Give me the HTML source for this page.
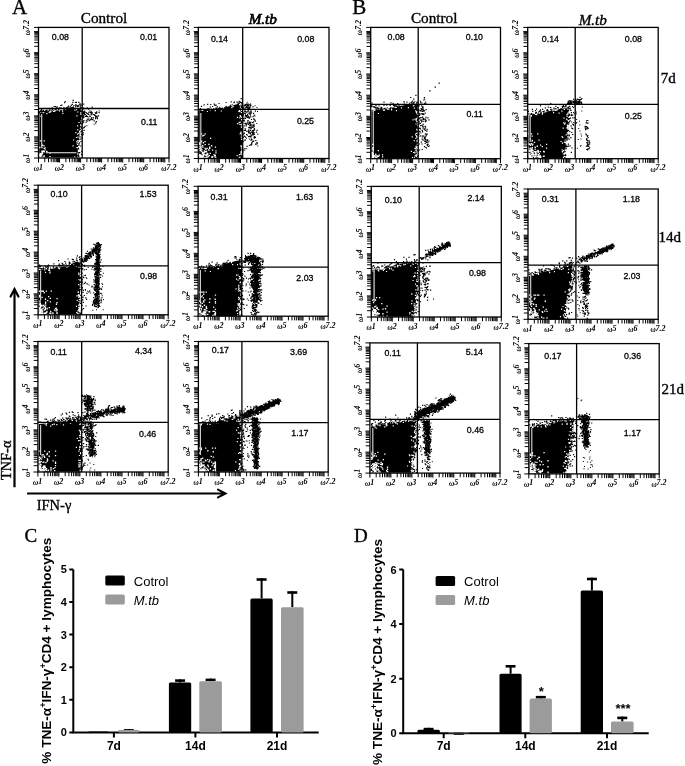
<!DOCTYPE html>
<html><head><meta charset="utf-8"><style>
html,body{margin:0;padding:0;background:#fff;}
svg{display:block;filter:grayscale(1) blur(0.3px);}
.tl{font-family:"Liberation Serif",serif;font-size:7.2px;font-style:italic;font-weight:bold;fill:#000;}
.sup{font-size:8px;font-style:italic;font-weight:bold;}
.qn{font-family:"Liberation Sans",sans-serif;font-size:8.8px;fill:#000;stroke:#000;stroke-width:0.3px;}
.ser{font-family:"Liberation Serif",serif;fill:#000;stroke:#000;stroke-width:0.35px;}
.sb{font-family:"Liberation Sans",sans-serif;font-weight:bold;fill:#000;}
.sn{font-family:"Liberation Sans",sans-serif;fill:#000;}
</style></head><body>
<svg width="685" height="766" viewBox="0 0 685 766">

<polygon points="39.5,113 50,111.5 60,110 70,107.5 78,105 81.5,104 81.8,104 81.8,125 79.5,135 78,145 77.5,157.5 39.2,157.5" fill="#000"/>
<path d="M52.6 110.1h1.2v1.2h-1.2zM66.4 107.5h1.2v1.2h-1.2zM61.5 107.9h1.2v1.2h-1.2zM41.2 110.6h1.2v1.2h-1.2zM40.3 111h1.2v1.2h-1.2zM41.9 111.8h1.2v1.2h-1.2zM56.5 106.3h1.2v1.2h-1.2zM44.1 111.1h1.2v1.2h-1.2zM64.1 102.1h1.2v1.2h-1.2zM63.2 107.4h1.2v1.2h-1.2zM79.9 103.6h1.2v1.2h-1.2zM74.9 104.5h1.2v1.2h-1.2zM45 111.3h1.2v1.2h-1.2zM51.5 107.2h1.2v1.2h-1.2zM46.4 109.6h1.2v1.2h-1.2zM65.8 106.9h1.2v1.2h-1.2zM62.1 108.6h1.2v1.2h-1.2zM41.4 111.6h1.2v1.2h-1.2zM67.4 106.2h1.2v1.2h-1.2zM52 108.7h1.2v1.2h-1.2zM58.1 108.9h1.2v1.2h-1.2zM71.7 103.7h1.2v1.2h-1.2zM49.1 109.2h1.2v1.2h-1.2zM60.2 104.9h1.2v1.2h-1.2zM69.6 106.1h1.2v1.2h-1.2zM80 103.4h1.2v1.2h-1.2zM56.3 107h1.2v1.2h-1.2zM45.2 110.1h1.2v1.2h-1.2zM40.3 110h1.2v1.2h-1.2zM70.7 104.7h1.2v1.2h-1.2zM75.5 104.2h1.2v1.2h-1.2zM67.9 105.4h1.2v1.2h-1.2zM63.2 107.2h1.2v1.2h-1.2zM72.6 99.8h1.2v1.2h-1.2zM58.8 107.3h1.2v1.2h-1.2zM41.1 109.6h1.2v1.2h-1.2zM64.6 100.9h1.2v1.2h-1.2zM73.4 105h1.2v1.2h-1.2zM55 107.8h1.2v1.2h-1.2zM39.7 111h1.2v1.2h-1.2zM46 111.1h1.2v1.2h-1.2zM41 109.1h1.2v1.2h-1.2zM44.3 111h1.2v1.2h-1.2zM54.9 105.9h1.2v1.2h-1.2zM42.2 110.7h1.2v1.2h-1.2zM61.2 104.5h1.2v1.2h-1.2zM72.3 101.8h1.2v1.2h-1.2zM50.6 109.6h1.2v1.2h-1.2zM53.5 105.9h1.2v1.2h-1.2zM79.1 103.6h1.2v1.2h-1.2zM46.3 110.8h1.2v1.2h-1.2zM48.7 109.7h1.2v1.2h-1.2zM63.8 107.7h1.2v1.2h-1.2zM38.9 111.3h1.2v1.2h-1.2zM54.4 108.5h1.2v1.2h-1.2zM78.3 101.7h1.2v1.2h-1.2zM60.4 107.2h1.2v1.2h-1.2zM67.5 107.3h1.2v1.2h-1.2zM75.8 101.7h1.2v1.2h-1.2zM74.8 101.9h1.2v1.2h-1.2zM55.5 109h1.2v1.2h-1.2zM43 109.8h1.2v1.2h-1.2zM41.5 111.9h1.2v1.2h-1.2zM47.7 110.8h1.2v1.2h-1.2zM53.4 110.2h1.2v1.2h-1.2zM38.9 112.1h1.2v1.2h-1.2zM43.1 110.9h1.2v1.2h-1.2zM39.4 108.1h1.2v1.2h-1.2z" fill="#000"/>
<path d="M65 108.2h1.2v1.2h-1.2zM49.7 111.4h1.2v1.2h-1.2zM54.4 110.3h1.2v1.2h-1.2zM75.9 109.1h1.2v1.2h-1.2zM58.9 110.3h1.2v1.2h-1.2zM42.6 112h1.2v1.2h-1.2zM53.6 110.7h1.2v1.2h-1.2zM73.9 105.7h1.2v1.2h-1.2zM40.4 115.8h1.2v1.2h-1.2zM61.4 109.1h1.2v1.2h-1.2zM62 108.8h1.2v1.2h-1.2zM62.3 112.8h1.2v1.2h-1.2zM75.7 106.4h1.2v1.2h-1.2zM50.1 111.3h1.2v1.2h-1.2zM46.3 113.1h1.2v1.2h-1.2zM62 110.6h1.2v1.2h-1.2zM53 110.7h1.2v1.2h-1.2zM74.3 109.6h1.2v1.2h-1.2zM75.4 107.1h1.2v1.2h-1.2zM73.9 107.2h1.2v1.2h-1.2zM48.7 111.9h1.2v1.2h-1.2z" fill="#fff"/>
<path d="M81.2 122.6h1.2v1.2h-1.2zM81.6 104.9h1.2v1.2h-1.2zM82.6 117.4h1.2v1.2h-1.2zM77.7 154.6h1.2v1.2h-1.2zM81 153.7h1.2v1.2h-1.2zM77.5 154.5h1.2v1.2h-1.2zM81.5 115.3h1.2v1.2h-1.2zM81.5 114h1.2v1.2h-1.2zM81.3 137.1h1.2v1.2h-1.2zM78 148.3h1.2v1.2h-1.2zM80.2 138.6h1.2v1.2h-1.2zM82.5 108h1.2v1.2h-1.2zM78.9 152.1h1.2v1.2h-1.2zM78.3 143.6h1.2v1.2h-1.2zM83.1 113h1.2v1.2h-1.2zM83.1 121.3h1.2v1.2h-1.2zM77.6 155.4h1.2v1.2h-1.2zM84.5 125.8h1.2v1.2h-1.2zM78 142.1h1.2v1.2h-1.2zM81.4 110.2h1.2v1.2h-1.2zM79.1 151.9h1.2v1.2h-1.2zM83.3 111.3h1.2v1.2h-1.2zM78.2 155.9h1.2v1.2h-1.2zM82.2 122.3h1.2v1.2h-1.2zM81.2 110.5h1.2v1.2h-1.2zM78.2 155.4h1.2v1.2h-1.2zM82.7 132.3h1.2v1.2h-1.2zM83.1 127.3h1.2v1.2h-1.2zM77.6 147.6h1.2v1.2h-1.2zM81.6 117h1.2v1.2h-1.2zM82.3 116.4h1.2v1.2h-1.2zM81.9 117.4h1.2v1.2h-1.2zM84.1 110.5h1.2v1.2h-1.2zM81.9 122.5h1.2v1.2h-1.2zM81.7 135h1.2v1.2h-1.2zM83.7 126.7h1.2v1.2h-1.2zM80.7 130.5h1.2v1.2h-1.2zM79.6 131.4h1.2v1.2h-1.2zM80.8 127.1h1.2v1.2h-1.2zM83.1 103.6h1.2v1.2h-1.2zM82 112.7h1.2v1.2h-1.2zM78.7 142.3h1.2v1.2h-1.2zM82.1 121h1.2v1.2h-1.2zM81 133.5h1.2v1.2h-1.2zM82.2 109.1h1.2v1.2h-1.2zM81.6 116.8h1.2v1.2h-1.2zM78.2 144.7h1.2v1.2h-1.2zM80.8 133.8h1.2v1.2h-1.2zM77.8 152.2h1.2v1.2h-1.2zM79.5 136.2h1.2v1.2h-1.2zM81.1 131.1h1.2v1.2h-1.2zM81.3 127.9h1.2v1.2h-1.2zM83.5 129.8h1.2v1.2h-1.2zM80.4 141.1h1.2v1.2h-1.2zM77.4 153.8h1.2v1.2h-1.2zM82.5 134.1h1.2v1.2h-1.2zM77.4 148.3h1.2v1.2h-1.2zM81.9 110h1.2v1.2h-1.2zM81.5 107.3h1.2v1.2h-1.2zM82.5 107.3h1.2v1.2h-1.2zM80.1 145.4h1.2v1.2h-1.2zM82.7 111.7h1.2v1.2h-1.2zM78.4 138.7h1.2v1.2h-1.2zM81.1 150.8h1.2v1.2h-1.2z" fill="#000"/>
<path d="M76.3 115.2h1.2v1.2h-1.2zM80.1 124.6h1.2v1.2h-1.2zM74.1 156.2h1.2v1.2h-1.2zM80.3 112.1h1.2v1.2h-1.2zM79 130.9h1.2v1.2h-1.2zM80.6 113.9h1.2v1.2h-1.2zM77.7 142h1.2v1.2h-1.2zM78.3 132.8h1.2v1.2h-1.2zM80.6 104.4h1.2v1.2h-1.2zM77.4 136.6h1.2v1.2h-1.2zM76.2 106.9h1.2v1.2h-1.2zM72.4 145.3h1.2v1.2h-1.2zM80.7 109h1.2v1.2h-1.2zM78.8 105.5h1.2v1.2h-1.2zM81 118h1.2v1.2h-1.2zM77 125.2h1.2v1.2h-1.2zM76.8 147.1h1.2v1.2h-1.2zM77.2 111.4h1.2v1.2h-1.2zM77.1 133.5h1.2v1.2h-1.2zM81.1 108.2h1.2v1.2h-1.2zM77.2 140h1.2v1.2h-1.2zM76.7 107.3h1.2v1.2h-1.2zM75.9 136.9h1.2v1.2h-1.2zM78.1 107.9h1.2v1.2h-1.2zM78 107h1.2v1.2h-1.2zM79.8 127.6h1.2v1.2h-1.2zM75.2 132h1.2v1.2h-1.2zM81 117.8h1.2v1.2h-1.2zM79.1 131.5h1.2v1.2h-1.2zM80.9 109.3h1.2v1.2h-1.2zM80.8 106.1h1.2v1.2h-1.2zM80.6 120.2h1.2v1.2h-1.2zM76.9 143.9h1.2v1.2h-1.2zM79.6 130.1h1.2v1.2h-1.2zM81.2 122.1h1.2v1.2h-1.2zM81.2 116.9h1.2v1.2h-1.2zM76.4 142.4h1.2v1.2h-1.2zM80.2 113.6h1.2v1.2h-1.2zM76.9 153.4h1.2v1.2h-1.2zM76.4 147.1h1.2v1.2h-1.2zM77.1 129.3h1.2v1.2h-1.2zM80.1 124.3h1.2v1.2h-1.2zM73.1 139.4h1.2v1.2h-1.2zM78.3 121.9h1.2v1.2h-1.2zM76.3 140.9h1.2v1.2h-1.2zM80.4 125h1.2v1.2h-1.2zM81 106.3h1.2v1.2h-1.2zM79 107.2h1.2v1.2h-1.2z" fill="#fff"/>
<path d="M39.9 155.9h1.3v1.3h-1.3zM39.2 146.7h1.3v1.3h-1.3zM46 150.7h1.3v1.3h-1.3zM40 155.3h1.3v1.3h-1.3zM40.1 153.5h1.3v1.3h-1.3zM39.4 153.6h1.3v1.3h-1.3zM39.9 140.3h1.3v1.3h-1.3zM49.4 152.5h1.3v1.3h-1.3zM39.8 140.3h1.3v1.3h-1.3zM40.1 154.4h1.3v1.3h-1.3zM38.9 154.2h1.3v1.3h-1.3zM41.1 153h1.3v1.3h-1.3zM39.6 153h1.3v1.3h-1.3zM38.9 155.2h1.3v1.3h-1.3zM39.2 154h1.3v1.3h-1.3zM39 156.7h1.3v1.3h-1.3zM40.1 155.4h1.3v1.3h-1.3zM41.9 152.7h1.3v1.3h-1.3zM43.7 151h1.3v1.3h-1.3zM43.3 145.2h1.3v1.3h-1.3zM40.6 154.7h1.3v1.3h-1.3zM49.4 156h1.3v1.3h-1.3zM43.4 151.2h1.3v1.3h-1.3zM39 146.9h1.3v1.3h-1.3zM46.6 151.4h1.3v1.3h-1.3zM43.5 147.7h1.3v1.3h-1.3zM39.4 152.8h1.3v1.3h-1.3zM41.3 146.9h1.3v1.3h-1.3zM44.6 147.2h1.3v1.3h-1.3zM41.9 144.6h1.3v1.3h-1.3zM42.9 150.3h1.3v1.3h-1.3zM39.8 156.7h1.3v1.3h-1.3zM39.3 154.4h1.3v1.3h-1.3zM39.2 146.9h1.3v1.3h-1.3zM41.7 151.4h1.3v1.3h-1.3zM42.3 150.6h1.3v1.3h-1.3zM41.2 156.8h1.3v1.3h-1.3zM44.4 149.3h1.3v1.3h-1.3zM41.3 152.6h1.3v1.3h-1.3zM42.6 156.5h1.3v1.3h-1.3zM43.5 155.3h1.3v1.3h-1.3zM39.1 155.2h1.3v1.3h-1.3zM43.4 155.6h1.3v1.3h-1.3zM43.6 140.3h1.3v1.3h-1.3zM41.2 154.2h1.3v1.3h-1.3zM41.1 150.5h1.3v1.3h-1.3z" fill="#fff"/>
<path d="M41.7 114V147" stroke="#ccc" stroke-width="1.2"/>
<path d="M45.8 152.7H76.4" stroke="#ccc" stroke-width="1.2"/>
<path d="M95.1 112.7h1.2v1.2h-1.2zM84.7 113.9h1.2v1.2h-1.2zM95 115.3h1.2v1.2h-1.2zM83.4 114.2h1.2v1.2h-1.2zM92.8 113.9h1.2v1.2h-1.2zM89.3 110.4h1.2v1.2h-1.2zM88.6 120.1h1.2v1.2h-1.2zM83.3 119.9h1.2v1.2h-1.2zM86.7 107.3h1.2v1.2h-1.2zM98 115.2h1.2v1.2h-1.2zM85.7 115.1h1.2v1.2h-1.2zM90.9 118.2h1.2v1.2h-1.2zM95.1 122.5h1.2v1.2h-1.2zM88.3 118.6h1.2v1.2h-1.2zM85.4 115.9h1.2v1.2h-1.2zM82.9 115.3h1.2v1.2h-1.2zM90.4 114.3h1.2v1.2h-1.2zM90.5 112.2h1.2v1.2h-1.2zM83 111.6h1.2v1.2h-1.2zM83.3 116.5h1.2v1.2h-1.2zM96.6 116.8h1.2v1.2h-1.2zM87.2 118.5h1.2v1.2h-1.2zM89.9 112.1h1.2v1.2h-1.2zM83.3 116.8h1.2v1.2h-1.2zM86.6 115.7h1.2v1.2h-1.2zM88.3 111.7h1.2v1.2h-1.2zM85.7 120.2h1.2v1.2h-1.2zM96.1 111.3h1.2v1.2h-1.2zM98.5 112.1h1.2v1.2h-1.2zM84.2 111.7h1.2v1.2h-1.2zM94.2 114.6h1.2v1.2h-1.2zM83.9 113.5h1.2v1.2h-1.2zM91.2 113.5h1.2v1.2h-1.2zM92.3 119h1.2v1.2h-1.2zM93.8 114.9h1.2v1.2h-1.2zM89 115.4h1.2v1.2h-1.2zM85 115.9h1.2v1.2h-1.2zM82.1 121h1.2v1.2h-1.2zM89.5 116.1h1.2v1.2h-1.2zM85.7 112h1.2v1.2h-1.2zM87.9 113.6h1.2v1.2h-1.2zM95 117.1h1.2v1.2h-1.2zM90.7 111.5h1.2v1.2h-1.2zM87.5 116.4h1.2v1.2h-1.2zM95.7 121h1.2v1.2h-1.2zM91.2 117.1h1.2v1.2h-1.2zM88.1 113.9h1.2v1.2h-1.2zM86.8 120.4h1.2v1.2h-1.2zM95 118.1h1.2v1.2h-1.2zM91.5 119.1h1.2v1.2h-1.2zM90.1 118.8h1.2v1.2h-1.2zM93.6 120.3h1.2v1.2h-1.2zM96.9 118h1.2v1.2h-1.2zM87.9 108.6h1.2v1.2h-1.2zM95.9 116.4h1.2v1.2h-1.2zM96.1 112.5h1.2v1.2h-1.2zM83.9 112.5h1.2v1.2h-1.2zM96.4 115.5h1.2v1.2h-1.2zM86.5 113.1h1.2v1.2h-1.2zM92.8 117.2h1.2v1.2h-1.2zM91.8 112.3h1.2v1.2h-1.2zM87 113h1.2v1.2h-1.2zM91.6 106.6h1.2v1.2h-1.2z" fill="#000"/>
<path d="M93.6 123.7h1v1h-1zM90.6 110.7h1v1h-1zM86.4 125.2h1v1h-1zM94.7 112.1h1v1h-1zM82.4 116h1v1h-1zM94.1 114.4h1v1h-1zM86.6 119.3h1v1h-1zM98.7 110.5h1v1h-1zM82.6 112.8h1v1h-1zM89.6 119.7h1v1h-1zM85.6 121.9h1v1h-1zM95.3 116.1h1v1h-1z" fill="#000"/>
<rect x="38.5" y="27.4" width="130.5" height="130.6" fill="none" stroke="#000" stroke-width="1.3"/>
<path d="M82.2 27.4V158M38.5 108.5H169" stroke="#000" stroke-width="1.3" fill="none"/>
<path d="M38.5 158v4.5M38.5 158h-4.5M44.8 158v4.2M38.5 151.7h-4.2M48.5 158v4.2M38.5 147.9h-4.2M51.2 158v4.2M38.5 145.3h-4.2M53.2 158v4.2M38.5 143.3h-4.2M54.9 158v4.2M38.5 141.6h-4.2M56.3 158v4.2M38.5 140.2h-4.2M57.5 158v4.2M38.5 139h-4.2M58.6 158v4.2M38.5 137.9h-4.2M59.5 158v4.5M38.5 136.9h-4.5M65.9 158v4.2M38.5 130.6h-4.2M69.6 158v4.2M38.5 126.9h-4.2M72.2 158v4.2M38.5 124.3h-4.2M74.3 158v4.2M38.5 122.2h-4.2M75.9 158v4.2M38.5 120.5h-4.2M77.3 158v4.2M38.5 119.1h-4.2M78.6 158v4.2M38.5 117.9h-4.2M79.6 158v4.2M38.5 116.8h-4.2M80.6 158v4.5M38.5 115.9h-4.5M86.9 158v4.2M38.5 109.5h-4.2M90.6 158v4.2M38.5 105.8h-4.2M93.3 158v4.2M38.5 103.2h-4.2M95.3 158v4.2M38.5 101.1h-4.2M97 158v4.2M38.5 99.5h-4.2M98.4 158v4.2M38.5 98.1h-4.2M99.6 158v4.2M38.5 96.8h-4.2M100.7 158v4.2M38.5 95.8h-4.2M101.6 158v4.5M38.5 94.8h-4.5M108 158v4.2M38.5 88.5h-4.2M111.7 158v4.2M38.5 84.8h-4.2M114.3 158v4.2M38.5 82.1h-4.2M116.4 158v4.2M38.5 80.1h-4.2M118 158v4.2M38.5 78.4h-4.2M119.4 158v4.2M38.5 77h-4.2M120.7 158v4.2M38.5 75.8h-4.2M121.7 158v4.2M38.5 74.7h-4.2M122.7 158v4.5M38.5 73.7h-4.5M129 158v4.2M38.5 67.4h-4.2M132.7 158v4.2M38.5 63.7h-4.2M135.4 158v4.2M38.5 61.1h-4.2M137.4 158v4.2M38.5 59h-4.2M139.1 158v4.2M38.5 57.4h-4.2M140.5 158v4.2M38.5 55.9h-4.2M141.7 158v4.2M38.5 54.7h-4.2M142.8 158v4.2M38.5 53.6h-4.2M143.7 158v4.5M38.5 52.7h-4.5M150.1 158v4.2M38.5 46.3h-4.2M153.8 158v4.2M38.5 42.6h-4.2M156.4 158v4.2M38.5 40h-4.2M158.5 158v4.2M38.5 38h-4.2M160.1 158v4.2M38.5 36.3h-4.2M161.5 158v4.2M38.5 34.9h-4.2M162.8 158v4.2M38.5 33.7h-4.2M163.8 158v4.2M38.5 32.6h-4.2M164.8 158v4.5M38.5 31.6h-4.5M169 158v4.5M38.5 27.4h-4.5" stroke="#000" stroke-width="1" fill="none"/>
<text x="38.3" y="171" class="tl" text-anchor="middle">ω<tspan class="sup" dy="-1.5">1</tspan></text><text transform="translate(30.2 158.3) rotate(-90)" class="tl" text-anchor="middle">ω<tspan class="sup" dy="-1.5">1</tspan></text><text x="59.3" y="171" class="tl" text-anchor="middle">ω<tspan class="sup" dy="-1.5">2</tspan></text><text transform="translate(30.2 137.2) rotate(-90)" class="tl" text-anchor="middle">ω<tspan class="sup" dy="-1.5">2</tspan></text><text x="80.4" y="171" class="tl" text-anchor="middle">ω<tspan class="sup" dy="-1.5">3</tspan></text><text transform="translate(30.2 116.2) rotate(-90)" class="tl" text-anchor="middle">ω<tspan class="sup" dy="-1.5">3</tspan></text><text x="101.4" y="171" class="tl" text-anchor="middle">ω<tspan class="sup" dy="-1.5">4</tspan></text><text transform="translate(30.2 95.1) rotate(-90)" class="tl" text-anchor="middle">ω<tspan class="sup" dy="-1.5">4</tspan></text><text x="122.5" y="171" class="tl" text-anchor="middle">ω<tspan class="sup" dy="-1.5">5</tspan></text><text transform="translate(30.2 74) rotate(-90)" class="tl" text-anchor="middle">ω<tspan class="sup" dy="-1.5">5</tspan></text><text x="143.5" y="171" class="tl" text-anchor="middle">ω<tspan class="sup" dy="-1.5">6</tspan></text><text transform="translate(30.2 53) rotate(-90)" class="tl" text-anchor="middle">ω<tspan class="sup" dy="-1.5">6</tspan></text><text x="168.8" y="171" class="tl" text-anchor="middle">ω<tspan class="sup" dy="-1.5">7.2</tspan></text><text transform="translate(30.2 27.7) rotate(-90)" class="tl" text-anchor="middle">ω<tspan class="sup" dy="-1.5">7.2</tspan></text>
<text x="51.8" y="40.3" class="qn">0.08</text>
<text x="140.1" y="40.3" class="qn">0.01</text>
<text x="141" y="124.8" class="qn">0.11</text>
<polygon points="199.2,110.5 208,109.5 218,108.5 228,106.5 236,104.5 242.5,102.5 242.5,102.5 242.5,140 241.5,150 241,158.3 199.2,158.3" fill="#000"/>
<path d="M207.1 103.7h1.2v1.2h-1.2zM212 105.9h1.2v1.2h-1.2zM208.7 108.4h1.2v1.2h-1.2zM231.6 104.3h1.2v1.2h-1.2zM239.6 101.5h1.2v1.2h-1.2zM206.8 108.6h1.2v1.2h-1.2zM216.7 106.3h1.2v1.2h-1.2zM239.7 102.3h1.2v1.2h-1.2zM215.8 107.7h1.2v1.2h-1.2zM240.7 102h1.2v1.2h-1.2zM200.9 109.5h1.2v1.2h-1.2zM215.5 104.6h1.2v1.2h-1.2zM236.4 101.5h1.2v1.2h-1.2zM240.6 98.1h1.2v1.2h-1.2zM213 108h1.2v1.2h-1.2zM238.6 100.8h1.2v1.2h-1.2zM199.8 108.1h1.2v1.2h-1.2zM215.2 107.4h1.2v1.2h-1.2zM213.1 108h1.2v1.2h-1.2zM198.7 109.4h1.2v1.2h-1.2zM213.6 103.6h1.2v1.2h-1.2zM203.5 104.3h1.2v1.2h-1.2zM207.6 108.2h1.2v1.2h-1.2zM233.7 101.6h1.2v1.2h-1.2zM217.6 107.8h1.2v1.2h-1.2zM219.2 106.8h1.2v1.2h-1.2zM238.4 102.6h1.2v1.2h-1.2zM214.3 104.8h1.2v1.2h-1.2zM199.8 109h1.2v1.2h-1.2zM233.4 102.1h1.2v1.2h-1.2zM200.4 109.6h1.2v1.2h-1.2zM200.9 105.8h1.2v1.2h-1.2zM209.7 106.6h1.2v1.2h-1.2zM237.4 102.6h1.2v1.2h-1.2zM210.1 103.9h1.2v1.2h-1.2zM225.5 105.8h1.2v1.2h-1.2zM229.7 104.7h1.2v1.2h-1.2zM210.7 108.6h1.2v1.2h-1.2zM230.6 101.3h1.2v1.2h-1.2zM225.5 101.9h1.2v1.2h-1.2zM199.6 109.4h1.2v1.2h-1.2zM218.5 102.9h1.2v1.2h-1.2z" fill="#000"/>
<path d="M240.1 103.1h1.2v1.2h-1.2zM209.7 109.3h1.2v1.2h-1.2zM220.8 110.4h1.2v1.2h-1.2zM206.8 110.9h1.2v1.2h-1.2zM231.3 107.1h1.2v1.2h-1.2zM232.5 105.8h1.2v1.2h-1.2zM213 108.8h1.2v1.2h-1.2zM214.7 110h1.2v1.2h-1.2zM202.1 109.8h1.2v1.2h-1.2zM231.5 105.2h1.2v1.2h-1.2zM201.4 109.6h1.2v1.2h-1.2zM222.9 107.3h1.2v1.2h-1.2zM241.8 104.6h1.2v1.2h-1.2z" fill="#fff"/>
<path d="M241 157.1h1.2v1.2h-1.2zM242.1 106.6h1.2v1.2h-1.2zM244.1 129.7h1.2v1.2h-1.2zM242.4 126.9h1.2v1.2h-1.2zM243.6 125.2h1.2v1.2h-1.2zM244.4 139.8h1.2v1.2h-1.2zM242.9 149.4h1.2v1.2h-1.2zM245.2 108.7h1.2v1.2h-1.2zM243.4 118.3h1.2v1.2h-1.2zM244.3 122.7h1.2v1.2h-1.2zM242.4 113h1.2v1.2h-1.2zM242.2 115.6h1.2v1.2h-1.2zM242.3 151.3h1.2v1.2h-1.2zM242.8 120.1h1.2v1.2h-1.2zM241.7 157.4h1.2v1.2h-1.2zM244.9 114.8h1.2v1.2h-1.2zM248.9 138.4h1.2v1.2h-1.2zM243.1 107.6h1.2v1.2h-1.2zM244.4 147.9h1.2v1.2h-1.2zM240.8 152.9h1.2v1.2h-1.2zM242.1 118.3h1.2v1.2h-1.2zM248.4 112.5h1.2v1.2h-1.2zM246.7 134.5h1.2v1.2h-1.2zM245.5 122.7h1.2v1.2h-1.2zM242.4 127h1.2v1.2h-1.2zM246.5 145.8h1.2v1.2h-1.2zM243.5 107.8h1.2v1.2h-1.2zM242.3 136.5h1.2v1.2h-1.2zM242.2 122.5h1.2v1.2h-1.2zM242.4 113.3h1.2v1.2h-1.2zM243.8 135.4h1.2v1.2h-1.2zM241.9 113.3h1.2v1.2h-1.2zM243.9 120.2h1.2v1.2h-1.2zM242.6 112.2h1.2v1.2h-1.2zM244.8 113.3h1.2v1.2h-1.2zM242 132.5h1.2v1.2h-1.2zM242.8 107.6h1.2v1.2h-1.2zM243.7 132.6h1.2v1.2h-1.2zM242.2 107h1.2v1.2h-1.2zM242.7 140.8h1.2v1.2h-1.2zM242.6 117.7h1.2v1.2h-1.2zM241.2 155.1h1.2v1.2h-1.2zM242.7 133.5h1.2v1.2h-1.2zM245.5 125.2h1.2v1.2h-1.2zM241.2 157.6h1.2v1.2h-1.2zM244.2 112.9h1.2v1.2h-1.2zM241.9 113.3h1.2v1.2h-1.2zM241.7 152.3h1.2v1.2h-1.2zM242 147.8h1.2v1.2h-1.2zM241.9 151.2h1.2v1.2h-1.2zM241.9 111h1.2v1.2h-1.2zM243.7 132.7h1.2v1.2h-1.2zM240.9 152.7h1.2v1.2h-1.2zM242.7 136.7h1.2v1.2h-1.2zM242.2 130.1h1.2v1.2h-1.2zM243.2 117.7h1.2v1.2h-1.2zM240.9 153.6h1.2v1.2h-1.2zM244.8 129.3h1.2v1.2h-1.2zM240.9 155.9h1.2v1.2h-1.2zM247.1 109h1.2v1.2h-1.2zM241.7 156.4h1.2v1.2h-1.2zM246.6 104.9h1.2v1.2h-1.2zM246.1 123.6h1.2v1.2h-1.2zM245 136.6h1.2v1.2h-1.2zM244.7 110.9h1.2v1.2h-1.2zM242.8 114.3h1.2v1.2h-1.2zM244.1 149.4h1.2v1.2h-1.2z" fill="#000"/>
<path d="M241.5 112.1h1.2v1.2h-1.2zM240.7 124.2h1.2v1.2h-1.2zM241.7 123.3h1.2v1.2h-1.2zM239.8 115.7h1.2v1.2h-1.2zM240.7 152h1.2v1.2h-1.2zM239.6 133.3h1.2v1.2h-1.2zM239 104h1.2v1.2h-1.2zM240.4 108.5h1.2v1.2h-1.2zM240.3 132.6h1.2v1.2h-1.2zM241 119h1.2v1.2h-1.2zM241 134.4h1.2v1.2h-1.2zM241 138.7h1.2v1.2h-1.2zM241.9 126.4h1.2v1.2h-1.2zM240.8 136.5h1.2v1.2h-1.2zM239.6 115h1.2v1.2h-1.2zM240.3 145.3h1.2v1.2h-1.2zM240.9 111.9h1.2v1.2h-1.2zM241.7 107.9h1.2v1.2h-1.2zM241.7 126h1.2v1.2h-1.2zM240.8 126.6h1.2v1.2h-1.2zM240.3 104.2h1.2v1.2h-1.2zM239.8 106.5h1.2v1.2h-1.2zM240.2 145.2h1.2v1.2h-1.2zM240.8 104.9h1.2v1.2h-1.2zM237.1 123h1.2v1.2h-1.2zM238.8 109.5h1.2v1.2h-1.2zM238.3 157.4h1.2v1.2h-1.2zM240.8 147.4h1.2v1.2h-1.2zM239.4 156.6h1.2v1.2h-1.2zM236.6 155h1.2v1.2h-1.2zM239.4 111.1h1.2v1.2h-1.2zM240.5 153.8h1.2v1.2h-1.2zM239.6 121.5h1.2v1.2h-1.2zM238.3 110.8h1.2v1.2h-1.2zM239.2 117.3h1.2v1.2h-1.2zM240.8 109.9h1.2v1.2h-1.2zM240.3 153.2h1.2v1.2h-1.2zM240.8 116.6h1.2v1.2h-1.2zM241.8 119.7h1.2v1.2h-1.2zM241.6 112.1h1.2v1.2h-1.2zM238.8 154h1.2v1.2h-1.2zM240.5 151.9h1.2v1.2h-1.2zM241.1 145.7h1.2v1.2h-1.2zM240.3 131.5h1.2v1.2h-1.2zM238.6 122h1.2v1.2h-1.2zM240.5 132.9h1.2v1.2h-1.2zM240.6 151.1h1.2v1.2h-1.2zM238.8 157.2h1.2v1.2h-1.2zM239.3 123.9h1.2v1.2h-1.2zM236.9 116.7h1.2v1.2h-1.2z" fill="#fff"/>
<path d="M203.6 153.8h1.3v1.3h-1.3zM206.8 152.7h1.3v1.3h-1.3zM199.9 146.5h1.3v1.3h-1.3zM199.1 143.6h1.3v1.3h-1.3zM200.5 149.2h1.3v1.3h-1.3zM215.3 150.3h1.3v1.3h-1.3zM204.8 154.4h1.3v1.3h-1.3zM198.9 157.1h1.3v1.3h-1.3zM199.7 149.7h1.3v1.3h-1.3zM202 151.6h1.3v1.3h-1.3zM211.3 156.2h1.3v1.3h-1.3zM200.3 148.9h1.3v1.3h-1.3zM199 157.3h1.3v1.3h-1.3zM201.3 156.5h1.3v1.3h-1.3zM201.3 155.3h1.3v1.3h-1.3zM203.7 150.2h1.3v1.3h-1.3zM200.1 149.5h1.3v1.3h-1.3zM202.4 156.2h1.3v1.3h-1.3zM214 155.1h1.3v1.3h-1.3zM199.7 156.5h1.3v1.3h-1.3zM204.4 140.9h1.3v1.3h-1.3zM207.2 153.2h1.3v1.3h-1.3zM200.5 157.3h1.3v1.3h-1.3zM204.5 150.7h1.3v1.3h-1.3zM201.2 149.1h1.3v1.3h-1.3zM202.1 135.2h1.3v1.3h-1.3zM206.1 155.1h1.3v1.3h-1.3zM211.7 157h1.3v1.3h-1.3zM203 153.2h1.3v1.3h-1.3zM200.3 156.9h1.3v1.3h-1.3zM207.1 157.3h1.3v1.3h-1.3zM203.3 134.7h1.3v1.3h-1.3zM199.7 155.6h1.3v1.3h-1.3zM204 151.7h1.3v1.3h-1.3zM204.5 143.9h1.3v1.3h-1.3zM199.9 154.4h1.3v1.3h-1.3zM200.8 157h1.3v1.3h-1.3zM211 145.1h1.3v1.3h-1.3zM205.8 157.3h1.3v1.3h-1.3zM209.1 146.4h1.3v1.3h-1.3zM202.3 146.5h1.3v1.3h-1.3zM202.2 155.3h1.3v1.3h-1.3zM199.5 155.2h1.3v1.3h-1.3zM199.1 154.1h1.3v1.3h-1.3zM206.5 147.8h1.3v1.3h-1.3zM209.1 147.4h1.3v1.3h-1.3zM200.6 150.9h1.3v1.3h-1.3zM202 144.9h1.3v1.3h-1.3zM202.9 154.9h1.3v1.3h-1.3zM204.5 133.3h1.3v1.3h-1.3zM200.2 140.4h1.3v1.3h-1.3zM198.9 154.9h1.3v1.3h-1.3zM200.3 146.5h1.3v1.3h-1.3zM214.8 146.4h1.3v1.3h-1.3zM201 140.4h1.3v1.3h-1.3zM201 155.2h1.3v1.3h-1.3zM211.9 149.4h1.3v1.3h-1.3zM205.3 148.6h1.3v1.3h-1.3zM215.3 152.3h1.3v1.3h-1.3zM208.9 147.8h1.3v1.3h-1.3zM209.6 152.8h1.3v1.3h-1.3zM205.9 150.6h1.3v1.3h-1.3zM200.9 155.4h1.3v1.3h-1.3zM204.2 156.7h1.3v1.3h-1.3zM212.1 156.1h1.3v1.3h-1.3zM199 156.4h1.3v1.3h-1.3zM213.4 154h1.3v1.3h-1.3zM199.7 157.1h1.3v1.3h-1.3zM199.1 147.9h1.3v1.3h-1.3zM204.4 147.8h1.3v1.3h-1.3zM206.2 156.8h1.3v1.3h-1.3zM203.8 153.7h1.3v1.3h-1.3zM208.2 143.7h1.3v1.3h-1.3zM211.1 156.8h1.3v1.3h-1.3zM210 137.7h1.3v1.3h-1.3zM214.7 156.4h1.3v1.3h-1.3zM200.1 156.4h1.3v1.3h-1.3zM199 142.3h1.3v1.3h-1.3zM208 149.3h1.3v1.3h-1.3zM208.4 149.4h1.3v1.3h-1.3zM200.7 156.5h1.3v1.3h-1.3zM199.4 146h1.3v1.3h-1.3zM200.1 154.3h1.3v1.3h-1.3zM201.9 157.2h1.3v1.3h-1.3zM200.5 154.7h1.3v1.3h-1.3zM205.8 153.7h1.3v1.3h-1.3zM201 133.3h1.3v1.3h-1.3zM202.7 142.1h1.3v1.3h-1.3zM204.1 157.1h1.3v1.3h-1.3zM201.8 152.8h1.3v1.3h-1.3zM207 153.9h1.3v1.3h-1.3zM205.6 151.2h1.3v1.3h-1.3zM200.2 141.5h1.3v1.3h-1.3zM199.4 143.6h1.3v1.3h-1.3zM199.9 157.3h1.3v1.3h-1.3zM200.1 145.9h1.3v1.3h-1.3zM215.3 157.3h1.3v1.3h-1.3zM202.6 151.9h1.3v1.3h-1.3zM207.6 155.7h1.3v1.3h-1.3zM202.6 153.9h1.3v1.3h-1.3zM208.7 154.9h1.3v1.3h-1.3zM214.7 154.7h1.3v1.3h-1.3zM200.2 147.7h1.3v1.3h-1.3zM202.6 156.4h1.3v1.3h-1.3zM204.4 156.7h1.3v1.3h-1.3z" fill="#fff"/>
<path d="M200.8 113V150" stroke="#ccc" stroke-width="1.2"/>
<path d="M252.7 132.9h1.2v1.2h-1.2zM251.9 126.6h1.2v1.2h-1.2zM248 116.2h1.2v1.2h-1.2zM250.5 139.5h1.2v1.2h-1.2zM245.6 111.2h1.2v1.2h-1.2zM247.3 115.5h1.2v1.2h-1.2zM253.2 118.2h1.2v1.2h-1.2zM252.5 131.7h1.2v1.2h-1.2zM245.9 114.9h1.2v1.2h-1.2zM250.5 127.6h1.2v1.2h-1.2zM248.5 117.3h1.2v1.2h-1.2zM252.4 106.3h1.2v1.2h-1.2zM247.2 110.9h1.2v1.2h-1.2zM250 129.8h1.2v1.2h-1.2zM247.6 108.2h1.2v1.2h-1.2zM248.5 122.2h1.2v1.2h-1.2zM243.7 109.1h1.2v1.2h-1.2zM246.2 106.2h1.2v1.2h-1.2zM244.3 116.4h1.2v1.2h-1.2zM252.5 131.3h1.2v1.2h-1.2zM249.1 127.3h1.2v1.2h-1.2zM246.3 116.5h1.2v1.2h-1.2zM252.3 133.4h1.2v1.2h-1.2zM251.6 126.5h1.2v1.2h-1.2zM253.6 125.3h1.2v1.2h-1.2zM255.3 140.1h1.2v1.2h-1.2zM252.7 132.1h1.2v1.2h-1.2zM247.7 130.6h1.2v1.2h-1.2zM248.4 129.4h1.2v1.2h-1.2zM252.4 126.9h1.2v1.2h-1.2zM248.2 127.1h1.2v1.2h-1.2zM252 132.9h1.2v1.2h-1.2zM250.5 110.7h1.2v1.2h-1.2zM253.4 126.1h1.2v1.2h-1.2zM251.1 142.3h1.2v1.2h-1.2zM253.6 133.7h1.2v1.2h-1.2zM249.8 144.3h1.2v1.2h-1.2zM246.2 106.6h1.2v1.2h-1.2zM247 122.3h1.2v1.2h-1.2zM250.2 121.7h1.2v1.2h-1.2zM248.8 126.5h1.2v1.2h-1.2zM247.3 117h1.2v1.2h-1.2zM254 129.2h1.2v1.2h-1.2zM245.1 107h1.2v1.2h-1.2zM247.6 105.5h1.2v1.2h-1.2zM249.3 104.1h1.2v1.2h-1.2zM252 129.9h1.2v1.2h-1.2zM248 108.4h1.2v1.2h-1.2zM248.9 123h1.2v1.2h-1.2zM248.5 116.5h1.2v1.2h-1.2zM249.9 132.9h1.2v1.2h-1.2zM250.9 118.9h1.2v1.2h-1.2zM254.9 143.4h1.2v1.2h-1.2zM250.4 135.2h1.2v1.2h-1.2zM249.4 112.1h1.2v1.2h-1.2zM254.8 136.9h1.2v1.2h-1.2zM249.5 111.5h1.2v1.2h-1.2zM248.9 117.6h1.2v1.2h-1.2zM251.4 131.2h1.2v1.2h-1.2zM250.9 112.3h1.2v1.2h-1.2zM251.5 126.2h1.2v1.2h-1.2zM251.9 141.2h1.2v1.2h-1.2zM248 136h1.2v1.2h-1.2zM245.6 106.7h1.2v1.2h-1.2zM241 105.2h1.2v1.2h-1.2zM250.5 128h1.2v1.2h-1.2zM247.2 108.3h1.2v1.2h-1.2zM245.6 115.8h1.2v1.2h-1.2zM249 135.7h1.2v1.2h-1.2zM249.3 124.7h1.2v1.2h-1.2zM250.9 138.5h1.2v1.2h-1.2zM248.7 108.1h1.2v1.2h-1.2zM255.9 131.6h1.2v1.2h-1.2zM250 123.5h1.2v1.2h-1.2zM248.3 107h1.2v1.2h-1.2zM247.5 120h1.2v1.2h-1.2zM254.2 119.6h1.2v1.2h-1.2zM245.4 103.7h1.2v1.2h-1.2zM252.1 122.1h1.2v1.2h-1.2zM254.3 115.4h1.2v1.2h-1.2zM249.4 104.4h1.2v1.2h-1.2zM249.9 103.4h1.2v1.2h-1.2zM256.1 142.4h1.2v1.2h-1.2zM254.8 120.5h1.2v1.2h-1.2zM247.6 103.6h1.2v1.2h-1.2zM246.9 113.8h1.2v1.2h-1.2zM253.4 118.8h1.2v1.2h-1.2zM250.2 109.3h1.2v1.2h-1.2zM248.8 122.7h1.2v1.2h-1.2zM254.2 136.1h1.2v1.2h-1.2zM254.8 110.5h1.2v1.2h-1.2zM249.8 127.2h1.2v1.2h-1.2zM249.5 113.8h1.2v1.2h-1.2zM250.1 126.6h1.2v1.2h-1.2zM248.5 130.7h1.2v1.2h-1.2zM247.2 104.9h1.2v1.2h-1.2zM244.7 108.8h1.2v1.2h-1.2zM249 126.7h1.2v1.2h-1.2zM252.7 124.7h1.2v1.2h-1.2zM253.7 128.7h1.2v1.2h-1.2zM249.1 108.7h1.2v1.2h-1.2zM250 133.2h1.2v1.2h-1.2zM246.1 103.4h1.2v1.2h-1.2zM253.7 128h1.2v1.2h-1.2zM253.1 133.6h1.2v1.2h-1.2zM250.2 112.6h1.2v1.2h-1.2zM252.5 116.1h1.2v1.2h-1.2zM247.8 104.8h1.2v1.2h-1.2zM246.1 106h1.2v1.2h-1.2zM252.8 140.7h1.2v1.2h-1.2zM253.5 114.5h1.2v1.2h-1.2zM255.4 143.7h1.2v1.2h-1.2zM248.3 105.6h1.2v1.2h-1.2zM247.3 107.6h1.2v1.2h-1.2zM246.2 130.8h1.2v1.2h-1.2zM246.3 105.6h1.2v1.2h-1.2zM247.3 103.7h1.2v1.2h-1.2zM250.7 131.6h1.2v1.2h-1.2zM252.2 132.1h1.2v1.2h-1.2zM248 132.1h1.2v1.2h-1.2zM256.5 129.8h1.2v1.2h-1.2zM244.1 111.3h1.2v1.2h-1.2zM243.5 104.7h1.2v1.2h-1.2zM249.8 136.1h1.2v1.2h-1.2zM248.7 132.6h1.2v1.2h-1.2zM247.2 120.6h1.2v1.2h-1.2zM253.4 123.8h1.2v1.2h-1.2zM246.7 106.9h1.2v1.2h-1.2zM252.1 126.5h1.2v1.2h-1.2zM247.2 114.7h1.2v1.2h-1.2zM253.2 133.4h1.2v1.2h-1.2zM243.3 105.5h1.2v1.2h-1.2zM253.5 136.5h1.2v1.2h-1.2zM251.1 143.3h1.2v1.2h-1.2zM253 112.7h1.2v1.2h-1.2zM249.9 114.6h1.2v1.2h-1.2zM251.4 139.2h1.2v1.2h-1.2zM247.3 104.6h1.2v1.2h-1.2zM247.8 123.7h1.2v1.2h-1.2zM244.7 104.1h1.2v1.2h-1.2zM253.7 137.6h1.2v1.2h-1.2zM250.4 136.6h1.2v1.2h-1.2zM253 140.6h1.2v1.2h-1.2zM249.2 122.7h1.2v1.2h-1.2zM249.5 132.3h1.2v1.2h-1.2zM251.3 124.6h1.2v1.2h-1.2zM248 110.2h1.2v1.2h-1.2zM252.5 134.2h1.2v1.2h-1.2zM251.2 134.6h1.2v1.2h-1.2zM245.7 124h1.2v1.2h-1.2zM252.9 121.2h1.2v1.2h-1.2zM247.2 109.1h1.2v1.2h-1.2zM252.9 130.1h1.2v1.2h-1.2zM250.2 116.3h1.2v1.2h-1.2zM244.7 105.1h1.2v1.2h-1.2zM250.1 105h1.2v1.2h-1.2zM249.4 107.1h1.2v1.2h-1.2zM248.9 121.6h1.2v1.2h-1.2zM250.9 144.3h1.2v1.2h-1.2zM250.3 124.6h1.2v1.2h-1.2zM244.9 117.8h1.2v1.2h-1.2zM249.8 135.8h1.2v1.2h-1.2z" fill="#000"/>
<path d="M244.5 110h1v1h-1zM246.5 104.2h1v1h-1zM244.7 127.9h1v1h-1zM256.2 122.9h1v1h-1zM257.3 145.5h1v1h-1zM244.9 129.9h1v1h-1zM249.6 106h1v1h-1zM251.9 132h1v1h-1zM257.4 133.5h1v1h-1zM249.5 122.4h1v1h-1zM246.2 148.3h1v1h-1zM244.5 112.8h1v1h-1zM248.9 145.1h1v1h-1zM256.7 141.9h1v1h-1zM244.7 139.3h1v1h-1zM253.9 132.3h1v1h-1zM246 137.7h1v1h-1zM257.2 133.8h1v1h-1zM248.2 129.6h1v1h-1zM254.6 105.3h1v1h-1zM248.5 112.9h1v1h-1zM245.7 124.1h1v1h-1zM246.4 111.9h1v1h-1zM246 133.9h1v1h-1zM244.2 135.9h1v1h-1zM246.7 101.8h1v1h-1zM257 111h1v1h-1zM257.1 143.3h1v1h-1zM256.4 107h1v1h-1zM250.3 104.8h1v1h-1z" fill="#000"/>
<rect x="198.3" y="27.4" width="130.7" height="131.1" fill="none" stroke="#000" stroke-width="1.3"/>
<path d="M242.7 27.4V158.5M198.3 109.4H329" stroke="#000" stroke-width="1.3" fill="none"/>
<path d="M198.3 158.5v4.5M198.3 158.5h-4.5M204.6 158.5v4.2M198.3 152.1h-4.2M208.4 158.5v4.2M198.3 148.4h-4.2M211 158.5v4.2M198.3 145.8h-4.2M213 158.5v4.2M198.3 143.7h-4.2M214.7 158.5v4.2M198.3 142h-4.2M216.1 158.5v4.2M198.3 140.6h-4.2M217.3 158.5v4.2M198.3 139.4h-4.2M218.4 158.5v4.2M198.3 138.3h-4.2M219.4 158.5v4.5M198.3 137.4h-4.5M225.7 158.5v4.2M198.3 131h-4.2M229.4 158.5v4.2M198.3 127.3h-4.2M232.1 158.5v4.2M198.3 124.6h-4.2M234.1 158.5v4.2M198.3 122.6h-4.2M235.8 158.5v4.2M198.3 120.9h-4.2M237.2 158.5v4.2M198.3 119.5h-4.2M238.4 158.5v4.2M198.3 118.3h-4.2M239.5 158.5v4.2M198.3 117.2h-4.2M240.5 158.5v4.5M198.3 116.2h-4.5M246.8 158.5v4.2M198.3 109.8h-4.2M250.5 158.5v4.2M198.3 106.1h-4.2M253.2 158.5v4.2M198.3 103.5h-4.2M255.2 158.5v4.2M198.3 101.4h-4.2M256.9 158.5v4.2M198.3 99.8h-4.2M258.3 158.5v4.2M198.3 98.3h-4.2M259.5 158.5v4.2M198.3 97.1h-4.2M260.6 158.5v4.2M198.3 96h-4.2M261.5 158.5v4.5M198.3 95.1h-4.5M267.9 158.5v4.2M198.3 88.7h-4.2M271.6 158.5v4.2M198.3 85h-4.2M274.2 158.5v4.2M198.3 82.3h-4.2M276.3 158.5v4.2M198.3 80.3h-4.2M277.9 158.5v4.2M198.3 78.6h-4.2M279.4 158.5v4.2M198.3 77.2h-4.2M280.6 158.5v4.2M198.3 76h-4.2M281.7 158.5v4.2M198.3 74.9h-4.2M282.6 158.5v4.5M198.3 73.9h-4.5M289 158.5v4.2M198.3 67.6h-4.2M292.7 158.5v4.2M198.3 63.8h-4.2M295.3 158.5v4.2M198.3 61.2h-4.2M297.4 158.5v4.2M198.3 59.1h-4.2M299 158.5v4.2M198.3 57.5h-4.2M300.4 158.5v4.2M198.3 56h-4.2M301.7 158.5v4.2M198.3 54.8h-4.2M302.7 158.5v4.2M198.3 53.7h-4.2M303.7 158.5v4.5M198.3 52.8h-4.5M310 158.5v4.2M198.3 46.4h-4.2M313.8 158.5v4.2M198.3 42.7h-4.2M316.4 158.5v4.2M198.3 40h-4.2M318.4 158.5v4.2M198.3 38h-4.2M320.1 158.5v4.2M198.3 36.3h-4.2M321.5 158.5v4.2M198.3 34.9h-4.2M322.7 158.5v4.2M198.3 33.7h-4.2M323.8 158.5v4.2M198.3 32.6h-4.2M324.8 158.5v4.5M198.3 31.6h-4.5M329 158.5v4.5M198.3 27.4h-4.5" stroke="#000" stroke-width="1" fill="none"/>
<text x="198.1" y="171.5" class="tl" text-anchor="middle">ω<tspan class="sup" dy="-1.5">1</tspan></text><text transform="translate(190 158.8) rotate(-90)" class="tl" text-anchor="middle">ω<tspan class="sup" dy="-1.5">1</tspan></text><text x="219.2" y="171.5" class="tl" text-anchor="middle">ω<tspan class="sup" dy="-1.5">2</tspan></text><text transform="translate(190 137.7) rotate(-90)" class="tl" text-anchor="middle">ω<tspan class="sup" dy="-1.5">2</tspan></text><text x="240.3" y="171.5" class="tl" text-anchor="middle">ω<tspan class="sup" dy="-1.5">3</tspan></text><text transform="translate(190 116.5) rotate(-90)" class="tl" text-anchor="middle">ω<tspan class="sup" dy="-1.5">3</tspan></text><text x="261.3" y="171.5" class="tl" text-anchor="middle">ω<tspan class="sup" dy="-1.5">4</tspan></text><text transform="translate(190 95.4) rotate(-90)" class="tl" text-anchor="middle">ω<tspan class="sup" dy="-1.5">4</tspan></text><text x="282.4" y="171.5" class="tl" text-anchor="middle">ω<tspan class="sup" dy="-1.5">5</tspan></text><text transform="translate(190 74.2) rotate(-90)" class="tl" text-anchor="middle">ω<tspan class="sup" dy="-1.5">5</tspan></text><text x="303.5" y="171.5" class="tl" text-anchor="middle">ω<tspan class="sup" dy="-1.5">6</tspan></text><text transform="translate(190 53.1) rotate(-90)" class="tl" text-anchor="middle">ω<tspan class="sup" dy="-1.5">6</tspan></text><text x="328.8" y="171.5" class="tl" text-anchor="middle">ω<tspan class="sup" dy="-1.5">7.2</tspan></text><text transform="translate(190 27.7) rotate(-90)" class="tl" text-anchor="middle">ω<tspan class="sup" dy="-1.5">7.2</tspan></text>
<text x="210.9" y="42.2" class="qn">0.14</text>
<text x="297.2" y="42.2" class="qn">0.08</text>
<text x="296.9" y="124.2" class="qn">0.25</text>
<polygon points="371.5,110 385,109 398,106.5 410,104 418,102 418,102 418,125 417,140 416,158.3 371.3,158.3" fill="#000"/>
<path d="M413.2 98.6h1.2v1.2h-1.2zM400 104.1h1.2v1.2h-1.2zM386.2 104.5h1.2v1.2h-1.2zM392.9 104.7h1.2v1.2h-1.2zM377.6 108.4h1.2v1.2h-1.2zM373.4 106.7h1.2v1.2h-1.2zM396.7 105.7h1.2v1.2h-1.2zM411.3 102.3h1.2v1.2h-1.2zM390.2 106.9h1.2v1.2h-1.2zM383.4 104.8h1.2v1.2h-1.2zM386.6 107.6h1.2v1.2h-1.2zM393.8 105.8h1.2v1.2h-1.2zM412.9 102.3h1.2v1.2h-1.2zM416.4 101.5h1.2v1.2h-1.2zM412.1 100.5h1.2v1.2h-1.2zM380.8 107.4h1.2v1.2h-1.2zM384.4 107.8h1.2v1.2h-1.2zM380.3 107.8h1.2v1.2h-1.2zM415.3 94.7h1.2v1.2h-1.2zM413.9 102.1h1.2v1.2h-1.2zM383.7 103.9h1.2v1.2h-1.2zM373.4 106.6h1.2v1.2h-1.2zM383.4 101.5h1.2v1.2h-1.2zM371.4 106.1h1.2v1.2h-1.2zM386.9 107.6h1.2v1.2h-1.2zM370.7 105.8h1.2v1.2h-1.2zM395.5 105.9h1.2v1.2h-1.2zM390.4 102.3h1.2v1.2h-1.2zM381.1 106.9h1.2v1.2h-1.2zM377.4 108.5h1.2v1.2h-1.2zM406.3 101.5h1.2v1.2h-1.2zM380.2 108.5h1.2v1.2h-1.2zM374.9 107.2h1.2v1.2h-1.2zM394 105.9h1.2v1.2h-1.2zM380.5 106.8h1.2v1.2h-1.2zM403.3 101.3h1.2v1.2h-1.2zM398.1 105.3h1.2v1.2h-1.2zM373.8 106.5h1.2v1.2h-1.2zM389.6 104.8h1.2v1.2h-1.2zM373.3 105.9h1.2v1.2h-1.2zM386 104.3h1.2v1.2h-1.2zM410.9 101.6h1.2v1.2h-1.2zM371.3 104.5h1.2v1.2h-1.2zM392.5 102.7h1.2v1.2h-1.2zM383.4 108.1h1.2v1.2h-1.2zM409.5 102.4h1.2v1.2h-1.2zM378.5 107.9h1.2v1.2h-1.2zM398.7 105.6h1.2v1.2h-1.2zM395 105.2h1.2v1.2h-1.2zM395 106.1h1.2v1.2h-1.2zM403.6 101.2h1.2v1.2h-1.2zM411 102.2h1.2v1.2h-1.2zM403.9 103.6h1.2v1.2h-1.2zM405.9 104h1.2v1.2h-1.2zM410.1 96.9h1.2v1.2h-1.2zM393.8 105.1h1.2v1.2h-1.2zM395.4 104.7h1.2v1.2h-1.2zM371.4 102.5h1.2v1.2h-1.2zM381.4 108.2h1.2v1.2h-1.2zM375.7 108.5h1.2v1.2h-1.2zM409 103.4h1.2v1.2h-1.2zM375.3 106.7h1.2v1.2h-1.2zM380.1 108.7h1.2v1.2h-1.2zM398.6 103.9h1.2v1.2h-1.2zM394.9 103.9h1.2v1.2h-1.2zM375.4 105h1.2v1.2h-1.2zM404.4 104.4h1.2v1.2h-1.2zM376.6 107.6h1.2v1.2h-1.2zM394.2 105.8h1.2v1.2h-1.2zM376.6 107.9h1.2v1.2h-1.2zM377.2 107.1h1.2v1.2h-1.2zM411 102.7h1.2v1.2h-1.2zM397.1 103.1h1.2v1.2h-1.2zM378.4 105.3h1.2v1.2h-1.2zM414.3 101.2h1.2v1.2h-1.2z" fill="#000"/>
<path d="M391 109.4h1.2v1.2h-1.2zM395.6 106.9h1.2v1.2h-1.2zM415.1 103.8h1.2v1.2h-1.2zM386.9 108.3h1.2v1.2h-1.2zM386.8 108.6h1.2v1.2h-1.2zM417 103.5h1.2v1.2h-1.2zM413.9 104.4h1.2v1.2h-1.2zM410.4 103.2h1.2v1.2h-1.2zM395.8 110.1h1.2v1.2h-1.2zM414.5 102.5h1.2v1.2h-1.2zM390.9 108.4h1.2v1.2h-1.2zM388.2 108.6h1.2v1.2h-1.2zM374.2 109.8h1.2v1.2h-1.2zM394.5 106.5h1.2v1.2h-1.2zM377.8 112.9h1.2v1.2h-1.2zM407.8 107.1h1.2v1.2h-1.2zM400.9 107.2h1.2v1.2h-1.2zM412.7 105.2h1.2v1.2h-1.2zM372.6 110.5h1.2v1.2h-1.2zM383.5 109.8h1.2v1.2h-1.2zM383.9 109.4h1.2v1.2h-1.2zM414.2 103.4h1.2v1.2h-1.2zM382.8 109.4h1.2v1.2h-1.2z" fill="#fff"/>
<path d="M422.7 126.2h1.2v1.2h-1.2zM418.1 117.6h1.2v1.2h-1.2zM416.7 137.9h1.2v1.2h-1.2zM422.3 135.2h1.2v1.2h-1.2zM417.6 130.4h1.2v1.2h-1.2zM418.6 127.8h1.2v1.2h-1.2zM417.6 109.8h1.2v1.2h-1.2zM418 108.8h1.2v1.2h-1.2zM418 124.3h1.2v1.2h-1.2zM417.6 115.1h1.2v1.2h-1.2zM420.2 132.4h1.2v1.2h-1.2zM418.2 135.9h1.2v1.2h-1.2zM416.9 138.1h1.2v1.2h-1.2zM417.4 141.5h1.2v1.2h-1.2zM418.6 132.4h1.2v1.2h-1.2zM417.8 127.9h1.2v1.2h-1.2zM417.9 115.1h1.2v1.2h-1.2zM417.9 130.3h1.2v1.2h-1.2zM416.8 134.4h1.2v1.2h-1.2zM421 121.3h1.2v1.2h-1.2zM418.9 114.8h1.2v1.2h-1.2zM417.7 129.1h1.2v1.2h-1.2zM416.1 157h1.2v1.2h-1.2zM416.4 144.9h1.2v1.2h-1.2zM421.1 105.2h1.2v1.2h-1.2zM417.4 126.2h1.2v1.2h-1.2zM418.4 123.3h1.2v1.2h-1.2zM416.4 142.8h1.2v1.2h-1.2zM423.2 114.1h1.2v1.2h-1.2zM416.5 143h1.2v1.2h-1.2zM418.2 120.4h1.2v1.2h-1.2zM418.1 139.5h1.2v1.2h-1.2zM419 149.4h1.2v1.2h-1.2zM419.4 130.7h1.2v1.2h-1.2zM418.8 143.4h1.2v1.2h-1.2zM419.9 128.4h1.2v1.2h-1.2zM420.7 141.5h1.2v1.2h-1.2zM421.1 108.6h1.2v1.2h-1.2zM420 101.6h1.2v1.2h-1.2zM418 134.5h1.2v1.2h-1.2zM417 155.7h1.2v1.2h-1.2zM420.1 125.1h1.2v1.2h-1.2zM417.5 150.6h1.2v1.2h-1.2zM418.5 122.8h1.2v1.2h-1.2zM419.5 127.4h1.2v1.2h-1.2zM418.3 117.9h1.2v1.2h-1.2zM417.7 132.7h1.2v1.2h-1.2zM420.2 119.5h1.2v1.2h-1.2zM417.1 149.3h1.2v1.2h-1.2zM417.6 126.4h1.2v1.2h-1.2zM417.7 118.5h1.2v1.2h-1.2zM418.3 133.9h1.2v1.2h-1.2zM421.9 106.4h1.2v1.2h-1.2zM420.7 119.7h1.2v1.2h-1.2zM421.6 148.9h1.2v1.2h-1.2zM418.4 112.9h1.2v1.2h-1.2zM415.7 152.7h1.2v1.2h-1.2zM418.9 104.1h1.2v1.2h-1.2zM421.6 129.7h1.2v1.2h-1.2zM417.5 145h1.2v1.2h-1.2zM416.7 157.7h1.2v1.2h-1.2zM419.1 130.7h1.2v1.2h-1.2zM418.2 123.4h1.2v1.2h-1.2zM417.5 134.9h1.2v1.2h-1.2zM417.6 154.9h1.2v1.2h-1.2zM417.1 131h1.2v1.2h-1.2zM418.3 122.5h1.2v1.2h-1.2z" fill="#000"/>
<path d="M415.5 132.9h1.2v1.2h-1.2zM410.8 150.7h1.2v1.2h-1.2zM416.2 128.8h1.2v1.2h-1.2zM411.6 136.2h1.2v1.2h-1.2zM416.2 120.7h1.2v1.2h-1.2zM415.7 147.3h1.2v1.2h-1.2zM412.4 119.3h1.2v1.2h-1.2zM414.8 147.8h1.2v1.2h-1.2zM413.8 107.6h1.2v1.2h-1.2zM413.6 140.1h1.2v1.2h-1.2zM411.9 157h1.2v1.2h-1.2zM417.1 125.1h1.2v1.2h-1.2zM416.3 117.7h1.2v1.2h-1.2zM416.7 129.8h1.2v1.2h-1.2zM415.8 111.7h1.2v1.2h-1.2zM416 135.3h1.2v1.2h-1.2zM413.8 157.3h1.2v1.2h-1.2zM416.6 103.8h1.2v1.2h-1.2zM415.5 145.7h1.2v1.2h-1.2zM416.3 140.3h1.2v1.2h-1.2zM414.4 118.6h1.2v1.2h-1.2zM415 134.3h1.2v1.2h-1.2zM416.3 112.5h1.2v1.2h-1.2zM416.4 132.5h1.2v1.2h-1.2zM415.3 137.7h1.2v1.2h-1.2zM414 157.5h1.2v1.2h-1.2zM417.2 124.6h1.2v1.2h-1.2zM415.1 110.2h1.2v1.2h-1.2zM417.2 107.4h1.2v1.2h-1.2zM416.2 111h1.2v1.2h-1.2zM414.4 147.7h1.2v1.2h-1.2zM415.9 146.8h1.2v1.2h-1.2zM415 102.1h1.2v1.2h-1.2zM415.4 119.6h1.2v1.2h-1.2zM417.1 121.3h1.2v1.2h-1.2zM417.2 116.4h1.2v1.2h-1.2zM414.3 152.2h1.2v1.2h-1.2zM416.4 121.1h1.2v1.2h-1.2zM417.3 123.1h1.2v1.2h-1.2zM414.3 151.5h1.2v1.2h-1.2zM414.6 155.4h1.2v1.2h-1.2zM416.1 136.3h1.2v1.2h-1.2zM413.1 103.9h1.2v1.2h-1.2zM415.2 149.5h1.2v1.2h-1.2zM413 151.9h1.2v1.2h-1.2zM415.9 118.5h1.2v1.2h-1.2zM414.4 155.4h1.2v1.2h-1.2zM415.1 154.8h1.2v1.2h-1.2zM415.4 123.4h1.2v1.2h-1.2zM416.8 113.9h1.2v1.2h-1.2z" fill="#fff"/>
<path d="M373.3 110V156" stroke="#ccc" stroke-width="1.2"/>
<path d="M378.6 154.4h1.3v1.3h-1.3zM376.9 156.1h1.3v1.3h-1.3zM372 155.4h1.3v1.3h-1.3zM372.1 143.8h1.3v1.3h-1.3zM372.6 153.6h1.3v1.3h-1.3zM371.8 153.9h1.3v1.3h-1.3zM373.1 155h1.3v1.3h-1.3zM371.6 156.8h1.3v1.3h-1.3zM377.5 155.4h1.3v1.3h-1.3zM372.3 156.4h1.3v1.3h-1.3zM372.5 156.1h1.3v1.3h-1.3zM371.5 152.4h1.3v1.3h-1.3zM372.8 156.6h1.3v1.3h-1.3zM375.6 156.9h1.3v1.3h-1.3zM372.4 149.2h1.3v1.3h-1.3zM371.8 154.7h1.3v1.3h-1.3zM377.7 150h1.3v1.3h-1.3zM372 155.4h1.3v1.3h-1.3zM375.8 155.2h1.3v1.3h-1.3zM381.9 156.3h1.3v1.3h-1.3zM381.9 154.2h1.3v1.3h-1.3zM372.3 154.6h1.3v1.3h-1.3zM371.8 151.8h1.3v1.3h-1.3zM372.4 147h1.3v1.3h-1.3zM374.4 155.3h1.3v1.3h-1.3zM372.3 153.1h1.3v1.3h-1.3zM372.2 148.1h1.3v1.3h-1.3zM371.8 154.1h1.3v1.3h-1.3zM374.1 155.9h1.3v1.3h-1.3zM376.5 155.2h1.3v1.3h-1.3zM375.1 153.6h1.3v1.3h-1.3zM372.7 155.1h1.3v1.3h-1.3zM371.7 156.5h1.3v1.3h-1.3zM378 155.6h1.3v1.3h-1.3zM375.2 156.8h1.3v1.3h-1.3zM374.2 155.3h1.3v1.3h-1.3zM373.8 155.8h1.3v1.3h-1.3z" fill="#fff"/>
<path d="M422 109.1h1.2v1.2h-1.2zM421.9 110.8h1.2v1.2h-1.2zM419.8 122.8h1.2v1.2h-1.2zM424.6 142.9h1.2v1.2h-1.2zM419.2 118.2h1.2v1.2h-1.2zM425.7 134.2h1.2v1.2h-1.2zM424.8 133.2h1.2v1.2h-1.2zM427.2 142h1.2v1.2h-1.2zM418.4 114.9h1.2v1.2h-1.2zM424.8 136.6h1.2v1.2h-1.2zM420.5 108.1h1.2v1.2h-1.2zM423 118.8h1.2v1.2h-1.2zM423.4 118.7h1.2v1.2h-1.2zM428.3 140.5h1.2v1.2h-1.2zM425.4 116.7h1.2v1.2h-1.2zM418.6 121.2h1.2v1.2h-1.2zM425 138.8h1.2v1.2h-1.2zM425.8 141.7h1.2v1.2h-1.2zM419.3 117.3h1.2v1.2h-1.2zM418.9 114.7h1.2v1.2h-1.2zM422.1 109h1.2v1.2h-1.2zM423.8 137.1h1.2v1.2h-1.2zM419.3 109.8h1.2v1.2h-1.2zM426.8 144h1.2v1.2h-1.2zM426.8 140.2h1.2v1.2h-1.2zM421.9 107.6h1.2v1.2h-1.2zM422.5 127.5h1.2v1.2h-1.2zM421.6 138.6h1.2v1.2h-1.2zM425.3 140.6h1.2v1.2h-1.2zM427.6 145.9h1.2v1.2h-1.2zM420.4 116.9h1.2v1.2h-1.2zM422.6 123.8h1.2v1.2h-1.2zM422.5 110.8h1.2v1.2h-1.2zM422.1 116.7h1.2v1.2h-1.2zM421.3 124.7h1.2v1.2h-1.2zM421.6 118.5h1.2v1.2h-1.2zM425.9 130.4h1.2v1.2h-1.2zM423.6 128.7h1.2v1.2h-1.2zM426.3 133.4h1.2v1.2h-1.2zM424.3 138h1.2v1.2h-1.2zM423.4 118.4h1.2v1.2h-1.2zM421.6 108.9h1.2v1.2h-1.2zM425.5 135.4h1.2v1.2h-1.2zM424.7 119.5h1.2v1.2h-1.2zM421.6 113.1h1.2v1.2h-1.2zM425.9 147.4h1.2v1.2h-1.2zM421.8 136.4h1.2v1.2h-1.2zM423.9 110.3h1.2v1.2h-1.2zM422.2 113.9h1.2v1.2h-1.2zM427.4 143.7h1.2v1.2h-1.2zM426.6 144.8h1.2v1.2h-1.2zM421.9 116.5h1.2v1.2h-1.2zM423.8 138.2h1.2v1.2h-1.2zM424.6 112.6h1.2v1.2h-1.2zM423.9 146.1h1.2v1.2h-1.2zM425.2 140.3h1.2v1.2h-1.2zM421 113.4h1.2v1.2h-1.2zM424.8 121.1h1.2v1.2h-1.2zM425.1 141.1h1.2v1.2h-1.2zM426.5 128.7h1.2v1.2h-1.2zM420.1 135.3h1.2v1.2h-1.2zM424.8 126.6h1.2v1.2h-1.2zM423.3 118.4h1.2v1.2h-1.2zM423.3 135.6h1.2v1.2h-1.2zM425.3 146.9h1.2v1.2h-1.2zM422 125.5h1.2v1.2h-1.2zM418.6 105.4h1.2v1.2h-1.2zM426.6 139.1h1.2v1.2h-1.2zM426.6 133.5h1.2v1.2h-1.2zM425.7 120.2h1.2v1.2h-1.2zM424 140.6h1.2v1.2h-1.2zM425.1 118.4h1.2v1.2h-1.2zM422.5 120.9h1.2v1.2h-1.2zM428.3 119.3h1.2v1.2h-1.2zM421.5 143.4h1.2v1.2h-1.2zM428.6 145.3h1.2v1.2h-1.2zM422.5 107.6h1.2v1.2h-1.2zM427.3 117.3h1.2v1.2h-1.2zM424.5 125.7h1.2v1.2h-1.2zM422.3 120.4h1.2v1.2h-1.2zM422.9 113.2h1.2v1.2h-1.2zM422.5 109h1.2v1.2h-1.2zM426.3 130.5h1.2v1.2h-1.2zM424.7 129.8h1.2v1.2h-1.2zM419.7 113.4h1.2v1.2h-1.2zM420.4 110.5h1.2v1.2h-1.2zM423.1 109.7h1.2v1.2h-1.2zM424.9 126.2h1.2v1.2h-1.2zM421.9 130.8h1.2v1.2h-1.2zM422 131.2h1.2v1.2h-1.2zM425.5 109h1.2v1.2h-1.2zM424.4 128h1.2v1.2h-1.2zM418.1 111.2h1.2v1.2h-1.2zM420.4 109.9h1.2v1.2h-1.2zM419.1 113.3h1.2v1.2h-1.2zM422.5 139.6h1.2v1.2h-1.2zM421.2 109h1.2v1.2h-1.2zM422.3 106.3h1.2v1.2h-1.2zM423 117.9h1.2v1.2h-1.2z" fill="#000"/>
<path d="M429.2 90.3h1.3v1.3h-1.3zM434.6 86.4h1.3v1.3h-1.3zM438.5 82.5h1.3v1.3h-1.3zM423.8 97.1h1.3v1.3h-1.3z"/>
<path d="M425.2 101.8h1v1h-1zM425.1 101.5h1v1h-1zM425.4 102.9h1v1h-1zM420.2 102.4h1v1h-1zM421.4 102.4h1v1h-1zM423.8 102.7h1v1h-1zM419.9 100.7h1v1h-1zM424.2 103.3h1v1h-1zM424.1 99.2h1v1h-1zM423.2 99.4h1v1h-1z" fill="#000"/>
<rect x="370.7" y="27.4" width="129.8" height="131.3" fill="none" stroke="#000" stroke-width="1.3"/>
<path d="M418.2 27.4V158.7M370.7 104.3H500.5" stroke="#000" stroke-width="1.3" fill="none"/>
<path d="M370.7 158.7v4.5M370.7 158.7h-4.5M377 158.7v4.2M370.7 152.3h-4.2M380.7 158.7v4.2M370.7 148.6h-4.2M383.3 158.7v4.2M370.7 145.9h-4.2M385.3 158.7v4.2M370.7 143.9h-4.2M387 158.7v4.2M370.7 142.2h-4.2M388.4 158.7v4.2M370.7 140.8h-4.2M389.6 158.7v4.2M370.7 139.6h-4.2M390.7 158.7v4.2M370.7 138.5h-4.2M391.6 158.7v4.5M370.7 137.5h-4.5M397.9 158.7v4.2M370.7 131.1h-4.2M401.6 158.7v4.2M370.7 127.4h-4.2M404.2 158.7v4.2M370.7 124.8h-4.2M406.3 158.7v4.2M370.7 122.7h-4.2M407.9 158.7v4.2M370.7 121h-4.2M409.3 158.7v4.2M370.7 119.6h-4.2M410.5 158.7v4.2M370.7 118.4h-4.2M411.6 158.7v4.2M370.7 117.3h-4.2M412.6 158.7v4.5M370.7 116.3h-4.5M418.9 158.7v4.2M370.7 110h-4.2M422.6 158.7v4.2M370.7 106.2h-4.2M425.2 158.7v4.2M370.7 103.6h-4.2M427.2 158.7v4.2M370.7 101.5h-4.2M428.9 158.7v4.2M370.7 99.9h-4.2M430.3 158.7v4.2M370.7 98.4h-4.2M431.5 158.7v4.2M370.7 97.2h-4.2M432.5 158.7v4.2M370.7 96.1h-4.2M433.5 158.7v4.5M370.7 95.2h-4.5M439.8 158.7v4.2M370.7 88.8h-4.2M443.5 158.7v4.2M370.7 85.1h-4.2M446.1 158.7v4.2M370.7 82.4h-4.2M448.1 158.7v4.2M370.7 80.4h-4.2M449.8 158.7v4.2M370.7 78.7h-4.2M451.2 158.7v4.2M370.7 77.3h-4.2M452.4 158.7v4.2M370.7 76h-4.2M453.5 158.7v4.2M370.7 75h-4.2M454.4 158.7v4.5M370.7 74h-4.5M460.7 158.7v4.2M370.7 67.6h-4.2M464.4 158.7v4.2M370.7 63.9h-4.2M467 158.7v4.2M370.7 61.2h-4.2M469.1 158.7v4.2M370.7 59.2h-4.2M470.7 158.7v4.2M370.7 57.5h-4.2M472.1 158.7v4.2M370.7 56.1h-4.2M473.3 158.7v4.2M370.7 54.9h-4.2M474.4 158.7v4.2M370.7 53.8h-4.2M475.4 158.7v4.5M370.7 52.8h-4.5M481.7 158.7v4.2M370.7 46.4h-4.2M485.4 158.7v4.2M370.7 42.7h-4.2M488 158.7v4.2M370.7 40.1h-4.2M490 158.7v4.2M370.7 38h-4.2M491.7 158.7v4.2M370.7 36.3h-4.2M493.1 158.7v4.2M370.7 34.9h-4.2M494.3 158.7v4.2M370.7 33.7h-4.2M495.4 158.7v4.2M370.7 32.6h-4.2M496.3 158.7v4.5M370.7 31.6h-4.5M500.5 158.7v4.5M370.7 27.4h-4.5" stroke="#000" stroke-width="1" fill="none"/>
<text x="370.5" y="171.7" class="tl" text-anchor="middle">ω<tspan class="sup" dy="-1.5">1</tspan></text><text transform="translate(362.4 159) rotate(-90)" class="tl" text-anchor="middle">ω<tspan class="sup" dy="-1.5">1</tspan></text><text x="391.4" y="171.7" class="tl" text-anchor="middle">ω<tspan class="sup" dy="-1.5">2</tspan></text><text transform="translate(362.4 137.8) rotate(-90)" class="tl" text-anchor="middle">ω<tspan class="sup" dy="-1.5">2</tspan></text><text x="412.4" y="171.7" class="tl" text-anchor="middle">ω<tspan class="sup" dy="-1.5">3</tspan></text><text transform="translate(362.4 116.6) rotate(-90)" class="tl" text-anchor="middle">ω<tspan class="sup" dy="-1.5">3</tspan></text><text x="433.3" y="171.7" class="tl" text-anchor="middle">ω<tspan class="sup" dy="-1.5">4</tspan></text><text transform="translate(362.4 95.5) rotate(-90)" class="tl" text-anchor="middle">ω<tspan class="sup" dy="-1.5">4</tspan></text><text x="454.2" y="171.7" class="tl" text-anchor="middle">ω<tspan class="sup" dy="-1.5">5</tspan></text><text transform="translate(362.4 74.3) rotate(-90)" class="tl" text-anchor="middle">ω<tspan class="sup" dy="-1.5">5</tspan></text><text x="475.2" y="171.7" class="tl" text-anchor="middle">ω<tspan class="sup" dy="-1.5">6</tspan></text><text transform="translate(362.4 53.1) rotate(-90)" class="tl" text-anchor="middle">ω<tspan class="sup" dy="-1.5">6</tspan></text><text x="500.3" y="171.7" class="tl" text-anchor="middle">ω<tspan class="sup" dy="-1.5">7.2</tspan></text><text transform="translate(362.4 27.7) rotate(-90)" class="tl" text-anchor="middle">ω<tspan class="sup" dy="-1.5">7.2</tspan></text>
<text x="387.6" y="40" class="qn">0.08</text>
<text x="465.8" y="40" class="qn">0.10</text>
<text x="466.4" y="117" class="qn">0.11</text>
<polygon points="529,115.5 540,113 552,110.5 562,108.5 569,107 569,107 569,120 567.5,135 565,148 563.5,158.3 528.3,158.3" fill="#000"/>
<path d="M549.7 106.9h1.2v1.2h-1.2zM531.8 108.8h1.2v1.2h-1.2zM555.3 108.5h1.2v1.2h-1.2zM535.8 112h1.2v1.2h-1.2zM561.6 106.1h1.2v1.2h-1.2zM532.9 113.8h1.2v1.2h-1.2zM532.1 110.8h1.2v1.2h-1.2zM535.4 111.6h1.2v1.2h-1.2zM539.5 110h1.2v1.2h-1.2zM543.5 111.2h1.2v1.2h-1.2zM563.1 106h1.2v1.2h-1.2zM555.3 105.7h1.2v1.2h-1.2zM566.3 106.8h1.2v1.2h-1.2zM542 111.5h1.2v1.2h-1.2zM547.6 106.5h1.2v1.2h-1.2zM560.4 108h1.2v1.2h-1.2zM534.9 109.9h1.2v1.2h-1.2zM555.4 108.1h1.2v1.2h-1.2zM547.3 110.4h1.2v1.2h-1.2zM562 106.7h1.2v1.2h-1.2zM562.9 105.6h1.2v1.2h-1.2zM531.2 113.4h1.2v1.2h-1.2zM536 108.6h1.2v1.2h-1.2zM551.9 109.7h1.2v1.2h-1.2zM535 112.5h1.2v1.2h-1.2zM546.7 109.1h1.2v1.2h-1.2zM543.7 110.6h1.2v1.2h-1.2zM528.3 113.2h1.2v1.2h-1.2zM541.7 111.9h1.2v1.2h-1.2zM545.3 104h1.2v1.2h-1.2zM530.1 114.2h1.2v1.2h-1.2zM555.1 108.5h1.2v1.2h-1.2zM539 111.1h1.2v1.2h-1.2zM538.5 110.9h1.2v1.2h-1.2zM548.2 104.1h1.2v1.2h-1.2zM568.1 106.4h1.2v1.2h-1.2zM550.2 107.1h1.2v1.2h-1.2zM562.7 104.6h1.2v1.2h-1.2zM553.3 107.5h1.2v1.2h-1.2zM542.8 111h1.2v1.2h-1.2zM559.4 104.1h1.2v1.2h-1.2zM565.5 104.7h1.2v1.2h-1.2zM539.9 109.3h1.2v1.2h-1.2zM557.7 107.2h1.2v1.2h-1.2zM553.6 108.6h1.2v1.2h-1.2zM550.2 109.1h1.2v1.2h-1.2zM530.6 113.5h1.2v1.2h-1.2zM539.9 105.2h1.2v1.2h-1.2zM547.4 109.8h1.2v1.2h-1.2zM538 112.2h1.2v1.2h-1.2zM542.3 111.5h1.2v1.2h-1.2zM527.8 110.8h1.2v1.2h-1.2zM546.3 109.8h1.2v1.2h-1.2zM551 109.3h1.2v1.2h-1.2zM535.1 113.2h1.2v1.2h-1.2zM540.3 111.5h1.2v1.2h-1.2zM557.1 107.1h1.2v1.2h-1.2zM565.7 106.1h1.2v1.2h-1.2zM564.9 105.4h1.2v1.2h-1.2zM531.5 113.8h1.2v1.2h-1.2zM550.2 103h1.2v1.2h-1.2zM542 108.8h1.2v1.2h-1.2zM544.7 107.2h1.2v1.2h-1.2zM530.8 113h1.2v1.2h-1.2zM564.2 106.6h1.2v1.2h-1.2z" fill="#000"/>
<path d="M538.7 112.6h1.2v1.2h-1.2zM535 113.8h1.2v1.2h-1.2zM556.6 109.2h1.2v1.2h-1.2zM544.4 111.6h1.2v1.2h-1.2zM553 112h1.2v1.2h-1.2zM554.4 109.6h1.2v1.2h-1.2zM558.5 112.5h1.2v1.2h-1.2zM552.4 109.8h1.2v1.2h-1.2zM561.3 110.5h1.2v1.2h-1.2zM542.1 112h1.2v1.2h-1.2zM536.1 114.1h1.2v1.2h-1.2zM563.7 108.7h1.2v1.2h-1.2zM565.4 107.3h1.2v1.2h-1.2zM541.8 113.6h1.2v1.2h-1.2zM554.5 109.9h1.2v1.2h-1.2zM555.6 109.6h1.2v1.2h-1.2zM530.8 115h1.2v1.2h-1.2zM530.5 115.6h1.2v1.2h-1.2zM541.9 112.7h1.2v1.2h-1.2zM552.4 110.1h1.2v1.2h-1.2z" fill="#fff"/>
<path d="M567.3 130.3h1.2v1.2h-1.2zM564.9 154.1h1.2v1.2h-1.2zM563.1 157.1h1.2v1.2h-1.2zM568.5 138.5h1.2v1.2h-1.2zM568.2 123.4h1.2v1.2h-1.2zM568.7 114.5h1.2v1.2h-1.2zM564.9 145.8h1.2v1.2h-1.2zM565.3 148.3h1.2v1.2h-1.2zM568.5 134.3h1.2v1.2h-1.2zM568.7 135.4h1.2v1.2h-1.2zM567 137.5h1.2v1.2h-1.2zM565.5 144.6h1.2v1.2h-1.2zM567.8 143.5h1.2v1.2h-1.2zM565.3 146.4h1.2v1.2h-1.2zM571.4 147.4h1.2v1.2h-1.2zM567.9 129.8h1.2v1.2h-1.2zM572.1 133.9h1.2v1.2h-1.2zM568.4 113.2h1.2v1.2h-1.2zM569.2 131.1h1.2v1.2h-1.2zM565.4 146.3h1.2v1.2h-1.2zM563.4 157.2h1.2v1.2h-1.2zM565 145.3h1.2v1.2h-1.2zM568.7 107.8h1.2v1.2h-1.2zM569.7 109.5h1.2v1.2h-1.2zM567.1 135.1h1.2v1.2h-1.2zM564.2 154.7h1.2v1.2h-1.2zM568.8 114.1h1.2v1.2h-1.2zM569.5 145.2h1.2v1.2h-1.2zM568.5 114.8h1.2v1.2h-1.2zM565.1 146.4h1.2v1.2h-1.2zM564.3 157h1.2v1.2h-1.2zM566.7 139.3h1.2v1.2h-1.2zM565.5 147.7h1.2v1.2h-1.2zM572.2 123.5h1.2v1.2h-1.2zM570.8 112h1.2v1.2h-1.2zM570.3 109.8h1.2v1.2h-1.2zM571.2 127.5h1.2v1.2h-1.2zM569.9 109.5h1.2v1.2h-1.2zM572.1 128h1.2v1.2h-1.2zM565.1 155.1h1.2v1.2h-1.2zM568.9 118h1.2v1.2h-1.2zM569.4 120.1h1.2v1.2h-1.2zM568.8 118.4h1.2v1.2h-1.2zM566.6 145.7h1.2v1.2h-1.2zM575.1 122.5h1.2v1.2h-1.2zM569.9 117.6h1.2v1.2h-1.2zM572 114.5h1.2v1.2h-1.2zM564.4 151.1h1.2v1.2h-1.2zM567.9 145.6h1.2v1.2h-1.2zM569 121.1h1.2v1.2h-1.2zM571.2 131.9h1.2v1.2h-1.2zM570.5 114.8h1.2v1.2h-1.2zM567.4 137.4h1.2v1.2h-1.2zM570.3 137h1.2v1.2h-1.2zM572.3 117.3h1.2v1.2h-1.2zM570.5 125.3h1.2v1.2h-1.2zM564.3 150.8h1.2v1.2h-1.2zM570.8 151.7h1.2v1.2h-1.2zM568.2 121.8h1.2v1.2h-1.2zM575 112.2h1.2v1.2h-1.2zM572.8 106.9h1.2v1.2h-1.2zM570.8 114.2h1.2v1.2h-1.2z" fill="#000"/>
<path d="M568.1 111.4h1.2v1.2h-1.2zM565.4 141.5h1.2v1.2h-1.2zM564 123.5h1.2v1.2h-1.2zM561.8 142.6h1.2v1.2h-1.2zM563 156.7h1.2v1.2h-1.2zM565.9 118.5h1.2v1.2h-1.2zM565.4 141.8h1.2v1.2h-1.2zM566.7 132.4h1.2v1.2h-1.2zM567.3 128.6h1.2v1.2h-1.2zM563.4 107.4h1.2v1.2h-1.2zM564.7 122.4h1.2v1.2h-1.2zM567.3 112.6h1.2v1.2h-1.2zM567.5 113.4h1.2v1.2h-1.2zM566.5 115.7h1.2v1.2h-1.2zM566.3 114.1h1.2v1.2h-1.2zM566.9 132.2h1.2v1.2h-1.2zM566.8 124.6h1.2v1.2h-1.2zM562.8 153.4h1.2v1.2h-1.2zM563.4 117.5h1.2v1.2h-1.2zM561.7 151.4h1.2v1.2h-1.2zM568 120.5h1.2v1.2h-1.2zM568.2 120.1h1.2v1.2h-1.2zM567.3 108.6h1.2v1.2h-1.2zM566.3 127.3h1.2v1.2h-1.2zM567.8 125.1h1.2v1.2h-1.2zM563.8 141.5h1.2v1.2h-1.2zM565.6 134.2h1.2v1.2h-1.2zM560.5 140.9h1.2v1.2h-1.2zM561.8 151h1.2v1.2h-1.2zM567 127h1.2v1.2h-1.2zM562.6 127.5h1.2v1.2h-1.2zM566.9 126.3h1.2v1.2h-1.2zM567.3 127.5h1.2v1.2h-1.2zM562.9 157.6h1.2v1.2h-1.2zM562.2 136.9h1.2v1.2h-1.2zM566.9 119.4h1.2v1.2h-1.2zM567.3 125.8h1.2v1.2h-1.2zM568.2 116.7h1.2v1.2h-1.2zM561.6 149.3h1.2v1.2h-1.2zM563.5 153h1.2v1.2h-1.2zM564.8 142h1.2v1.2h-1.2zM564.6 139.4h1.2v1.2h-1.2zM563.1 122.2h1.2v1.2h-1.2zM566.2 106.4h1.2v1.2h-1.2zM562.9 150h1.2v1.2h-1.2zM561.5 136h1.2v1.2h-1.2z" fill="#fff"/>
<path d="M529.5 149.4h1.3v1.3h-1.3zM536 153.5h1.3v1.3h-1.3zM535.3 153.3h1.3v1.3h-1.3zM532.3 149.8h1.3v1.3h-1.3zM534.6 154.2h1.3v1.3h-1.3zM533.8 151.1h1.3v1.3h-1.3zM529.4 149.8h1.3v1.3h-1.3zM529.7 138.2h1.3v1.3h-1.3zM531.7 147.1h1.3v1.3h-1.3zM532.3 152.2h1.3v1.3h-1.3zM529.4 156.1h1.3v1.3h-1.3zM543.6 151.3h1.3v1.3h-1.3zM532.3 151.4h1.3v1.3h-1.3zM537.9 155.2h1.3v1.3h-1.3zM529 143.5h1.3v1.3h-1.3zM531.6 149.2h1.3v1.3h-1.3zM538.4 139.4h1.3v1.3h-1.3zM540 157h1.3v1.3h-1.3zM530.7 143.1h1.3v1.3h-1.3zM538.1 156.3h1.3v1.3h-1.3zM528.9 155h1.3v1.3h-1.3zM528.5 153.8h1.3v1.3h-1.3zM537.6 151.5h1.3v1.3h-1.3zM531.5 156.6h1.3v1.3h-1.3zM530.9 133.3h1.3v1.3h-1.3zM535 152.6h1.3v1.3h-1.3zM531.8 144.5h1.3v1.3h-1.3zM536.4 156.1h1.3v1.3h-1.3zM534.7 153.7h1.3v1.3h-1.3zM532.3 155.2h1.3v1.3h-1.3zM530.6 154h1.3v1.3h-1.3zM530.7 157.2h1.3v1.3h-1.3zM529.2 150.6h1.3v1.3h-1.3zM528.2 155.8h1.3v1.3h-1.3zM535.4 154.8h1.3v1.3h-1.3zM530.2 155.1h1.3v1.3h-1.3zM538.6 156.6h1.3v1.3h-1.3zM533.9 141.7h1.3v1.3h-1.3zM529.2 152.9h1.3v1.3h-1.3zM537.3 149.7h1.3v1.3h-1.3zM530.6 157h1.3v1.3h-1.3zM531.4 153.7h1.3v1.3h-1.3zM535.3 154.6h1.3v1.3h-1.3zM531 149h1.3v1.3h-1.3zM537.8 153.9h1.3v1.3h-1.3zM530.8 150.4h1.3v1.3h-1.3zM543.4 155.6h1.3v1.3h-1.3zM545.9 147.4h1.3v1.3h-1.3zM530.6 148.6h1.3v1.3h-1.3zM530.2 156.8h1.3v1.3h-1.3zM536.3 153.5h1.3v1.3h-1.3zM532.3 151.9h1.3v1.3h-1.3zM541.7 146h1.3v1.3h-1.3zM528 150.2h1.3v1.3h-1.3zM531.6 152.4h1.3v1.3h-1.3zM538.8 153.1h1.3v1.3h-1.3zM531.7 139.7h1.3v1.3h-1.3zM531.3 151.9h1.3v1.3h-1.3zM532.2 143.4h1.3v1.3h-1.3zM534.5 146.6h1.3v1.3h-1.3zM530.9 157h1.3v1.3h-1.3zM534.7 150.9h1.3v1.3h-1.3zM536.6 145.6h1.3v1.3h-1.3zM528.6 155.4h1.3v1.3h-1.3zM528.3 143.7h1.3v1.3h-1.3zM528.5 156.6h1.3v1.3h-1.3zM536.2 150.7h1.3v1.3h-1.3zM528.2 148.2h1.3v1.3h-1.3zM535.3 152.1h1.3v1.3h-1.3zM528.2 148h1.3v1.3h-1.3zM531.1 150.3h1.3v1.3h-1.3zM545.9 143.8h1.3v1.3h-1.3zM540.2 156.1h1.3v1.3h-1.3zM530.3 151.5h1.3v1.3h-1.3zM527.9 133.3h1.3v1.3h-1.3zM529.8 154.9h1.3v1.3h-1.3zM530.1 155h1.3v1.3h-1.3zM539.6 150.9h1.3v1.3h-1.3zM532.1 153h1.3v1.3h-1.3zM528.2 154.4h1.3v1.3h-1.3zM539.9 144.4h1.3v1.3h-1.3zM539.5 155h1.3v1.3h-1.3zM529.2 156.9h1.3v1.3h-1.3zM532.5 153.6h1.3v1.3h-1.3zM531.6 152h1.3v1.3h-1.3zM533.1 153.7h1.3v1.3h-1.3zM537.6 155.6h1.3v1.3h-1.3zM543 150.9h1.3v1.3h-1.3zM528.2 154.3h1.3v1.3h-1.3zM532.4 153.1h1.3v1.3h-1.3zM532.8 154.2h1.3v1.3h-1.3zM529.8 144.6h1.3v1.3h-1.3zM529.9 147.4h1.3v1.3h-1.3zM537.6 150.2h1.3v1.3h-1.3zM531.5 135.5h1.3v1.3h-1.3zM531.4 140.5h1.3v1.3h-1.3zM528.2 152.8h1.3v1.3h-1.3zM534 156.9h1.3v1.3h-1.3zM539.8 156.8h1.3v1.3h-1.3zM533.3 155.8h1.3v1.3h-1.3zM543.2 150.8h1.3v1.3h-1.3zM537.5 151.8h1.3v1.3h-1.3zM534.6 148.4h1.3v1.3h-1.3zM529.9 155.5h1.3v1.3h-1.3zM538.8 156.1h1.3v1.3h-1.3zM542.8 155.5h1.3v1.3h-1.3zM528.5 156.5h1.3v1.3h-1.3zM537.1 133.3h1.3v1.3h-1.3zM531.1 148.7h1.3v1.3h-1.3zM529.6 138.4h1.3v1.3h-1.3zM534.8 156h1.3v1.3h-1.3zM528.2 147.8h1.3v1.3h-1.3zM528.1 142.9h1.3v1.3h-1.3zM529.9 155.2h1.3v1.3h-1.3zM533.1 154.3h1.3v1.3h-1.3z" fill="#fff"/>
<path d="M530.2 115V142" stroke="#bbb" stroke-width="1.3"/>
<path d="M576.3 103.1h1.2v1.2h-1.2zM571.4 102.6h1.2v1.2h-1.2zM578.4 102.1h1.2v1.2h-1.2zM567.6 101h1.2v1.2h-1.2zM569.9 101.6h1.2v1.2h-1.2zM572.8 101.5h1.2v1.2h-1.2zM577.7 103h1.2v1.2h-1.2zM568.9 107.9h1.2v1.2h-1.2zM579.8 99h1.2v1.2h-1.2zM571.2 102.1h1.2v1.2h-1.2zM580.7 101.6h1.2v1.2h-1.2zM578.3 99h1.2v1.2h-1.2zM568.8 103.5h1.2v1.2h-1.2zM579.3 101h1.2v1.2h-1.2zM580.5 102.2h1.2v1.2h-1.2zM581.3 97.9h1.2v1.2h-1.2zM576.6 102.3h1.2v1.2h-1.2zM574.3 101.5h1.2v1.2h-1.2zM569.1 102.9h1.2v1.2h-1.2zM567.7 102.1h1.2v1.2h-1.2zM574.1 102h1.2v1.2h-1.2zM574 103.5h1.2v1.2h-1.2zM568 102.2h1.2v1.2h-1.2zM575.3 100.2h1.2v1.2h-1.2zM576.7 101.4h1.2v1.2h-1.2zM580.9 98.6h1.2v1.2h-1.2zM579.1 99.5h1.2v1.2h-1.2zM568.2 103.4h1.2v1.2h-1.2zM573.7 100.7h1.2v1.2h-1.2zM574.4 102.5h1.2v1.2h-1.2zM574.2 100.7h1.2v1.2h-1.2zM573 102h1.2v1.2h-1.2zM570.2 103.8h1.2v1.2h-1.2zM580.4 103.9h1.2v1.2h-1.2zM573.2 102.2h1.2v1.2h-1.2zM577.7 101.1h1.2v1.2h-1.2zM569.3 102.5h1.2v1.2h-1.2zM572.2 100.5h1.2v1.2h-1.2zM580.2 101.9h1.2v1.2h-1.2zM569.2 100h1.2v1.2h-1.2zM577.3 101.9h1.2v1.2h-1.2zM575.5 101.7h1.2v1.2h-1.2zM574.4 100.3h1.2v1.2h-1.2zM571.3 102.8h1.2v1.2h-1.2zM580.7 103.7h1.2v1.2h-1.2zM572.8 101.1h1.2v1.2h-1.2zM569.5 102.2h1.2v1.2h-1.2zM569.3 102h1.2v1.2h-1.2zM570.4 102.6h1.2v1.2h-1.2zM581.2 102.7h1.2v1.2h-1.2zM573.1 98.7h1.2v1.2h-1.2zM578.9 100.5h1.2v1.2h-1.2zM568.5 100.3h1.2v1.2h-1.2zM579 102.6h1.2v1.2h-1.2zM573.7 103.9h1.2v1.2h-1.2zM576.1 101h1.2v1.2h-1.2zM578.8 103.7h1.2v1.2h-1.2zM576.8 102.3h1.2v1.2h-1.2zM575.1 98.4h1.2v1.2h-1.2zM577.8 101.6h1.2v1.2h-1.2zM579.4 96.7h1.2v1.2h-1.2zM569.1 105.7h1.2v1.2h-1.2zM570.3 103h1.2v1.2h-1.2zM569.6 101.2h1.2v1.2h-1.2zM573.9 103.7h1.2v1.2h-1.2zM577.1 98.6h1.2v1.2h-1.2zM576.5 99.4h1.2v1.2h-1.2zM578.6 100h1.2v1.2h-1.2zM575.8 101.9h1.2v1.2h-1.2zM574.7 102.9h1.2v1.2h-1.2zM567 102.7h1.2v1.2h-1.2zM568.1 103.5h1.2v1.2h-1.2zM575.3 99.8h1.2v1.2h-1.2zM570.5 100.2h1.2v1.2h-1.2zM575.9 100.9h1.2v1.2h-1.2zM570.1 101.8h1.2v1.2h-1.2zM576 101.4h1.2v1.2h-1.2zM577.4 103.7h1.2v1.2h-1.2zM570.9 101.6h1.2v1.2h-1.2zM573.4 102.2h1.2v1.2h-1.2zM575.4 102.5h1.2v1.2h-1.2z" fill="#000"/>
<path d="M573 124.1h1v1h-1zM573 124.8h1v1h-1zM571.1 121.4h1v1h-1zM571 115.1h1v1h-1zM570 107.7h1v1h-1zM575.7 113.5h1v1h-1zM574.9 109.3h1v1h-1zM572.1 106.1h1v1h-1zM573.3 122.1h1v1h-1zM573.1 111.9h1v1h-1zM575.6 122.8h1v1h-1zM574 105.6h1v1h-1zM573.7 113.3h1v1h-1zM575.7 111.6h1v1h-1zM574 117.3h1v1h-1z" fill="#000"/>
<path d="M578.3 128h1v1h-1zM580.1 145.7h1v1h-1zM579 120.7h1v1h-1zM581.9 106.6h1v1h-1zM581 135.4h1v1h-1zM579.3 124.6h1v1h-1zM580.5 145h1v1h-1zM580.4 138.5h1v1h-1zM576.2 119h1v1h-1zM576.8 147.8h1v1h-1zM581.3 110.6h1v1h-1zM579.5 130.5h1v1h-1zM576.3 122h1v1h-1zM580.5 133.5h1v1h-1zM577.7 139.1h1v1h-1z" fill="#000"/>
<path d="M587 127.1h1.2v1.2h-1.2zM588.2 148.4h1.2v1.2h-1.2zM588.7 140.6h1.2v1.2h-1.2zM586.9 140.2h1.2v1.2h-1.2zM587.4 122.6h1.2v1.2h-1.2zM587.1 143.6h1.2v1.2h-1.2zM585.8 134.3h1.2v1.2h-1.2zM586.2 142.1h1.2v1.2h-1.2zM585.9 120.3h1.2v1.2h-1.2zM586.2 148.9h1.2v1.2h-1.2zM585.3 127.8h1.2v1.2h-1.2zM586.5 128.4h1.2v1.2h-1.2zM586.7 126.7h1.2v1.2h-1.2zM587 149.2h1.2v1.2h-1.2zM589 147.3h1.2v1.2h-1.2zM586.3 137.9h1.2v1.2h-1.2zM585.6 122.2h1.2v1.2h-1.2zM587.2 135h1.2v1.2h-1.2zM587.5 127.8h1.2v1.2h-1.2zM586.7 135.7h1.2v1.2h-1.2zM585.8 126.1h1.2v1.2h-1.2zM587.7 144.2h1.2v1.2h-1.2zM587 148.5h1.2v1.2h-1.2zM587.2 119.9h1.2v1.2h-1.2zM588.3 140.2h1.2v1.2h-1.2zM586.2 122.3h1.2v1.2h-1.2zM588.1 148.2h1.2v1.2h-1.2zM588.9 143.6h1.2v1.2h-1.2zM587.3 142.2h1.2v1.2h-1.2zM587.2 144.1h1.2v1.2h-1.2zM588.2 145.7h1.2v1.2h-1.2zM586 139.3h1.2v1.2h-1.2zM585 129.1h1.2v1.2h-1.2zM585.2 133.4h1.2v1.2h-1.2zM587.6 136.9h1.2v1.2h-1.2zM584.8 125.9h1.2v1.2h-1.2zM585.8 145.6h1.2v1.2h-1.2zM589.1 142h1.2v1.2h-1.2zM586.9 145.6h1.2v1.2h-1.2zM586 138.6h1.2v1.2h-1.2zM587 139.7h1.2v1.2h-1.2zM584.6 127.2h1.2v1.2h-1.2zM586.9 144.8h1.2v1.2h-1.2zM584.6 125.7h1.2v1.2h-1.2zM586.6 148.7h1.2v1.2h-1.2z" fill="#000"/>
<rect x="527.7" y="27.4" width="130.5" height="131.3" fill="none" stroke="#000" stroke-width="1.3"/>
<path d="M575.2 27.4V158.7M527.7 104.3H658.2" stroke="#000" stroke-width="1.3" fill="none"/>
<path d="M527.7 158.7v4.5M527.7 158.7h-4.5M534 158.7v4.2M527.7 152.3h-4.2M537.7 158.7v4.2M527.7 148.6h-4.2M540.4 158.7v4.2M527.7 145.9h-4.2M542.4 158.7v4.2M527.7 143.9h-4.2M544.1 158.7v4.2M527.7 142.2h-4.2M545.5 158.7v4.2M527.7 140.8h-4.2M546.7 158.7v4.2M527.7 139.6h-4.2M547.8 158.7v4.2M527.7 138.5h-4.2M548.7 158.7v4.5M527.7 137.5h-4.5M555.1 158.7v4.2M527.7 131.1h-4.2M558.8 158.7v4.2M527.7 127.4h-4.2M561.4 158.7v4.2M527.7 124.8h-4.2M563.5 158.7v4.2M527.7 122.7h-4.2M565.1 158.7v4.2M527.7 121h-4.2M566.5 158.7v4.2M527.7 119.6h-4.2M567.8 158.7v4.2M527.7 118.4h-4.2M568.8 158.7v4.2M527.7 117.3h-4.2M569.8 158.7v4.5M527.7 116.3h-4.5M576.1 158.7v4.2M527.7 110h-4.2M579.8 158.7v4.2M527.7 106.2h-4.2M582.5 158.7v4.2M527.7 103.6h-4.2M584.5 158.7v4.2M527.7 101.5h-4.2M586.2 158.7v4.2M527.7 99.9h-4.2M587.6 158.7v4.2M527.7 98.4h-4.2M588.8 158.7v4.2M527.7 97.2h-4.2M589.9 158.7v4.2M527.7 96.1h-4.2M590.8 158.7v4.5M527.7 95.2h-4.5M597.2 158.7v4.2M527.7 88.8h-4.2M600.9 158.7v4.2M527.7 85.1h-4.2M603.5 158.7v4.2M527.7 82.4h-4.2M605.6 158.7v4.2M527.7 80.4h-4.2M607.2 158.7v4.2M527.7 78.7h-4.2M608.6 158.7v4.2M527.7 77.3h-4.2M609.9 158.7v4.2M527.7 76h-4.2M610.9 158.7v4.2M527.7 75h-4.2M611.9 158.7v4.5M527.7 74h-4.5M618.2 158.7v4.2M527.7 67.6h-4.2M621.9 158.7v4.2M527.7 63.9h-4.2M624.6 158.7v4.2M527.7 61.2h-4.2M626.6 158.7v4.2M527.7 59.2h-4.2M628.3 158.7v4.2M527.7 57.5h-4.2M629.7 158.7v4.2M527.7 56.1h-4.2M630.9 158.7v4.2M527.7 54.9h-4.2M632 158.7v4.2M527.7 53.8h-4.2M632.9 158.7v4.5M527.7 52.8h-4.5M639.3 158.7v4.2M527.7 46.4h-4.2M643 158.7v4.2M527.7 42.7h-4.2M645.6 158.7v4.2M527.7 40.1h-4.2M647.7 158.7v4.2M527.7 38h-4.2M649.3 158.7v4.2M527.7 36.3h-4.2M650.7 158.7v4.2M527.7 34.9h-4.2M652 158.7v4.2M527.7 33.7h-4.2M653 158.7v4.2M527.7 32.6h-4.2M654 158.7v4.5M527.7 31.6h-4.5M658.2 158.7v4.5M527.7 27.4h-4.5" stroke="#000" stroke-width="1" fill="none"/>
<text x="527.5" y="171.7" class="tl" text-anchor="middle">ω<tspan class="sup" dy="-1.5">1</tspan></text><text transform="translate(519.4 159) rotate(-90)" class="tl" text-anchor="middle">ω<tspan class="sup" dy="-1.5">1</tspan></text><text x="548.5" y="171.7" class="tl" text-anchor="middle">ω<tspan class="sup" dy="-1.5">2</tspan></text><text transform="translate(519.4 137.8) rotate(-90)" class="tl" text-anchor="middle">ω<tspan class="sup" dy="-1.5">2</tspan></text><text x="569.6" y="171.7" class="tl" text-anchor="middle">ω<tspan class="sup" dy="-1.5">3</tspan></text><text transform="translate(519.4 116.6) rotate(-90)" class="tl" text-anchor="middle">ω<tspan class="sup" dy="-1.5">3</tspan></text><text x="590.6" y="171.7" class="tl" text-anchor="middle">ω<tspan class="sup" dy="-1.5">4</tspan></text><text transform="translate(519.4 95.5) rotate(-90)" class="tl" text-anchor="middle">ω<tspan class="sup" dy="-1.5">4</tspan></text><text x="611.7" y="171.7" class="tl" text-anchor="middle">ω<tspan class="sup" dy="-1.5">5</tspan></text><text transform="translate(519.4 74.3) rotate(-90)" class="tl" text-anchor="middle">ω<tspan class="sup" dy="-1.5">5</tspan></text><text x="632.7" y="171.7" class="tl" text-anchor="middle">ω<tspan class="sup" dy="-1.5">6</tspan></text><text transform="translate(519.4 53.1) rotate(-90)" class="tl" text-anchor="middle">ω<tspan class="sup" dy="-1.5">6</tspan></text><text x="658" y="171.7" class="tl" text-anchor="middle">ω<tspan class="sup" dy="-1.5">7.2</tspan></text><text transform="translate(519.4 27.7) rotate(-90)" class="tl" text-anchor="middle">ω<tspan class="sup" dy="-1.5">7.2</tspan></text>
<text x="541.8" y="41.8" class="qn">0.14</text>
<text x="624.8" y="41.8" class="qn">0.08</text>
<text x="624.8" y="118.9" class="qn">0.25</text>
<polygon points="39,270 50,269 60,267.5 70,264.5 77,261.5 81.5,259.5 81.5,259.5 81,280 79.5,300 78.5,314.5 38.7,314.5" fill="#000"/>
<path d="M68.7 264h1.2v1.2h-1.2zM74.1 261h1.2v1.2h-1.2zM38.4 267.4h1.2v1.2h-1.2zM44.4 268.2h1.2v1.2h-1.2zM40.9 268h1.2v1.2h-1.2zM61.6 262.8h1.2v1.2h-1.2zM39.8 265.7h1.2v1.2h-1.2zM43.2 268.5h1.2v1.2h-1.2zM65.5 264.2h1.2v1.2h-1.2zM52.7 266.2h1.2v1.2h-1.2zM47.7 265.4h1.2v1.2h-1.2zM47.3 264.9h1.2v1.2h-1.2zM72.6 260.9h1.2v1.2h-1.2zM39.5 266.3h1.2v1.2h-1.2zM39.5 267.9h1.2v1.2h-1.2zM57 267.1h1.2v1.2h-1.2zM65 262.5h1.2v1.2h-1.2zM63.6 264.6h1.2v1.2h-1.2zM60.3 264.8h1.2v1.2h-1.2zM48 264.5h1.2v1.2h-1.2zM79.4 256h1.2v1.2h-1.2zM79 258.9h1.2v1.2h-1.2zM80.3 259h1.2v1.2h-1.2zM59.3 266.6h1.2v1.2h-1.2zM58 264.8h1.2v1.2h-1.2zM68.7 262.8h1.2v1.2h-1.2zM53.3 267.4h1.2v1.2h-1.2zM56 266.7h1.2v1.2h-1.2zM46.7 266h1.2v1.2h-1.2zM60.6 265.3h1.2v1.2h-1.2zM46.9 266.2h1.2v1.2h-1.2zM47 268h1.2v1.2h-1.2zM62.1 263.6h1.2v1.2h-1.2zM78.7 256.9h1.2v1.2h-1.2zM76.8 255.2h1.2v1.2h-1.2zM68.7 261.4h1.2v1.2h-1.2zM41.1 268.7h1.2v1.2h-1.2zM38.6 265.4h1.2v1.2h-1.2zM68.9 262h1.2v1.2h-1.2zM49.9 267.4h1.2v1.2h-1.2zM45.4 266.8h1.2v1.2h-1.2zM80.3 258.4h1.2v1.2h-1.2zM40.3 268.8h1.2v1.2h-1.2zM53.3 263.2h1.2v1.2h-1.2zM72.5 261.2h1.2v1.2h-1.2zM42.9 268.8h1.2v1.2h-1.2zM44.9 265.8h1.2v1.2h-1.2zM58 260h1.2v1.2h-1.2zM76.1 257.6h1.2v1.2h-1.2zM58.8 263.5h1.2v1.2h-1.2zM44 268.7h1.2v1.2h-1.2zM62.5 264.5h1.2v1.2h-1.2zM47.5 268h1.2v1.2h-1.2zM38.9 264.5h1.2v1.2h-1.2zM67.5 258.4h1.2v1.2h-1.2zM79.6 258.2h1.2v1.2h-1.2zM69.7 262.7h1.2v1.2h-1.2zM71.8 258.8h1.2v1.2h-1.2zM44.3 268.8h1.2v1.2h-1.2zM47.6 266.8h1.2v1.2h-1.2zM55 267.5h1.2v1.2h-1.2zM72.8 259.1h1.2v1.2h-1.2zM58.7 266.9h1.2v1.2h-1.2zM75.8 259.5h1.2v1.2h-1.2zM41.4 268.3h1.2v1.2h-1.2zM64.3 260.9h1.2v1.2h-1.2zM59 264.9h1.2v1.2h-1.2zM47.4 268h1.2v1.2h-1.2zM76.7 259.7h1.2v1.2h-1.2zM42.8 267.2h1.2v1.2h-1.2z" fill="#000"/>
<path d="M44 269.2h1.2v1.2h-1.2zM58.6 268.1h1.2v1.2h-1.2zM66.5 266.3h1.2v1.2h-1.2zM57.7 267.2h1.2v1.2h-1.2zM69.8 263.8h1.2v1.2h-1.2zM59.1 267.6h1.2v1.2h-1.2zM68 265.9h1.2v1.2h-1.2zM49.1 269.7h1.2v1.2h-1.2zM68.6 264.9h1.2v1.2h-1.2zM44.9 271.7h1.2v1.2h-1.2zM64.5 265.5h1.2v1.2h-1.2zM49.3 272.4h1.2v1.2h-1.2zM48.5 269.1h1.2v1.2h-1.2zM73.1 264.6h1.2v1.2h-1.2zM66.4 266.5h1.2v1.2h-1.2zM40.1 269.4h1.2v1.2h-1.2zM80.7 261.1h1.2v1.2h-1.2zM40.1 269.3h1.2v1.2h-1.2zM49.3 271.6h1.2v1.2h-1.2zM48.2 269.9h1.2v1.2h-1.2zM78.6 261.3h1.2v1.2h-1.2zM77.8 260.7h1.2v1.2h-1.2z" fill="#fff"/>
<path d="M80.7 267.4h1.2v1.2h-1.2zM79 300.6h1.2v1.2h-1.2zM80.2 312.6h1.2v1.2h-1.2zM83.6 269.3h1.2v1.2h-1.2zM82 267.9h1.2v1.2h-1.2zM83.5 264.8h1.2v1.2h-1.2zM82.8 308.1h1.2v1.2h-1.2zM84.3 259.1h1.2v1.2h-1.2zM82.7 289.7h1.2v1.2h-1.2zM81.6 286.7h1.2v1.2h-1.2zM82.4 291.8h1.2v1.2h-1.2zM80.9 263.2h1.2v1.2h-1.2zM80.3 289h1.2v1.2h-1.2zM80.3 280.8h1.2v1.2h-1.2zM78.9 299.9h1.2v1.2h-1.2zM81.5 304.7h1.2v1.2h-1.2zM80.3 284.1h1.2v1.2h-1.2zM79.7 294.7h1.2v1.2h-1.2zM80.4 282.5h1.2v1.2h-1.2zM79.4 312.7h1.2v1.2h-1.2zM80.6 278.3h1.2v1.2h-1.2zM82.3 299.3h1.2v1.2h-1.2zM78.7 305.6h1.2v1.2h-1.2zM81.1 279.2h1.2v1.2h-1.2zM79.1 300.9h1.2v1.2h-1.2zM86.3 292.8h1.2v1.2h-1.2zM78.8 301.2h1.2v1.2h-1.2zM81 263h1.2v1.2h-1.2zM80.7 297.1h1.2v1.2h-1.2zM80.9 287.6h1.2v1.2h-1.2zM81.9 281.5h1.2v1.2h-1.2zM83.7 294.9h1.2v1.2h-1.2zM81.8 299.4h1.2v1.2h-1.2zM81.5 309.3h1.2v1.2h-1.2zM79 298.3h1.2v1.2h-1.2zM82.5 296.6h1.2v1.2h-1.2zM83.9 282.9h1.2v1.2h-1.2zM85.8 268.9h1.2v1.2h-1.2zM82.3 283.4h1.2v1.2h-1.2zM81.2 272.8h1.2v1.2h-1.2zM81.1 278.1h1.2v1.2h-1.2zM81.8 264.1h1.2v1.2h-1.2zM79.9 313h1.2v1.2h-1.2zM80.7 310.4h1.2v1.2h-1.2zM85.5 305.4h1.2v1.2h-1.2zM79.4 300.3h1.2v1.2h-1.2zM81.5 272.7h1.2v1.2h-1.2zM81.3 260.1h1.2v1.2h-1.2zM82.9 308h1.2v1.2h-1.2zM83.1 277.1h1.2v1.2h-1.2zM82.7 301.8h1.2v1.2h-1.2zM80 302.7h1.2v1.2h-1.2zM83.9 264.8h1.2v1.2h-1.2zM82.3 276.2h1.2v1.2h-1.2zM81.8 279.2h1.2v1.2h-1.2zM78.3 312h1.2v1.2h-1.2zM81.6 288.3h1.2v1.2h-1.2zM84.7 288.9h1.2v1.2h-1.2zM84.7 281.7h1.2v1.2h-1.2zM85.2 297.3h1.2v1.2h-1.2zM81.2 263.8h1.2v1.2h-1.2zM84.8 274.8h1.2v1.2h-1.2zM81.4 259.7h1.2v1.2h-1.2zM86 298.8h1.2v1.2h-1.2zM81.7 268.6h1.2v1.2h-1.2zM81.2 296.8h1.2v1.2h-1.2z" fill="#000"/>
<path d="M76.6 299.8h1.2v1.2h-1.2zM80.1 272.6h1.2v1.2h-1.2zM79 260.4h1.2v1.2h-1.2zM80.1 270.4h1.2v1.2h-1.2zM76.4 311.8h1.2v1.2h-1.2zM77.8 291.3h1.2v1.2h-1.2zM77.6 291.7h1.2v1.2h-1.2zM80.4 275.6h1.2v1.2h-1.2zM80.8 262.6h1.2v1.2h-1.2zM80.2 278.8h1.2v1.2h-1.2zM79.7 265.1h1.2v1.2h-1.2zM76.2 312.1h1.2v1.2h-1.2zM78.2 273.9h1.2v1.2h-1.2zM80.5 268.7h1.2v1.2h-1.2zM79.7 275.6h1.2v1.2h-1.2zM78.2 296.8h1.2v1.2h-1.2zM78.8 299h1.2v1.2h-1.2zM77.5 310.1h1.2v1.2h-1.2zM78.5 304.7h1.2v1.2h-1.2zM78.1 304.5h1.2v1.2h-1.2zM75.9 305.8h1.2v1.2h-1.2zM78.7 295.8h1.2v1.2h-1.2zM80.5 259.4h1.2v1.2h-1.2zM78 308.7h1.2v1.2h-1.2zM77.8 295.1h1.2v1.2h-1.2zM78.9 295.3h1.2v1.2h-1.2zM80.5 266.8h1.2v1.2h-1.2zM77.2 312.9h1.2v1.2h-1.2zM77.9 294.7h1.2v1.2h-1.2zM80.5 271.2h1.2v1.2h-1.2zM77.8 259.6h1.2v1.2h-1.2zM75.7 265.9h1.2v1.2h-1.2zM78.4 278.9h1.2v1.2h-1.2zM78.2 266.5h1.2v1.2h-1.2zM79.8 272.7h1.2v1.2h-1.2zM79.6 287.7h1.2v1.2h-1.2zM78 272.5h1.2v1.2h-1.2zM79.8 274.6h1.2v1.2h-1.2zM78.4 300.9h1.2v1.2h-1.2zM80.2 269.6h1.2v1.2h-1.2zM79.6 280h1.2v1.2h-1.2zM78.3 294.1h1.2v1.2h-1.2zM78.3 306.7h1.2v1.2h-1.2zM76.3 295.2h1.2v1.2h-1.2zM80.5 271.8h1.2v1.2h-1.2zM79.9 283h1.2v1.2h-1.2zM78.1 284.1h1.2v1.2h-1.2zM80.6 264.1h1.2v1.2h-1.2zM79.7 285.3h1.2v1.2h-1.2z" fill="#fff"/>
<path d="M39.9 309.7h1.3v1.3h-1.3zM39.1 313.8h1.3v1.3h-1.3zM41 309.3h1.3v1.3h-1.3zM54.9 307.9h1.3v1.3h-1.3zM38.8 312.3h1.3v1.3h-1.3zM46.5 307.7h1.3v1.3h-1.3zM50.6 290.4h1.3v1.3h-1.3zM50.1 313.4h1.3v1.3h-1.3zM55.6 308.4h1.3v1.3h-1.3zM40 312.9h1.3v1.3h-1.3zM50.3 312.4h1.3v1.3h-1.3zM38.9 311.9h1.3v1.3h-1.3zM53.8 309.4h1.3v1.3h-1.3zM46.2 313.7h1.3v1.3h-1.3zM42 311.3h1.3v1.3h-1.3zM39.7 305.7h1.3v1.3h-1.3zM41 313.3h1.3v1.3h-1.3zM56.4 309.1h1.3v1.3h-1.3zM39.5 314.3h1.3v1.3h-1.3zM44.7 308.6h1.3v1.3h-1.3zM38.5 309.3h1.3v1.3h-1.3zM46.4 308.2h1.3v1.3h-1.3zM40 308.8h1.3v1.3h-1.3zM43.9 305.9h1.3v1.3h-1.3zM39.3 301.3h1.3v1.3h-1.3zM55.8 303.6h1.3v1.3h-1.3zM50 310.7h1.3v1.3h-1.3zM52.3 312.7h1.3v1.3h-1.3zM39.9 307.1h1.3v1.3h-1.3zM52.3 313.7h1.3v1.3h-1.3zM39.8 314.1h1.3v1.3h-1.3zM41.8 313.1h1.3v1.3h-1.3zM39.6 303.3h1.3v1.3h-1.3zM43.6 291.9h1.3v1.3h-1.3zM41.4 305.3h1.3v1.3h-1.3zM38.4 290.6h1.3v1.3h-1.3zM39.9 309.2h1.3v1.3h-1.3zM42.7 290.6h1.3v1.3h-1.3zM42.4 290.4h1.3v1.3h-1.3zM44.2 312.4h1.3v1.3h-1.3zM49.1 312.5h1.3v1.3h-1.3zM56.4 309.5h1.3v1.3h-1.3zM39.9 290.4h1.3v1.3h-1.3zM40.7 310.2h1.3v1.3h-1.3zM40.9 305.5h1.3v1.3h-1.3zM38.5 310.6h1.3v1.3h-1.3zM39.4 300.3h1.3v1.3h-1.3zM38.4 306.9h1.3v1.3h-1.3zM40.1 309.5h1.3v1.3h-1.3zM43.3 304.4h1.3v1.3h-1.3zM39.2 312.1h1.3v1.3h-1.3zM39.1 290.4h1.3v1.3h-1.3zM39.3 313.2h1.3v1.3h-1.3zM42.8 307.4h1.3v1.3h-1.3zM51.4 313.9h1.3v1.3h-1.3zM40 312.9h1.3v1.3h-1.3zM43.6 309.5h1.3v1.3h-1.3zM41.5 296.8h1.3v1.3h-1.3zM44.9 298.6h1.3v1.3h-1.3zM56.4 311.8h1.3v1.3h-1.3zM55.4 310.2h1.3v1.3h-1.3zM38.7 294.7h1.3v1.3h-1.3zM39 314.2h1.3v1.3h-1.3zM40.4 311.6h1.3v1.3h-1.3zM56.4 298h1.3v1.3h-1.3zM41.6 308.3h1.3v1.3h-1.3zM49.7 301.2h1.3v1.3h-1.3zM44.7 308.6h1.3v1.3h-1.3zM39.1 312.1h1.3v1.3h-1.3zM44.8 307.3h1.3v1.3h-1.3zM48 296h1.3v1.3h-1.3zM56.4 312.6h1.3v1.3h-1.3zM38.8 296.1h1.3v1.3h-1.3zM43.4 312.7h1.3v1.3h-1.3zM45.4 312h1.3v1.3h-1.3zM40 310.7h1.3v1.3h-1.3zM42.8 305.3h1.3v1.3h-1.3zM38.8 303.5h1.3v1.3h-1.3zM44.2 309.2h1.3v1.3h-1.3zM45 301.5h1.3v1.3h-1.3zM38.4 309.2h1.3v1.3h-1.3zM45.1 304.5h1.3v1.3h-1.3zM44.6 312.8h1.3v1.3h-1.3zM56.4 302h1.3v1.3h-1.3zM39.9 309.8h1.3v1.3h-1.3zM56.4 312.5h1.3v1.3h-1.3zM41.5 290.4h1.3v1.3h-1.3zM52.2 312.2h1.3v1.3h-1.3zM46.3 310.8h1.3v1.3h-1.3zM44.9 302.7h1.3v1.3h-1.3zM39.2 312.3h1.3v1.3h-1.3zM39.8 311.9h1.3v1.3h-1.3zM38.6 313.2h1.3v1.3h-1.3zM41.5 310h1.3v1.3h-1.3zM38.8 307.4h1.3v1.3h-1.3zM55.5 307.5h1.3v1.3h-1.3zM41 304.6h1.3v1.3h-1.3zM41.8 312.8h1.3v1.3h-1.3zM42.3 314.2h1.3v1.3h-1.3zM45.1 312.9h1.3v1.3h-1.3zM41.1 290.4h1.3v1.3h-1.3zM47.1 299.9h1.3v1.3h-1.3zM44.5 306.3h1.3v1.3h-1.3zM45.7 290.4h1.3v1.3h-1.3zM39.7 302.7h1.3v1.3h-1.3zM40.5 312h1.3v1.3h-1.3zM48.7 307h1.3v1.3h-1.3zM49.7 297.7h1.3v1.3h-1.3zM43.7 312.6h1.3v1.3h-1.3zM38.4 308.2h1.3v1.3h-1.3zM46.1 311.8h1.3v1.3h-1.3zM38.8 314.3h1.3v1.3h-1.3zM39.5 304.8h1.3v1.3h-1.3zM38.4 312.3h1.3v1.3h-1.3zM40.2 304.4h1.3v1.3h-1.3z" fill="#fff"/>
<path d="M40.6 271V300" stroke="#ccc" stroke-width="1.2"/>
<path d="M97.5 246.8h1.2v1.2h-1.2zM96.7 247.7h1.2v1.2h-1.2zM86.1 255.1h1.2v1.2h-1.2zM87.5 253.9h1.2v1.2h-1.2zM83.4 260.5h1.2v1.2h-1.2zM81.9 259h1.2v1.2h-1.2zM85.7 258.1h1.2v1.2h-1.2zM86.5 255.2h1.2v1.2h-1.2zM95.5 246.7h1.2v1.2h-1.2zM83.6 258.7h1.2v1.2h-1.2zM93.8 249.8h1.2v1.2h-1.2zM95.7 250h1.2v1.2h-1.2zM83.7 258.4h1.2v1.2h-1.2zM94.1 249h1.2v1.2h-1.2zM91.3 250.6h1.2v1.2h-1.2zM84.4 257.8h1.2v1.2h-1.2zM91.9 251.2h1.2v1.2h-1.2zM86.5 253.1h1.2v1.2h-1.2zM82.1 260.7h1.2v1.2h-1.2zM84.9 256.1h1.2v1.2h-1.2zM91.7 252.6h1.2v1.2h-1.2zM86 256.2h1.2v1.2h-1.2zM85.3 258.2h1.2v1.2h-1.2zM92.7 249h1.2v1.2h-1.2zM93.9 248.4h1.2v1.2h-1.2zM94.5 251.5h1.2v1.2h-1.2zM84.6 260.6h1.2v1.2h-1.2zM85.7 260.9h1.2v1.2h-1.2zM89.3 254h1.2v1.2h-1.2zM88.5 252.4h1.2v1.2h-1.2zM90.6 248.4h1.2v1.2h-1.2zM84.6 260.1h1.2v1.2h-1.2zM89.9 253.1h1.2v1.2h-1.2zM85.3 256.8h1.2v1.2h-1.2zM92.4 250.9h1.2v1.2h-1.2zM90.5 257h1.2v1.2h-1.2zM92.6 252.4h1.2v1.2h-1.2zM91.6 251.3h1.2v1.2h-1.2zM97.2 247h1.2v1.2h-1.2zM88.1 253.6h1.2v1.2h-1.2zM82.3 260.7h1.2v1.2h-1.2zM89.7 255.1h1.2v1.2h-1.2zM83.7 259.9h1.2v1.2h-1.2zM86.2 257h1.2v1.2h-1.2zM84.2 259.8h1.2v1.2h-1.2zM90.1 253.6h1.2v1.2h-1.2zM84.3 258.9h1.2v1.2h-1.2zM87.8 256.3h1.2v1.2h-1.2zM97.5 246.9h1.2v1.2h-1.2zM94.5 252.5h1.2v1.2h-1.2zM90.4 255.5h1.2v1.2h-1.2zM84.9 254.9h1.2v1.2h-1.2zM93.7 250.3h1.2v1.2h-1.2zM98.7 247.9h1.2v1.2h-1.2zM87.4 255.6h1.2v1.2h-1.2zM89.6 254.6h1.2v1.2h-1.2zM94.7 247.6h1.2v1.2h-1.2zM93 249.2h1.2v1.2h-1.2zM88.4 256.4h1.2v1.2h-1.2zM92.6 254.2h1.2v1.2h-1.2zM92.7 254.8h1.2v1.2h-1.2zM87.4 257.8h1.2v1.2h-1.2zM85.6 256.1h1.2v1.2h-1.2zM87.1 255.2h1.2v1.2h-1.2zM86 258.7h1.2v1.2h-1.2zM92.5 253.4h1.2v1.2h-1.2zM86.9 259.3h1.2v1.2h-1.2zM95.9 246.6h1.2v1.2h-1.2zM94.8 248.1h1.2v1.2h-1.2zM87.8 255.8h1.2v1.2h-1.2zM89.7 251.2h1.2v1.2h-1.2zM87.6 257.6h1.2v1.2h-1.2zM97.8 248.9h1.2v1.2h-1.2zM91.8 249.6h1.2v1.2h-1.2zM83.1 261.5h1.2v1.2h-1.2zM88.5 252.5h1.2v1.2h-1.2zM94.1 250h1.2v1.2h-1.2zM87.3 255.7h1.2v1.2h-1.2zM88.9 257.8h1.2v1.2h-1.2zM85.8 257.9h1.2v1.2h-1.2zM94 249.9h1.2v1.2h-1.2zM87.9 256.8h1.2v1.2h-1.2zM84.5 255.5h1.2v1.2h-1.2zM90.1 255.8h1.2v1.2h-1.2zM87.2 257.7h1.2v1.2h-1.2zM81.6 258.3h1.2v1.2h-1.2zM88.7 252h1.2v1.2h-1.2zM94.5 247.6h1.2v1.2h-1.2zM86.5 253h1.2v1.2h-1.2zM94.9 251.7h1.2v1.2h-1.2zM81.4 259.9h1.2v1.2h-1.2zM92.4 249.7h1.2v1.2h-1.2zM90 254.7h1.2v1.2h-1.2zM88.3 255.3h1.2v1.2h-1.2zM95.4 248.6h1.2v1.2h-1.2zM95.9 244.8h1.2v1.2h-1.2zM93.2 251.2h1.2v1.2h-1.2zM86.3 255.1h1.2v1.2h-1.2zM83.5 257.2h1.2v1.2h-1.2zM94.7 251.9h1.2v1.2h-1.2zM94.6 244.2h1.2v1.2h-1.2zM85.5 259.6h1.2v1.2h-1.2zM93.9 250.7h1.2v1.2h-1.2zM96 247.1h1.2v1.2h-1.2zM90.9 255.9h1.2v1.2h-1.2zM93.3 243.8h1.2v1.2h-1.2zM91.8 253.1h1.2v1.2h-1.2zM92.9 247.2h1.2v1.2h-1.2zM86.2 256.5h1.2v1.2h-1.2zM89.3 252.8h1.2v1.2h-1.2zM81.9 259.6h1.2v1.2h-1.2zM93.6 249.5h1.2v1.2h-1.2zM90.9 253.4h1.2v1.2h-1.2zM96.6 247.4h1.2v1.2h-1.2zM92.1 250.8h1.2v1.2h-1.2zM93.1 249.2h1.2v1.2h-1.2zM99 249.6h1.2v1.2h-1.2zM89.1 254.6h1.2v1.2h-1.2zM93.4 249h1.2v1.2h-1.2zM85.4 252.8h1.2v1.2h-1.2zM86.8 256.4h1.2v1.2h-1.2zM85.9 258.2h1.2v1.2h-1.2zM91.3 251.3h1.2v1.2h-1.2zM86 258.1h1.2v1.2h-1.2zM86.1 255.6h1.2v1.2h-1.2zM86.9 250.7h1.2v1.2h-1.2zM90.3 255h1.2v1.2h-1.2zM84.4 257.7h1.2v1.2h-1.2zM86.2 259.5h1.2v1.2h-1.2zM95.8 245.3h1.2v1.2h-1.2zM87.9 253.1h1.2v1.2h-1.2zM89.8 255.6h1.2v1.2h-1.2zM92.8 254.6h1.2v1.2h-1.2zM92.4 248.6h1.2v1.2h-1.2zM95 245.9h1.2v1.2h-1.2zM84.8 255.3h1.2v1.2h-1.2zM93.6 250.7h1.2v1.2h-1.2zM88 257.2h1.2v1.2h-1.2zM90 252h1.2v1.2h-1.2zM94.8 245.7h1.2v1.2h-1.2zM86.9 259.2h1.2v1.2h-1.2zM95.1 250h1.2v1.2h-1.2zM88.2 252.8h1.2v1.2h-1.2zM95 246.3h1.2v1.2h-1.2z" fill="#000"/>
<path d="M97.6 243.6h1.2v1.2h-1.2zM95.4 247.3h1.2v1.2h-1.2zM98.3 244.2h1.2v1.2h-1.2zM95.3 246.2h1.2v1.2h-1.2zM97.2 246.1h1.2v1.2h-1.2zM99.6 244.2h1.2v1.2h-1.2zM95.3 250.7h1.2v1.2h-1.2zM98.9 244.5h1.2v1.2h-1.2zM95.5 249.6h1.2v1.2h-1.2zM99.9 247.1h1.2v1.2h-1.2zM97.6 246.9h1.2v1.2h-1.2zM98.1 243.1h1.2v1.2h-1.2zM98.5 245.8h1.2v1.2h-1.2zM96.4 251.6h1.2v1.2h-1.2zM97.7 246.4h1.2v1.2h-1.2zM95.4 250.6h1.2v1.2h-1.2zM97.3 245.3h1.2v1.2h-1.2zM96.7 249.4h1.2v1.2h-1.2zM98.7 246.3h1.2v1.2h-1.2zM98 242.4h1.2v1.2h-1.2zM97.1 247.7h1.2v1.2h-1.2zM98.6 243.3h1.2v1.2h-1.2zM96.5 249.5h1.2v1.2h-1.2zM99.4 245.5h1.2v1.2h-1.2zM99 246h1.2v1.2h-1.2zM96.9 244.4h1.2v1.2h-1.2zM97.5 243.8h1.2v1.2h-1.2zM98.6 249.3h1.2v1.2h-1.2zM98 243.5h1.2v1.2h-1.2zM94.7 248.4h1.2v1.2h-1.2zM95.2 252.2h1.2v1.2h-1.2zM99.2 247.9h1.2v1.2h-1.2zM95.6 247.9h1.2v1.2h-1.2zM95.8 243.2h1.2v1.2h-1.2zM100.1 244.4h1.2v1.2h-1.2zM95.8 247.8h1.2v1.2h-1.2zM98.7 245h1.2v1.2h-1.2zM100 245.4h1.2v1.2h-1.2zM96.1 248.9h1.2v1.2h-1.2zM99.1 245.8h1.2v1.2h-1.2zM97.1 245.7h1.2v1.2h-1.2zM96.9 251.6h1.2v1.2h-1.2zM95.4 250.6h1.2v1.2h-1.2zM97.4 243.5h1.2v1.2h-1.2zM100.7 243.9h1.2v1.2h-1.2zM95.4 249.9h1.2v1.2h-1.2zM96.9 242.8h1.2v1.2h-1.2zM95.4 249.6h1.2v1.2h-1.2zM93.5 249.3h1.2v1.2h-1.2zM95.1 249.4h1.2v1.2h-1.2zM98.6 249.9h1.2v1.2h-1.2zM97.8 242h1.2v1.2h-1.2zM98 245.2h1.2v1.2h-1.2zM96.5 242.2h1.2v1.2h-1.2z" fill="#000"/>
<path d="M94.9 276h1.2v1.2h-1.2zM97.5 256.2h1.2v1.2h-1.2zM98.7 305.1h1.2v1.2h-1.2zM98.2 255.2h1.2v1.2h-1.2zM97 262.3h1.2v1.2h-1.2zM94.2 276.3h1.2v1.2h-1.2zM94.3 299.9h1.2v1.2h-1.2zM97.3 274.3h1.2v1.2h-1.2zM96.1 267.7h1.2v1.2h-1.2zM97 255.6h1.2v1.2h-1.2zM98.5 258.8h1.2v1.2h-1.2zM95.8 257.2h1.2v1.2h-1.2zM96.3 294.9h1.2v1.2h-1.2zM95.5 260.3h1.2v1.2h-1.2zM95.7 303.5h1.2v1.2h-1.2zM95.7 278.4h1.2v1.2h-1.2zM95.2 253.1h1.2v1.2h-1.2zM96.5 287.1h1.2v1.2h-1.2zM95.1 273.5h1.2v1.2h-1.2zM94.7 302.3h1.2v1.2h-1.2zM97.4 280.4h1.2v1.2h-1.2zM98.9 256.1h1.2v1.2h-1.2zM98.4 264.1h1.2v1.2h-1.2zM97.2 292h1.2v1.2h-1.2zM99 300.6h1.2v1.2h-1.2zM94.6 305.5h1.2v1.2h-1.2zM97.6 304.6h1.2v1.2h-1.2zM96 266.3h1.2v1.2h-1.2zM97.7 256h1.2v1.2h-1.2zM94.4 280.3h1.2v1.2h-1.2zM94.9 268.7h1.2v1.2h-1.2zM95.2 278.8h1.2v1.2h-1.2zM98 268.6h1.2v1.2h-1.2zM95.8 305.8h1.2v1.2h-1.2zM95.6 251.7h1.2v1.2h-1.2zM97.9 259.9h1.2v1.2h-1.2zM97.5 295.8h1.2v1.2h-1.2zM93.6 301.6h1.2v1.2h-1.2zM95.9 289.4h1.2v1.2h-1.2zM95.6 272.6h1.2v1.2h-1.2zM95 281h1.2v1.2h-1.2zM98.8 299.8h1.2v1.2h-1.2zM97.2 249.1h1.2v1.2h-1.2zM93.2 297h1.2v1.2h-1.2zM95.8 263h1.2v1.2h-1.2zM95.5 266.6h1.2v1.2h-1.2zM93.7 288.8h1.2v1.2h-1.2zM93.9 305.5h1.2v1.2h-1.2zM96.2 264.1h1.2v1.2h-1.2zM91.6 285.7h1.2v1.2h-1.2zM97.8 305.1h1.2v1.2h-1.2zM97.6 256.6h1.2v1.2h-1.2zM96 268.5h1.2v1.2h-1.2zM96.8 256.5h1.2v1.2h-1.2zM96.3 281.8h1.2v1.2h-1.2zM98.5 276.9h1.2v1.2h-1.2zM97.1 271.9h1.2v1.2h-1.2zM98.3 251.6h1.2v1.2h-1.2zM96.2 293h1.2v1.2h-1.2zM95.7 262.3h1.2v1.2h-1.2zM98.2 271.4h1.2v1.2h-1.2zM98.5 259.9h1.2v1.2h-1.2zM100.3 274.3h1.2v1.2h-1.2zM96.3 283.2h1.2v1.2h-1.2zM97.7 253h1.2v1.2h-1.2zM97.7 285.9h1.2v1.2h-1.2zM95.7 277.5h1.2v1.2h-1.2zM97.7 257.5h1.2v1.2h-1.2zM96.6 300.2h1.2v1.2h-1.2zM96.5 257.7h1.2v1.2h-1.2zM96.8 296.9h1.2v1.2h-1.2zM94.8 284.5h1.2v1.2h-1.2zM95 268h1.2v1.2h-1.2zM97.4 289.6h1.2v1.2h-1.2zM98.6 287.3h1.2v1.2h-1.2zM97.3 253.3h1.2v1.2h-1.2zM97.9 261.2h1.2v1.2h-1.2zM99.2 251.4h1.2v1.2h-1.2zM97.2 268.3h1.2v1.2h-1.2zM99 261.5h1.2v1.2h-1.2zM96.5 273.2h1.2v1.2h-1.2zM93.2 279.3h1.2v1.2h-1.2zM99 253.8h1.2v1.2h-1.2zM98 258.7h1.2v1.2h-1.2zM97.2 296.3h1.2v1.2h-1.2zM97.2 295.3h1.2v1.2h-1.2zM95.1 276.7h1.2v1.2h-1.2zM100.4 287.8h1.2v1.2h-1.2zM98 249.6h1.2v1.2h-1.2zM97.5 254.7h1.2v1.2h-1.2zM96.9 281.3h1.2v1.2h-1.2zM98.1 289.1h1.2v1.2h-1.2zM95.5 263.9h1.2v1.2h-1.2zM95.6 248.7h1.2v1.2h-1.2zM96.8 297.9h1.2v1.2h-1.2zM96.4 298.3h1.2v1.2h-1.2zM97 270h1.2v1.2h-1.2zM99.2 251.5h1.2v1.2h-1.2zM97.5 307h1.2v1.2h-1.2zM94.9 293h1.2v1.2h-1.2zM98.6 303.1h1.2v1.2h-1.2zM96 281.5h1.2v1.2h-1.2zM97.5 276.5h1.2v1.2h-1.2zM97.7 277.4h1.2v1.2h-1.2zM98.8 264.1h1.2v1.2h-1.2zM97.4 272h1.2v1.2h-1.2zM97.1 279.9h1.2v1.2h-1.2zM96.1 288.1h1.2v1.2h-1.2zM95.6 262.1h1.2v1.2h-1.2zM97.3 270.4h1.2v1.2h-1.2zM95.7 288.5h1.2v1.2h-1.2zM96 291h1.2v1.2h-1.2zM97.4 269.3h1.2v1.2h-1.2zM96.5 291.4h1.2v1.2h-1.2zM96.7 260.7h1.2v1.2h-1.2zM98.1 286.6h1.2v1.2h-1.2zM95.8 264h1.2v1.2h-1.2zM95.8 249.7h1.2v1.2h-1.2zM93.7 286.6h1.2v1.2h-1.2zM97.5 261.6h1.2v1.2h-1.2zM96.5 293.5h1.2v1.2h-1.2zM97.1 270.1h1.2v1.2h-1.2zM94 288.5h1.2v1.2h-1.2zM97.8 298.6h1.2v1.2h-1.2zM96.1 266.1h1.2v1.2h-1.2zM97.9 258.5h1.2v1.2h-1.2zM97.8 298.5h1.2v1.2h-1.2zM97.1 299.9h1.2v1.2h-1.2zM96.9 293h1.2v1.2h-1.2zM97.7 300.6h1.2v1.2h-1.2zM96.6 282.6h1.2v1.2h-1.2zM97.1 270.7h1.2v1.2h-1.2zM96.9 269h1.2v1.2h-1.2zM97.2 287.2h1.2v1.2h-1.2zM98.4 248.5h1.2v1.2h-1.2zM96.1 266.1h1.2v1.2h-1.2zM95.9 301.5h1.2v1.2h-1.2zM96.8 281.5h1.2v1.2h-1.2zM98.3 266.3h1.2v1.2h-1.2zM96 277.9h1.2v1.2h-1.2zM98.3 266.4h1.2v1.2h-1.2zM92.5 301.4h1.2v1.2h-1.2zM96.5 261.6h1.2v1.2h-1.2zM96.9 282.2h1.2v1.2h-1.2zM95.8 293.7h1.2v1.2h-1.2zM101.1 293.4h1.2v1.2h-1.2zM98.2 251.5h1.2v1.2h-1.2zM96.1 283.1h1.2v1.2h-1.2zM98.8 280.6h1.2v1.2h-1.2zM97.5 255.1h1.2v1.2h-1.2zM96.2 273.5h1.2v1.2h-1.2zM96.8 274.8h1.2v1.2h-1.2zM96.2 253.7h1.2v1.2h-1.2zM98.1 273.1h1.2v1.2h-1.2zM101 288.7h1.2v1.2h-1.2zM98.9 257.8h1.2v1.2h-1.2zM96.3 269.2h1.2v1.2h-1.2zM97.1 299.3h1.2v1.2h-1.2zM97.8 283.5h1.2v1.2h-1.2zM96.1 252.7h1.2v1.2h-1.2zM98.3 254h1.2v1.2h-1.2zM98.4 268.1h1.2v1.2h-1.2zM100.2 268.5h1.2v1.2h-1.2zM97.7 269.2h1.2v1.2h-1.2zM97.4 285.9h1.2v1.2h-1.2zM96.6 272.6h1.2v1.2h-1.2zM96.1 274h1.2v1.2h-1.2zM95.3 290.6h1.2v1.2h-1.2zM97.1 302.9h1.2v1.2h-1.2zM97.8 276.9h1.2v1.2h-1.2zM98.6 257.3h1.2v1.2h-1.2zM97.6 262.8h1.2v1.2h-1.2zM95.7 284.2h1.2v1.2h-1.2zM97.8 266.1h1.2v1.2h-1.2zM97.4 275.8h1.2v1.2h-1.2zM97.9 265.2h1.2v1.2h-1.2zM96.2 283h1.2v1.2h-1.2zM99.7 261.4h1.2v1.2h-1.2zM96.6 280.3h1.2v1.2h-1.2zM94 273.7h1.2v1.2h-1.2zM94.8 286.3h1.2v1.2h-1.2zM94 249.2h1.2v1.2h-1.2zM96.7 291.4h1.2v1.2h-1.2zM96.4 257.6h1.2v1.2h-1.2zM96.3 248.5h1.2v1.2h-1.2zM97 295.5h1.2v1.2h-1.2zM95.1 299.2h1.2v1.2h-1.2zM95.6 267.7h1.2v1.2h-1.2zM95.6 252.2h1.2v1.2h-1.2zM96.7 255.4h1.2v1.2h-1.2zM94.3 263.5h1.2v1.2h-1.2zM94.4 298.4h1.2v1.2h-1.2zM97 295.5h1.2v1.2h-1.2zM96.4 294.6h1.2v1.2h-1.2zM95.8 252.9h1.2v1.2h-1.2zM96 283.2h1.2v1.2h-1.2zM99.2 288.9h1.2v1.2h-1.2zM95.5 275.8h1.2v1.2h-1.2zM97.2 263.2h1.2v1.2h-1.2zM97.6 261.8h1.2v1.2h-1.2zM96.4 262.4h1.2v1.2h-1.2zM98.7 269.4h1.2v1.2h-1.2zM97.4 248.5h1.2v1.2h-1.2zM96.9 299.1h1.2v1.2h-1.2zM97.2 267.3h1.2v1.2h-1.2zM97.8 271.5h1.2v1.2h-1.2zM98.1 301.5h1.2v1.2h-1.2zM95.5 294.5h1.2v1.2h-1.2zM96.7 268.2h1.2v1.2h-1.2zM98.2 263.5h1.2v1.2h-1.2zM97.9 269.7h1.2v1.2h-1.2zM94.1 273.3h1.2v1.2h-1.2zM96.2 262h1.2v1.2h-1.2zM97.2 282.7h1.2v1.2h-1.2zM97.2 294.3h1.2v1.2h-1.2zM97.7 292.7h1.2v1.2h-1.2zM98.6 272.1h1.2v1.2h-1.2zM96 259.3h1.2v1.2h-1.2zM96.1 277.9h1.2v1.2h-1.2zM96.9 298.5h1.2v1.2h-1.2zM98.1 258.5h1.2v1.2h-1.2zM98.4 275.4h1.2v1.2h-1.2zM96.6 277.1h1.2v1.2h-1.2zM96 302.1h1.2v1.2h-1.2zM98.2 292.2h1.2v1.2h-1.2zM96.9 260.1h1.2v1.2h-1.2zM96.1 290.9h1.2v1.2h-1.2zM97.8 286.1h1.2v1.2h-1.2zM98.8 251.1h1.2v1.2h-1.2zM99.5 256.6h1.2v1.2h-1.2zM95.8 252.8h1.2v1.2h-1.2zM97.4 251.2h1.2v1.2h-1.2zM95.6 263h1.2v1.2h-1.2zM97.6 263.2h1.2v1.2h-1.2zM96.4 268.6h1.2v1.2h-1.2zM97.3 254.7h1.2v1.2h-1.2zM95.2 267.6h1.2v1.2h-1.2zM95.2 293.2h1.2v1.2h-1.2zM97.4 249.5h1.2v1.2h-1.2zM97.2 302.4h1.2v1.2h-1.2zM95.8 251.9h1.2v1.2h-1.2zM99.2 274h1.2v1.2h-1.2zM97.3 296.3h1.2v1.2h-1.2zM95.7 271.1h1.2v1.2h-1.2zM98.2 286.1h1.2v1.2h-1.2zM96.6 282.1h1.2v1.2h-1.2zM94.8 298.4h1.2v1.2h-1.2zM95.9 299.1h1.2v1.2h-1.2zM98.6 283.6h1.2v1.2h-1.2zM95.9 275.6h1.2v1.2h-1.2zM96.6 288.9h1.2v1.2h-1.2zM97.8 284.6h1.2v1.2h-1.2zM98.6 249.5h1.2v1.2h-1.2zM97 282.9h1.2v1.2h-1.2zM97.1 287.9h1.2v1.2h-1.2zM99.6 265.5h1.2v1.2h-1.2zM97.4 254.5h1.2v1.2h-1.2zM93.4 302.4h1.2v1.2h-1.2zM96.3 269.9h1.2v1.2h-1.2zM97.4 277.3h1.2v1.2h-1.2zM97.9 279.8h1.2v1.2h-1.2zM97.9 270.4h1.2v1.2h-1.2zM97.1 305h1.2v1.2h-1.2zM98.4 297h1.2v1.2h-1.2zM96.7 264.3h1.2v1.2h-1.2zM96.1 273.7h1.2v1.2h-1.2zM96.8 273.1h1.2v1.2h-1.2zM98.8 256.8h1.2v1.2h-1.2zM95.1 302.1h1.2v1.2h-1.2zM97 280.6h1.2v1.2h-1.2zM95.7 273.5h1.2v1.2h-1.2zM96.8 281.8h1.2v1.2h-1.2zM95 301.9h1.2v1.2h-1.2zM94.9 289.6h1.2v1.2h-1.2zM97.6 255.4h1.2v1.2h-1.2zM97.2 257h1.2v1.2h-1.2zM96.8 253.9h1.2v1.2h-1.2zM96.7 255.4h1.2v1.2h-1.2zM96.9 263.8h1.2v1.2h-1.2zM97.5 250.5h1.2v1.2h-1.2zM98 303.3h1.2v1.2h-1.2zM95.7 298.2h1.2v1.2h-1.2zM98.7 287.8h1.2v1.2h-1.2zM98 264.1h1.2v1.2h-1.2zM97.2 274.1h1.2v1.2h-1.2zM97.4 266.2h1.2v1.2h-1.2zM96.9 252.3h1.2v1.2h-1.2zM95.8 261.7h1.2v1.2h-1.2zM97 276.7h1.2v1.2h-1.2zM95.9 271.6h1.2v1.2h-1.2zM92 303.7h1.2v1.2h-1.2zM96.2 303.8h1.2v1.2h-1.2zM95 285.4h1.2v1.2h-1.2zM95.8 284.8h1.2v1.2h-1.2zM96.8 252.3h1.2v1.2h-1.2zM97.8 262.8h1.2v1.2h-1.2zM97 274.6h1.2v1.2h-1.2zM95.1 286.7h1.2v1.2h-1.2zM96.7 285.5h1.2v1.2h-1.2zM95.8 258.9h1.2v1.2h-1.2zM98.5 273.3h1.2v1.2h-1.2zM97.4 290.5h1.2v1.2h-1.2zM97.7 281h1.2v1.2h-1.2zM93.2 302.8h1.2v1.2h-1.2zM99.2 305.9h1.2v1.2h-1.2zM97.3 261h1.2v1.2h-1.2zM94.4 301.3h1.2v1.2h-1.2zM96.7 262.9h1.2v1.2h-1.2zM98.8 267h1.2v1.2h-1.2zM94.9 296.1h1.2v1.2h-1.2zM96.2 258.5h1.2v1.2h-1.2zM97.5 260.5h1.2v1.2h-1.2zM97.5 256.6h1.2v1.2h-1.2zM97.7 298.2h1.2v1.2h-1.2zM97.2 266.2h1.2v1.2h-1.2zM98.7 249h1.2v1.2h-1.2zM96.6 248.3h1.2v1.2h-1.2zM96.5 247.9h1.2v1.2h-1.2zM96.5 262.7h1.2v1.2h-1.2zM98.1 288.9h1.2v1.2h-1.2zM98 263.8h1.2v1.2h-1.2zM93.8 269.4h1.2v1.2h-1.2zM97.1 255.1h1.2v1.2h-1.2zM95.5 288.4h1.2v1.2h-1.2zM96.3 279.6h1.2v1.2h-1.2zM96.8 279.9h1.2v1.2h-1.2zM97.7 258.4h1.2v1.2h-1.2zM97.9 292.6h1.2v1.2h-1.2zM95.3 300.7h1.2v1.2h-1.2zM95.7 266.6h1.2v1.2h-1.2zM98.4 254.8h1.2v1.2h-1.2zM97.6 301.4h1.2v1.2h-1.2zM95.8 301.7h1.2v1.2h-1.2zM96.7 274.3h1.2v1.2h-1.2zM99.3 253.7h1.2v1.2h-1.2zM98.4 261.3h1.2v1.2h-1.2zM96.2 255.9h1.2v1.2h-1.2zM92.2 266.6h1.2v1.2h-1.2zM96.3 273h1.2v1.2h-1.2zM96.4 258h1.2v1.2h-1.2zM97.6 252.4h1.2v1.2h-1.2zM100 276.8h1.2v1.2h-1.2zM95.3 271.1h1.2v1.2h-1.2zM96.5 282.5h1.2v1.2h-1.2zM98.5 277.1h1.2v1.2h-1.2zM97.7 278.1h1.2v1.2h-1.2zM95.5 306.3h1.2v1.2h-1.2zM97.1 248.8h1.2v1.2h-1.2zM95.7 271.7h1.2v1.2h-1.2zM94.9 303.3h1.2v1.2h-1.2zM95.1 281.7h1.2v1.2h-1.2zM97.5 263h1.2v1.2h-1.2zM98 280h1.2v1.2h-1.2zM94.9 272h1.2v1.2h-1.2zM97 294.3h1.2v1.2h-1.2zM93.4 281.4h1.2v1.2h-1.2zM93.1 292.3h1.2v1.2h-1.2zM97.1 287.9h1.2v1.2h-1.2zM95.3 295.6h1.2v1.2h-1.2zM97.6 281.8h1.2v1.2h-1.2zM97.5 291.8h1.2v1.2h-1.2zM94.9 279.1h1.2v1.2h-1.2zM100.9 300.4h1.2v1.2h-1.2zM99.2 249.9h1.2v1.2h-1.2zM94.2 289.9h1.2v1.2h-1.2zM98.1 275.2h1.2v1.2h-1.2zM96.2 288.8h1.2v1.2h-1.2zM96.6 266.4h1.2v1.2h-1.2zM94 293.9h1.2v1.2h-1.2zM96.2 295h1.2v1.2h-1.2zM97.7 260.4h1.2v1.2h-1.2zM97.5 283.9h1.2v1.2h-1.2zM95.3 301.9h1.2v1.2h-1.2zM98.6 262.3h1.2v1.2h-1.2zM96.7 267.7h1.2v1.2h-1.2zM96.1 279h1.2v1.2h-1.2zM97.7 249.8h1.2v1.2h-1.2zM94.4 303.2h1.2v1.2h-1.2zM100.2 270.7h1.2v1.2h-1.2zM97.8 252h1.2v1.2h-1.2zM98 256.7h1.2v1.2h-1.2zM94.6 282.4h1.2v1.2h-1.2zM94.9 278.2h1.2v1.2h-1.2zM95.4 297h1.2v1.2h-1.2zM96.3 295h1.2v1.2h-1.2zM95.9 298.1h1.2v1.2h-1.2zM96 291.6h1.2v1.2h-1.2zM94.8 296.2h1.2v1.2h-1.2zM95 296.1h1.2v1.2h-1.2zM97.8 286.6h1.2v1.2h-1.2zM96.8 281.3h1.2v1.2h-1.2zM94.6 280.3h1.2v1.2h-1.2zM96 300.5h1.2v1.2h-1.2zM94.5 287.7h1.2v1.2h-1.2zM96.6 292.7h1.2v1.2h-1.2zM96.9 263.7h1.2v1.2h-1.2zM95.9 295.5h1.2v1.2h-1.2zM96.3 268h1.2v1.2h-1.2zM97.4 252h1.2v1.2h-1.2zM95.4 286.9h1.2v1.2h-1.2zM95.4 286h1.2v1.2h-1.2zM95.4 274.1h1.2v1.2h-1.2zM96.6 261.1h1.2v1.2h-1.2zM98.8 293.4h1.2v1.2h-1.2zM98.2 255.7h1.2v1.2h-1.2zM97.2 264h1.2v1.2h-1.2zM97.6 268.1h1.2v1.2h-1.2zM98.1 285.1h1.2v1.2h-1.2zM94.4 301.2h1.2v1.2h-1.2zM95.9 280.5h1.2v1.2h-1.2zM95.7 263.4h1.2v1.2h-1.2zM95.4 293.1h1.2v1.2h-1.2zM97.7 305.6h1.2v1.2h-1.2zM95 296.3h1.2v1.2h-1.2zM98.9 254.5h1.2v1.2h-1.2zM96.9 301.1h1.2v1.2h-1.2zM97.1 278.5h1.2v1.2h-1.2zM94 274.4h1.2v1.2h-1.2zM100.4 302.1h1.2v1.2h-1.2zM95.5 255.6h1.2v1.2h-1.2zM100.5 299.7h1.2v1.2h-1.2zM96 248.5h1.2v1.2h-1.2zM96.5 269.3h1.2v1.2h-1.2zM98 291.8h1.2v1.2h-1.2zM96.5 258.5h1.2v1.2h-1.2zM96.4 253.1h1.2v1.2h-1.2zM98.6 270.2h1.2v1.2h-1.2zM94 299.3h1.2v1.2h-1.2zM96.5 269.3h1.2v1.2h-1.2zM98.2 277.8h1.2v1.2h-1.2zM97.4 305.3h1.2v1.2h-1.2zM95.1 273.5h1.2v1.2h-1.2zM98.2 282.2h1.2v1.2h-1.2zM97.8 263.2h1.2v1.2h-1.2zM94.9 273.7h1.2v1.2h-1.2zM96.4 260.1h1.2v1.2h-1.2zM96.4 266.8h1.2v1.2h-1.2zM96.9 261.1h1.2v1.2h-1.2zM97.1 279.2h1.2v1.2h-1.2zM98.5 251.1h1.2v1.2h-1.2zM94.5 269.5h1.2v1.2h-1.2zM95.3 265.8h1.2v1.2h-1.2zM96.4 286.1h1.2v1.2h-1.2zM94.3 276.4h1.2v1.2h-1.2zM96.9 284.9h1.2v1.2h-1.2zM96.8 261.8h1.2v1.2h-1.2zM98.8 295.6h1.2v1.2h-1.2zM96.3 267.4h1.2v1.2h-1.2zM98.1 286.5h1.2v1.2h-1.2zM95.1 258.9h1.2v1.2h-1.2zM97.2 278.7h1.2v1.2h-1.2zM96.6 268.5h1.2v1.2h-1.2zM100.1 249.2h1.2v1.2h-1.2zM96.6 292.9h1.2v1.2h-1.2zM97.5 261h1.2v1.2h-1.2zM98 290.8h1.2v1.2h-1.2zM94.9 279.6h1.2v1.2h-1.2zM96.7 269.9h1.2v1.2h-1.2zM94.1 299h1.2v1.2h-1.2zM96.8 270h1.2v1.2h-1.2zM96.8 259.3h1.2v1.2h-1.2zM96.8 291.8h1.2v1.2h-1.2zM96 293.4h1.2v1.2h-1.2zM97.6 248.9h1.2v1.2h-1.2zM97.5 291.9h1.2v1.2h-1.2zM96.9 290.2h1.2v1.2h-1.2zM98.8 278.5h1.2v1.2h-1.2zM97.7 260h1.2v1.2h-1.2zM98.7 254.4h1.2v1.2h-1.2zM95.4 282.3h1.2v1.2h-1.2zM97.3 254.4h1.2v1.2h-1.2zM97.4 254.3h1.2v1.2h-1.2zM94.5 262.7h1.2v1.2h-1.2zM97.1 263.5h1.2v1.2h-1.2zM96.7 282h1.2v1.2h-1.2zM94.6 303.5h1.2v1.2h-1.2zM96.5 267.2h1.2v1.2h-1.2zM93 300.2h1.2v1.2h-1.2zM93.8 265.9h1.2v1.2h-1.2zM96.9 264.1h1.2v1.2h-1.2zM96.2 269.5h1.2v1.2h-1.2zM98.5 262.2h1.2v1.2h-1.2zM99.6 265.6h1.2v1.2h-1.2zM98.4 291.2h1.2v1.2h-1.2zM98 293.7h1.2v1.2h-1.2zM94.9 268h1.2v1.2h-1.2zM93.6 284h1.2v1.2h-1.2zM93.6 299.6h1.2v1.2h-1.2zM99.9 261.6h1.2v1.2h-1.2zM99.2 268.4h1.2v1.2h-1.2zM98.3 258.7h1.2v1.2h-1.2zM95 305.8h1.2v1.2h-1.2zM97.5 250.7h1.2v1.2h-1.2zM98.2 256.6h1.2v1.2h-1.2zM94.4 294.5h1.2v1.2h-1.2zM95.4 298.2h1.2v1.2h-1.2zM100.1 292.7h1.2v1.2h-1.2zM100 268.6h1.2v1.2h-1.2zM93.9 267.6h1.2v1.2h-1.2zM100.5 259.3h1.2v1.2h-1.2zM95.9 253.9h1.2v1.2h-1.2zM97 291.3h1.2v1.2h-1.2zM93.7 304.2h1.2v1.2h-1.2zM97.4 290.8h1.2v1.2h-1.2z" fill="#000"/>
<path d="M95.9 299.5h1v1h-1zM95.6 302.2h1v1h-1zM96.7 302.6h1v1h-1zM94.6 289.3h1v1h-1zM92 305h1v1h-1zM99.1 283.3h1v1h-1zM102.7 309.3h1v1h-1zM102.5 266.1h1v1h-1zM99.4 298.4h1v1h-1zM98.3 262.8h1v1h-1zM102.1 283.9h1v1h-1zM98.1 302.7h1v1h-1zM94.3 263.5h1v1h-1zM102.1 275.5h1v1h-1zM91.5 268.8h1v1h-1zM102.9 299h1v1h-1zM93.5 269.3h1v1h-1zM101.8 295.2h1v1h-1zM98 268.6h1v1h-1zM96 309.3h1v1h-1zM92.3 309.7h1v1h-1zM101.1 298.6h1v1h-1zM96.9 286.6h1v1h-1zM92.7 287.6h1v1h-1zM100.6 268.6h1v1h-1zM101.5 283h1v1h-1zM94.2 274h1v1h-1zM96.5 294.4h1v1h-1zM97.8 306.5h1v1h-1zM97.1 287.6h1v1h-1zM102.9 272.8h1v1h-1zM94.8 268.2h1v1h-1zM96 263.7h1v1h-1zM102 286.2h1v1h-1zM101.5 296.9h1v1h-1z" fill="#000"/>
<path d="M89.3 290.8h1v1h-1zM85 289.7h1v1h-1zM84.1 283.1h1v1h-1zM88 291.5h1v1h-1zM83.7 275.1h1v1h-1zM90.2 292.6h1v1h-1zM91.8 266.5h1v1h-1zM84.1 266.1h1v1h-1zM89.2 290.3h1v1h-1zM88.5 291.6h1v1h-1zM87.2 283.4h1v1h-1zM91.2 286.6h1v1h-1zM88.6 284.4h1v1h-1zM86.9 290.8h1v1h-1zM87.7 266.9h1v1h-1zM86.3 278h1v1h-1zM86.3 283.3h1v1h-1zM85.6 276.9h1v1h-1z" fill="#000"/>
<rect x="38.1" y="185.2" width="130.1" height="129.6" fill="none" stroke="#000" stroke-width="1.3"/>
<path d="M81.6 185.2V314.8M38.1 265.8H168.2" stroke="#000" stroke-width="1.3" fill="none"/>
<path d="M38.1 314.8v4.5M38.1 314.8h-4.5M44.4 314.8v4.2M38.1 308.5h-4.2M48.1 314.8v4.2M38.1 304.8h-4.2M50.7 314.8v4.2M38.1 302.2h-4.2M52.8 314.8v4.2M38.1 300.2h-4.2M54.4 314.8v4.2M38.1 298.5h-4.2M55.8 314.8v4.2M38.1 297.1h-4.2M57.1 314.8v4.2M38.1 295.9h-4.2M58.1 314.8v4.2M38.1 294.9h-4.2M59.1 314.8v4.5M38.1 293.9h-4.5M65.4 314.8v4.2M38.1 287.6h-4.2M69.1 314.8v4.2M38.1 283.9h-4.2M71.7 314.8v4.2M38.1 281.3h-4.2M73.8 314.8v4.2M38.1 279.3h-4.2M75.4 314.8v4.2M38.1 277.6h-4.2M76.8 314.8v4.2M38.1 276.2h-4.2M78 314.8v4.2M38.1 275h-4.2M79.1 314.8v4.2M38.1 274h-4.2M80.1 314.8v4.5M38.1 273h-4.5M86.4 314.8v4.2M38.1 266.7h-4.2M90.1 314.8v4.2M38.1 263h-4.2M92.7 314.8v4.2M38.1 260.4h-4.2M94.7 314.8v4.2M38.1 258.4h-4.2M96.4 314.8v4.2M38.1 256.7h-4.2M97.8 314.8v4.2M38.1 255.3h-4.2M99 314.8v4.2M38.1 254.1h-4.2M100.1 314.8v4.2M38.1 253h-4.2M101.1 314.8v4.5M38.1 252.1h-4.5M107.4 314.8v4.2M38.1 245.8h-4.2M111.1 314.8v4.2M38.1 242.1h-4.2M113.7 314.8v4.2M38.1 239.5h-4.2M115.7 314.8v4.2M38.1 237.5h-4.2M117.4 314.8v4.2M38.1 235.8h-4.2M118.8 314.8v4.2M38.1 234.4h-4.2M120 314.8v4.2M38.1 233.2h-4.2M121.1 314.8v4.2M38.1 232.1h-4.2M122 314.8v4.5M38.1 231.2h-4.5M128.4 314.8v4.2M38.1 224.9h-4.2M132 314.8v4.2M38.1 221.2h-4.2M134.7 314.8v4.2M38.1 218.6h-4.2M136.7 314.8v4.2M38.1 216.6h-4.2M138.4 314.8v4.2M38.1 214.9h-4.2M139.8 314.8v4.2M38.1 213.5h-4.2M141 314.8v4.2M38.1 212.3h-4.2M142.1 314.8v4.2M38.1 211.2h-4.2M143 314.8v4.5M38.1 210.3h-4.5M149.3 314.8v4.2M38.1 204h-4.2M153 314.8v4.2M38.1 200.3h-4.2M155.7 314.8v4.2M38.1 197.7h-4.2M157.7 314.8v4.2M38.1 195.7h-4.2M159.3 314.8v4.2M38.1 194h-4.2M160.8 314.8v4.2M38.1 192.6h-4.2M162 314.8v4.2M38.1 191.4h-4.2M163 314.8v4.2M38.1 190.3h-4.2M164 314.8v4.5M38.1 189.4h-4.5M168.2 314.8v4.5M38.1 185.2h-4.5" stroke="#000" stroke-width="1" fill="none"/>
<text x="37.9" y="327.8" class="tl" text-anchor="middle">ω<tspan class="sup" dy="-1.5">1</tspan></text><text transform="translate(29.8 315.1) rotate(-90)" class="tl" text-anchor="middle">ω<tspan class="sup" dy="-1.5">1</tspan></text><text x="58.9" y="327.8" class="tl" text-anchor="middle">ω<tspan class="sup" dy="-1.5">2</tspan></text><text transform="translate(29.8 294.2) rotate(-90)" class="tl" text-anchor="middle">ω<tspan class="sup" dy="-1.5">2</tspan></text><text x="79.9" y="327.8" class="tl" text-anchor="middle">ω<tspan class="sup" dy="-1.5">3</tspan></text><text transform="translate(29.8 273.3) rotate(-90)" class="tl" text-anchor="middle">ω<tspan class="sup" dy="-1.5">3</tspan></text><text x="100.9" y="327.8" class="tl" text-anchor="middle">ω<tspan class="sup" dy="-1.5">4</tspan></text><text transform="translate(29.8 252.4) rotate(-90)" class="tl" text-anchor="middle">ω<tspan class="sup" dy="-1.5">4</tspan></text><text x="121.8" y="327.8" class="tl" text-anchor="middle">ω<tspan class="sup" dy="-1.5">5</tspan></text><text transform="translate(29.8 231.5) rotate(-90)" class="tl" text-anchor="middle">ω<tspan class="sup" dy="-1.5">5</tspan></text><text x="142.8" y="327.8" class="tl" text-anchor="middle">ω<tspan class="sup" dy="-1.5">6</tspan></text><text transform="translate(29.8 210.6) rotate(-90)" class="tl" text-anchor="middle">ω<tspan class="sup" dy="-1.5">6</tspan></text><text x="168" y="327.8" class="tl" text-anchor="middle">ω<tspan class="sup" dy="-1.5">7.2</tspan></text><text transform="translate(29.8 185.5) rotate(-90)" class="tl" text-anchor="middle">ω<tspan class="sup" dy="-1.5">7.2</tspan></text>
<text x="50.5" y="197" class="qn">0.10</text>
<text x="139.5" y="197" class="qn">1.53</text>
<text x="140.1" y="279" class="qn">0.98</text>
<polygon points="199,269 210,267.5 220,265 230,262.5 241.5,259.5 241.5,259.5 241.5,285 240,300 239.5,316 198.7,316" fill="#000"/>
<path d="M216.5 264.4h1.2v1.2h-1.2zM239.7 259.1h1.2v1.2h-1.2zM198.9 266.3h1.2v1.2h-1.2zM215.1 264.5h1.2v1.2h-1.2zM223.5 262.6h1.2v1.2h-1.2zM208.7 267h1.2v1.2h-1.2zM234.4 256h1.2v1.2h-1.2zM210.5 265.6h1.2v1.2h-1.2zM212.3 266.1h1.2v1.2h-1.2zM235.6 257.3h1.2v1.2h-1.2zM208.8 266.5h1.2v1.2h-1.2zM227.5 259.7h1.2v1.2h-1.2zM218.3 263.9h1.2v1.2h-1.2zM208.1 264.5h1.2v1.2h-1.2zM234.4 257.4h1.2v1.2h-1.2zM203.1 266.3h1.2v1.2h-1.2zM239.8 257.1h1.2v1.2h-1.2zM218 264.5h1.2v1.2h-1.2zM200.7 266h1.2v1.2h-1.2zM201 265.4h1.2v1.2h-1.2zM226.5 261.6h1.2v1.2h-1.2zM235.2 255.9h1.2v1.2h-1.2zM224.7 262.9h1.2v1.2h-1.2zM223.3 262.5h1.2v1.2h-1.2zM208.6 262.7h1.2v1.2h-1.2zM229.5 261.7h1.2v1.2h-1.2zM208.2 266.4h1.2v1.2h-1.2zM222.7 262.9h1.2v1.2h-1.2zM216.6 262.3h1.2v1.2h-1.2zM206 265.3h1.2v1.2h-1.2zM211.5 261.6h1.2v1.2h-1.2zM238.7 258.8h1.2v1.2h-1.2zM224.2 263h1.2v1.2h-1.2zM215.6 263.7h1.2v1.2h-1.2zM225.5 262.2h1.2v1.2h-1.2zM199.8 268h1.2v1.2h-1.2zM222.3 263.4h1.2v1.2h-1.2zM211.2 264.9h1.2v1.2h-1.2zM236.4 258.9h1.2v1.2h-1.2zM209.1 265.5h1.2v1.2h-1.2zM209.7 264.3h1.2v1.2h-1.2z" fill="#000"/>
<path d="M205.2 267.8h1.2v1.2h-1.2zM217.9 267.7h1.2v1.2h-1.2zM205.6 267.7h1.2v1.2h-1.2zM204.1 267.9h1.2v1.2h-1.2zM212.8 266.7h1.2v1.2h-1.2zM230.9 262.1h1.2v1.2h-1.2zM218.9 265.2h1.2v1.2h-1.2zM232.1 264.1h1.2v1.2h-1.2zM217.4 268.1h1.2v1.2h-1.2zM209.8 270.9h1.2v1.2h-1.2zM221.2 265.4h1.2v1.2h-1.2zM214.9 265.9h1.2v1.2h-1.2zM204.6 270.2h1.2v1.2h-1.2z" fill="#fff"/>
<path d="M243.1 279.2h1.2v1.2h-1.2zM242.2 285.1h1.2v1.2h-1.2zM241.3 270.6h1.2v1.2h-1.2zM243 277.9h1.2v1.2h-1.2zM240.4 289.6h1.2v1.2h-1.2zM240.5 299.1h1.2v1.2h-1.2zM241.4 262.8h1.2v1.2h-1.2zM244 270.9h1.2v1.2h-1.2zM241 290.1h1.2v1.2h-1.2zM241.5 273h1.2v1.2h-1.2zM241.7 274.7h1.2v1.2h-1.2zM242.1 303.6h1.2v1.2h-1.2zM243.4 298.7h1.2v1.2h-1.2zM240 295.9h1.2v1.2h-1.2zM241.2 261.4h1.2v1.2h-1.2zM242.3 273.5h1.2v1.2h-1.2zM240.8 305.4h1.2v1.2h-1.2zM241.4 283.2h1.2v1.2h-1.2zM241.5 314.4h1.2v1.2h-1.2zM241 278.2h1.2v1.2h-1.2zM239.5 314.4h1.2v1.2h-1.2zM239.4 306.8h1.2v1.2h-1.2zM240.5 295.9h1.2v1.2h-1.2zM239.7 309.1h1.2v1.2h-1.2zM241.3 264.6h1.2v1.2h-1.2zM246.2 304.6h1.2v1.2h-1.2zM241.9 295.4h1.2v1.2h-1.2zM241.5 274.9h1.2v1.2h-1.2zM247.9 263.8h1.2v1.2h-1.2zM242.6 261.4h1.2v1.2h-1.2zM241.3 278.7h1.2v1.2h-1.2zM245.7 283.6h1.2v1.2h-1.2zM241.2 272.9h1.2v1.2h-1.2zM241.8 294.7h1.2v1.2h-1.2zM240.9 287.8h1.2v1.2h-1.2zM239.3 308.3h1.2v1.2h-1.2zM241.4 268.8h1.2v1.2h-1.2zM241.7 288.1h1.2v1.2h-1.2zM242.6 290.4h1.2v1.2h-1.2zM240.2 309.4h1.2v1.2h-1.2zM244.1 261.3h1.2v1.2h-1.2zM241.6 259.9h1.2v1.2h-1.2zM242.6 267h1.2v1.2h-1.2zM239.5 303.1h1.2v1.2h-1.2zM244.3 275.6h1.2v1.2h-1.2zM239.8 297.8h1.2v1.2h-1.2zM242.4 298h1.2v1.2h-1.2zM241.2 282h1.2v1.2h-1.2zM240.4 296.2h1.2v1.2h-1.2zM241.2 266.5h1.2v1.2h-1.2zM241.1 281.7h1.2v1.2h-1.2zM242.3 280.7h1.2v1.2h-1.2zM241.3 290.2h1.2v1.2h-1.2zM239.4 304.1h1.2v1.2h-1.2zM245.8 277.6h1.2v1.2h-1.2zM243.7 307.9h1.2v1.2h-1.2zM240.7 302.2h1.2v1.2h-1.2zM240.8 303.4h1.2v1.2h-1.2zM241.4 265.6h1.2v1.2h-1.2zM244.6 264.4h1.2v1.2h-1.2zM241.8 277.1h1.2v1.2h-1.2zM240.6 289.3h1.2v1.2h-1.2zM242.3 299h1.2v1.2h-1.2zM243.1 304h1.2v1.2h-1.2zM241.2 276.9h1.2v1.2h-1.2zM241.4 302h1.2v1.2h-1.2zM241.7 279.9h1.2v1.2h-1.2z" fill="#000"/>
<path d="M238 267.6h1.2v1.2h-1.2zM238.2 284.7h1.2v1.2h-1.2zM240.3 278.1h1.2v1.2h-1.2zM238.4 287.7h1.2v1.2h-1.2zM238.4 308.7h1.2v1.2h-1.2zM238.7 298h1.2v1.2h-1.2zM236.9 307.5h1.2v1.2h-1.2zM239.6 290.2h1.2v1.2h-1.2zM237.4 274.4h1.2v1.2h-1.2zM238.7 304.1h1.2v1.2h-1.2zM240.6 263.7h1.2v1.2h-1.2zM238.9 313.4h1.2v1.2h-1.2zM238 304.6h1.2v1.2h-1.2zM239.1 290.1h1.2v1.2h-1.2zM239.6 282.1h1.2v1.2h-1.2zM236.9 264h1.2v1.2h-1.2zM240.7 264.7h1.2v1.2h-1.2zM238 296.7h1.2v1.2h-1.2zM237.4 304.4h1.2v1.2h-1.2zM238.9 311.5h1.2v1.2h-1.2zM240.5 259.5h1.2v1.2h-1.2zM239 302.9h1.2v1.2h-1.2zM238.1 288.7h1.2v1.2h-1.2zM239.7 267.7h1.2v1.2h-1.2zM236.9 309.7h1.2v1.2h-1.2zM239.9 281.4h1.2v1.2h-1.2zM235.9 274.6h1.2v1.2h-1.2zM237.5 303h1.2v1.2h-1.2zM238.8 276.1h1.2v1.2h-1.2zM238.1 286.2h1.2v1.2h-1.2zM237.5 279.5h1.2v1.2h-1.2zM238.6 297.5h1.2v1.2h-1.2zM237.7 290.4h1.2v1.2h-1.2zM235.5 288.3h1.2v1.2h-1.2zM237.3 259.3h1.2v1.2h-1.2zM238.3 299.1h1.2v1.2h-1.2zM238.9 306.9h1.2v1.2h-1.2zM238.9 278h1.2v1.2h-1.2zM238.5 305.4h1.2v1.2h-1.2zM237.2 315h1.2v1.2h-1.2zM240.7 261.5h1.2v1.2h-1.2zM239.5 263.2h1.2v1.2h-1.2zM240.4 277.1h1.2v1.2h-1.2zM240.8 284.2h1.2v1.2h-1.2zM236.1 310.2h1.2v1.2h-1.2zM239.4 290.4h1.2v1.2h-1.2zM239.4 276.4h1.2v1.2h-1.2zM235.9 278.5h1.2v1.2h-1.2zM236.9 312.9h1.2v1.2h-1.2zM239.1 305.6h1.2v1.2h-1.2z" fill="#fff"/>
<path d="M199.1 312h1.3v1.3h-1.3zM199.1 311h1.3v1.3h-1.3zM214.8 301h1.3v1.3h-1.3zM214.8 313.3h1.3v1.3h-1.3zM199.7 315.2h1.3v1.3h-1.3zM200.1 314.9h1.3v1.3h-1.3zM202.5 312.5h1.3v1.3h-1.3zM204.5 308.8h1.3v1.3h-1.3zM203.4 312.5h1.3v1.3h-1.3zM205.7 306h1.3v1.3h-1.3zM205.2 310.3h1.3v1.3h-1.3zM201.8 312.7h1.3v1.3h-1.3zM198.6 310.3h1.3v1.3h-1.3zM203.6 313.7h1.3v1.3h-1.3zM209.2 298.5h1.3v1.3h-1.3zM208.9 301.8h1.3v1.3h-1.3zM202 313.8h1.3v1.3h-1.3zM200.1 304.6h1.3v1.3h-1.3zM214.8 314.4h1.3v1.3h-1.3zM198.4 311.9h1.3v1.3h-1.3zM200.7 308.1h1.3v1.3h-1.3zM199 300.5h1.3v1.3h-1.3zM200.6 296.2h1.3v1.3h-1.3zM200.5 312.4h1.3v1.3h-1.3zM199.4 291.4h1.3v1.3h-1.3zM203.2 301.4h1.3v1.3h-1.3zM198.7 309.1h1.3v1.3h-1.3zM205.6 291.4h1.3v1.3h-1.3zM213.5 314.5h1.3v1.3h-1.3zM200.9 291.4h1.3v1.3h-1.3zM202.6 291.4h1.3v1.3h-1.3zM200 315.1h1.3v1.3h-1.3zM214.4 312.9h1.3v1.3h-1.3zM202.9 311.8h1.3v1.3h-1.3zM203.1 293.6h1.3v1.3h-1.3zM214.5 298.6h1.3v1.3h-1.3zM200 301.6h1.3v1.3h-1.3zM198.5 311h1.3v1.3h-1.3zM214.2 313h1.3v1.3h-1.3zM200.9 308.4h1.3v1.3h-1.3zM199.8 305.5h1.3v1.3h-1.3zM204.2 314.6h1.3v1.3h-1.3zM212.2 314.8h1.3v1.3h-1.3zM204.9 311.9h1.3v1.3h-1.3zM199.2 314.7h1.3v1.3h-1.3zM214.8 302.5h1.3v1.3h-1.3zM201.7 302.7h1.3v1.3h-1.3zM214.8 294.5h1.3v1.3h-1.3zM202.5 312.8h1.3v1.3h-1.3zM202.4 291.4h1.3v1.3h-1.3zM205.6 306.5h1.3v1.3h-1.3zM208.5 311.1h1.3v1.3h-1.3zM202.9 300.2h1.3v1.3h-1.3zM199.6 299.7h1.3v1.3h-1.3zM198.5 309.2h1.3v1.3h-1.3zM203.1 314.1h1.3v1.3h-1.3zM212.4 310.7h1.3v1.3h-1.3zM199.5 311.1h1.3v1.3h-1.3zM203.3 310.9h1.3v1.3h-1.3zM198.4 314.6h1.3v1.3h-1.3zM205.2 314.2h1.3v1.3h-1.3zM200 302.2h1.3v1.3h-1.3zM209.2 298.3h1.3v1.3h-1.3zM199.4 315.3h1.3v1.3h-1.3zM206.1 308h1.3v1.3h-1.3zM200.8 315.2h1.3v1.3h-1.3zM201.5 313.2h1.3v1.3h-1.3zM203.2 291.4h1.3v1.3h-1.3zM199.6 314.7h1.3v1.3h-1.3zM204.9 314.4h1.3v1.3h-1.3zM199.7 310.7h1.3v1.3h-1.3zM214.8 312.2h1.3v1.3h-1.3zM200.4 310.2h1.3v1.3h-1.3zM199.3 311.2h1.3v1.3h-1.3zM205 312.2h1.3v1.3h-1.3zM207.1 313.7h1.3v1.3h-1.3zM198.9 307.5h1.3v1.3h-1.3zM201.7 295.3h1.3v1.3h-1.3zM199 304.4h1.3v1.3h-1.3zM204.4 311.6h1.3v1.3h-1.3zM199.1 307.8h1.3v1.3h-1.3zM206.2 310.2h1.3v1.3h-1.3zM201.9 306.1h1.3v1.3h-1.3zM203.5 310.9h1.3v1.3h-1.3zM199.5 310.4h1.3v1.3h-1.3zM202.7 297.2h1.3v1.3h-1.3zM214.8 308.8h1.3v1.3h-1.3zM200.5 313.3h1.3v1.3h-1.3zM203.8 304.6h1.3v1.3h-1.3zM199.9 306h1.3v1.3h-1.3zM214.8 311.4h1.3v1.3h-1.3zM213.7 310.8h1.3v1.3h-1.3zM204.2 299.2h1.3v1.3h-1.3zM199.6 312h1.3v1.3h-1.3zM214.8 314.8h1.3v1.3h-1.3zM200.4 310.2h1.3v1.3h-1.3zM205.9 307.4h1.3v1.3h-1.3zM213 306.5h1.3v1.3h-1.3zM198.4 314.8h1.3v1.3h-1.3zM198.6 310.8h1.3v1.3h-1.3zM198.5 309.4h1.3v1.3h-1.3zM203.9 313.5h1.3v1.3h-1.3zM209 311.1h1.3v1.3h-1.3zM214.8 311.8h1.3v1.3h-1.3zM203.7 309.1h1.3v1.3h-1.3z" fill="#fff"/>
<path d="M200.4 270V302" stroke="#ccc" stroke-width="1.2"/>
<path d="M246.1 258.3h1.2v1.2h-1.2zM246.7 256.5h1.2v1.2h-1.2zM249.5 258.9h1.2v1.2h-1.2zM250.1 257.5h1.2v1.2h-1.2zM252.4 254.8h1.2v1.2h-1.2zM247.5 252.7h1.2v1.2h-1.2zM254.2 259.1h1.2v1.2h-1.2zM251.6 257.2h1.2v1.2h-1.2zM251.9 255.5h1.2v1.2h-1.2zM248 257.3h1.2v1.2h-1.2zM249.8 259h1.2v1.2h-1.2zM248.9 262h1.2v1.2h-1.2zM253.8 256.4h1.2v1.2h-1.2zM249.1 259.7h1.2v1.2h-1.2zM251.9 257.6h1.2v1.2h-1.2zM244.6 259.3h1.2v1.2h-1.2zM252.8 257.7h1.2v1.2h-1.2zM245.7 258.9h1.2v1.2h-1.2zM248.1 262.8h1.2v1.2h-1.2zM247 258.4h1.2v1.2h-1.2zM250.7 260.3h1.2v1.2h-1.2zM254.3 257h1.2v1.2h-1.2zM252.6 256.9h1.2v1.2h-1.2zM247.2 258.6h1.2v1.2h-1.2zM250.7 261.5h1.2v1.2h-1.2zM248.1 257.1h1.2v1.2h-1.2zM252.5 255.6h1.2v1.2h-1.2zM250.5 255.9h1.2v1.2h-1.2zM246.3 259.8h1.2v1.2h-1.2zM249.8 255.3h1.2v1.2h-1.2zM244.5 259.8h1.2v1.2h-1.2zM245.4 261h1.2v1.2h-1.2zM251.3 255.9h1.2v1.2h-1.2zM251.2 258.2h1.2v1.2h-1.2zM245.1 256.9h1.2v1.2h-1.2zM247.7 259.9h1.2v1.2h-1.2zM250.7 258.1h1.2v1.2h-1.2zM246 257.6h1.2v1.2h-1.2zM246 256.3h1.2v1.2h-1.2zM252.9 254h1.2v1.2h-1.2zM249.6 257.8h1.2v1.2h-1.2zM243.6 261.8h1.2v1.2h-1.2zM245 259.4h1.2v1.2h-1.2zM251 257.3h1.2v1.2h-1.2zM249.3 258.9h1.2v1.2h-1.2zM247.6 257.9h1.2v1.2h-1.2zM246.6 258.1h1.2v1.2h-1.2zM248.1 256.7h1.2v1.2h-1.2zM242.7 260.5h1.2v1.2h-1.2zM249.2 258.8h1.2v1.2h-1.2zM253.6 255h1.2v1.2h-1.2zM252.8 257.3h1.2v1.2h-1.2zM248.7 256.7h1.2v1.2h-1.2zM245.8 256.3h1.2v1.2h-1.2zM249.8 255.9h1.2v1.2h-1.2zM244.7 261.8h1.2v1.2h-1.2zM253.4 257.1h1.2v1.2h-1.2zM252.9 257.4h1.2v1.2h-1.2zM245.1 260.5h1.2v1.2h-1.2zM253.1 253h1.2v1.2h-1.2zM245.2 256.1h1.2v1.2h-1.2zM245.8 257.7h1.2v1.2h-1.2zM252.9 256.9h1.2v1.2h-1.2zM245.3 256.8h1.2v1.2h-1.2zM249 259.4h1.2v1.2h-1.2zM245.2 257.4h1.2v1.2h-1.2zM246.2 258.6h1.2v1.2h-1.2zM247.1 260h1.2v1.2h-1.2zM244.9 259h1.2v1.2h-1.2zM249.6 258.2h1.2v1.2h-1.2zM249.5 256.8h1.2v1.2h-1.2zM253.1 256.6h1.2v1.2h-1.2zM250 254.8h1.2v1.2h-1.2zM247.6 255.8h1.2v1.2h-1.2zM253.8 259.7h1.2v1.2h-1.2zM248.5 257.1h1.2v1.2h-1.2zM255.1 259.4h1.2v1.2h-1.2zM244.9 256.8h1.2v1.2h-1.2zM245.4 258.6h1.2v1.2h-1.2zM251.1 254.9h1.2v1.2h-1.2zM249.5 256.4h1.2v1.2h-1.2zM254.7 256.6h1.2v1.2h-1.2zM250 252.7h1.2v1.2h-1.2zM248.4 257.4h1.2v1.2h-1.2zM248.2 256.2h1.2v1.2h-1.2zM244.1 258.1h1.2v1.2h-1.2zM244.9 257h1.2v1.2h-1.2zM248.5 255.8h1.2v1.2h-1.2zM245.2 260.6h1.2v1.2h-1.2zM255.1 255.6h1.2v1.2h-1.2zM246.1 258.1h1.2v1.2h-1.2zM252.8 257.6h1.2v1.2h-1.2zM245.6 257.2h1.2v1.2h-1.2zM247.9 259.7h1.2v1.2h-1.2zM250.3 259.8h1.2v1.2h-1.2zM249.9 258.1h1.2v1.2h-1.2zM243.7 260.8h1.2v1.2h-1.2zM251 259.8h1.2v1.2h-1.2zM246.9 257.1h1.2v1.2h-1.2zM254.1 255.1h1.2v1.2h-1.2zM254.2 256.5h1.2v1.2h-1.2zM249 258.4h1.2v1.2h-1.2zM245.3 258.6h1.2v1.2h-1.2zM247.2 258.5h1.2v1.2h-1.2zM254.1 259.3h1.2v1.2h-1.2zM246.9 258.8h1.2v1.2h-1.2zM253.4 254.9h1.2v1.2h-1.2zM244.7 258h1.2v1.2h-1.2z" fill="#000"/>
<path d="M253 261.6h1.2v1.2h-1.2zM254.1 295.3h1.2v1.2h-1.2zM254 275.4h1.2v1.2h-1.2zM255.9 297.1h1.2v1.2h-1.2zM251.7 280.7h1.2v1.2h-1.2zM250.9 281.5h1.2v1.2h-1.2zM255.4 262.5h1.2v1.2h-1.2zM257.9 276.8h1.2v1.2h-1.2zM253 275.9h1.2v1.2h-1.2zM257.2 279.4h1.2v1.2h-1.2zM250.2 297.9h1.2v1.2h-1.2zM257.8 259.2h1.2v1.2h-1.2zM255.7 264.5h1.2v1.2h-1.2zM262.6 261.1h1.2v1.2h-1.2zM256.4 296.1h1.2v1.2h-1.2zM259.8 274.4h1.2v1.2h-1.2zM256.9 264.7h1.2v1.2h-1.2zM256.5 257h1.2v1.2h-1.2zM260 289.5h1.2v1.2h-1.2zM254.1 264.1h1.2v1.2h-1.2zM254.6 258.3h1.2v1.2h-1.2zM253.2 271.4h1.2v1.2h-1.2zM252.8 287.3h1.2v1.2h-1.2zM252.9 278.9h1.2v1.2h-1.2zM257.7 275.1h1.2v1.2h-1.2zM254.7 286.1h1.2v1.2h-1.2zM255.8 259.2h1.2v1.2h-1.2zM251.5 300.1h1.2v1.2h-1.2zM254.3 259.7h1.2v1.2h-1.2zM252.2 275.3h1.2v1.2h-1.2zM255.2 260.8h1.2v1.2h-1.2zM258.8 281.1h1.2v1.2h-1.2zM248 257.3h1.2v1.2h-1.2zM256 267.2h1.2v1.2h-1.2zM253.9 259h1.2v1.2h-1.2zM255.7 279.5h1.2v1.2h-1.2zM258.6 281h1.2v1.2h-1.2zM254.2 277.7h1.2v1.2h-1.2zM254.5 284.1h1.2v1.2h-1.2zM254.5 264.8h1.2v1.2h-1.2zM252.2 269.9h1.2v1.2h-1.2zM260.3 264.6h1.2v1.2h-1.2zM258.6 270.9h1.2v1.2h-1.2zM256.3 301h1.2v1.2h-1.2zM256.7 281.1h1.2v1.2h-1.2zM252.8 287.1h1.2v1.2h-1.2zM259.4 267.6h1.2v1.2h-1.2zM256.9 274.7h1.2v1.2h-1.2zM258.8 265.7h1.2v1.2h-1.2zM255.2 263.7h1.2v1.2h-1.2zM255.6 271.2h1.2v1.2h-1.2zM254 296.6h1.2v1.2h-1.2zM255.9 258.8h1.2v1.2h-1.2zM256.3 293.9h1.2v1.2h-1.2zM256.1 273.5h1.2v1.2h-1.2zM254.6 269.5h1.2v1.2h-1.2zM254.2 280.9h1.2v1.2h-1.2zM251.8 266h1.2v1.2h-1.2zM252.8 279.7h1.2v1.2h-1.2zM258 297.8h1.2v1.2h-1.2zM261.5 267.1h1.2v1.2h-1.2zM253.2 276h1.2v1.2h-1.2zM257.8 262.9h1.2v1.2h-1.2zM251.7 275h1.2v1.2h-1.2zM251.3 259.6h1.2v1.2h-1.2zM257.1 280.6h1.2v1.2h-1.2zM260.5 258.2h1.2v1.2h-1.2zM254.3 281.6h1.2v1.2h-1.2zM256.7 296.8h1.2v1.2h-1.2zM251.5 286.1h1.2v1.2h-1.2zM255.1 283.4h1.2v1.2h-1.2zM254.7 274.4h1.2v1.2h-1.2zM252.7 260.7h1.2v1.2h-1.2zM252.2 257.4h1.2v1.2h-1.2zM258.6 298.7h1.2v1.2h-1.2zM257 259.8h1.2v1.2h-1.2zM253.8 269.5h1.2v1.2h-1.2zM257.7 257.4h1.2v1.2h-1.2zM255.4 296.7h1.2v1.2h-1.2zM260.3 294.6h1.2v1.2h-1.2zM252.2 276.7h1.2v1.2h-1.2zM252.2 262.4h1.2v1.2h-1.2zM257.4 296.8h1.2v1.2h-1.2zM256.1 283.8h1.2v1.2h-1.2zM259.2 267h1.2v1.2h-1.2zM253.8 265.2h1.2v1.2h-1.2zM253.8 284.4h1.2v1.2h-1.2zM255.9 301.5h1.2v1.2h-1.2zM252.9 268.2h1.2v1.2h-1.2zM255.4 294.9h1.2v1.2h-1.2zM257.4 286h1.2v1.2h-1.2zM257 284.5h1.2v1.2h-1.2zM254.1 286.5h1.2v1.2h-1.2zM257.8 293.8h1.2v1.2h-1.2zM257.7 286.9h1.2v1.2h-1.2zM253.3 279.1h1.2v1.2h-1.2zM249.4 257.9h1.2v1.2h-1.2zM253 285h1.2v1.2h-1.2zM254.2 266.1h1.2v1.2h-1.2zM255.6 281.1h1.2v1.2h-1.2zM259 292.9h1.2v1.2h-1.2zM255.6 294.1h1.2v1.2h-1.2zM250.9 270.8h1.2v1.2h-1.2zM258.4 285.7h1.2v1.2h-1.2zM253.7 295.8h1.2v1.2h-1.2zM258.1 285.5h1.2v1.2h-1.2zM254.8 266.8h1.2v1.2h-1.2zM250.4 268.9h1.2v1.2h-1.2zM255.9 301.1h1.2v1.2h-1.2zM256.2 260.2h1.2v1.2h-1.2zM251.5 276.4h1.2v1.2h-1.2zM256.5 271.7h1.2v1.2h-1.2zM252.4 257.3h1.2v1.2h-1.2zM251.7 258.6h1.2v1.2h-1.2zM258.6 271.9h1.2v1.2h-1.2zM252 276.9h1.2v1.2h-1.2zM251 268.8h1.2v1.2h-1.2zM256 283.5h1.2v1.2h-1.2zM253.4 258.7h1.2v1.2h-1.2zM253.9 275.2h1.2v1.2h-1.2zM252.7 283.4h1.2v1.2h-1.2zM253.4 289.1h1.2v1.2h-1.2zM253.8 299.4h1.2v1.2h-1.2zM256 298.4h1.2v1.2h-1.2zM254.4 291.9h1.2v1.2h-1.2zM254.6 285.3h1.2v1.2h-1.2zM252.6 267.9h1.2v1.2h-1.2zM254.6 267.2h1.2v1.2h-1.2zM256 258.8h1.2v1.2h-1.2zM256.8 299.8h1.2v1.2h-1.2zM258.5 294.1h1.2v1.2h-1.2zM261.6 274.2h1.2v1.2h-1.2zM258.5 266.5h1.2v1.2h-1.2zM253.5 261.9h1.2v1.2h-1.2zM256.2 291.4h1.2v1.2h-1.2zM252.7 299.5h1.2v1.2h-1.2zM256.4 257.8h1.2v1.2h-1.2zM259.4 266.4h1.2v1.2h-1.2zM257.7 273.9h1.2v1.2h-1.2zM256.7 279h1.2v1.2h-1.2zM253.2 263.7h1.2v1.2h-1.2zM255.6 269.7h1.2v1.2h-1.2zM259 286.2h1.2v1.2h-1.2zM257.6 267.8h1.2v1.2h-1.2zM256.2 279h1.2v1.2h-1.2zM256 272h1.2v1.2h-1.2zM259.2 274.2h1.2v1.2h-1.2zM256.4 284.1h1.2v1.2h-1.2zM254.4 260.6h1.2v1.2h-1.2zM256.8 262.4h1.2v1.2h-1.2zM255.3 297.5h1.2v1.2h-1.2zM253 263.6h1.2v1.2h-1.2zM255.5 281.4h1.2v1.2h-1.2zM258.3 285.5h1.2v1.2h-1.2zM256.4 284.3h1.2v1.2h-1.2zM253.2 270.2h1.2v1.2h-1.2zM252.1 283.8h1.2v1.2h-1.2zM256.9 295.2h1.2v1.2h-1.2zM255.5 277.6h1.2v1.2h-1.2zM256.8 260.2h1.2v1.2h-1.2zM251.5 299.4h1.2v1.2h-1.2zM255.3 298.9h1.2v1.2h-1.2zM250 260.7h1.2v1.2h-1.2zM257.3 281.7h1.2v1.2h-1.2zM253.6 273.7h1.2v1.2h-1.2zM251.7 267.4h1.2v1.2h-1.2zM254.1 279.8h1.2v1.2h-1.2zM256.3 281.4h1.2v1.2h-1.2zM257.5 263.3h1.2v1.2h-1.2zM252.9 269h1.2v1.2h-1.2zM254.8 277.3h1.2v1.2h-1.2zM257.2 264h1.2v1.2h-1.2zM256 264.7h1.2v1.2h-1.2zM256.3 258.6h1.2v1.2h-1.2zM261.9 260.5h1.2v1.2h-1.2zM258 271.4h1.2v1.2h-1.2zM250.6 277.2h1.2v1.2h-1.2zM256.6 280.8h1.2v1.2h-1.2zM250.8 262.6h1.2v1.2h-1.2zM258.1 270.6h1.2v1.2h-1.2zM251.2 263.7h1.2v1.2h-1.2zM256 262h1.2v1.2h-1.2zM253.4 258.2h1.2v1.2h-1.2zM252 282h1.2v1.2h-1.2zM249.4 277.8h1.2v1.2h-1.2zM255 275.9h1.2v1.2h-1.2zM257 293.3h1.2v1.2h-1.2zM252.5 272.6h1.2v1.2h-1.2zM256 263.9h1.2v1.2h-1.2zM258.2 285.2h1.2v1.2h-1.2zM256.4 300.2h1.2v1.2h-1.2zM251.8 271.2h1.2v1.2h-1.2zM256.9 289.3h1.2v1.2h-1.2zM250.5 296.8h1.2v1.2h-1.2zM253.8 268.4h1.2v1.2h-1.2zM254.7 292.9h1.2v1.2h-1.2zM254.5 270.9h1.2v1.2h-1.2zM255.1 278.4h1.2v1.2h-1.2zM256.7 257.3h1.2v1.2h-1.2zM251.7 294.3h1.2v1.2h-1.2zM252.5 265.3h1.2v1.2h-1.2zM258.1 285.6h1.2v1.2h-1.2zM252.8 278.9h1.2v1.2h-1.2zM257.9 278.6h1.2v1.2h-1.2zM252.8 286.4h1.2v1.2h-1.2zM255.3 297.4h1.2v1.2h-1.2zM254.6 270.1h1.2v1.2h-1.2zM252 277.6h1.2v1.2h-1.2zM255.5 261.8h1.2v1.2h-1.2zM254.5 275.3h1.2v1.2h-1.2zM259.6 269.1h1.2v1.2h-1.2zM257.1 275.3h1.2v1.2h-1.2zM257.1 271.8h1.2v1.2h-1.2zM256.1 275.2h1.2v1.2h-1.2zM255.9 284.4h1.2v1.2h-1.2zM256.1 300.7h1.2v1.2h-1.2zM255.3 300h1.2v1.2h-1.2zM252.5 264.7h1.2v1.2h-1.2zM253.6 277.5h1.2v1.2h-1.2zM254.5 277.6h1.2v1.2h-1.2zM256.9 297h1.2v1.2h-1.2zM253.3 281.7h1.2v1.2h-1.2zM253 284.1h1.2v1.2h-1.2zM255.6 267.2h1.2v1.2h-1.2zM256.5 296.9h1.2v1.2h-1.2zM256.9 261.9h1.2v1.2h-1.2zM257.5 258.9h1.2v1.2h-1.2zM253.3 274.5h1.2v1.2h-1.2zM255.3 288.1h1.2v1.2h-1.2zM257.4 282.8h1.2v1.2h-1.2zM256.2 277.7h1.2v1.2h-1.2zM254.5 293.9h1.2v1.2h-1.2zM253.5 293.9h1.2v1.2h-1.2zM250.5 299.8h1.2v1.2h-1.2zM251.1 263.8h1.2v1.2h-1.2zM255.5 262h1.2v1.2h-1.2zM256.2 260.9h1.2v1.2h-1.2zM257.8 276h1.2v1.2h-1.2zM250.9 276h1.2v1.2h-1.2zM250.5 261.8h1.2v1.2h-1.2zM256.9 279.6h1.2v1.2h-1.2zM255.2 268.9h1.2v1.2h-1.2zM257.3 283h1.2v1.2h-1.2zM255 279.8h1.2v1.2h-1.2zM258.5 293.8h1.2v1.2h-1.2zM256.4 264.5h1.2v1.2h-1.2zM256.6 287.2h1.2v1.2h-1.2zM255.5 267.5h1.2v1.2h-1.2zM259.1 282.7h1.2v1.2h-1.2zM258.4 269h1.2v1.2h-1.2zM253.1 289.1h1.2v1.2h-1.2zM257.2 265.7h1.2v1.2h-1.2zM254.8 265h1.2v1.2h-1.2zM252.5 269.7h1.2v1.2h-1.2zM255.8 266.3h1.2v1.2h-1.2zM256.2 298.2h1.2v1.2h-1.2zM259.1 277.5h1.2v1.2h-1.2zM252.4 266.7h1.2v1.2h-1.2zM253.1 257.8h1.2v1.2h-1.2zM256.7 266.6h1.2v1.2h-1.2zM251.9 296.2h1.2v1.2h-1.2zM254.2 264.6h1.2v1.2h-1.2zM251.9 274.4h1.2v1.2h-1.2zM253 301.5h1.2v1.2h-1.2zM256.6 287.6h1.2v1.2h-1.2zM257.2 276.5h1.2v1.2h-1.2zM252.6 265h1.2v1.2h-1.2zM256.5 285.5h1.2v1.2h-1.2zM255.6 280h1.2v1.2h-1.2zM253.8 273.9h1.2v1.2h-1.2zM253.8 275.3h1.2v1.2h-1.2zM251.7 292.9h1.2v1.2h-1.2zM254.4 291h1.2v1.2h-1.2zM257.1 298.8h1.2v1.2h-1.2zM258.5 299.1h1.2v1.2h-1.2zM253.4 260.2h1.2v1.2h-1.2zM254.6 259.6h1.2v1.2h-1.2zM256.1 299.4h1.2v1.2h-1.2zM256.7 287.5h1.2v1.2h-1.2zM253.1 258.1h1.2v1.2h-1.2zM256.3 279.9h1.2v1.2h-1.2zM257.5 261.7h1.2v1.2h-1.2zM254.3 279.9h1.2v1.2h-1.2zM254.8 275.4h1.2v1.2h-1.2zM252 275.2h1.2v1.2h-1.2zM255.5 259.8h1.2v1.2h-1.2zM263.3 267.8h1.2v1.2h-1.2zM260.4 283.3h1.2v1.2h-1.2zM253.3 265.8h1.2v1.2h-1.2zM257 273.8h1.2v1.2h-1.2zM256 295.4h1.2v1.2h-1.2zM255.9 300.8h1.2v1.2h-1.2zM253.2 294.5h1.2v1.2h-1.2zM255 289.8h1.2v1.2h-1.2zM257.7 258.7h1.2v1.2h-1.2zM257.6 282.2h1.2v1.2h-1.2zM259.8 277.7h1.2v1.2h-1.2zM255.8 267.2h1.2v1.2h-1.2zM251.9 259.2h1.2v1.2h-1.2zM259.3 261.7h1.2v1.2h-1.2zM248.9 294.5h1.2v1.2h-1.2zM253.7 268h1.2v1.2h-1.2zM253.6 276.7h1.2v1.2h-1.2zM256.1 275h1.2v1.2h-1.2zM256.1 260.9h1.2v1.2h-1.2zM251.6 261.3h1.2v1.2h-1.2zM251.8 295.8h1.2v1.2h-1.2zM256.6 293.3h1.2v1.2h-1.2zM254.9 292.6h1.2v1.2h-1.2zM254.7 300.9h1.2v1.2h-1.2zM254.5 289.2h1.2v1.2h-1.2zM253.4 284.4h1.2v1.2h-1.2zM255.2 285.6h1.2v1.2h-1.2zM252.9 263.4h1.2v1.2h-1.2zM256.1 285.7h1.2v1.2h-1.2zM255 295.2h1.2v1.2h-1.2zM259.5 281h1.2v1.2h-1.2zM256 278.9h1.2v1.2h-1.2zM252.3 264.1h1.2v1.2h-1.2zM255.8 294.7h1.2v1.2h-1.2zM258.3 276.6h1.2v1.2h-1.2zM259.3 274.7h1.2v1.2h-1.2zM259.2 295.6h1.2v1.2h-1.2zM254.2 285.6h1.2v1.2h-1.2zM257.3 268.7h1.2v1.2h-1.2zM251.2 267.4h1.2v1.2h-1.2zM257.3 269.4h1.2v1.2h-1.2zM260.2 260.9h1.2v1.2h-1.2zM252.2 270.1h1.2v1.2h-1.2zM252.6 269.3h1.2v1.2h-1.2zM257.2 273.2h1.2v1.2h-1.2zM251.5 286.9h1.2v1.2h-1.2zM254.5 290.2h1.2v1.2h-1.2zM254.7 257.6h1.2v1.2h-1.2zM256.9 262.7h1.2v1.2h-1.2zM257 284.2h1.2v1.2h-1.2zM255.7 285.7h1.2v1.2h-1.2zM255.4 292.2h1.2v1.2h-1.2zM255.9 268.3h1.2v1.2h-1.2zM251.6 261.3h1.2v1.2h-1.2zM253.6 279h1.2v1.2h-1.2zM254.1 273h1.2v1.2h-1.2zM249.9 281.7h1.2v1.2h-1.2zM254.1 287.8h1.2v1.2h-1.2zM255.5 262.9h1.2v1.2h-1.2zM254.1 279.2h1.2v1.2h-1.2zM251.3 262h1.2v1.2h-1.2zM254 266.9h1.2v1.2h-1.2zM259.1 262h1.2v1.2h-1.2zM254.7 259.1h1.2v1.2h-1.2zM255.8 291.5h1.2v1.2h-1.2zM256 259.1h1.2v1.2h-1.2zM254.9 290h1.2v1.2h-1.2zM253 263.2h1.2v1.2h-1.2zM255.6 261.6h1.2v1.2h-1.2zM255.7 276h1.2v1.2h-1.2zM256.1 286.9h1.2v1.2h-1.2zM258.2 257.3h1.2v1.2h-1.2zM252.4 256.1h1.2v1.2h-1.2zM259.2 270.2h1.2v1.2h-1.2zM257 297.4h1.2v1.2h-1.2zM256.1 289.8h1.2v1.2h-1.2zM257.4 279.1h1.2v1.2h-1.2zM255.1 272.2h1.2v1.2h-1.2zM253.6 288.3h1.2v1.2h-1.2zM253.7 294.3h1.2v1.2h-1.2zM255.1 288h1.2v1.2h-1.2zM251.9 262.1h1.2v1.2h-1.2zM256.1 284.2h1.2v1.2h-1.2zM259.7 280.7h1.2v1.2h-1.2zM255.4 283.7h1.2v1.2h-1.2zM250.5 290.5h1.2v1.2h-1.2zM256.8 280.2h1.2v1.2h-1.2zM256.7 258.6h1.2v1.2h-1.2zM255.6 285.4h1.2v1.2h-1.2zM258.6 288.8h1.2v1.2h-1.2zM255.4 259.4h1.2v1.2h-1.2zM256.4 282.6h1.2v1.2h-1.2zM258 271.8h1.2v1.2h-1.2zM260.4 259h1.2v1.2h-1.2zM250.4 259.5h1.2v1.2h-1.2zM255.1 269.8h1.2v1.2h-1.2zM259.2 264.8h1.2v1.2h-1.2zM260.3 298.1h1.2v1.2h-1.2zM255.5 273.2h1.2v1.2h-1.2zM254.2 272.9h1.2v1.2h-1.2zM254.1 292.2h1.2v1.2h-1.2zM256.1 277.8h1.2v1.2h-1.2zM256.7 259.7h1.2v1.2h-1.2zM258.1 259.7h1.2v1.2h-1.2zM254.3 302.1h1.2v1.2h-1.2zM262.2 258.5h1.2v1.2h-1.2zM253.4 290.8h1.2v1.2h-1.2zM251.5 270h1.2v1.2h-1.2zM255.6 282.2h1.2v1.2h-1.2zM257.8 278.4h1.2v1.2h-1.2zM262.6 260.3h1.2v1.2h-1.2zM259.7 271.9h1.2v1.2h-1.2zM255.7 291.5h1.2v1.2h-1.2zM254.5 287.7h1.2v1.2h-1.2zM254.9 257.7h1.2v1.2h-1.2zM255.5 269.7h1.2v1.2h-1.2zM251.1 296.2h1.2v1.2h-1.2zM258.5 298.5h1.2v1.2h-1.2zM259.3 299.2h1.2v1.2h-1.2zM254.7 256.9h1.2v1.2h-1.2zM255 290.4h1.2v1.2h-1.2zM258.4 277.1h1.2v1.2h-1.2zM262 262.1h1.2v1.2h-1.2zM252.6 264.3h1.2v1.2h-1.2zM257.7 285.2h1.2v1.2h-1.2zM254.8 275.2h1.2v1.2h-1.2zM252.9 267.9h1.2v1.2h-1.2zM253.2 269.8h1.2v1.2h-1.2zM252.9 296h1.2v1.2h-1.2zM255.4 275h1.2v1.2h-1.2zM255.1 268h1.2v1.2h-1.2zM256.8 283.7h1.2v1.2h-1.2zM247.9 278.4h1.2v1.2h-1.2zM249.3 269.7h1.2v1.2h-1.2zM257 277.7h1.2v1.2h-1.2zM259.2 291h1.2v1.2h-1.2zM257.8 297.2h1.2v1.2h-1.2zM253.7 279.4h1.2v1.2h-1.2zM252.2 260.1h1.2v1.2h-1.2zM253.7 271.6h1.2v1.2h-1.2zM257.1 258.3h1.2v1.2h-1.2zM259.5 263.2h1.2v1.2h-1.2zM256.3 256.5h1.2v1.2h-1.2zM255.8 276h1.2v1.2h-1.2zM257.8 269.8h1.2v1.2h-1.2zM257.6 302.7h1.2v1.2h-1.2zM254.8 291.3h1.2v1.2h-1.2zM254.8 276.3h1.2v1.2h-1.2zM252.4 264.6h1.2v1.2h-1.2zM250 274h1.2v1.2h-1.2zM256.7 272.3h1.2v1.2h-1.2zM256.8 289h1.2v1.2h-1.2zM254.2 295.5h1.2v1.2h-1.2zM254.2 275.5h1.2v1.2h-1.2zM254.9 265.7h1.2v1.2h-1.2zM254 298.3h1.2v1.2h-1.2zM254.8 267.8h1.2v1.2h-1.2zM250.8 284h1.2v1.2h-1.2zM253.1 292h1.2v1.2h-1.2zM254.1 264.6h1.2v1.2h-1.2zM256.6 288h1.2v1.2h-1.2zM250 267.6h1.2v1.2h-1.2zM261.1 289.3h1.2v1.2h-1.2zM255.1 301.3h1.2v1.2h-1.2zM258 262.6h1.2v1.2h-1.2zM255.1 276.7h1.2v1.2h-1.2zM258.6 267h1.2v1.2h-1.2zM257 258.3h1.2v1.2h-1.2zM259.4 289.2h1.2v1.2h-1.2zM252.6 284.6h1.2v1.2h-1.2zM251.3 281h1.2v1.2h-1.2zM250.9 270.1h1.2v1.2h-1.2zM249.8 258h1.2v1.2h-1.2zM252.5 284.1h1.2v1.2h-1.2zM256.8 288.4h1.2v1.2h-1.2zM255.6 258.5h1.2v1.2h-1.2zM257.5 260.5h1.2v1.2h-1.2zM252.9 265.4h1.2v1.2h-1.2zM254.5 288.2h1.2v1.2h-1.2zM257.6 274.6h1.2v1.2h-1.2zM254.1 290h1.2v1.2h-1.2zM255.4 287h1.2v1.2h-1.2zM255.2 285.1h1.2v1.2h-1.2zM255.8 301.2h1.2v1.2h-1.2zM254.8 289.1h1.2v1.2h-1.2zM257 297.5h1.2v1.2h-1.2zM258.6 270.9h1.2v1.2h-1.2zM252.1 267.7h1.2v1.2h-1.2zM256.3 286.6h1.2v1.2h-1.2zM254.4 294.5h1.2v1.2h-1.2zM258.7 257.1h1.2v1.2h-1.2zM255.7 264.6h1.2v1.2h-1.2zM249.9 257.5h1.2v1.2h-1.2zM257.3 258.2h1.2v1.2h-1.2zM253.6 277.7h1.2v1.2h-1.2zM257.4 297.6h1.2v1.2h-1.2zM254.4 259.9h1.2v1.2h-1.2zM254.1 296.2h1.2v1.2h-1.2zM257.6 289.6h1.2v1.2h-1.2zM252.9 290.8h1.2v1.2h-1.2zM255.9 279.3h1.2v1.2h-1.2zM255.7 281.1h1.2v1.2h-1.2zM253.7 285.1h1.2v1.2h-1.2zM260.1 277.9h1.2v1.2h-1.2zM256.1 266.9h1.2v1.2h-1.2zM251.9 285.3h1.2v1.2h-1.2zM255.8 276.1h1.2v1.2h-1.2zM258.2 258.1h1.2v1.2h-1.2zM251.9 259.4h1.2v1.2h-1.2zM253.7 274.8h1.2v1.2h-1.2zM256.4 268.9h1.2v1.2h-1.2zM255.9 276.7h1.2v1.2h-1.2zM259.3 285.6h1.2v1.2h-1.2zM252.5 282.9h1.2v1.2h-1.2zM255.2 274.4h1.2v1.2h-1.2zM254.4 269.5h1.2v1.2h-1.2zM251.2 283.9h1.2v1.2h-1.2zM258.3 274.3h1.2v1.2h-1.2zM255 271.7h1.2v1.2h-1.2zM253.7 282.9h1.2v1.2h-1.2zM255.9 298.8h1.2v1.2h-1.2zM259.5 281.4h1.2v1.2h-1.2zM254.5 301.4h1.2v1.2h-1.2zM257.6 262.6h1.2v1.2h-1.2zM254.8 284.9h1.2v1.2h-1.2zM253.7 257.9h1.2v1.2h-1.2zM257.9 261.3h1.2v1.2h-1.2zM249.4 287.4h1.2v1.2h-1.2zM256.3 272.7h1.2v1.2h-1.2zM251.9 281.1h1.2v1.2h-1.2zM252.5 262.4h1.2v1.2h-1.2zM255.4 286h1.2v1.2h-1.2zM251.7 282.4h1.2v1.2h-1.2zM255.6 291.2h1.2v1.2h-1.2zM252.4 288h1.2v1.2h-1.2zM257.7 271.4h1.2v1.2h-1.2zM256.4 300.6h1.2v1.2h-1.2zM257.4 302.1h1.2v1.2h-1.2zM256.7 266.4h1.2v1.2h-1.2zM254 274.7h1.2v1.2h-1.2zM253.3 271.5h1.2v1.2h-1.2zM256.7 288h1.2v1.2h-1.2zM253.1 297.5h1.2v1.2h-1.2zM252.4 271.5h1.2v1.2h-1.2zM247.4 270h1.2v1.2h-1.2zM255.1 267.9h1.2v1.2h-1.2zM254.7 269.3h1.2v1.2h-1.2zM256.5 285h1.2v1.2h-1.2zM255.3 292.4h1.2v1.2h-1.2zM254.6 278.9h1.2v1.2h-1.2zM259.5 275.5h1.2v1.2h-1.2zM257.5 289h1.2v1.2h-1.2zM256.6 270.4h1.2v1.2h-1.2zM252.1 296.2h1.2v1.2h-1.2zM257.1 271.7h1.2v1.2h-1.2zM252.6 281.8h1.2v1.2h-1.2zM251.5 298.7h1.2v1.2h-1.2zM251.7 280h1.2v1.2h-1.2zM255.5 286.7h1.2v1.2h-1.2zM252.1 259.5h1.2v1.2h-1.2zM255 288.1h1.2v1.2h-1.2zM257.4 277.8h1.2v1.2h-1.2zM252 274.5h1.2v1.2h-1.2zM254.4 300.5h1.2v1.2h-1.2zM257.7 290.5h1.2v1.2h-1.2zM255.6 279.1h1.2v1.2h-1.2zM258.2 286h1.2v1.2h-1.2zM260.6 274.7h1.2v1.2h-1.2zM249.9 266.8h1.2v1.2h-1.2zM258.3 276.9h1.2v1.2h-1.2zM260.2 297.3h1.2v1.2h-1.2zM256.2 270.4h1.2v1.2h-1.2zM257.6 270.6h1.2v1.2h-1.2zM259.8 270h1.2v1.2h-1.2zM250.6 258.5h1.2v1.2h-1.2zM256.8 279h1.2v1.2h-1.2zM254 289.2h1.2v1.2h-1.2zM255.1 277h1.2v1.2h-1.2zM257 293.6h1.2v1.2h-1.2zM255.4 283.4h1.2v1.2h-1.2zM257 269.9h1.2v1.2h-1.2zM256.4 279h1.2v1.2h-1.2zM257.9 289.1h1.2v1.2h-1.2zM255.9 288.9h1.2v1.2h-1.2zM258.2 293.4h1.2v1.2h-1.2zM260.3 285.2h1.2v1.2h-1.2zM251.7 257h1.2v1.2h-1.2zM251 271.6h1.2v1.2h-1.2zM252.2 281.3h1.2v1.2h-1.2zM259.8 272h1.2v1.2h-1.2zM254.2 260.5h1.2v1.2h-1.2zM254.3 265.6h1.2v1.2h-1.2zM261.6 266h1.2v1.2h-1.2zM256.1 263h1.2v1.2h-1.2zM257.6 284.1h1.2v1.2h-1.2zM252.1 261.8h1.2v1.2h-1.2zM255 287.7h1.2v1.2h-1.2zM250.7 285.3h1.2v1.2h-1.2zM254.2 286.4h1.2v1.2h-1.2zM253.3 258.7h1.2v1.2h-1.2zM252.5 294.9h1.2v1.2h-1.2zM257.9 282.9h1.2v1.2h-1.2zM257.8 284.1h1.2v1.2h-1.2zM256.2 293.9h1.2v1.2h-1.2zM253.4 285.2h1.2v1.2h-1.2zM256.9 273.7h1.2v1.2h-1.2zM255.1 269.6h1.2v1.2h-1.2zM256.2 276.3h1.2v1.2h-1.2zM253.6 290.5h1.2v1.2h-1.2zM258 262.3h1.2v1.2h-1.2zM255.2 264.9h1.2v1.2h-1.2zM251.4 268.1h1.2v1.2h-1.2zM257.4 291.4h1.2v1.2h-1.2zM261.9 263.9h1.2v1.2h-1.2zM256.9 259.8h1.2v1.2h-1.2zM256.3 294.4h1.2v1.2h-1.2zM256.7 257.6h1.2v1.2h-1.2zM256.1 290.5h1.2v1.2h-1.2zM255.5 266.9h1.2v1.2h-1.2zM251.4 257.8h1.2v1.2h-1.2zM256.1 276.5h1.2v1.2h-1.2zM255.3 278.9h1.2v1.2h-1.2zM256.7 259.2h1.2v1.2h-1.2zM260.8 291.9h1.2v1.2h-1.2zM256.6 295.9h1.2v1.2h-1.2zM259.7 281.1h1.2v1.2h-1.2zM254.8 286.2h1.2v1.2h-1.2zM258.6 276.6h1.2v1.2h-1.2zM254.3 256.7h1.2v1.2h-1.2zM253.4 261.3h1.2v1.2h-1.2zM255.7 287.5h1.2v1.2h-1.2zM253.7 297.6h1.2v1.2h-1.2zM256.8 261.8h1.2v1.2h-1.2zM254.4 257.9h1.2v1.2h-1.2zM258.1 278.7h1.2v1.2h-1.2zM257.6 257.1h1.2v1.2h-1.2zM254 259.7h1.2v1.2h-1.2zM254.1 272.6h1.2v1.2h-1.2zM256 260.9h1.2v1.2h-1.2zM249.5 269.3h1.2v1.2h-1.2zM258.2 258.5h1.2v1.2h-1.2zM254.4 275.6h1.2v1.2h-1.2zM251.5 286.7h1.2v1.2h-1.2zM257.9 294.3h1.2v1.2h-1.2zM256.7 294.3h1.2v1.2h-1.2zM255.1 258h1.2v1.2h-1.2zM256.2 298.7h1.2v1.2h-1.2zM256.3 300h1.2v1.2h-1.2zM257 260.4h1.2v1.2h-1.2zM260.3 300h1.2v1.2h-1.2zM250.1 266.7h1.2v1.2h-1.2zM254.6 258.2h1.2v1.2h-1.2zM254.1 266.4h1.2v1.2h-1.2zM260 300.6h1.2v1.2h-1.2zM257.8 298.9h1.2v1.2h-1.2zM255.8 287.6h1.2v1.2h-1.2zM255.4 285.3h1.2v1.2h-1.2zM252.4 260h1.2v1.2h-1.2zM253.9 259.5h1.2v1.2h-1.2zM255.7 301.1h1.2v1.2h-1.2zM258.8 263.2h1.2v1.2h-1.2zM254 294.3h1.2v1.2h-1.2zM257.7 256.7h1.2v1.2h-1.2zM254.1 282.7h1.2v1.2h-1.2zM255 282.3h1.2v1.2h-1.2zM256 298.9h1.2v1.2h-1.2zM257 261.9h1.2v1.2h-1.2zM255.9 299.3h1.2v1.2h-1.2zM253.6 276.6h1.2v1.2h-1.2zM256 295.5h1.2v1.2h-1.2zM253 298.4h1.2v1.2h-1.2zM253.9 278.9h1.2v1.2h-1.2zM253 284.4h1.2v1.2h-1.2zM259.1 270.4h1.2v1.2h-1.2zM255.5 292.9h1.2v1.2h-1.2zM250 278.2h1.2v1.2h-1.2zM251 282.4h1.2v1.2h-1.2zM252.5 258.7h1.2v1.2h-1.2zM255.4 262.5h1.2v1.2h-1.2zM247.4 261h1.2v1.2h-1.2zM251.4 284.1h1.2v1.2h-1.2zM252.9 274.1h1.2v1.2h-1.2zM253.6 286.4h1.2v1.2h-1.2zM256.4 286.8h1.2v1.2h-1.2zM253.7 275.1h1.2v1.2h-1.2zM255.8 259.4h1.2v1.2h-1.2zM253.2 299.1h1.2v1.2h-1.2zM254.5 284.3h1.2v1.2h-1.2zM256.7 278.7h1.2v1.2h-1.2zM253.7 274.8h1.2v1.2h-1.2zM258.3 266.3h1.2v1.2h-1.2zM258.8 258.4h1.2v1.2h-1.2zM254.3 273.4h1.2v1.2h-1.2zM257.2 293.8h1.2v1.2h-1.2zM254.5 274.4h1.2v1.2h-1.2zM255.4 292.5h1.2v1.2h-1.2zM253.5 268.6h1.2v1.2h-1.2zM255.5 276.9h1.2v1.2h-1.2zM252.7 293.9h1.2v1.2h-1.2zM252.7 258.7h1.2v1.2h-1.2zM254.8 260.8h1.2v1.2h-1.2zM252.7 258.4h1.2v1.2h-1.2zM256.5 279h1.2v1.2h-1.2zM258.4 269.9h1.2v1.2h-1.2zM256 290.2h1.2v1.2h-1.2zM254.2 274.6h1.2v1.2h-1.2zM261.8 268.4h1.2v1.2h-1.2zM256.6 256.9h1.2v1.2h-1.2zM254.9 277.7h1.2v1.2h-1.2zM257.1 282.2h1.2v1.2h-1.2zM256.6 287.2h1.2v1.2h-1.2zM256.4 288.9h1.2v1.2h-1.2zM253.9 288.5h1.2v1.2h-1.2zM254.9 285.4h1.2v1.2h-1.2zM257.5 298.2h1.2v1.2h-1.2zM250.6 280.3h1.2v1.2h-1.2zM257.2 291h1.2v1.2h-1.2zM254.7 280.2h1.2v1.2h-1.2zM255 297.3h1.2v1.2h-1.2zM254.4 261.9h1.2v1.2h-1.2zM259 257.8h1.2v1.2h-1.2zM254.6 271.1h1.2v1.2h-1.2zM253.7 285.8h1.2v1.2h-1.2zM252.6 258.4h1.2v1.2h-1.2zM257.7 260.8h1.2v1.2h-1.2zM252.5 284.1h1.2v1.2h-1.2zM253.5 300h1.2v1.2h-1.2zM255.4 300.9h1.2v1.2h-1.2zM260.4 268.7h1.2v1.2h-1.2zM252.3 259.2h1.2v1.2h-1.2zM257.4 281.4h1.2v1.2h-1.2zM256.1 271.6h1.2v1.2h-1.2zM254.8 286.8h1.2v1.2h-1.2zM253.8 257.2h1.2v1.2h-1.2z" fill="#000"/>
<path d="M254.9 312.5h1.2v1.2h-1.2zM255.8 300.5h1.2v1.2h-1.2zM252.8 300.9h1.2v1.2h-1.2zM254 312.8h1.2v1.2h-1.2zM256 306.5h1.2v1.2h-1.2zM255.1 304.8h1.2v1.2h-1.2zM256.2 304h1.2v1.2h-1.2zM252.7 307.8h1.2v1.2h-1.2zM253.8 309.1h1.2v1.2h-1.2zM254.6 308.7h1.2v1.2h-1.2zM251 313.6h1.2v1.2h-1.2zM255.8 301.2h1.2v1.2h-1.2zM256.2 305.3h1.2v1.2h-1.2zM253.1 304.9h1.2v1.2h-1.2zM256 312.6h1.2v1.2h-1.2zM255 306.7h1.2v1.2h-1.2zM253.2 308.3h1.2v1.2h-1.2zM255.2 303.9h1.2v1.2h-1.2zM253.8 306.7h1.2v1.2h-1.2zM255.1 310.4h1.2v1.2h-1.2zM253.5 304.9h1.2v1.2h-1.2zM254.8 309.6h1.2v1.2h-1.2zM251.5 306.6h1.2v1.2h-1.2zM254.3 303.2h1.2v1.2h-1.2zM252.9 306.7h1.2v1.2h-1.2zM257 311.5h1.2v1.2h-1.2zM258.2 311.7h1.2v1.2h-1.2zM255.5 300.5h1.2v1.2h-1.2zM253.4 300.6h1.2v1.2h-1.2zM254.2 309.3h1.2v1.2h-1.2zM254.2 307.3h1.2v1.2h-1.2zM254.4 309.8h1.2v1.2h-1.2zM253.2 314.9h1.2v1.2h-1.2zM255.1 304.7h1.2v1.2h-1.2zM252.4 314h1.2v1.2h-1.2zM254.1 309.9h1.2v1.2h-1.2zM252 306h1.2v1.2h-1.2zM252.7 307.4h1.2v1.2h-1.2zM255.4 312.5h1.2v1.2h-1.2zM251.9 309.8h1.2v1.2h-1.2zM252.8 310.7h1.2v1.2h-1.2zM254.1 313.6h1.2v1.2h-1.2zM255.4 305h1.2v1.2h-1.2zM251.9 304.7h1.2v1.2h-1.2zM254.9 315.6h1.2v1.2h-1.2zM253 305.1h1.2v1.2h-1.2zM253.2 310.9h1.2v1.2h-1.2zM252.8 303.7h1.2v1.2h-1.2zM255.3 314.1h1.2v1.2h-1.2zM251.9 307.9h1.2v1.2h-1.2zM255.9 312h1.2v1.2h-1.2zM252.9 301.4h1.2v1.2h-1.2zM254.8 310.7h1.2v1.2h-1.2zM256 309.6h1.2v1.2h-1.2z" fill="#000"/>
<path d="M257.7 295.7h1v1h-1zM259 296.8h1v1h-1zM250.3 312.3h1v1h-1zM260.2 295.3h1v1h-1zM251.3 285h1v1h-1zM258.8 290.7h1v1h-1zM251.9 303.2h1v1h-1zM247.8 291.5h1v1h-1zM249.7 291.4h1v1h-1zM260.1 279.6h1v1h-1zM245.2 255.8h1v1h-1zM258.9 283.1h1v1h-1zM251.4 256.8h1v1h-1zM245 255h1v1h-1zM260 257.8h1v1h-1zM249.1 283.4h1v1h-1zM253.9 268.3h1v1h-1zM255.3 293.4h1v1h-1zM261.7 260.6h1v1h-1zM248.6 261.2h1v1h-1zM248.5 267.8h1v1h-1zM248.2 299.7h1v1h-1zM258.5 302.8h1v1h-1zM259.2 292.9h1v1h-1zM254.5 280.5h1v1h-1zM258.6 287h1v1h-1zM249.7 284.8h1v1h-1zM252 266.2h1v1h-1zM255.8 305.1h1v1h-1zM255.4 255.6h1v1h-1zM250.7 301h1v1h-1zM245.5 285.3h1v1h-1zM256 287.1h1v1h-1zM249.3 256h1v1h-1zM256.4 265h1v1h-1zM254.4 286.5h1v1h-1zM256.7 261.7h1v1h-1zM261.5 299.9h1v1h-1zM259.6 266.1h1v1h-1zM256.7 277.7h1v1h-1zM256.3 296.9h1v1h-1zM250.8 311.9h1v1h-1zM251.3 283h1v1h-1zM256.6 264.1h1v1h-1zM260 274.9h1v1h-1zM259.9 263.7h1v1h-1zM245.4 290.4h1v1h-1zM247.6 281.4h1v1h-1zM246.8 298.5h1v1h-1zM257 296.2h1v1h-1zM245.6 257.8h1v1h-1zM254.1 259.9h1v1h-1zM256.6 287.8h1v1h-1zM260.7 304.1h1v1h-1zM255.5 304.6h1v1h-1z" fill="#000"/>
<rect x="198.1" y="186.3" width="130.1" height="129.9" fill="none" stroke="#000" stroke-width="1.3"/>
<path d="M241.7 186.3V316.2M198.1 267.1H328.2" stroke="#000" stroke-width="1.3" fill="none"/>
<path d="M198.1 316.2v4.5M198.1 316.2h-4.5M204.4 316.2v4.2M198.1 309.9h-4.2M208.1 316.2v4.2M198.1 306.2h-4.2M210.7 316.2v4.2M198.1 303.6h-4.2M212.8 316.2v4.2M198.1 301.6h-4.2M214.4 316.2v4.2M198.1 299.9h-4.2M215.8 316.2v4.2M198.1 298.5h-4.2M217.1 316.2v4.2M198.1 297.3h-4.2M218.1 316.2v4.2M198.1 296.2h-4.2M219.1 316.2v4.5M198.1 295.2h-4.5M225.4 316.2v4.2M198.1 288.9h-4.2M229.1 316.2v4.2M198.1 285.3h-4.2M231.7 316.2v4.2M198.1 282.6h-4.2M233.8 316.2v4.2M198.1 280.6h-4.2M235.4 316.2v4.2M198.1 278.9h-4.2M236.8 316.2v4.2M198.1 277.5h-4.2M238 316.2v4.2M198.1 276.3h-4.2M239.1 316.2v4.2M198.1 275.3h-4.2M240.1 316.2v4.5M198.1 274.3h-4.5M246.4 316.2v4.2M198.1 268h-4.2M250.1 316.2v4.2M198.1 264.3h-4.2M252.7 316.2v4.2M198.1 261.7h-4.2M254.7 316.2v4.2M198.1 259.7h-4.2M256.4 316.2v4.2M198.1 258h-4.2M257.8 316.2v4.2M198.1 256.6h-4.2M259 316.2v4.2M198.1 255.4h-4.2M260.1 316.2v4.2M198.1 254.3h-4.2M261.1 316.2v4.5M198.1 253.3h-4.5M267.4 316.2v4.2M198.1 247h-4.2M271.1 316.2v4.2M198.1 243.3h-4.2M273.7 316.2v4.2M198.1 240.7h-4.2M275.7 316.2v4.2M198.1 238.7h-4.2M277.4 316.2v4.2M198.1 237h-4.2M278.8 316.2v4.2M198.1 235.6h-4.2M280 316.2v4.2M198.1 234.4h-4.2M281.1 316.2v4.2M198.1 233.4h-4.2M282 316.2v4.5M198.1 232.4h-4.5M288.4 316.2v4.2M198.1 226.1h-4.2M292 316.2v4.2M198.1 222.4h-4.2M294.7 316.2v4.2M198.1 219.8h-4.2M296.7 316.2v4.2M198.1 217.7h-4.2M298.4 316.2v4.2M198.1 216.1h-4.2M299.8 316.2v4.2M198.1 214.7h-4.2M301 316.2v4.2M198.1 213.5h-4.2M302.1 316.2v4.2M198.1 212.4h-4.2M303 316.2v4.5M198.1 211.4h-4.5M309.3 316.2v4.2M198.1 205.1h-4.2M313 316.2v4.2M198.1 201.4h-4.2M315.7 316.2v4.2M198.1 198.8h-4.2M317.7 316.2v4.2M198.1 196.8h-4.2M319.3 316.2v4.2M198.1 195.1h-4.2M320.8 316.2v4.2M198.1 193.7h-4.2M322 316.2v4.2M198.1 192.5h-4.2M323 316.2v4.2M198.1 191.4h-4.2M324 316.2v4.5M198.1 190.5h-4.5M328.2 316.2v4.5M198.1 186.3h-4.5" stroke="#000" stroke-width="1" fill="none"/>
<text x="197.9" y="329.2" class="tl" text-anchor="middle">ω<tspan class="sup" dy="-1.5">1</tspan></text><text transform="translate(189.8 316.5) rotate(-90)" class="tl" text-anchor="middle">ω<tspan class="sup" dy="-1.5">1</tspan></text><text x="218.9" y="329.2" class="tl" text-anchor="middle">ω<tspan class="sup" dy="-1.5">2</tspan></text><text transform="translate(189.8 295.5) rotate(-90)" class="tl" text-anchor="middle">ω<tspan class="sup" dy="-1.5">2</tspan></text><text x="239.9" y="329.2" class="tl" text-anchor="middle">ω<tspan class="sup" dy="-1.5">3</tspan></text><text transform="translate(189.8 274.6) rotate(-90)" class="tl" text-anchor="middle">ω<tspan class="sup" dy="-1.5">3</tspan></text><text x="260.9" y="329.2" class="tl" text-anchor="middle">ω<tspan class="sup" dy="-1.5">4</tspan></text><text transform="translate(189.8 253.6) rotate(-90)" class="tl" text-anchor="middle">ω<tspan class="sup" dy="-1.5">4</tspan></text><text x="281.8" y="329.2" class="tl" text-anchor="middle">ω<tspan class="sup" dy="-1.5">5</tspan></text><text transform="translate(189.8 232.7) rotate(-90)" class="tl" text-anchor="middle">ω<tspan class="sup" dy="-1.5">5</tspan></text><text x="302.8" y="329.2" class="tl" text-anchor="middle">ω<tspan class="sup" dy="-1.5">6</tspan></text><text transform="translate(189.8 211.7) rotate(-90)" class="tl" text-anchor="middle">ω<tspan class="sup" dy="-1.5">6</tspan></text><text x="328" y="329.2" class="tl" text-anchor="middle">ω<tspan class="sup" dy="-1.5">7.2</tspan></text><text transform="translate(189.8 186.6) rotate(-90)" class="tl" text-anchor="middle">ω<tspan class="sup" dy="-1.5">7.2</tspan></text>
<text x="210.5" y="199.7" class="qn">0.31</text>
<text x="296.1" y="199.7" class="qn">1.63</text>
<text x="296.3" y="281" class="qn">2.03</text>
<polygon points="372,270 385,268.5 398,266 410,263 418.5,261 418.5,261 418,285 416,300 414.5,316.7 371.8,316.7" fill="#000"/>
<path d="M395.1 265.2h1.2v1.2h-1.2zM374 266.7h1.2v1.2h-1.2zM402 262.2h1.2v1.2h-1.2zM395.2 264.6h1.2v1.2h-1.2zM414 260.4h1.2v1.2h-1.2zM377.3 262.6h1.2v1.2h-1.2zM405.8 258.6h1.2v1.2h-1.2zM417 259.4h1.2v1.2h-1.2zM378.6 267.2h1.2v1.2h-1.2zM394.2 265h1.2v1.2h-1.2zM407.9 262.2h1.2v1.2h-1.2zM416.4 260.3h1.2v1.2h-1.2zM384.1 264.4h1.2v1.2h-1.2zM382.1 265.6h1.2v1.2h-1.2zM384.2 266.9h1.2v1.2h-1.2zM393.3 265.6h1.2v1.2h-1.2zM408.4 256.8h1.2v1.2h-1.2zM414.4 260.9h1.2v1.2h-1.2zM372.5 268.1h1.2v1.2h-1.2zM405.5 261.7h1.2v1.2h-1.2zM414.5 254h1.2v1.2h-1.2zM403.1 263.3h1.2v1.2h-1.2zM390.2 266.6h1.2v1.2h-1.2zM389.4 264.1h1.2v1.2h-1.2zM386.2 267.1h1.2v1.2h-1.2zM395.8 261.1h1.2v1.2h-1.2zM401.5 264.1h1.2v1.2h-1.2zM391.6 266h1.2v1.2h-1.2zM409 261.4h1.2v1.2h-1.2zM391.4 262.3h1.2v1.2h-1.2zM385.2 266.5h1.2v1.2h-1.2zM416.8 259.9h1.2v1.2h-1.2zM396.3 263.5h1.2v1.2h-1.2zM386.8 265.4h1.2v1.2h-1.2zM390.5 263.1h1.2v1.2h-1.2zM396.8 262.9h1.2v1.2h-1.2zM397.7 262.9h1.2v1.2h-1.2zM389.7 266.6h1.2v1.2h-1.2zM388.3 266.3h1.2v1.2h-1.2zM371.7 266.4h1.2v1.2h-1.2zM395.7 264.4h1.2v1.2h-1.2zM404.2 263.5h1.2v1.2h-1.2zM377 266.2h1.2v1.2h-1.2zM372.9 265.1h1.2v1.2h-1.2zM393.9 259.1h1.2v1.2h-1.2zM411.2 260.9h1.2v1.2h-1.2zM387.3 266.2h1.2v1.2h-1.2zM407 261.7h1.2v1.2h-1.2zM403.3 256.7h1.2v1.2h-1.2zM406 261.8h1.2v1.2h-1.2zM405.7 261.9h1.2v1.2h-1.2zM398.3 264h1.2v1.2h-1.2zM413.3 254.3h1.2v1.2h-1.2zM397.6 263.7h1.2v1.2h-1.2zM376.1 267.2h1.2v1.2h-1.2zM414.5 260.6h1.2v1.2h-1.2zM407.4 262.3h1.2v1.2h-1.2zM404.5 262.9h1.2v1.2h-1.2zM398.5 262h1.2v1.2h-1.2zM372.5 265.6h1.2v1.2h-1.2zM395.8 265.1h1.2v1.2h-1.2zM385.6 266h1.2v1.2h-1.2zM405.9 262.9h1.2v1.2h-1.2zM374.6 268.5h1.2v1.2h-1.2zM400.8 263.5h1.2v1.2h-1.2zM406.3 260.5h1.2v1.2h-1.2zM388.3 265.3h1.2v1.2h-1.2zM378.1 266.7h1.2v1.2h-1.2zM401.5 263.8h1.2v1.2h-1.2zM402.5 263.8h1.2v1.2h-1.2zM416.2 259.2h1.2v1.2h-1.2zM413.8 259.1h1.2v1.2h-1.2zM381.2 265.6h1.2v1.2h-1.2zM399.9 263.8h1.2v1.2h-1.2zM403 261h1.2v1.2h-1.2z" fill="#000"/>
<path d="M403.2 264.3h1.2v1.2h-1.2zM417 263.6h1.2v1.2h-1.2zM392.4 269.6h1.2v1.2h-1.2zM417.7 261h1.2v1.2h-1.2zM380.4 268.7h1.2v1.2h-1.2zM394.4 266.2h1.2v1.2h-1.2zM382.8 269.7h1.2v1.2h-1.2zM372.4 270.4h1.2v1.2h-1.2zM390.8 268.2h1.2v1.2h-1.2zM383.7 268.8h1.2v1.2h-1.2zM381.4 268.3h1.2v1.2h-1.2zM411.8 262.4h1.2v1.2h-1.2zM385.9 270.9h1.2v1.2h-1.2zM389 268h1.2v1.2h-1.2zM378.1 269.3h1.2v1.2h-1.2zM412.6 263.8h1.2v1.2h-1.2zM410.2 265.3h1.2v1.2h-1.2zM382.3 268.2h1.2v1.2h-1.2zM377.7 269.9h1.2v1.2h-1.2zM397.1 266h1.2v1.2h-1.2zM404.7 263.9h1.2v1.2h-1.2zM400 265.4h1.2v1.2h-1.2zM378.2 270.4h1.2v1.2h-1.2z" fill="#fff"/>
<path d="M420.6 270.8h1.2v1.2h-1.2zM416.1 302.9h1.2v1.2h-1.2zM417.6 285.8h1.2v1.2h-1.2zM419.9 268.2h1.2v1.2h-1.2zM419 281.2h1.2v1.2h-1.2zM418 281h1.2v1.2h-1.2zM420.3 269.6h1.2v1.2h-1.2zM417.7 284.6h1.2v1.2h-1.2zM414.8 309.1h1.2v1.2h-1.2zM417.9 273.2h1.2v1.2h-1.2zM419.1 292h1.2v1.2h-1.2zM422.5 262.2h1.2v1.2h-1.2zM418.6 299.8h1.2v1.2h-1.2zM418.4 284h1.2v1.2h-1.2zM418.3 265.7h1.2v1.2h-1.2zM415.1 309h1.2v1.2h-1.2zM417.6 310.9h1.2v1.2h-1.2zM414.6 311.7h1.2v1.2h-1.2zM420.6 284.1h1.2v1.2h-1.2zM418 277.8h1.2v1.2h-1.2zM419.2 261.6h1.2v1.2h-1.2zM416.9 291.1h1.2v1.2h-1.2zM419.4 274.9h1.2v1.2h-1.2zM420.5 270.1h1.2v1.2h-1.2zM415.5 309.1h1.2v1.2h-1.2zM419.3 267.7h1.2v1.2h-1.2zM417.8 276.9h1.2v1.2h-1.2zM416.8 300h1.2v1.2h-1.2zM418.1 275.6h1.2v1.2h-1.2zM419.7 301.1h1.2v1.2h-1.2zM419.1 280.1h1.2v1.2h-1.2zM418.8 272.8h1.2v1.2h-1.2zM416.9 292.9h1.2v1.2h-1.2zM417.5 294.3h1.2v1.2h-1.2zM418.1 262.8h1.2v1.2h-1.2zM417.7 283.6h1.2v1.2h-1.2zM418.1 291.1h1.2v1.2h-1.2zM419.8 295.8h1.2v1.2h-1.2zM418.7 294.7h1.2v1.2h-1.2zM421.5 266.9h1.2v1.2h-1.2zM415.9 312.3h1.2v1.2h-1.2zM416.2 306.6h1.2v1.2h-1.2zM417.7 284.7h1.2v1.2h-1.2zM419.3 287.5h1.2v1.2h-1.2zM418.9 305h1.2v1.2h-1.2zM421.9 290h1.2v1.2h-1.2zM417.5 281.2h1.2v1.2h-1.2zM418.8 284.2h1.2v1.2h-1.2zM415.5 303.5h1.2v1.2h-1.2zM420.2 261.9h1.2v1.2h-1.2zM421.1 271.2h1.2v1.2h-1.2zM416.7 292h1.2v1.2h-1.2zM419.4 289.8h1.2v1.2h-1.2zM423.3 273h1.2v1.2h-1.2zM418.1 263.6h1.2v1.2h-1.2zM418.2 293.8h1.2v1.2h-1.2zM420.7 294.6h1.2v1.2h-1.2zM417.8 271.7h1.2v1.2h-1.2zM417.4 290.5h1.2v1.2h-1.2zM418.3 282.6h1.2v1.2h-1.2zM415.1 309.6h1.2v1.2h-1.2zM417 299.2h1.2v1.2h-1.2zM421.9 276.4h1.2v1.2h-1.2zM418.2 274.7h1.2v1.2h-1.2zM419.8 271.2h1.2v1.2h-1.2zM416.3 299.1h1.2v1.2h-1.2zM419.4 267h1.2v1.2h-1.2z" fill="#000"/>
<path d="M416.2 279.2h1.2v1.2h-1.2zM415.7 296.9h1.2v1.2h-1.2zM415.1 262.9h1.2v1.2h-1.2zM414.4 308.7h1.2v1.2h-1.2zM416.8 272.8h1.2v1.2h-1.2zM414.1 306.7h1.2v1.2h-1.2zM414 313.7h1.2v1.2h-1.2zM414.3 310.8h1.2v1.2h-1.2zM411.2 293.3h1.2v1.2h-1.2zM411.4 300.3h1.2v1.2h-1.2zM412.5 279.9h1.2v1.2h-1.2zM413.9 310.7h1.2v1.2h-1.2zM411.1 303h1.2v1.2h-1.2zM416.9 272.3h1.2v1.2h-1.2zM413.7 303.2h1.2v1.2h-1.2zM413.4 311.4h1.2v1.2h-1.2zM417 285.4h1.2v1.2h-1.2zM414.3 275.7h1.2v1.2h-1.2zM414 274.9h1.2v1.2h-1.2zM413.5 305h1.2v1.2h-1.2zM417.5 277.3h1.2v1.2h-1.2zM414.9 266.9h1.2v1.2h-1.2zM409.1 313.3h1.2v1.2h-1.2zM413.2 276h1.2v1.2h-1.2zM416.6 284.9h1.2v1.2h-1.2zM411.6 310.8h1.2v1.2h-1.2zM415 298.1h1.2v1.2h-1.2zM417.5 266.4h1.2v1.2h-1.2zM417.3 275.1h1.2v1.2h-1.2zM415.8 292.2h1.2v1.2h-1.2zM414.3 272.4h1.2v1.2h-1.2zM417.5 281h1.2v1.2h-1.2zM416.6 260.9h1.2v1.2h-1.2zM416.6 262h1.2v1.2h-1.2zM416.9 261.8h1.2v1.2h-1.2zM414.8 294.7h1.2v1.2h-1.2zM414.7 272.4h1.2v1.2h-1.2zM411.4 314.3h1.2v1.2h-1.2zM409.3 311.9h1.2v1.2h-1.2zM416.2 280.9h1.2v1.2h-1.2zM414.9 283.5h1.2v1.2h-1.2zM417.3 269.8h1.2v1.2h-1.2zM416 285.4h1.2v1.2h-1.2zM413.3 315.5h1.2v1.2h-1.2zM417.1 260.6h1.2v1.2h-1.2zM414.4 309.2h1.2v1.2h-1.2zM415.3 289.2h1.2v1.2h-1.2zM414.1 307.1h1.2v1.2h-1.2zM411.3 293.6h1.2v1.2h-1.2zM412.7 314.4h1.2v1.2h-1.2z" fill="#fff"/>
<path d="M373.4 309.5h1.3v1.3h-1.3zM377.9 308.9h1.3v1.3h-1.3zM377 313.2h1.3v1.3h-1.3zM377.6 313.5h1.3v1.3h-1.3zM372.7 315.7h1.3v1.3h-1.3zM375.4 315.1h1.3v1.3h-1.3zM373 314.1h1.3v1.3h-1.3zM373.7 312.8h1.3v1.3h-1.3zM386.4 311.5h1.3v1.3h-1.3zM375.3 313h1.3v1.3h-1.3zM375.3 305.4h1.3v1.3h-1.3zM375 311.7h1.3v1.3h-1.3zM373.5 315h1.3v1.3h-1.3zM372.5 315.7h1.3v1.3h-1.3zM373 316.1h1.3v1.3h-1.3zM374 310.8h1.3v1.3h-1.3zM372 307.2h1.3v1.3h-1.3zM374.4 310h1.3v1.3h-1.3zM374.2 306.1h1.3v1.3h-1.3zM377 315.5h1.3v1.3h-1.3zM375.3 314.4h1.3v1.3h-1.3zM378.2 313.3h1.3v1.3h-1.3zM372.6 316.1h1.3v1.3h-1.3zM386.4 315.5h1.3v1.3h-1.3zM372.8 299h1.3v1.3h-1.3zM371.6 312.9h1.3v1.3h-1.3zM374.2 308.9h1.3v1.3h-1.3zM379 296.9h1.3v1.3h-1.3zM373.3 315.8h1.3v1.3h-1.3zM372.6 316.3h1.3v1.3h-1.3zM372.9 310.1h1.3v1.3h-1.3zM382.6 315.7h1.3v1.3h-1.3zM372.9 302h1.3v1.3h-1.3zM375.8 313h1.3v1.3h-1.3zM371.7 316h1.3v1.3h-1.3zM372.6 310.1h1.3v1.3h-1.3zM371.6 311.8h1.3v1.3h-1.3zM379.9 316.3h1.3v1.3h-1.3zM373 312.9h1.3v1.3h-1.3zM376.1 307.7h1.3v1.3h-1.3zM377 312.6h1.3v1.3h-1.3zM373.4 310h1.3v1.3h-1.3zM374.4 299.1h1.3v1.3h-1.3zM375.1 310.6h1.3v1.3h-1.3zM376.8 312.1h1.3v1.3h-1.3zM374.7 309.3h1.3v1.3h-1.3zM375.9 296.9h1.3v1.3h-1.3zM373.2 311.9h1.3v1.3h-1.3zM386.4 305.4h1.3v1.3h-1.3zM375.4 314h1.3v1.3h-1.3zM372.3 312.9h1.3v1.3h-1.3zM374.1 312.7h1.3v1.3h-1.3zM372.8 312.1h1.3v1.3h-1.3zM375.6 315.7h1.3v1.3h-1.3zM376.7 308.3h1.3v1.3h-1.3zM372.4 314.5h1.3v1.3h-1.3zM371.5 312.2h1.3v1.3h-1.3zM377 312.9h1.3v1.3h-1.3zM375.8 310.3h1.3v1.3h-1.3zM371.6 316h1.3v1.3h-1.3zM374.9 299.5h1.3v1.3h-1.3zM377.5 312.5h1.3v1.3h-1.3zM372.9 315.4h1.3v1.3h-1.3zM376.5 306.9h1.3v1.3h-1.3zM373.8 315.8h1.3v1.3h-1.3zM373 308.4h1.3v1.3h-1.3zM378.7 313h1.3v1.3h-1.3zM382.3 313.1h1.3v1.3h-1.3zM371.5 314.9h1.3v1.3h-1.3zM382.4 308.4h1.3v1.3h-1.3zM371.8 314.2h1.3v1.3h-1.3zM373.9 312.1h1.3v1.3h-1.3zM371.5 299.8h1.3v1.3h-1.3zM375.1 314.4h1.3v1.3h-1.3zM371.5 310.8h1.3v1.3h-1.3zM384.9 308.1h1.3v1.3h-1.3zM381.1 302.9h1.3v1.3h-1.3zM376.8 316h1.3v1.3h-1.3z" fill="#fff"/>
<path d="M374.1 268V302" stroke="#bbb" stroke-width="1.4"/>
<path d="M432.5 250h1.2v1.2h-1.2zM432.1 254.8h1.2v1.2h-1.2zM442.7 245.8h1.2v1.2h-1.2zM447.6 244.9h1.2v1.2h-1.2zM431.4 254.6h1.2v1.2h-1.2zM448 242.3h1.2v1.2h-1.2zM433.8 248.5h1.2v1.2h-1.2zM449.6 245.7h1.2v1.2h-1.2zM436.5 247.7h1.2v1.2h-1.2zM437.2 251.5h1.2v1.2h-1.2zM432.5 249.9h1.2v1.2h-1.2zM428.8 253.4h1.2v1.2h-1.2zM427.2 259.4h1.2v1.2h-1.2zM444.6 243h1.2v1.2h-1.2zM442.3 244.8h1.2v1.2h-1.2zM427.5 254.2h1.2v1.2h-1.2zM434.1 250h1.2v1.2h-1.2zM431.3 254.2h1.2v1.2h-1.2zM447.4 244h1.2v1.2h-1.2zM437.9 250.1h1.2v1.2h-1.2zM429.9 250.6h1.2v1.2h-1.2zM421 257.6h1.2v1.2h-1.2zM441.8 244.9h1.2v1.2h-1.2zM439.2 247.7h1.2v1.2h-1.2zM443.4 246.1h1.2v1.2h-1.2zM444.2 246.5h1.2v1.2h-1.2zM445.4 245.2h1.2v1.2h-1.2zM447.3 241.6h1.2v1.2h-1.2zM444.9 246.7h1.2v1.2h-1.2zM424.7 255.4h1.2v1.2h-1.2zM436 249.3h1.2v1.2h-1.2zM442.3 245.7h1.2v1.2h-1.2zM428.9 254.1h1.2v1.2h-1.2zM442.1 243.4h1.2v1.2h-1.2zM442.3 244.6h1.2v1.2h-1.2zM440.4 247.2h1.2v1.2h-1.2zM444.5 246.9h1.2v1.2h-1.2zM442.1 245.1h1.2v1.2h-1.2zM441.3 244.9h1.2v1.2h-1.2zM444 244.7h1.2v1.2h-1.2zM422.4 257.1h1.2v1.2h-1.2zM436.7 251.1h1.2v1.2h-1.2zM447.8 243.2h1.2v1.2h-1.2zM443.2 244.9h1.2v1.2h-1.2zM430.4 251.6h1.2v1.2h-1.2zM447.8 242.3h1.2v1.2h-1.2zM446.5 243.4h1.2v1.2h-1.2zM442.4 246.9h1.2v1.2h-1.2zM446 242.1h1.2v1.2h-1.2zM429.9 251.6h1.2v1.2h-1.2zM444.4 244.2h1.2v1.2h-1.2zM435.9 250h1.2v1.2h-1.2zM442.9 245.9h1.2v1.2h-1.2zM434.1 246.1h1.2v1.2h-1.2zM434.9 246.8h1.2v1.2h-1.2zM443 244.7h1.2v1.2h-1.2zM431.6 253.1h1.2v1.2h-1.2zM442.6 247.6h1.2v1.2h-1.2zM428 252.6h1.2v1.2h-1.2zM441.9 247h1.2v1.2h-1.2zM436 250.7h1.2v1.2h-1.2zM441.1 247.3h1.2v1.2h-1.2zM448.7 244.2h1.2v1.2h-1.2zM438.7 247.7h1.2v1.2h-1.2zM434.2 250.3h1.2v1.2h-1.2zM436.5 248.7h1.2v1.2h-1.2zM437.9 248.5h1.2v1.2h-1.2zM438.2 248h1.2v1.2h-1.2zM437.6 248.1h1.2v1.2h-1.2zM448.7 243.2h1.2v1.2h-1.2zM439.4 247.5h1.2v1.2h-1.2zM435.9 249.1h1.2v1.2h-1.2zM444.9 245.9h1.2v1.2h-1.2zM439.8 247h1.2v1.2h-1.2zM441.7 242.5h1.2v1.2h-1.2zM447.4 244.7h1.2v1.2h-1.2zM426.1 255.1h1.2v1.2h-1.2zM443.9 246.7h1.2v1.2h-1.2zM425.2 258.4h1.2v1.2h-1.2zM437.7 244.9h1.2v1.2h-1.2zM445.8 245h1.2v1.2h-1.2zM435.1 248.9h1.2v1.2h-1.2zM431 251.9h1.2v1.2h-1.2zM429.5 254.2h1.2v1.2h-1.2zM439.5 248.8h1.2v1.2h-1.2zM429.4 257h1.2v1.2h-1.2zM446.3 243.1h1.2v1.2h-1.2zM442.4 247.8h1.2v1.2h-1.2zM441.2 243.6h1.2v1.2h-1.2zM444.5 247.4h1.2v1.2h-1.2zM434.3 250.7h1.2v1.2h-1.2zM446 246h1.2v1.2h-1.2zM438.1 250.6h1.2v1.2h-1.2zM445.3 245.1h1.2v1.2h-1.2zM444.4 245.1h1.2v1.2h-1.2zM433.6 252.2h1.2v1.2h-1.2zM431.7 248.6h1.2v1.2h-1.2zM445.2 243.4h1.2v1.2h-1.2zM422.5 258.3h1.2v1.2h-1.2zM441.8 247h1.2v1.2h-1.2zM446.4 244.5h1.2v1.2h-1.2zM425.8 256.2h1.2v1.2h-1.2zM439.7 247.1h1.2v1.2h-1.2zM439 247.1h1.2v1.2h-1.2zM426.2 254.7h1.2v1.2h-1.2zM448.4 243.8h1.2v1.2h-1.2zM429 252.1h1.2v1.2h-1.2zM440.9 247.7h1.2v1.2h-1.2zM448 241.9h1.2v1.2h-1.2zM435 249.8h1.2v1.2h-1.2zM449.7 244.8h1.2v1.2h-1.2zM433.1 250.2h1.2v1.2h-1.2zM442.9 244.9h1.2v1.2h-1.2zM437.4 249.7h1.2v1.2h-1.2zM448 244.7h1.2v1.2h-1.2zM444 248.9h1.2v1.2h-1.2zM430.6 254.2h1.2v1.2h-1.2zM440.1 247.1h1.2v1.2h-1.2zM437.7 248.8h1.2v1.2h-1.2zM443.4 245.6h1.2v1.2h-1.2zM435.9 249.3h1.2v1.2h-1.2zM445.4 246.3h1.2v1.2h-1.2zM434 252.9h1.2v1.2h-1.2zM440.5 247.2h1.2v1.2h-1.2zM440 248h1.2v1.2h-1.2zM436.2 250h1.2v1.2h-1.2zM436 250.7h1.2v1.2h-1.2zM432.6 253.8h1.2v1.2h-1.2zM436.5 247.6h1.2v1.2h-1.2zM427.4 253.9h1.2v1.2h-1.2zM446.9 246.9h1.2v1.2h-1.2zM446.7 245h1.2v1.2h-1.2zM447.2 244.4h1.2v1.2h-1.2zM444.6 244.4h1.2v1.2h-1.2zM442.6 245.6h1.2v1.2h-1.2zM445.7 244.5h1.2v1.2h-1.2zM435.9 249.1h1.2v1.2h-1.2zM429.9 248.8h1.2v1.2h-1.2zM426.2 254.8h1.2v1.2h-1.2zM448.8 243.3h1.2v1.2h-1.2zM442.3 247.1h1.2v1.2h-1.2zM425.1 249.8h1.2v1.2h-1.2zM448.4 241.4h1.2v1.2h-1.2zM444.5 248.2h1.2v1.2h-1.2zM432.6 252.4h1.2v1.2h-1.2zM446.4 242.7h1.2v1.2h-1.2zM428.1 250.9h1.2v1.2h-1.2zM440.5 249.3h1.2v1.2h-1.2zM448.4 244.8h1.2v1.2h-1.2zM440.9 248.2h1.2v1.2h-1.2zM437.3 249.5h1.2v1.2h-1.2zM435 251.5h1.2v1.2h-1.2zM439.3 250.6h1.2v1.2h-1.2zM436.9 249.4h1.2v1.2h-1.2zM427.3 255.9h1.2v1.2h-1.2zM447.9 243.2h1.2v1.2h-1.2zM436.5 249.5h1.2v1.2h-1.2zM434.8 250.9h1.2v1.2h-1.2zM432 251.3h1.2v1.2h-1.2zM446.3 243.6h1.2v1.2h-1.2zM425.1 253.7h1.2v1.2h-1.2zM439.2 249.2h1.2v1.2h-1.2zM439.5 249.4h1.2v1.2h-1.2zM445.5 244.2h1.2v1.2h-1.2zM442 247.3h1.2v1.2h-1.2zM419.4 257.1h1.2v1.2h-1.2zM434.2 253.2h1.2v1.2h-1.2zM426.3 253.3h1.2v1.2h-1.2zM436.4 248.3h1.2v1.2h-1.2zM445.2 244.7h1.2v1.2h-1.2zM444 246.6h1.2v1.2h-1.2zM428.3 251.2h1.2v1.2h-1.2zM443.8 245.5h1.2v1.2h-1.2zM437.6 250.6h1.2v1.2h-1.2zM440.6 247.6h1.2v1.2h-1.2zM448.7 245.3h1.2v1.2h-1.2zM445.9 245.3h1.2v1.2h-1.2zM441.7 244.2h1.2v1.2h-1.2zM444.7 244.8h1.2v1.2h-1.2zM443 247.4h1.2v1.2h-1.2zM432 249.8h1.2v1.2h-1.2zM441.3 246.6h1.2v1.2h-1.2zM445.5 243.9h1.2v1.2h-1.2zM439.4 246h1.2v1.2h-1.2zM443.8 245.4h1.2v1.2h-1.2zM420 257.2h1.2v1.2h-1.2zM436.3 250h1.2v1.2h-1.2zM445.7 244.7h1.2v1.2h-1.2zM431 253h1.2v1.2h-1.2zM431.7 253.2h1.2v1.2h-1.2zM429.4 252.3h1.2v1.2h-1.2zM447.4 245.3h1.2v1.2h-1.2zM435.8 250.9h1.2v1.2h-1.2zM448.7 244h1.2v1.2h-1.2zM446.9 246.4h1.2v1.2h-1.2zM442.7 244.7h1.2v1.2h-1.2zM441.2 243.9h1.2v1.2h-1.2zM429.5 255.4h1.2v1.2h-1.2zM437 250h1.2v1.2h-1.2zM433.5 247.3h1.2v1.2h-1.2zM431.2 253.6h1.2v1.2h-1.2zM448 242.9h1.2v1.2h-1.2zM447 245.6h1.2v1.2h-1.2zM444.9 243.9h1.2v1.2h-1.2zM427.5 249.5h1.2v1.2h-1.2zM448.6 244.3h1.2v1.2h-1.2zM431.1 252.8h1.2v1.2h-1.2zM445 245.5h1.2v1.2h-1.2zM449.5 244h1.2v1.2h-1.2zM432.1 251.7h1.2v1.2h-1.2zM443.8 245.5h1.2v1.2h-1.2zM433.7 250.7h1.2v1.2h-1.2zM446.2 242.4h1.2v1.2h-1.2zM445.2 247.2h1.2v1.2h-1.2zM436.9 250.3h1.2v1.2h-1.2zM442.3 246.1h1.2v1.2h-1.2zM442.5 247.4h1.2v1.2h-1.2zM424.4 257.1h1.2v1.2h-1.2zM432.6 252.8h1.2v1.2h-1.2zM444.3 245.3h1.2v1.2h-1.2zM442.4 248.2h1.2v1.2h-1.2zM447.1 243.1h1.2v1.2h-1.2zM426.5 254.5h1.2v1.2h-1.2zM434 250.3h1.2v1.2h-1.2zM421.5 258h1.2v1.2h-1.2zM434.9 253.7h1.2v1.2h-1.2zM445 245.2h1.2v1.2h-1.2zM447.9 243.3h1.2v1.2h-1.2zM448.2 243.1h1.2v1.2h-1.2zM445.8 243h1.2v1.2h-1.2zM422.8 257.2h1.2v1.2h-1.2zM420.7 257.9h1.2v1.2h-1.2zM441.8 248.4h1.2v1.2h-1.2zM436.4 250.2h1.2v1.2h-1.2zM449.1 243.4h1.2v1.2h-1.2zM445.4 243.2h1.2v1.2h-1.2zM433.5 250.1h1.2v1.2h-1.2zM443.9 245.3h1.2v1.2h-1.2zM443.4 246.3h1.2v1.2h-1.2zM430 253.5h1.2v1.2h-1.2zM441.3 246.4h1.2v1.2h-1.2zM430.9 252.2h1.2v1.2h-1.2zM433.9 249.8h1.2v1.2h-1.2zM445.7 245.1h1.2v1.2h-1.2zM443.6 246.2h1.2v1.2h-1.2zM436.3 250.3h1.2v1.2h-1.2zM441.7 247.8h1.2v1.2h-1.2zM445.1 243.8h1.2v1.2h-1.2zM444.9 243.7h1.2v1.2h-1.2zM428.6 253.6h1.2v1.2h-1.2zM426.1 253.7h1.2v1.2h-1.2zM439.8 248.3h1.2v1.2h-1.2zM446.9 244.6h1.2v1.2h-1.2zM440.8 247.4h1.2v1.2h-1.2zM430.6 252.6h1.2v1.2h-1.2zM421 258.8h1.2v1.2h-1.2zM446.6 244.5h1.2v1.2h-1.2zM446.2 243.5h1.2v1.2h-1.2zM442.4 245.1h1.2v1.2h-1.2zM429.3 255.2h1.2v1.2h-1.2zM447.7 244.6h1.2v1.2h-1.2zM439.6 247.7h1.2v1.2h-1.2zM438.7 248.2h1.2v1.2h-1.2zM436.3 249.9h1.2v1.2h-1.2zM439 248.9h1.2v1.2h-1.2zM435.1 252.7h1.2v1.2h-1.2zM449.3 242.4h1.2v1.2h-1.2zM437.1 250.3h1.2v1.2h-1.2zM438.3 245.4h1.2v1.2h-1.2zM435.1 250.8h1.2v1.2h-1.2z" fill="#000"/>
<path d="M419.2 274.2h1.2v1.2h-1.2zM424.8 283.4h1.2v1.2h-1.2zM424.9 284.1h1.2v1.2h-1.2zM428.7 279.4h1.2v1.2h-1.2zM423.8 295.5h1.2v1.2h-1.2zM424 278.8h1.2v1.2h-1.2zM426.7 271.2h1.2v1.2h-1.2zM424.4 272.7h1.2v1.2h-1.2zM426.3 286.8h1.2v1.2h-1.2zM425.7 291.2h1.2v1.2h-1.2zM424.5 286.7h1.2v1.2h-1.2zM425.7 293.3h1.2v1.2h-1.2zM425.5 286.9h1.2v1.2h-1.2zM424.6 294.7h1.2v1.2h-1.2zM426.3 277.4h1.2v1.2h-1.2zM424.8 295.1h1.2v1.2h-1.2zM423.2 273.5h1.2v1.2h-1.2zM421.1 267.8h1.2v1.2h-1.2zM420.4 282.6h1.2v1.2h-1.2zM424.5 272.4h1.2v1.2h-1.2zM422.9 274.5h1.2v1.2h-1.2zM428.4 273.5h1.2v1.2h-1.2zM422.7 272.8h1.2v1.2h-1.2zM427.5 278.4h1.2v1.2h-1.2zM421.7 270.8h1.2v1.2h-1.2zM427.2 285.9h1.2v1.2h-1.2zM423.8 283.9h1.2v1.2h-1.2zM427.5 283.1h1.2v1.2h-1.2zM422.6 277.7h1.2v1.2h-1.2zM424.1 293.7h1.2v1.2h-1.2zM424.6 274.3h1.2v1.2h-1.2zM426.7 277.7h1.2v1.2h-1.2zM423.9 296.2h1.2v1.2h-1.2zM424.6 279.2h1.2v1.2h-1.2zM421.9 273h1.2v1.2h-1.2zM430 289.5h1.2v1.2h-1.2zM427.1 296.8h1.2v1.2h-1.2zM426.7 277.6h1.2v1.2h-1.2zM424.4 293.8h1.2v1.2h-1.2zM423.6 278.9h1.2v1.2h-1.2zM423.5 270.5h1.2v1.2h-1.2zM427.3 279.3h1.2v1.2h-1.2zM425.8 265.7h1.2v1.2h-1.2zM429.5 265.7h1.2v1.2h-1.2zM421.3 287.5h1.2v1.2h-1.2zM424.6 281.9h1.2v1.2h-1.2zM424.5 284.4h1.2v1.2h-1.2zM424.2 268h1.2v1.2h-1.2zM423.2 281.6h1.2v1.2h-1.2zM426.9 283.3h1.2v1.2h-1.2zM423.1 266.4h1.2v1.2h-1.2zM427.8 279.7h1.2v1.2h-1.2zM422.8 280.4h1.2v1.2h-1.2zM423.6 269.4h1.2v1.2h-1.2zM425.2 277.7h1.2v1.2h-1.2zM421.8 268.7h1.2v1.2h-1.2zM432.9 298.4h1.2v1.2h-1.2zM426.7 289h1.2v1.2h-1.2zM423.4 268.5h1.2v1.2h-1.2zM423.1 275.6h1.2v1.2h-1.2zM426.9 299.5h1.2v1.2h-1.2zM425.2 283.6h1.2v1.2h-1.2zM424.6 289.6h1.2v1.2h-1.2zM423.7 273h1.2v1.2h-1.2zM426.3 272.2h1.2v1.2h-1.2zM425.9 288.3h1.2v1.2h-1.2zM424.9 279.3h1.2v1.2h-1.2zM420.5 267.6h1.2v1.2h-1.2zM429.3 265.5h1.2v1.2h-1.2zM426.8 286.6h1.2v1.2h-1.2zM425.7 279.5h1.2v1.2h-1.2zM423.4 270h1.2v1.2h-1.2zM422.3 276.6h1.2v1.2h-1.2zM428.4 270.8h1.2v1.2h-1.2zM425.6 280.8h1.2v1.2h-1.2zM425.2 280.3h1.2v1.2h-1.2zM427.5 289.2h1.2v1.2h-1.2zM422.1 268.3h1.2v1.2h-1.2zM422.6 280.3h1.2v1.2h-1.2zM424.1 274.2h1.2v1.2h-1.2zM429.4 271.3h1.2v1.2h-1.2z" fill="#000"/>
<rect x="371.3" y="186.4" width="130" height="130.6" fill="none" stroke="#000" stroke-width="1.3"/>
<path d="M419.2 186.4V317M371.3 262.6H501.3" stroke="#000" stroke-width="1.3" fill="none"/>
<path d="M371.3 317v4.5M371.3 317h-4.5M377.6 317v4.2M371.3 310.7h-4.2M381.3 317v4.2M371.3 306.9h-4.2M383.9 317v4.2M371.3 304.3h-4.2M386 317v4.2M371.3 302.3h-4.2M387.6 317v4.2M371.3 300.6h-4.2M389 317v4.2M371.3 299.2h-4.2M390.2 317v4.2M371.3 298h-4.2M391.3 317v4.2M371.3 296.9h-4.2M392.3 317v4.5M371.3 295.9h-4.5M398.6 317v4.2M371.3 289.6h-4.2M402.3 317v4.2M371.3 285.9h-4.2M404.9 317v4.2M371.3 283.3h-4.2M406.9 317v4.2M371.3 281.2h-4.2M408.6 317v4.2M371.3 279.5h-4.2M410 317v4.2M371.3 278.1h-4.2M411.2 317v4.2M371.3 276.9h-4.2M412.3 317v4.2M371.3 275.8h-4.2M413.2 317v4.5M371.3 274.9h-4.5M419.5 317v4.2M371.3 268.5h-4.2M423.2 317v4.2M371.3 264.8h-4.2M425.9 317v4.2M371.3 262.2h-4.2M427.9 317v4.2M371.3 260.1h-4.2M429.6 317v4.2M371.3 258.5h-4.2M431 317v4.2M371.3 257.1h-4.2M432.2 317v4.2M371.3 255.8h-4.2M433.2 317v4.2M371.3 254.8h-4.2M434.2 317v4.5M371.3 253.8h-4.5M440.5 317v4.2M371.3 247.5h-4.2M444.2 317v4.2M371.3 243.8h-4.2M446.8 317v4.2M371.3 241.1h-4.2M448.9 317v4.2M371.3 239.1h-4.2M450.5 317v4.2M371.3 237.4h-4.2M451.9 317v4.2M371.3 236h-4.2M453.1 317v4.2M371.3 234.8h-4.2M454.2 317v4.2M371.3 233.7h-4.2M455.2 317v4.5M371.3 232.7h-4.5M461.5 317v4.2M371.3 226.4h-4.2M465.2 317v4.2M371.3 222.7h-4.2M467.8 317v4.2M371.3 220.1h-4.2M469.8 317v4.2M371.3 218h-4.2M471.5 317v4.2M371.3 216.4h-4.2M472.9 317v4.2M371.3 214.9h-4.2M474.1 317v4.2M371.3 213.7h-4.2M475.2 317v4.2M371.3 212.6h-4.2M476.1 317v4.5M371.3 211.7h-4.5M482.5 317v4.2M371.3 205.3h-4.2M486.1 317v4.2M371.3 201.6h-4.2M488.8 317v4.2M371.3 199h-4.2M490.8 317v4.2M371.3 197h-4.2M492.5 317v4.2M371.3 195.3h-4.2M493.9 317v4.2M371.3 193.9h-4.2M495.1 317v4.2M371.3 192.7h-4.2M496.1 317v4.2M371.3 191.6h-4.2M497.1 317v4.5M371.3 190.6h-4.5M501.3 317v4.5M371.3 186.4h-4.5" stroke="#000" stroke-width="1" fill="none"/>
<text x="371.1" y="330" class="tl" text-anchor="middle">ω<tspan class="sup" dy="-1.5">1</tspan></text><text transform="translate(363 317.3) rotate(-90)" class="tl" text-anchor="middle">ω<tspan class="sup" dy="-1.5">1</tspan></text><text x="392.1" y="330" class="tl" text-anchor="middle">ω<tspan class="sup" dy="-1.5">2</tspan></text><text transform="translate(363 296.2) rotate(-90)" class="tl" text-anchor="middle">ω<tspan class="sup" dy="-1.5">2</tspan></text><text x="413" y="330" class="tl" text-anchor="middle">ω<tspan class="sup" dy="-1.5">3</tspan></text><text transform="translate(363 275.2) rotate(-90)" class="tl" text-anchor="middle">ω<tspan class="sup" dy="-1.5">3</tspan></text><text x="434" y="330" class="tl" text-anchor="middle">ω<tspan class="sup" dy="-1.5">4</tspan></text><text transform="translate(363 254.1) rotate(-90)" class="tl" text-anchor="middle">ω<tspan class="sup" dy="-1.5">4</tspan></text><text x="455" y="330" class="tl" text-anchor="middle">ω<tspan class="sup" dy="-1.5">5</tspan></text><text transform="translate(363 233) rotate(-90)" class="tl" text-anchor="middle">ω<tspan class="sup" dy="-1.5">5</tspan></text><text x="475.9" y="330" class="tl" text-anchor="middle">ω<tspan class="sup" dy="-1.5">6</tspan></text><text transform="translate(363 212) rotate(-90)" class="tl" text-anchor="middle">ω<tspan class="sup" dy="-1.5">6</tspan></text><text x="501.1" y="330" class="tl" text-anchor="middle">ω<tspan class="sup" dy="-1.5">7.2</tspan></text><text transform="translate(363 186.7) rotate(-90)" class="tl" text-anchor="middle">ω<tspan class="sup" dy="-1.5">7.2</tspan></text>
<text x="384.8" y="202.7" class="qn">0.10</text>
<text x="467.4" y="200.8" class="qn">2.14</text>
<text x="468.9" y="276" class="qn">0.98</text>
<polygon points="529,275 540,272.5 552,270 564,267 574.5,263.5 574.5,263.5 572.5,280 568,300 564,319 528.6,319" fill="#000"/>
<path d="M549.5 268.7h1.2v1.2h-1.2zM570.7 259.8h1.2v1.2h-1.2zM569.9 261.7h1.2v1.2h-1.2zM538.6 272h1.2v1.2h-1.2zM528.3 269.2h1.2v1.2h-1.2zM552.3 264.8h1.2v1.2h-1.2zM571.8 263h1.2v1.2h-1.2zM572.4 262.7h1.2v1.2h-1.2zM536.5 271.9h1.2v1.2h-1.2zM571.9 257.6h1.2v1.2h-1.2zM544.3 269.5h1.2v1.2h-1.2zM565 262.4h1.2v1.2h-1.2zM569 263.6h1.2v1.2h-1.2zM538.7 270.6h1.2v1.2h-1.2zM570.4 262.1h1.2v1.2h-1.2zM568.1 264.4h1.2v1.2h-1.2zM550.5 264.5h1.2v1.2h-1.2zM553.8 265.5h1.2v1.2h-1.2zM565 264.6h1.2v1.2h-1.2zM559.4 265h1.2v1.2h-1.2zM548.3 268.6h1.2v1.2h-1.2zM564.1 261.7h1.2v1.2h-1.2zM573 262.2h1.2v1.2h-1.2zM559 265.9h1.2v1.2h-1.2zM567.1 264.6h1.2v1.2h-1.2zM549.7 269.1h1.2v1.2h-1.2zM564.3 263.5h1.2v1.2h-1.2zM528.6 274.1h1.2v1.2h-1.2zM534.5 271.2h1.2v1.2h-1.2zM563.6 265.4h1.2v1.2h-1.2zM531.6 271.9h1.2v1.2h-1.2zM556.3 267h1.2v1.2h-1.2zM540.6 270.8h1.2v1.2h-1.2zM538.3 268.7h1.2v1.2h-1.2zM545.4 268.1h1.2v1.2h-1.2zM553.5 268.3h1.2v1.2h-1.2zM540.8 269.3h1.2v1.2h-1.2zM566.2 260.2h1.2v1.2h-1.2zM535.3 272.2h1.2v1.2h-1.2zM532.8 273h1.2v1.2h-1.2zM545.6 268h1.2v1.2h-1.2zM569.6 262.5h1.2v1.2h-1.2zM534.9 272h1.2v1.2h-1.2zM534.8 272.3h1.2v1.2h-1.2zM554.4 267.2h1.2v1.2h-1.2zM536.1 272h1.2v1.2h-1.2zM568.6 262.6h1.2v1.2h-1.2zM555.8 267.5h1.2v1.2h-1.2zM541.5 268.5h1.2v1.2h-1.2zM528.6 272.2h1.2v1.2h-1.2zM571.3 261.6h1.2v1.2h-1.2zM530.6 273.8h1.2v1.2h-1.2zM564.2 265.7h1.2v1.2h-1.2zM547.3 268.1h1.2v1.2h-1.2zM559.2 266.8h1.2v1.2h-1.2zM558.5 262.6h1.2v1.2h-1.2zM549.7 268.7h1.2v1.2h-1.2zM558.8 263.3h1.2v1.2h-1.2zM558.6 262.2h1.2v1.2h-1.2zM562.2 260.2h1.2v1.2h-1.2zM539.4 269.6h1.2v1.2h-1.2zM537.9 272h1.2v1.2h-1.2zM542.9 265.2h1.2v1.2h-1.2zM541.8 270.7h1.2v1.2h-1.2zM568.4 257.3h1.2v1.2h-1.2zM562.9 265.6h1.2v1.2h-1.2zM566 265.4h1.2v1.2h-1.2zM528.8 274.2h1.2v1.2h-1.2zM543.6 270.5h1.2v1.2h-1.2zM567.2 263.9h1.2v1.2h-1.2zM566.8 263.8h1.2v1.2h-1.2zM545.3 269.8h1.2v1.2h-1.2zM530.3 272.7h1.2v1.2h-1.2zM569.5 257h1.2v1.2h-1.2zM570.8 263.7h1.2v1.2h-1.2z" fill="#000"/>
<path d="M549.1 272.1h1.2v1.2h-1.2zM535.5 272.9h1.2v1.2h-1.2zM537.9 272.4h1.2v1.2h-1.2zM562.7 268.1h1.2v1.2h-1.2zM573.4 263.1h1.2v1.2h-1.2zM561.1 268.9h1.2v1.2h-1.2zM536.6 272.6h1.2v1.2h-1.2zM573.6 265h1.2v1.2h-1.2zM531.6 273.9h1.2v1.2h-1.2zM558.6 267.8h1.2v1.2h-1.2zM548.4 270.2h1.2v1.2h-1.2zM532.8 274.2h1.2v1.2h-1.2zM553.8 271.1h1.2v1.2h-1.2zM528.7 274.9h1.2v1.2h-1.2zM531.9 274.6h1.2v1.2h-1.2zM536.1 273.1h1.2v1.2h-1.2zM572.9 264.5h1.2v1.2h-1.2zM559.3 268.6h1.2v1.2h-1.2zM537.9 273.7h1.2v1.2h-1.2zM572.6 263.4h1.2v1.2h-1.2zM566.9 265.8h1.2v1.2h-1.2zM537.9 273.6h1.2v1.2h-1.2zM567.3 265.3h1.2v1.2h-1.2z" fill="#fff"/>
<path d="M573.8 274.1h1.2v1.2h-1.2zM573.8 274.5h1.2v1.2h-1.2zM563.6 317.9h1.2v1.2h-1.2zM570.6 286.9h1.2v1.2h-1.2zM574.4 272.4h1.2v1.2h-1.2zM565.1 315.7h1.2v1.2h-1.2zM570.7 294.5h1.2v1.2h-1.2zM571 311.9h1.2v1.2h-1.2zM571.8 281.6h1.2v1.2h-1.2zM566 314.1h1.2v1.2h-1.2zM565 312h1.2v1.2h-1.2zM566.1 306.8h1.2v1.2h-1.2zM573.2 270.3h1.2v1.2h-1.2zM572 283.4h1.2v1.2h-1.2zM572.3 300.5h1.2v1.2h-1.2zM571.7 287.2h1.2v1.2h-1.2zM571.3 286h1.2v1.2h-1.2zM572.1 277.8h1.2v1.2h-1.2zM574.5 277.5h1.2v1.2h-1.2zM567.8 307.7h1.2v1.2h-1.2zM571 287.7h1.2v1.2h-1.2zM573.1 273.6h1.2v1.2h-1.2zM565 318.6h1.2v1.2h-1.2zM571.9 285.8h1.2v1.2h-1.2zM570 290.5h1.2v1.2h-1.2zM571.4 286.5h1.2v1.2h-1.2zM568.5 313.6h1.2v1.2h-1.2zM573 279.2h1.2v1.2h-1.2zM577.8 276h1.2v1.2h-1.2zM574.1 270.7h1.2v1.2h-1.2zM574.9 263.7h1.2v1.2h-1.2zM569.9 288.6h1.2v1.2h-1.2zM574.1 271.6h1.2v1.2h-1.2zM570.3 289.5h1.2v1.2h-1.2zM574.2 266h1.2v1.2h-1.2zM571.4 282.4h1.2v1.2h-1.2zM568.5 296.4h1.2v1.2h-1.2zM571.1 293h1.2v1.2h-1.2zM575 263.9h1.2v1.2h-1.2zM571.6 299.2h1.2v1.2h-1.2zM570.2 301.9h1.2v1.2h-1.2zM567.8 299.8h1.2v1.2h-1.2zM568.1 308.6h1.2v1.2h-1.2zM574.1 291.1h1.2v1.2h-1.2zM577.8 266.2h1.2v1.2h-1.2zM572.5 283.2h1.2v1.2h-1.2zM566.1 307.2h1.2v1.2h-1.2zM569.4 290.5h1.2v1.2h-1.2zM579.2 265.6h1.2v1.2h-1.2zM573.4 275.3h1.2v1.2h-1.2zM577.9 270.2h1.2v1.2h-1.2zM572.7 291.9h1.2v1.2h-1.2zM573.2 278.3h1.2v1.2h-1.2zM573.8 277h1.2v1.2h-1.2zM568.3 302.5h1.2v1.2h-1.2zM568.9 295.6h1.2v1.2h-1.2zM564 315.8h1.2v1.2h-1.2zM574.7 272.5h1.2v1.2h-1.2zM567 317.6h1.2v1.2h-1.2zM577.4 277.3h1.2v1.2h-1.2zM571.4 288.7h1.2v1.2h-1.2zM569.2 299.3h1.2v1.2h-1.2zM568.8 312.6h1.2v1.2h-1.2zM575.5 281.5h1.2v1.2h-1.2zM573.7 281.1h1.2v1.2h-1.2zM574.6 272h1.2v1.2h-1.2zM578.6 281.3h1.2v1.2h-1.2z" fill="#000"/>
<path d="M566.5 299.7h1.2v1.2h-1.2zM563.7 316.3h1.2v1.2h-1.2zM564.7 304.1h1.2v1.2h-1.2zM572.8 263.7h1.2v1.2h-1.2zM568.1 268.8h1.2v1.2h-1.2zM571.6 268.3h1.2v1.2h-1.2zM568.6 293.1h1.2v1.2h-1.2zM562.8 314.5h1.2v1.2h-1.2zM567.4 297.2h1.2v1.2h-1.2zM572.2 271.5h1.2v1.2h-1.2zM573.3 264.8h1.2v1.2h-1.2zM568.6 290.4h1.2v1.2h-1.2zM566 305.1h1.2v1.2h-1.2zM571.3 274.3h1.2v1.2h-1.2zM566.5 301h1.2v1.2h-1.2zM572.3 274.5h1.2v1.2h-1.2zM570.3 283.1h1.2v1.2h-1.2zM565.3 307.1h1.2v1.2h-1.2zM569.2 281.5h1.2v1.2h-1.2zM572.4 274.5h1.2v1.2h-1.2zM559.9 316.1h1.2v1.2h-1.2zM571.1 280.5h1.2v1.2h-1.2zM569.5 288.5h1.2v1.2h-1.2zM562.5 305.9h1.2v1.2h-1.2zM566 302.3h1.2v1.2h-1.2zM561 308.6h1.2v1.2h-1.2zM570.9 273h1.2v1.2h-1.2zM567.8 272h1.2v1.2h-1.2zM565 306.9h1.2v1.2h-1.2zM565.9 304h1.2v1.2h-1.2zM572.3 266.3h1.2v1.2h-1.2zM572.4 267h1.2v1.2h-1.2zM563.8 310h1.2v1.2h-1.2zM571.7 277.8h1.2v1.2h-1.2zM567.5 293.7h1.2v1.2h-1.2zM564.2 313h1.2v1.2h-1.2zM568.8 288.7h1.2v1.2h-1.2zM570.6 283.9h1.2v1.2h-1.2zM569.6 284.1h1.2v1.2h-1.2zM572 273.7h1.2v1.2h-1.2zM564.6 291.3h1.2v1.2h-1.2zM568.9 289.7h1.2v1.2h-1.2zM572.5 264.7h1.2v1.2h-1.2zM571.1 282.1h1.2v1.2h-1.2zM568.2 289h1.2v1.2h-1.2zM569.1 282.1h1.2v1.2h-1.2zM567.6 298h1.2v1.2h-1.2zM572.4 265.5h1.2v1.2h-1.2zM566.8 296.3h1.2v1.2h-1.2zM571.7 275.7h1.2v1.2h-1.2z" fill="#fff"/>
<path d="M535.9 314.3h1.3v1.3h-1.3zM532.9 316.3h1.3v1.3h-1.3zM534.3 313.1h1.3v1.3h-1.3zM528.4 307.1h1.3v1.3h-1.3zM538.1 294.4h1.3v1.3h-1.3zM545.5 308.7h1.3v1.3h-1.3zM532.1 315.9h1.3v1.3h-1.3zM535.6 314h1.3v1.3h-1.3zM530.7 317.4h1.3v1.3h-1.3zM533.9 308.4h1.3v1.3h-1.3zM537.2 317h1.3v1.3h-1.3zM529.7 310.2h1.3v1.3h-1.3zM529.2 301h1.3v1.3h-1.3zM544.1 310.4h1.3v1.3h-1.3zM530.2 311.7h1.3v1.3h-1.3zM537.1 315h1.3v1.3h-1.3zM534.6 311h1.3v1.3h-1.3zM542.7 306.4h1.3v1.3h-1.3zM535 312.1h1.3v1.3h-1.3zM541.6 311h1.3v1.3h-1.3zM535.4 315.4h1.3v1.3h-1.3zM529 311.8h1.3v1.3h-1.3zM529.9 294.4h1.3v1.3h-1.3zM529.9 300.3h1.3v1.3h-1.3zM530.8 316.6h1.3v1.3h-1.3zM533.5 315.2h1.3v1.3h-1.3zM546.4 310.7h1.3v1.3h-1.3zM529 315.4h1.3v1.3h-1.3zM529.1 312.9h1.3v1.3h-1.3zM532.9 315.3h1.3v1.3h-1.3zM535.1 313.6h1.3v1.3h-1.3zM538.6 309.3h1.3v1.3h-1.3zM530.1 304.2h1.3v1.3h-1.3zM528.5 316.2h1.3v1.3h-1.3zM528.5 294.4h1.3v1.3h-1.3zM533 303.6h1.3v1.3h-1.3zM546.4 317.6h1.3v1.3h-1.3zM542.2 318.2h1.3v1.3h-1.3zM535.6 305.7h1.3v1.3h-1.3zM531.3 300.7h1.3v1.3h-1.3zM537.1 312.8h1.3v1.3h-1.3zM530.3 317h1.3v1.3h-1.3zM528.8 312.1h1.3v1.3h-1.3zM532.8 316.7h1.3v1.3h-1.3zM532.9 317.7h1.3v1.3h-1.3zM530.5 309.5h1.3v1.3h-1.3zM529.3 312.4h1.3v1.3h-1.3zM529.2 301.3h1.3v1.3h-1.3zM529.8 296.9h1.3v1.3h-1.3zM543.4 294.4h1.3v1.3h-1.3zM530.3 309.2h1.3v1.3h-1.3zM528.8 294.4h1.3v1.3h-1.3zM535.4 318h1.3v1.3h-1.3zM529.2 317.5h1.3v1.3h-1.3zM530.9 296.2h1.3v1.3h-1.3zM537.7 315.2h1.3v1.3h-1.3zM538.3 318.3h1.3v1.3h-1.3zM533.1 314.4h1.3v1.3h-1.3zM528.8 298.2h1.3v1.3h-1.3zM534.8 294.4h1.3v1.3h-1.3zM534.5 310.6h1.3v1.3h-1.3zM529.2 313.2h1.3v1.3h-1.3zM542 311.8h1.3v1.3h-1.3zM534.4 313.4h1.3v1.3h-1.3zM531 318.3h1.3v1.3h-1.3zM529.8 316.7h1.3v1.3h-1.3zM528.9 317.9h1.3v1.3h-1.3zM536.8 294.4h1.3v1.3h-1.3zM535.5 304.1h1.3v1.3h-1.3zM529.8 303.2h1.3v1.3h-1.3zM531.2 302.9h1.3v1.3h-1.3zM530 315.5h1.3v1.3h-1.3zM532.8 316.3h1.3v1.3h-1.3zM530.1 308h1.3v1.3h-1.3zM537.7 294.4h1.3v1.3h-1.3zM534.7 314.9h1.3v1.3h-1.3zM532.1 311.3h1.3v1.3h-1.3zM533.7 298.4h1.3v1.3h-1.3zM533.4 294.4h1.3v1.3h-1.3zM532.2 313.6h1.3v1.3h-1.3zM528.5 315.2h1.3v1.3h-1.3zM532.3 318.3h1.3v1.3h-1.3zM531.8 317.4h1.3v1.3h-1.3zM530.2 301.1h1.3v1.3h-1.3zM543.2 317.4h1.3v1.3h-1.3zM533.7 313h1.3v1.3h-1.3zM528.7 315.5h1.3v1.3h-1.3zM532.9 313.9h1.3v1.3h-1.3zM533.4 317.8h1.3v1.3h-1.3zM534 310.8h1.3v1.3h-1.3zM529.6 311.7h1.3v1.3h-1.3zM544.7 300.6h1.3v1.3h-1.3zM534.1 312.5h1.3v1.3h-1.3zM536.7 313.5h1.3v1.3h-1.3zM535.7 314.6h1.3v1.3h-1.3zM533.2 307.8h1.3v1.3h-1.3zM533.6 311h1.3v1.3h-1.3zM531.3 314.9h1.3v1.3h-1.3zM534.7 313.6h1.3v1.3h-1.3zM531.8 314.5h1.3v1.3h-1.3zM530.4 310.5h1.3v1.3h-1.3zM541 316.6h1.3v1.3h-1.3zM534.6 312.3h1.3v1.3h-1.3zM534.4 309.6h1.3v1.3h-1.3zM531.4 318.3h1.3v1.3h-1.3zM531.1 312.5h1.3v1.3h-1.3zM534.3 297.4h1.3v1.3h-1.3zM534.8 309.9h1.3v1.3h-1.3zM530.9 305.7h1.3v1.3h-1.3zM529.2 301h1.3v1.3h-1.3zM532.4 313.5h1.3v1.3h-1.3zM535.4 312.1h1.3v1.3h-1.3zM546.4 317.3h1.3v1.3h-1.3zM528.7 311.1h1.3v1.3h-1.3zM529.9 316.3h1.3v1.3h-1.3z" fill="#fff"/>
<path d="M530.6 275V303" stroke="#bbb" stroke-width="1.4"/>
<path d="M612.5 244.2h1.2v1.2h-1.2zM594.2 253.6h1.2v1.2h-1.2zM585.3 260.2h1.2v1.2h-1.2zM595.8 256.1h1.2v1.2h-1.2zM611.5 247.9h1.2v1.2h-1.2zM600.6 252.2h1.2v1.2h-1.2zM597 254.2h1.2v1.2h-1.2zM589 256.6h1.2v1.2h-1.2zM610.2 245h1.2v1.2h-1.2zM605.4 250.1h1.2v1.2h-1.2zM594 253.4h1.2v1.2h-1.2zM583 257.9h1.2v1.2h-1.2zM608.8 248.5h1.2v1.2h-1.2zM599.8 252.2h1.2v1.2h-1.2zM587.3 256.5h1.2v1.2h-1.2zM609.8 246.2h1.2v1.2h-1.2zM585.5 257.6h1.2v1.2h-1.2zM592.4 255.8h1.2v1.2h-1.2zM594.6 253.3h1.2v1.2h-1.2zM582 260h1.2v1.2h-1.2zM587.5 257.6h1.2v1.2h-1.2zM612.3 243.6h1.2v1.2h-1.2zM597.7 252.2h1.2v1.2h-1.2zM593.8 253.6h1.2v1.2h-1.2zM581.9 256.8h1.2v1.2h-1.2zM579.2 262.5h1.2v1.2h-1.2zM603.7 249.5h1.2v1.2h-1.2zM608.8 247.1h1.2v1.2h-1.2zM608.3 247.3h1.2v1.2h-1.2zM602.9 251.8h1.2v1.2h-1.2zM609 246.6h1.2v1.2h-1.2zM598.7 251.4h1.2v1.2h-1.2zM605.5 249.4h1.2v1.2h-1.2zM586.8 258.6h1.2v1.2h-1.2zM591.8 257.5h1.2v1.2h-1.2zM604.6 246.7h1.2v1.2h-1.2zM592 252.4h1.2v1.2h-1.2zM595 250.2h1.2v1.2h-1.2zM611.5 245.4h1.2v1.2h-1.2zM592.1 255.4h1.2v1.2h-1.2zM597.6 252.1h1.2v1.2h-1.2zM610.3 246.4h1.2v1.2h-1.2zM579.5 258.4h1.2v1.2h-1.2zM609.6 247.9h1.2v1.2h-1.2zM606 247.9h1.2v1.2h-1.2zM597.2 254.7h1.2v1.2h-1.2zM601 251.2h1.2v1.2h-1.2zM606 246.9h1.2v1.2h-1.2zM582.3 255.7h1.2v1.2h-1.2zM586.8 260.7h1.2v1.2h-1.2zM586.2 255.2h1.2v1.2h-1.2zM593.3 254.7h1.2v1.2h-1.2zM611 247.7h1.2v1.2h-1.2zM598.1 251.1h1.2v1.2h-1.2zM593.5 249.4h1.2v1.2h-1.2zM580.3 259.3h1.2v1.2h-1.2zM613.3 245.5h1.2v1.2h-1.2zM603.4 249.8h1.2v1.2h-1.2zM596.6 253h1.2v1.2h-1.2zM578.6 259.1h1.2v1.2h-1.2zM599.6 249.5h1.2v1.2h-1.2zM583.9 257.8h1.2v1.2h-1.2zM582.7 257.9h1.2v1.2h-1.2zM605.8 251.1h1.2v1.2h-1.2zM580.5 260.1h1.2v1.2h-1.2zM597.8 251h1.2v1.2h-1.2zM610.8 247.2h1.2v1.2h-1.2zM596.9 253.1h1.2v1.2h-1.2zM612.2 247.4h1.2v1.2h-1.2zM599.8 252.2h1.2v1.2h-1.2zM589.3 256.1h1.2v1.2h-1.2zM604.4 248.7h1.2v1.2h-1.2zM585.9 257.7h1.2v1.2h-1.2zM612.5 247.1h1.2v1.2h-1.2zM578.8 259.1h1.2v1.2h-1.2zM601.6 251h1.2v1.2h-1.2zM611.6 243.5h1.2v1.2h-1.2zM590.4 257.8h1.2v1.2h-1.2zM598.8 252h1.2v1.2h-1.2zM601.4 253.3h1.2v1.2h-1.2zM605.6 248.1h1.2v1.2h-1.2zM608.1 247.1h1.2v1.2h-1.2zM581.5 260.1h1.2v1.2h-1.2zM605.7 248.5h1.2v1.2h-1.2zM594.1 254.3h1.2v1.2h-1.2zM588.2 254.9h1.2v1.2h-1.2zM605.3 249.6h1.2v1.2h-1.2zM591.6 253.4h1.2v1.2h-1.2zM599.6 250.1h1.2v1.2h-1.2zM608.2 248h1.2v1.2h-1.2zM583.1 258.7h1.2v1.2h-1.2zM606 245.8h1.2v1.2h-1.2zM596.6 252.6h1.2v1.2h-1.2zM591.3 252.6h1.2v1.2h-1.2zM591.3 254.2h1.2v1.2h-1.2zM576.2 257.8h1.2v1.2h-1.2zM602.9 250.8h1.2v1.2h-1.2zM613.5 246.1h1.2v1.2h-1.2zM586.8 256.8h1.2v1.2h-1.2zM603.4 249.1h1.2v1.2h-1.2zM602.2 249.3h1.2v1.2h-1.2zM602.4 249h1.2v1.2h-1.2zM605.2 248.9h1.2v1.2h-1.2zM610.5 249.1h1.2v1.2h-1.2zM612.1 245.3h1.2v1.2h-1.2zM597.7 248.3h1.2v1.2h-1.2zM611.9 244.7h1.2v1.2h-1.2zM599.2 248.8h1.2v1.2h-1.2zM610.6 245.7h1.2v1.2h-1.2zM600.5 251.9h1.2v1.2h-1.2zM607.2 246.9h1.2v1.2h-1.2zM586.2 260.2h1.2v1.2h-1.2zM599.1 253.4h1.2v1.2h-1.2zM594.9 251.9h1.2v1.2h-1.2zM591.6 256.1h1.2v1.2h-1.2zM598.5 249.2h1.2v1.2h-1.2zM599.1 251.9h1.2v1.2h-1.2zM599.2 250.1h1.2v1.2h-1.2zM606.1 246.6h1.2v1.2h-1.2zM601.3 250.2h1.2v1.2h-1.2zM602 252h1.2v1.2h-1.2zM607.6 248.2h1.2v1.2h-1.2zM589.9 254.4h1.2v1.2h-1.2zM589.6 253.4h1.2v1.2h-1.2zM577.9 261.7h1.2v1.2h-1.2zM607.2 247.7h1.2v1.2h-1.2zM586 258.1h1.2v1.2h-1.2zM606 245.7h1.2v1.2h-1.2zM607 249.7h1.2v1.2h-1.2zM606.6 251.1h1.2v1.2h-1.2zM590.5 253.1h1.2v1.2h-1.2zM599.9 250.4h1.2v1.2h-1.2zM608.7 246.3h1.2v1.2h-1.2zM599.2 251.8h1.2v1.2h-1.2zM604.9 248.7h1.2v1.2h-1.2zM591.6 256.8h1.2v1.2h-1.2zM586.1 256.1h1.2v1.2h-1.2zM580.8 259h1.2v1.2h-1.2zM582.6 256.6h1.2v1.2h-1.2zM580.5 259.5h1.2v1.2h-1.2zM580.4 260h1.2v1.2h-1.2zM605.5 248.5h1.2v1.2h-1.2zM585.9 258.8h1.2v1.2h-1.2zM593.5 254.8h1.2v1.2h-1.2zM582.4 258.1h1.2v1.2h-1.2zM603.7 249.8h1.2v1.2h-1.2zM613.2 244.7h1.2v1.2h-1.2zM604.1 250.8h1.2v1.2h-1.2zM582.2 257.5h1.2v1.2h-1.2zM601 248.3h1.2v1.2h-1.2zM579.5 257.8h1.2v1.2h-1.2zM610.5 246.3h1.2v1.2h-1.2zM593.6 252.4h1.2v1.2h-1.2zM581.2 261.2h1.2v1.2h-1.2zM584.7 257.8h1.2v1.2h-1.2zM611.6 246.8h1.2v1.2h-1.2zM610.9 246.2h1.2v1.2h-1.2zM589.4 254.2h1.2v1.2h-1.2zM588.3 256.3h1.2v1.2h-1.2zM601.6 251.6h1.2v1.2h-1.2zM589.7 255.3h1.2v1.2h-1.2zM583.9 260.3h1.2v1.2h-1.2zM600.4 248.8h1.2v1.2h-1.2zM587.7 256.9h1.2v1.2h-1.2zM593.8 250.1h1.2v1.2h-1.2zM597.1 252.1h1.2v1.2h-1.2zM598.6 252.4h1.2v1.2h-1.2zM586.8 256h1.2v1.2h-1.2zM611.5 245.3h1.2v1.2h-1.2zM580.9 257.3h1.2v1.2h-1.2zM600 252.4h1.2v1.2h-1.2zM602.5 247.2h1.2v1.2h-1.2zM597.3 252.7h1.2v1.2h-1.2zM607.9 248.1h1.2v1.2h-1.2zM601.6 249.4h1.2v1.2h-1.2zM602.9 247.8h1.2v1.2h-1.2zM578.1 256.4h1.2v1.2h-1.2zM601 249.2h1.2v1.2h-1.2zM612 244.1h1.2v1.2h-1.2zM608 247.8h1.2v1.2h-1.2zM604 248.6h1.2v1.2h-1.2zM607.8 245.3h1.2v1.2h-1.2zM597.9 252.3h1.2v1.2h-1.2zM596.5 255.4h1.2v1.2h-1.2zM609.5 245.1h1.2v1.2h-1.2zM612.2 244.5h1.2v1.2h-1.2zM585 260.2h1.2v1.2h-1.2zM598.1 251.3h1.2v1.2h-1.2zM604.8 250.3h1.2v1.2h-1.2zM609.1 245.3h1.2v1.2h-1.2zM603.4 249.7h1.2v1.2h-1.2zM604.3 249.6h1.2v1.2h-1.2zM603.4 248.9h1.2v1.2h-1.2zM586.1 256.2h1.2v1.2h-1.2zM584.2 256.2h1.2v1.2h-1.2zM607.2 250.3h1.2v1.2h-1.2zM585.9 255h1.2v1.2h-1.2zM599.3 249.9h1.2v1.2h-1.2zM587.3 254.8h1.2v1.2h-1.2zM602.2 247.9h1.2v1.2h-1.2zM588.1 253.4h1.2v1.2h-1.2zM603.8 250.8h1.2v1.2h-1.2zM608.7 247.4h1.2v1.2h-1.2zM612.1 243.8h1.2v1.2h-1.2zM601.4 251.2h1.2v1.2h-1.2zM609.6 246.1h1.2v1.2h-1.2zM602.2 249.7h1.2v1.2h-1.2zM598.5 252.7h1.2v1.2h-1.2zM609 247.7h1.2v1.2h-1.2zM585.9 256h1.2v1.2h-1.2zM584.5 258.1h1.2v1.2h-1.2zM600.3 250.4h1.2v1.2h-1.2zM582.2 255.4h1.2v1.2h-1.2zM577.5 261.1h1.2v1.2h-1.2zM608 246.8h1.2v1.2h-1.2zM611.1 246.6h1.2v1.2h-1.2zM605.2 248.1h1.2v1.2h-1.2zM581.3 260.9h1.2v1.2h-1.2zM610.4 246h1.2v1.2h-1.2zM604.1 250h1.2v1.2h-1.2zM610.1 246.8h1.2v1.2h-1.2zM606.7 248.5h1.2v1.2h-1.2zM606.1 250.3h1.2v1.2h-1.2zM597.5 254.7h1.2v1.2h-1.2zM595.9 252.1h1.2v1.2h-1.2zM602.5 250.7h1.2v1.2h-1.2zM588.1 255.1h1.2v1.2h-1.2zM601.7 250.2h1.2v1.2h-1.2zM585.6 257.2h1.2v1.2h-1.2zM605.9 246.3h1.2v1.2h-1.2zM592.8 253.6h1.2v1.2h-1.2zM595.1 252.3h1.2v1.2h-1.2zM612 247.6h1.2v1.2h-1.2zM593.4 255h1.2v1.2h-1.2zM577.2 260.4h1.2v1.2h-1.2zM607.2 246.8h1.2v1.2h-1.2zM602.8 249h1.2v1.2h-1.2zM586 255.8h1.2v1.2h-1.2zM580.4 260.6h1.2v1.2h-1.2zM581.3 257.4h1.2v1.2h-1.2zM590.3 255.2h1.2v1.2h-1.2zM578 256.1h1.2v1.2h-1.2zM602.1 250.9h1.2v1.2h-1.2zM588.3 255.5h1.2v1.2h-1.2zM586.1 257h1.2v1.2h-1.2zM607.7 247.4h1.2v1.2h-1.2zM606 247.4h1.2v1.2h-1.2zM576.2 262.1h1.2v1.2h-1.2zM590.1 254.3h1.2v1.2h-1.2zM611.8 247.8h1.2v1.2h-1.2zM608.6 246.5h1.2v1.2h-1.2zM589.2 256.2h1.2v1.2h-1.2zM584.4 257.6h1.2v1.2h-1.2zM591.1 255.5h1.2v1.2h-1.2zM598.7 251.6h1.2v1.2h-1.2zM605.2 248.1h1.2v1.2h-1.2zM609.9 246.6h1.2v1.2h-1.2zM611 244.2h1.2v1.2h-1.2zM589 258.3h1.2v1.2h-1.2zM605.2 248.7h1.2v1.2h-1.2zM601.1 249.8h1.2v1.2h-1.2zM609.1 246.1h1.2v1.2h-1.2zM603.7 248.8h1.2v1.2h-1.2zM611.2 243.9h1.2v1.2h-1.2zM580.3 259.2h1.2v1.2h-1.2zM595.7 252h1.2v1.2h-1.2zM604.9 249.7h1.2v1.2h-1.2zM601.7 251.4h1.2v1.2h-1.2zM607.2 247.4h1.2v1.2h-1.2zM584.8 257.6h1.2v1.2h-1.2zM581.2 257.3h1.2v1.2h-1.2zM605.7 249.1h1.2v1.2h-1.2zM601 251.5h1.2v1.2h-1.2zM603.5 248.7h1.2v1.2h-1.2zM590.2 253.1h1.2v1.2h-1.2zM602.4 249.2h1.2v1.2h-1.2zM599.7 253.2h1.2v1.2h-1.2zM606.1 245.6h1.2v1.2h-1.2zM597 251.5h1.2v1.2h-1.2zM599.8 251.5h1.2v1.2h-1.2zM595.1 252.9h1.2v1.2h-1.2zM586.3 255.8h1.2v1.2h-1.2zM610.4 247.6h1.2v1.2h-1.2zM607.9 247.3h1.2v1.2h-1.2zM598.9 251.2h1.2v1.2h-1.2zM582.8 259h1.2v1.2h-1.2zM587.5 255.9h1.2v1.2h-1.2zM603.9 248.3h1.2v1.2h-1.2zM594 256.3h1.2v1.2h-1.2zM594.5 253h1.2v1.2h-1.2zM598.9 252.1h1.2v1.2h-1.2zM583.8 258.9h1.2v1.2h-1.2zM594.1 256h1.2v1.2h-1.2zM580 258.5h1.2v1.2h-1.2zM580.5 259h1.2v1.2h-1.2zM604.8 248.6h1.2v1.2h-1.2zM609.5 245.6h1.2v1.2h-1.2zM586.9 257.5h1.2v1.2h-1.2zM588.9 256.7h1.2v1.2h-1.2zM598.2 252.8h1.2v1.2h-1.2zM590.3 256h1.2v1.2h-1.2zM612.2 244.3h1.2v1.2h-1.2zM590.9 254h1.2v1.2h-1.2zM609.8 244.6h1.2v1.2h-1.2zM606.6 246.2h1.2v1.2h-1.2zM604.4 247h1.2v1.2h-1.2z" fill="#000"/>
<path d="M583.9 274.5h1.2v1.2h-1.2zM585.7 292.2h1.2v1.2h-1.2zM587.2 270.6h1.2v1.2h-1.2zM585 292.6h1.2v1.2h-1.2zM582.5 287.8h1.2v1.2h-1.2zM587.1 292.3h1.2v1.2h-1.2zM584.3 283.6h1.2v1.2h-1.2zM586.9 289h1.2v1.2h-1.2zM583.4 282h1.2v1.2h-1.2zM583 282h1.2v1.2h-1.2zM584.6 285.1h1.2v1.2h-1.2zM585.1 274.4h1.2v1.2h-1.2zM584.3 284.1h1.2v1.2h-1.2zM588.2 273.1h1.2v1.2h-1.2zM585.4 291.8h1.2v1.2h-1.2zM588.5 288.3h1.2v1.2h-1.2zM584.1 285.8h1.2v1.2h-1.2zM586.6 272h1.2v1.2h-1.2zM584.5 289.1h1.2v1.2h-1.2zM584.1 292.9h1.2v1.2h-1.2zM582.8 289.4h1.2v1.2h-1.2zM587.4 275h1.2v1.2h-1.2zM585.8 275.2h1.2v1.2h-1.2zM584 269.7h1.2v1.2h-1.2zM587.8 285.3h1.2v1.2h-1.2zM581.9 274.3h1.2v1.2h-1.2zM584.1 273.6h1.2v1.2h-1.2zM582.5 278.9h1.2v1.2h-1.2zM587.6 278h1.2v1.2h-1.2zM585.7 270.2h1.2v1.2h-1.2zM586.3 291.1h1.2v1.2h-1.2zM585.1 291.7h1.2v1.2h-1.2zM581.2 276.3h1.2v1.2h-1.2zM583 271.1h1.2v1.2h-1.2zM586.5 286.7h1.2v1.2h-1.2zM584.9 266.9h1.2v1.2h-1.2zM584.8 279.7h1.2v1.2h-1.2zM586.1 277.7h1.2v1.2h-1.2zM585.8 271.2h1.2v1.2h-1.2zM583.7 271.5h1.2v1.2h-1.2zM583.8 290.8h1.2v1.2h-1.2zM583.3 277.2h1.2v1.2h-1.2zM580.4 283.9h1.2v1.2h-1.2zM588 274.8h1.2v1.2h-1.2zM582.8 270.3h1.2v1.2h-1.2zM586.1 275.1h1.2v1.2h-1.2zM585.9 291.7h1.2v1.2h-1.2zM583.5 275.6h1.2v1.2h-1.2zM584.6 268.1h1.2v1.2h-1.2zM586.3 276.2h1.2v1.2h-1.2zM584.2 285.5h1.2v1.2h-1.2zM583.2 287.5h1.2v1.2h-1.2zM585 270.6h1.2v1.2h-1.2zM584.6 285.4h1.2v1.2h-1.2zM588 288.9h1.2v1.2h-1.2zM583.7 291h1.2v1.2h-1.2zM587 283.3h1.2v1.2h-1.2zM585.6 269.8h1.2v1.2h-1.2zM585.9 267.9h1.2v1.2h-1.2zM582.8 271.5h1.2v1.2h-1.2zM586.3 280.5h1.2v1.2h-1.2zM585.3 291.6h1.2v1.2h-1.2zM580.6 273.5h1.2v1.2h-1.2zM585.1 291.8h1.2v1.2h-1.2zM581.3 268.9h1.2v1.2h-1.2zM586.9 267.4h1.2v1.2h-1.2zM582.5 286h1.2v1.2h-1.2zM585.9 292.4h1.2v1.2h-1.2zM586.5 287.1h1.2v1.2h-1.2zM585.2 293.6h1.2v1.2h-1.2zM586.9 269.6h1.2v1.2h-1.2zM586.1 290.4h1.2v1.2h-1.2zM584.5 287.4h1.2v1.2h-1.2zM583.9 284.4h1.2v1.2h-1.2zM584.4 290.9h1.2v1.2h-1.2zM587.4 279.7h1.2v1.2h-1.2zM585.4 283.3h1.2v1.2h-1.2zM584.4 277.2h1.2v1.2h-1.2zM587.5 292.3h1.2v1.2h-1.2zM585.2 287h1.2v1.2h-1.2zM586.3 287h1.2v1.2h-1.2zM584.3 288.8h1.2v1.2h-1.2zM582.9 283.1h1.2v1.2h-1.2zM584.4 289.5h1.2v1.2h-1.2zM586 280.4h1.2v1.2h-1.2zM583.8 267.8h1.2v1.2h-1.2zM585.2 290.9h1.2v1.2h-1.2zM585 282.6h1.2v1.2h-1.2zM586.6 272.3h1.2v1.2h-1.2zM585.3 281h1.2v1.2h-1.2zM585.6 286.3h1.2v1.2h-1.2zM585.2 277.9h1.2v1.2h-1.2zM587.2 291h1.2v1.2h-1.2zM582.9 275h1.2v1.2h-1.2zM581.3 267.1h1.2v1.2h-1.2zM585.6 283.5h1.2v1.2h-1.2zM585.8 277.3h1.2v1.2h-1.2zM585.3 280.6h1.2v1.2h-1.2zM585.5 290.5h1.2v1.2h-1.2zM585.8 271.3h1.2v1.2h-1.2zM587 282h1.2v1.2h-1.2zM582 268.4h1.2v1.2h-1.2zM583.8 274.6h1.2v1.2h-1.2zM586.1 287.5h1.2v1.2h-1.2zM585.3 281.9h1.2v1.2h-1.2zM583.9 292.5h1.2v1.2h-1.2zM586 287.3h1.2v1.2h-1.2zM586 269.3h1.2v1.2h-1.2zM586.3 286.1h1.2v1.2h-1.2zM583.3 286.9h1.2v1.2h-1.2zM585.7 292.2h1.2v1.2h-1.2zM587.8 279.4h1.2v1.2h-1.2zM583.9 280.1h1.2v1.2h-1.2zM584.2 276.4h1.2v1.2h-1.2zM584 285.3h1.2v1.2h-1.2zM583.6 277.6h1.2v1.2h-1.2zM585.7 265.2h1.2v1.2h-1.2zM580.2 269.4h1.2v1.2h-1.2zM584.5 290.6h1.2v1.2h-1.2zM583.4 285.6h1.2v1.2h-1.2zM585.9 276h1.2v1.2h-1.2zM583 267.3h1.2v1.2h-1.2zM585.1 266.2h1.2v1.2h-1.2zM582.6 282.1h1.2v1.2h-1.2zM586.6 274.5h1.2v1.2h-1.2zM584 290.5h1.2v1.2h-1.2zM584.8 271.5h1.2v1.2h-1.2zM585.8 289.5h1.2v1.2h-1.2zM583.9 278.5h1.2v1.2h-1.2zM586.3 279.9h1.2v1.2h-1.2zM587.3 270.7h1.2v1.2h-1.2zM585.5 278.7h1.2v1.2h-1.2zM580.3 266.9h1.2v1.2h-1.2zM584.3 285.4h1.2v1.2h-1.2zM582.7 274.1h1.2v1.2h-1.2zM584.8 285.4h1.2v1.2h-1.2zM586.3 271.5h1.2v1.2h-1.2zM584.3 288.8h1.2v1.2h-1.2zM582.5 292.7h1.2v1.2h-1.2zM585.7 268.6h1.2v1.2h-1.2zM586 282.5h1.2v1.2h-1.2zM588 268.2h1.2v1.2h-1.2zM587.9 277h1.2v1.2h-1.2zM585.7 284.2h1.2v1.2h-1.2zM584.2 270.5h1.2v1.2h-1.2zM583.6 272.3h1.2v1.2h-1.2zM583.3 283.3h1.2v1.2h-1.2zM585.4 281.3h1.2v1.2h-1.2zM585.5 286.2h1.2v1.2h-1.2zM582.7 268.7h1.2v1.2h-1.2zM586.1 287.9h1.2v1.2h-1.2zM584 277h1.2v1.2h-1.2zM583.6 287.8h1.2v1.2h-1.2zM583.8 265.3h1.2v1.2h-1.2zM589.2 267.9h1.2v1.2h-1.2zM587.3 274.3h1.2v1.2h-1.2zM587.2 291.4h1.2v1.2h-1.2zM585.4 287.5h1.2v1.2h-1.2zM586.8 274.6h1.2v1.2h-1.2zM586.7 278.2h1.2v1.2h-1.2zM580.9 282.7h1.2v1.2h-1.2zM585.3 291.8h1.2v1.2h-1.2zM582.5 275.4h1.2v1.2h-1.2zM589.1 288.9h1.2v1.2h-1.2zM584 272.7h1.2v1.2h-1.2zM583.5 279.5h1.2v1.2h-1.2zM585.6 286.7h1.2v1.2h-1.2zM587.4 274.1h1.2v1.2h-1.2zM584.6 286.9h1.2v1.2h-1.2zM589 272.1h1.2v1.2h-1.2zM585.7 277.2h1.2v1.2h-1.2zM587.6 279.1h1.2v1.2h-1.2zM583.6 283.3h1.2v1.2h-1.2zM588.6 291.7h1.2v1.2h-1.2zM588.6 282.7h1.2v1.2h-1.2zM585.2 268.8h1.2v1.2h-1.2zM584.2 289.1h1.2v1.2h-1.2zM586.3 268.9h1.2v1.2h-1.2zM588.7 285h1.2v1.2h-1.2zM586.9 285.1h1.2v1.2h-1.2zM583.6 276.2h1.2v1.2h-1.2zM584.6 271.3h1.2v1.2h-1.2zM585.8 287.4h1.2v1.2h-1.2zM580.6 276.6h1.2v1.2h-1.2zM584 272h1.2v1.2h-1.2zM587.2 294.2h1.2v1.2h-1.2zM586.7 265.5h1.2v1.2h-1.2zM586.2 288h1.2v1.2h-1.2zM580.3 272.1h1.2v1.2h-1.2zM586.6 272.6h1.2v1.2h-1.2zM583.8 275.4h1.2v1.2h-1.2zM586.3 268.5h1.2v1.2h-1.2zM582.6 278.1h1.2v1.2h-1.2zM582.1 287.1h1.2v1.2h-1.2zM584.1 287.4h1.2v1.2h-1.2zM583.7 285.2h1.2v1.2h-1.2zM584.3 290.3h1.2v1.2h-1.2zM585 287.7h1.2v1.2h-1.2zM588.1 281.6h1.2v1.2h-1.2zM586.5 277.6h1.2v1.2h-1.2zM587.1 285.4h1.2v1.2h-1.2zM586.3 273h1.2v1.2h-1.2zM585.7 275.4h1.2v1.2h-1.2zM586 274.8h1.2v1.2h-1.2zM581.8 279.1h1.2v1.2h-1.2zM584.2 274.2h1.2v1.2h-1.2zM585.2 288.9h1.2v1.2h-1.2zM586.2 290.7h1.2v1.2h-1.2zM588.1 268.9h1.2v1.2h-1.2zM585.5 268.4h1.2v1.2h-1.2zM587.9 271.4h1.2v1.2h-1.2zM585.9 291.8h1.2v1.2h-1.2zM584.3 267.8h1.2v1.2h-1.2zM582.1 266.6h1.2v1.2h-1.2zM582.9 278h1.2v1.2h-1.2zM582.3 269.2h1.2v1.2h-1.2zM585.5 292h1.2v1.2h-1.2zM587 275.5h1.2v1.2h-1.2zM584.5 273.8h1.2v1.2h-1.2zM580.9 289.7h1.2v1.2h-1.2zM585.4 275.9h1.2v1.2h-1.2zM582.4 269.1h1.2v1.2h-1.2zM586.5 287.4h1.2v1.2h-1.2zM586.3 278.9h1.2v1.2h-1.2zM582.9 277.9h1.2v1.2h-1.2zM585.6 292.4h1.2v1.2h-1.2zM586 290.2h1.2v1.2h-1.2zM585.5 270.7h1.2v1.2h-1.2zM583.7 279h1.2v1.2h-1.2zM587 291.6h1.2v1.2h-1.2zM586.6 282h1.2v1.2h-1.2zM584.1 274.5h1.2v1.2h-1.2zM584.1 290.6h1.2v1.2h-1.2zM585.4 273.8h1.2v1.2h-1.2zM583.8 277.9h1.2v1.2h-1.2zM583.7 269.1h1.2v1.2h-1.2zM584.2 282.4h1.2v1.2h-1.2zM589 269.4h1.2v1.2h-1.2zM587.5 267.3h1.2v1.2h-1.2zM584.6 277.6h1.2v1.2h-1.2zM587.4 286.4h1.2v1.2h-1.2zM585 283.8h1.2v1.2h-1.2zM584.1 275.8h1.2v1.2h-1.2zM587.4 287.1h1.2v1.2h-1.2zM582.9 272.7h1.2v1.2h-1.2zM580.4 275.3h1.2v1.2h-1.2zM584.4 288.5h1.2v1.2h-1.2zM582.2 274h1.2v1.2h-1.2zM585.7 288.2h1.2v1.2h-1.2zM585.9 292.9h1.2v1.2h-1.2zM586.8 272.7h1.2v1.2h-1.2zM591 269.2h1.2v1.2h-1.2zM587.7 288.8h1.2v1.2h-1.2zM588.2 279h1.2v1.2h-1.2zM587 271h1.2v1.2h-1.2zM586.2 274h1.2v1.2h-1.2zM583.6 283.8h1.2v1.2h-1.2zM585.7 267.4h1.2v1.2h-1.2zM582.3 288.5h1.2v1.2h-1.2zM582.8 274h1.2v1.2h-1.2zM585.5 269.5h1.2v1.2h-1.2zM586.6 288h1.2v1.2h-1.2zM584.9 282.4h1.2v1.2h-1.2zM584.5 268.6h1.2v1.2h-1.2zM587 270.5h1.2v1.2h-1.2zM587.9 281.7h1.2v1.2h-1.2zM588.8 282.6h1.2v1.2h-1.2zM584.7 269.9h1.2v1.2h-1.2zM584.2 290.2h1.2v1.2h-1.2zM588.9 288.1h1.2v1.2h-1.2zM586.1 290.7h1.2v1.2h-1.2zM582.6 277.1h1.2v1.2h-1.2zM582.7 275.9h1.2v1.2h-1.2zM587.9 291.4h1.2v1.2h-1.2zM583 289.9h1.2v1.2h-1.2zM586.5 280.7h1.2v1.2h-1.2zM585.3 287.5h1.2v1.2h-1.2zM585.5 283.2h1.2v1.2h-1.2zM586.5 274.9h1.2v1.2h-1.2zM583 269.5h1.2v1.2h-1.2zM583.8 265.8h1.2v1.2h-1.2zM584.8 274h1.2v1.2h-1.2zM585.5 281.5h1.2v1.2h-1.2zM588.2 284.7h1.2v1.2h-1.2zM585.2 285.5h1.2v1.2h-1.2zM581.8 276.3h1.2v1.2h-1.2zM582.7 270.2h1.2v1.2h-1.2zM585.1 269.7h1.2v1.2h-1.2zM587.8 276h1.2v1.2h-1.2zM586.8 279h1.2v1.2h-1.2zM586.6 291.6h1.2v1.2h-1.2zM587.3 280.2h1.2v1.2h-1.2zM586.2 279.7h1.2v1.2h-1.2zM583.7 284.4h1.2v1.2h-1.2zM583.6 284.4h1.2v1.2h-1.2zM585.5 288.5h1.2v1.2h-1.2zM589.4 288.4h1.2v1.2h-1.2zM585.2 282.5h1.2v1.2h-1.2zM585.4 290.6h1.2v1.2h-1.2zM585.5 279.5h1.2v1.2h-1.2zM583.8 266.4h1.2v1.2h-1.2zM582.5 274.5h1.2v1.2h-1.2zM584 287h1.2v1.2h-1.2zM586.3 285.5h1.2v1.2h-1.2zM581.6 285.1h1.2v1.2h-1.2zM584.5 267.6h1.2v1.2h-1.2zM583.2 279.9h1.2v1.2h-1.2zM585.8 270.2h1.2v1.2h-1.2zM584.4 268.9h1.2v1.2h-1.2zM582.8 271.1h1.2v1.2h-1.2zM586.1 292.2h1.2v1.2h-1.2zM590.1 281.1h1.2v1.2h-1.2zM584.1 276.2h1.2v1.2h-1.2zM582 274.4h1.2v1.2h-1.2zM588 265.7h1.2v1.2h-1.2zM587.7 280.1h1.2v1.2h-1.2zM586.3 270.2h1.2v1.2h-1.2zM585 288.8h1.2v1.2h-1.2zM587.7 286.9h1.2v1.2h-1.2zM584.2 271.6h1.2v1.2h-1.2zM585.6 293.5h1.2v1.2h-1.2zM585.5 288.1h1.2v1.2h-1.2zM584 289.8h1.2v1.2h-1.2zM585.1 274.4h1.2v1.2h-1.2zM586.4 286.5h1.2v1.2h-1.2zM584.7 284.1h1.2v1.2h-1.2zM587.7 289.2h1.2v1.2h-1.2zM585 289.9h1.2v1.2h-1.2zM583.4 285.3h1.2v1.2h-1.2zM587.3 280.8h1.2v1.2h-1.2zM583.3 289.3h1.2v1.2h-1.2zM582.6 274h1.2v1.2h-1.2zM586.1 269.5h1.2v1.2h-1.2zM580.4 279.7h1.2v1.2h-1.2zM587.7 271.8h1.2v1.2h-1.2zM582.7 285.1h1.2v1.2h-1.2zM582.9 276.4h1.2v1.2h-1.2zM587.1 283.5h1.2v1.2h-1.2zM582.7 273.2h1.2v1.2h-1.2zM583.7 288.4h1.2v1.2h-1.2zM586 280.6h1.2v1.2h-1.2zM584.2 282.2h1.2v1.2h-1.2zM582.8 277.4h1.2v1.2h-1.2zM586.5 291.3h1.2v1.2h-1.2zM587.7 290.1h1.2v1.2h-1.2zM583.7 277.6h1.2v1.2h-1.2zM583.9 266h1.2v1.2h-1.2zM582.3 283.8h1.2v1.2h-1.2zM582.3 278.7h1.2v1.2h-1.2zM582.9 272.4h1.2v1.2h-1.2zM588.2 281.3h1.2v1.2h-1.2zM586.4 275.5h1.2v1.2h-1.2zM583.5 275.5h1.2v1.2h-1.2zM585.2 273.2h1.2v1.2h-1.2zM581.2 270.1h1.2v1.2h-1.2zM581.8 267.7h1.2v1.2h-1.2zM582.8 282.4h1.2v1.2h-1.2zM583.6 269.8h1.2v1.2h-1.2zM588.7 278h1.2v1.2h-1.2zM583.6 268.1h1.2v1.2h-1.2zM581.3 275.5h1.2v1.2h-1.2zM585.9 266.9h1.2v1.2h-1.2zM585.5 272.5h1.2v1.2h-1.2zM584.5 274.5h1.2v1.2h-1.2zM588 281.5h1.2v1.2h-1.2zM581.8 273.8h1.2v1.2h-1.2zM584.3 275.1h1.2v1.2h-1.2zM587.4 290.9h1.2v1.2h-1.2zM588.3 266.8h1.2v1.2h-1.2zM585.3 289.2h1.2v1.2h-1.2zM582.9 292.9h1.2v1.2h-1.2zM580.4 278.3h1.2v1.2h-1.2zM583 286.7h1.2v1.2h-1.2zM585.8 269.3h1.2v1.2h-1.2zM582.1 274.5h1.2v1.2h-1.2zM584.5 269.5h1.2v1.2h-1.2zM588.8 273.2h1.2v1.2h-1.2zM583.2 282h1.2v1.2h-1.2zM581.9 274.5h1.2v1.2h-1.2zM587 291.9h1.2v1.2h-1.2zM583.9 269.5h1.2v1.2h-1.2zM583.5 268.5h1.2v1.2h-1.2zM583.8 287.3h1.2v1.2h-1.2zM588.7 280.9h1.2v1.2h-1.2zM585.8 265.8h1.2v1.2h-1.2zM584.7 281.2h1.2v1.2h-1.2zM585.2 278.6h1.2v1.2h-1.2zM584.3 286h1.2v1.2h-1.2zM581.3 266.6h1.2v1.2h-1.2zM585.5 266.7h1.2v1.2h-1.2zM582.6 287.2h1.2v1.2h-1.2zM582.1 272.1h1.2v1.2h-1.2zM584 279.6h1.2v1.2h-1.2zM585.6 292.4h1.2v1.2h-1.2zM586.9 274.1h1.2v1.2h-1.2zM580.9 267.3h1.2v1.2h-1.2zM584.7 286.1h1.2v1.2h-1.2zM584.5 284.3h1.2v1.2h-1.2zM583.4 278.5h1.2v1.2h-1.2zM584.2 278.4h1.2v1.2h-1.2zM585.1 281.7h1.2v1.2h-1.2zM582 273.8h1.2v1.2h-1.2zM584.3 277.6h1.2v1.2h-1.2zM582.7 275.3h1.2v1.2h-1.2zM584.2 270.8h1.2v1.2h-1.2zM585.7 292.3h1.2v1.2h-1.2zM584 288.7h1.2v1.2h-1.2zM586.8 286.9h1.2v1.2h-1.2zM586.5 289.6h1.2v1.2h-1.2zM586.1 291.3h1.2v1.2h-1.2zM585 265.5h1.2v1.2h-1.2zM584.1 289.6h1.2v1.2h-1.2zM585.1 271.3h1.2v1.2h-1.2zM582.7 269h1.2v1.2h-1.2zM583.9 278.8h1.2v1.2h-1.2zM584.1 285.9h1.2v1.2h-1.2zM584.4 285.5h1.2v1.2h-1.2zM588.5 273.9h1.2v1.2h-1.2zM585 272.7h1.2v1.2h-1.2zM583.5 282.7h1.2v1.2h-1.2zM581 272h1.2v1.2h-1.2zM581.3 274.8h1.2v1.2h-1.2zM587.9 281.8h1.2v1.2h-1.2zM584.6 288.6h1.2v1.2h-1.2zM584.2 273.7h1.2v1.2h-1.2zM583.6 287.1h1.2v1.2h-1.2zM583.8 271.2h1.2v1.2h-1.2zM582.9 275.6h1.2v1.2h-1.2zM585.9 279h1.2v1.2h-1.2zM585.6 276.1h1.2v1.2h-1.2zM587.6 273.8h1.2v1.2h-1.2zM582.1 273.6h1.2v1.2h-1.2z" fill="#000"/>
<path d="M578.6 296.8h1.2v1.2h-1.2zM583 310.4h1.2v1.2h-1.2zM582.9 310.8h1.2v1.2h-1.2zM585.4 294.4h1.2v1.2h-1.2zM586.4 303.3h1.2v1.2h-1.2zM582.5 298.4h1.2v1.2h-1.2zM584.9 295.9h1.2v1.2h-1.2zM584.6 313.9h1.2v1.2h-1.2zM582 307.1h1.2v1.2h-1.2zM584.7 313.1h1.2v1.2h-1.2zM587.2 310.2h1.2v1.2h-1.2zM586.3 304.7h1.2v1.2h-1.2zM585 309.7h1.2v1.2h-1.2zM584.1 303.7h1.2v1.2h-1.2zM585.8 300h1.2v1.2h-1.2zM583.1 301h1.2v1.2h-1.2zM584.6 297.6h1.2v1.2h-1.2zM585.1 300.4h1.2v1.2h-1.2zM580.2 302h1.2v1.2h-1.2zM585.8 306.8h1.2v1.2h-1.2zM581.6 309.9h1.2v1.2h-1.2zM583.7 299.3h1.2v1.2h-1.2zM583.7 302.5h1.2v1.2h-1.2zM588.3 312.6h1.2v1.2h-1.2zM582.7 307.8h1.2v1.2h-1.2zM585 307.7h1.2v1.2h-1.2zM586.7 317.8h1.2v1.2h-1.2zM583.2 303.6h1.2v1.2h-1.2zM587.3 293h1.2v1.2h-1.2zM583.8 313.3h1.2v1.2h-1.2zM585.2 304.7h1.2v1.2h-1.2zM582.5 296.6h1.2v1.2h-1.2zM583.9 296.3h1.2v1.2h-1.2zM586.4 309.4h1.2v1.2h-1.2zM582.5 312.5h1.2v1.2h-1.2zM583.7 315.5h1.2v1.2h-1.2zM585.6 304.7h1.2v1.2h-1.2zM584.2 312.4h1.2v1.2h-1.2zM587.8 302.7h1.2v1.2h-1.2zM587 307.7h1.2v1.2h-1.2zM584.7 306.3h1.2v1.2h-1.2zM587.2 311.7h1.2v1.2h-1.2zM585.6 305.7h1.2v1.2h-1.2zM587.2 314.6h1.2v1.2h-1.2zM584.9 305.1h1.2v1.2h-1.2zM585.4 297.4h1.2v1.2h-1.2zM583.8 303.7h1.2v1.2h-1.2zM582.3 301.3h1.2v1.2h-1.2zM586.9 299.2h1.2v1.2h-1.2zM588.6 293.4h1.2v1.2h-1.2zM584.5 312.3h1.2v1.2h-1.2zM587 305.8h1.2v1.2h-1.2zM587.9 313h1.2v1.2h-1.2zM582.7 310.6h1.2v1.2h-1.2z" fill="#000"/>
<path d="M579.2 271.2h1v1h-1zM578.3 275.7h1v1h-1zM580.6 300.2h1v1h-1zM576.8 295.5h1v1h-1zM578.3 284.7h1v1h-1zM579.2 287.3h1v1h-1zM576.6 314.3h1v1h-1zM578.2 279.3h1v1h-1zM579.6 286.3h1v1h-1zM577.3 315.7h1v1h-1zM577.1 270.3h1v1h-1zM578.4 308.1h1v1h-1zM580.8 289.2h1v1h-1zM578.4 273.1h1v1h-1zM577.3 300.1h1v1h-1zM577.4 304h1v1h-1zM579.7 286.1h1v1h-1zM576 282.5h1v1h-1zM580.2 275.5h1v1h-1zM578.9 305.3h1v1h-1zM578.1 272.4h1v1h-1zM580.1 301h1v1h-1zM579.7 312.3h1v1h-1zM578.2 292h1v1h-1zM578.7 309.6h1v1h-1z" fill="#000"/>
<rect x="528" y="189" width="130.2" height="130.3" fill="none" stroke="#000" stroke-width="1.3"/>
<path d="M575.9 189V319.3M528 265.2H658.2" stroke="#000" stroke-width="1.3" fill="none"/>
<path d="M528 319.3v4.5M528 319.3h-4.5M534.3 319.3v4.2M528 313h-4.2M538 319.3v4.2M528 309.3h-4.2M540.6 319.3v4.2M528 306.6h-4.2M542.7 319.3v4.2M528 304.6h-4.2M544.3 319.3v4.2M528 302.9h-4.2M545.7 319.3v4.2M528 301.5h-4.2M547 319.3v4.2M528 300.3h-4.2M548 319.3v4.2M528 299.2h-4.2M549 319.3v4.5M528 298.3h-4.5M555.3 319.3v4.2M528 292h-4.2M559 319.3v4.2M528 288.3h-4.2M561.6 319.3v4.2M528 285.6h-4.2M563.7 319.3v4.2M528 283.6h-4.2M565.3 319.3v4.2M528 281.9h-4.2M566.7 319.3v4.2M528 280.5h-4.2M568 319.3v4.2M528 279.3h-4.2M569 319.3v4.2M528 278.2h-4.2M570 319.3v4.5M528 277.3h-4.5M576.3 319.3v4.2M528 270.9h-4.2M580 319.3v4.2M528 267.2h-4.2M582.6 319.3v4.2M528 264.6h-4.2M584.7 319.3v4.2M528 262.6h-4.2M586.3 319.3v4.2M528 260.9h-4.2M587.7 319.3v4.2M528 259.5h-4.2M589 319.3v4.2M528 258.3h-4.2M590 319.3v4.2M528 257.2h-4.2M591 319.3v4.5M528 256.3h-4.5M597.3 319.3v4.2M528 249.9h-4.2M601 319.3v4.2M528 246.2h-4.2M603.6 319.3v4.2M528 243.6h-4.2M605.7 319.3v4.2M528 241.6h-4.2M607.3 319.3v4.2M528 239.9h-4.2M608.7 319.3v4.2M528 238.5h-4.2M610 319.3v4.2M528 237.3h-4.2M611 319.3v4.2M528 236.2h-4.2M612 319.3v4.5M528 235.2h-4.5M618.3 319.3v4.2M528 228.9h-4.2M622 319.3v4.2M528 225.2h-4.2M624.6 319.3v4.2M528 222.6h-4.2M626.7 319.3v4.2M528 220.5h-4.2M628.3 319.3v4.2M528 218.9h-4.2M629.7 319.3v4.2M528 217.5h-4.2M631 319.3v4.2M528 216.3h-4.2M632 319.3v4.2M528 215.2h-4.2M633 319.3v4.5M528 214.2h-4.5M639.3 319.3v4.2M528 207.9h-4.2M643 319.3v4.2M528 204.2h-4.2M645.6 319.3v4.2M528 201.6h-4.2M647.7 319.3v4.2M528 199.5h-4.2M649.3 319.3v4.2M528 197.9h-4.2M650.7 319.3v4.2M528 196.5h-4.2M652 319.3v4.2M528 195.2h-4.2M653 319.3v4.2M528 194.2h-4.2M654 319.3v4.5M528 193.2h-4.5M658.2 319.3v4.5M528 189h-4.5" stroke="#000" stroke-width="1" fill="none"/>
<text x="527.8" y="332.3" class="tl" text-anchor="middle">ω<tspan class="sup" dy="-1.5">1</tspan></text><text transform="translate(519.7 319.6) rotate(-90)" class="tl" text-anchor="middle">ω<tspan class="sup" dy="-1.5">1</tspan></text><text x="548.8" y="332.3" class="tl" text-anchor="middle">ω<tspan class="sup" dy="-1.5">2</tspan></text><text transform="translate(519.7 298.6) rotate(-90)" class="tl" text-anchor="middle">ω<tspan class="sup" dy="-1.5">2</tspan></text><text x="569.8" y="332.3" class="tl" text-anchor="middle">ω<tspan class="sup" dy="-1.5">3</tspan></text><text transform="translate(519.7 277.6) rotate(-90)" class="tl" text-anchor="middle">ω<tspan class="sup" dy="-1.5">3</tspan></text><text x="590.8" y="332.3" class="tl" text-anchor="middle">ω<tspan class="sup" dy="-1.5">4</tspan></text><text transform="translate(519.7 256.6) rotate(-90)" class="tl" text-anchor="middle">ω<tspan class="sup" dy="-1.5">4</tspan></text><text x="611.8" y="332.3" class="tl" text-anchor="middle">ω<tspan class="sup" dy="-1.5">5</tspan></text><text transform="translate(519.7 235.5) rotate(-90)" class="tl" text-anchor="middle">ω<tspan class="sup" dy="-1.5">5</tspan></text><text x="632.8" y="332.3" class="tl" text-anchor="middle">ω<tspan class="sup" dy="-1.5">6</tspan></text><text transform="translate(519.7 214.5) rotate(-90)" class="tl" text-anchor="middle">ω<tspan class="sup" dy="-1.5">6</tspan></text><text x="658" y="332.3" class="tl" text-anchor="middle">ω<tspan class="sup" dy="-1.5">7.2</tspan></text><text transform="translate(519.7 189.3) rotate(-90)" class="tl" text-anchor="middle">ω<tspan class="sup" dy="-1.5">7.2</tspan></text>
<text x="541.8" y="201.9" class="qn">0.31</text>
<text x="622.8" y="201.5" class="qn">1.18</text>
<text x="623.4" y="279" class="qn">2.03</text>
<polygon points="39,424 50,423 60,421.5 70,419.5 81.5,417 81.5,417 81.5,445 80.5,471.7 38.5,471.7" fill="#000"/>
<path d="M52.5 421.4h1.2v1.2h-1.2zM53.7 418.2h1.2v1.2h-1.2zM70 418.3h1.2v1.2h-1.2zM71.7 411.2h1.2v1.2h-1.2zM52.4 418.8h1.2v1.2h-1.2zM67.6 417.3h1.2v1.2h-1.2zM48.4 422.5h1.2v1.2h-1.2zM75.2 416.8h1.2v1.2h-1.2zM72.6 414.3h1.2v1.2h-1.2zM74.3 415.1h1.2v1.2h-1.2zM68.7 415.5h1.2v1.2h-1.2zM77.4 412h1.2v1.2h-1.2zM75.7 416.7h1.2v1.2h-1.2zM77.5 416.9h1.2v1.2h-1.2zM45.9 418.7h1.2v1.2h-1.2zM60.6 414.4h1.2v1.2h-1.2zM52.6 421.8h1.2v1.2h-1.2zM44.4 418.5h1.2v1.2h-1.2zM72.6 417.1h1.2v1.2h-1.2zM66.3 419.4h1.2v1.2h-1.2zM78.1 416.3h1.2v1.2h-1.2zM46.8 421.3h1.2v1.2h-1.2zM58.7 419.7h1.2v1.2h-1.2zM69 418.6h1.2v1.2h-1.2zM72.1 417.5h1.2v1.2h-1.2zM54.8 417h1.2v1.2h-1.2zM69.4 416.2h1.2v1.2h-1.2zM72 417.2h1.2v1.2h-1.2zM53 420.4h1.2v1.2h-1.2zM74.4 417.4h1.2v1.2h-1.2zM68.1 417.9h1.2v1.2h-1.2zM78 414.5h1.2v1.2h-1.2zM77.4 416.1h1.2v1.2h-1.2zM58.1 420.5h1.2v1.2h-1.2zM47.2 421.8h1.2v1.2h-1.2zM47.4 420.6h1.2v1.2h-1.2zM62.2 417.6h1.2v1.2h-1.2zM68.9 411.8h1.2v1.2h-1.2zM60.6 418.7h1.2v1.2h-1.2zM60.8 419.3h1.2v1.2h-1.2zM52.9 421.1h1.2v1.2h-1.2zM52.4 420.5h1.2v1.2h-1.2zM57.2 419.6h1.2v1.2h-1.2zM65.6 412.5h1.2v1.2h-1.2zM61.9 413.3h1.2v1.2h-1.2zM51.7 420.2h1.2v1.2h-1.2zM63 419h1.2v1.2h-1.2zM58 420.6h1.2v1.2h-1.2zM80.1 416.4h1.2v1.2h-1.2zM72.5 416.9h1.2v1.2h-1.2zM53.1 421.1h1.2v1.2h-1.2zM78.5 416.1h1.2v1.2h-1.2zM62.9 419.1h1.2v1.2h-1.2zM66.3 417.9h1.2v1.2h-1.2zM61.1 420.3h1.2v1.2h-1.2zM39.3 421.2h1.2v1.2h-1.2zM38.4 421.9h1.2v1.2h-1.2zM50 419.6h1.2v1.2h-1.2zM52.3 421.9h1.2v1.2h-1.2zM45.2 422h1.2v1.2h-1.2zM65.5 417.2h1.2v1.2h-1.2zM72.5 411.9h1.2v1.2h-1.2zM62.2 420.2h1.2v1.2h-1.2zM66.6 418.6h1.2v1.2h-1.2zM64.2 419.5h1.2v1.2h-1.2zM55.3 420.9h1.2v1.2h-1.2zM66.2 413.5h1.2v1.2h-1.2zM54 420.3h1.2v1.2h-1.2z" fill="#000"/>
<path d="M65.9 421.4h1.2v1.2h-1.2zM53.8 422.1h1.2v1.2h-1.2zM66.4 420h1.2v1.2h-1.2zM59.9 422h1.2v1.2h-1.2zM62.9 424.3h1.2v1.2h-1.2zM53.4 422.1h1.2v1.2h-1.2zM56.2 424.1h1.2v1.2h-1.2zM74.8 417.8h1.2v1.2h-1.2zM45.9 423h1.2v1.2h-1.2zM71.9 419.8h1.2v1.2h-1.2zM45.7 424.6h1.2v1.2h-1.2zM75.6 419.6h1.2v1.2h-1.2zM53.6 423.8h1.2v1.2h-1.2zM50.1 425.6h1.2v1.2h-1.2zM44.5 423.4h1.2v1.2h-1.2zM51.8 424.1h1.2v1.2h-1.2zM71.2 419.4h1.2v1.2h-1.2zM61.5 420.9h1.2v1.2h-1.2zM63.5 420.1h1.2v1.2h-1.2zM69.9 422.6h1.2v1.2h-1.2zM58.1 421.9h1.2v1.2h-1.2z" fill="#fff"/>
<path d="M81.6 448.5h1.2v1.2h-1.2zM80.5 467.2h1.2v1.2h-1.2zM83 443.1h1.2v1.2h-1.2zM81.1 457.3h1.2v1.2h-1.2zM83 423.1h1.2v1.2h-1.2zM84 423.3h1.2v1.2h-1.2zM84.7 417.5h1.2v1.2h-1.2zM81.5 461h1.2v1.2h-1.2zM82.8 465.2h1.2v1.2h-1.2zM81.1 453.2h1.2v1.2h-1.2zM81.1 421.3h1.2v1.2h-1.2zM82.9 421.6h1.2v1.2h-1.2zM85.7 455h1.2v1.2h-1.2zM81.7 437.3h1.2v1.2h-1.2zM83 463.6h1.2v1.2h-1.2zM80 470h1.2v1.2h-1.2zM81 468.7h1.2v1.2h-1.2zM80.7 460.1h1.2v1.2h-1.2zM83.3 446.1h1.2v1.2h-1.2zM82.6 455.9h1.2v1.2h-1.2zM85.3 421.3h1.2v1.2h-1.2zM84 419.4h1.2v1.2h-1.2zM82.5 447.4h1.2v1.2h-1.2zM83.7 428.6h1.2v1.2h-1.2zM80.9 458h1.2v1.2h-1.2zM81 467.3h1.2v1.2h-1.2zM80.7 463.5h1.2v1.2h-1.2zM81.3 436.8h1.2v1.2h-1.2zM81.2 418.3h1.2v1.2h-1.2zM82.2 424.8h1.2v1.2h-1.2zM81.1 442.8h1.2v1.2h-1.2zM81.9 466.6h1.2v1.2h-1.2zM81.5 444.8h1.2v1.2h-1.2zM85.2 439.2h1.2v1.2h-1.2zM82.2 439.6h1.2v1.2h-1.2zM81 466.9h1.2v1.2h-1.2zM80.3 463.1h1.2v1.2h-1.2zM80.7 455.2h1.2v1.2h-1.2zM81.1 431.4h1.2v1.2h-1.2zM84.2 464.7h1.2v1.2h-1.2zM81.6 459.8h1.2v1.2h-1.2zM82.2 422.5h1.2v1.2h-1.2zM82.4 465.7h1.2v1.2h-1.2zM87.9 416.5h1.2v1.2h-1.2zM81.6 468.3h1.2v1.2h-1.2zM83.1 417.6h1.2v1.2h-1.2zM80.7 450.6h1.2v1.2h-1.2zM80.9 440.7h1.2v1.2h-1.2zM82.9 419.8h1.2v1.2h-1.2zM81.1 458.3h1.2v1.2h-1.2zM81.5 425h1.2v1.2h-1.2zM82.4 428.9h1.2v1.2h-1.2zM85.3 431.4h1.2v1.2h-1.2zM81.4 417.2h1.2v1.2h-1.2zM81.7 450.6h1.2v1.2h-1.2zM81.8 420.9h1.2v1.2h-1.2zM83.8 431.8h1.2v1.2h-1.2zM82.7 429.5h1.2v1.2h-1.2zM81.5 453.4h1.2v1.2h-1.2zM82.3 418.9h1.2v1.2h-1.2zM81.4 422.3h1.2v1.2h-1.2zM80.4 467h1.2v1.2h-1.2zM80.3 468.8h1.2v1.2h-1.2zM81 418.1h1.2v1.2h-1.2zM84.3 462.5h1.2v1.2h-1.2z" fill="#000"/>
<path d="M80.2 431.3h1.2v1.2h-1.2zM79.3 435.1h1.2v1.2h-1.2zM79.9 433h1.2v1.2h-1.2zM80.1 452.1h1.2v1.2h-1.2zM79.2 423.8h1.2v1.2h-1.2zM80.6 452h1.2v1.2h-1.2zM77.9 440.1h1.2v1.2h-1.2zM78.9 448.8h1.2v1.2h-1.2zM79.6 469.8h1.2v1.2h-1.2zM80.6 438h1.2v1.2h-1.2zM78.7 465.5h1.2v1.2h-1.2zM78.4 464.1h1.2v1.2h-1.2zM78.9 435h1.2v1.2h-1.2zM79.8 431.2h1.2v1.2h-1.2zM78.3 450.6h1.2v1.2h-1.2zM78.7 429.8h1.2v1.2h-1.2zM79.3 446.1h1.2v1.2h-1.2zM79.7 421.6h1.2v1.2h-1.2zM79.3 421.5h1.2v1.2h-1.2zM79.6 459.7h1.2v1.2h-1.2zM79.3 440.1h1.2v1.2h-1.2zM75.8 446.8h1.2v1.2h-1.2zM78.4 462.4h1.2v1.2h-1.2zM80.8 435.5h1.2v1.2h-1.2zM80.2 453.4h1.2v1.2h-1.2zM78.8 454.9h1.2v1.2h-1.2zM80.1 463.5h1.2v1.2h-1.2zM80.2 442.8h1.2v1.2h-1.2zM80.4 435.1h1.2v1.2h-1.2zM79.3 461.9h1.2v1.2h-1.2zM80.6 446.5h1.2v1.2h-1.2zM79.2 446.8h1.2v1.2h-1.2zM80.2 423.2h1.2v1.2h-1.2zM79.6 431h1.2v1.2h-1.2zM75.9 420.8h1.2v1.2h-1.2zM76.7 437.7h1.2v1.2h-1.2zM78.7 418.3h1.2v1.2h-1.2zM79.2 465.6h1.2v1.2h-1.2zM79.3 436.9h1.2v1.2h-1.2zM80.4 433.1h1.2v1.2h-1.2zM78.4 466.3h1.2v1.2h-1.2zM79.9 443.7h1.2v1.2h-1.2zM78.2 459.8h1.2v1.2h-1.2zM80.3 431.8h1.2v1.2h-1.2zM80.8 438.8h1.2v1.2h-1.2zM80.7 439.4h1.2v1.2h-1.2zM79.9 452.8h1.2v1.2h-1.2zM80.5 434.2h1.2v1.2h-1.2zM80.5 430.1h1.2v1.2h-1.2z" fill="#fff"/>
<path d="M50.3 467.1h1.3v1.3h-1.3zM42.7 468.7h1.3v1.3h-1.3zM54.9 465h1.3v1.3h-1.3zM39.4 463.4h1.3v1.3h-1.3zM38.4 450.4h1.3v1.3h-1.3zM45.8 469.7h1.3v1.3h-1.3zM41.4 454.5h1.3v1.3h-1.3zM46.5 460.6h1.3v1.3h-1.3zM43.1 469.8h1.3v1.3h-1.3zM44.1 465.3h1.3v1.3h-1.3zM39.2 470.9h1.3v1.3h-1.3zM42.5 453.9h1.3v1.3h-1.3zM40.5 464.2h1.3v1.3h-1.3zM39 456.6h1.3v1.3h-1.3zM50.4 468.8h1.3v1.3h-1.3zM45.3 461.9h1.3v1.3h-1.3zM41.5 456.5h1.3v1.3h-1.3zM38.6 469h1.3v1.3h-1.3zM39 459.1h1.3v1.3h-1.3zM45.7 469.5h1.3v1.3h-1.3zM44.3 466.3h1.3v1.3h-1.3zM43 467.6h1.3v1.3h-1.3zM42.9 465.6h1.3v1.3h-1.3zM40.5 468.2h1.3v1.3h-1.3zM39.3 464.4h1.3v1.3h-1.3zM47.8 469.5h1.3v1.3h-1.3zM43.2 467.9h1.3v1.3h-1.3zM39.4 470.9h1.3v1.3h-1.3zM38.6 461.8h1.3v1.3h-1.3zM39.1 469h1.3v1.3h-1.3zM42.3 469.8h1.3v1.3h-1.3zM43.1 466.9h1.3v1.3h-1.3zM39.7 463.4h1.3v1.3h-1.3zM44 450.4h1.3v1.3h-1.3zM40.6 460.9h1.3v1.3h-1.3zM43.7 465.4h1.3v1.3h-1.3zM38.6 468.8h1.3v1.3h-1.3zM41.4 471h1.3v1.3h-1.3zM38.9 459.2h1.3v1.3h-1.3zM39 465.6h1.3v1.3h-1.3zM39.8 466.1h1.3v1.3h-1.3zM41.1 469.2h1.3v1.3h-1.3zM41.7 469.1h1.3v1.3h-1.3zM54.3 467h1.3v1.3h-1.3zM39.1 461.9h1.3v1.3h-1.3zM39.3 461.8h1.3v1.3h-1.3zM46.6 453.4h1.3v1.3h-1.3zM42.4 461.7h1.3v1.3h-1.3zM47 459.5h1.3v1.3h-1.3zM43.5 455.6h1.3v1.3h-1.3zM45.9 468h1.3v1.3h-1.3zM40.9 458.5h1.3v1.3h-1.3zM52.8 468h1.3v1.3h-1.3zM52.5 460.3h1.3v1.3h-1.3zM44.9 468.5h1.3v1.3h-1.3zM40.1 469h1.3v1.3h-1.3zM44.7 467h1.3v1.3h-1.3zM39.7 470.2h1.3v1.3h-1.3zM47.5 469.9h1.3v1.3h-1.3zM39.4 466h1.3v1.3h-1.3zM38.7 467.7h1.3v1.3h-1.3zM39.6 457.6h1.3v1.3h-1.3zM42.8 466.6h1.3v1.3h-1.3zM41.8 471.2h1.3v1.3h-1.3zM48.6 451.1h1.3v1.3h-1.3zM38.4 465.5h1.3v1.3h-1.3zM46.8 458.2h1.3v1.3h-1.3zM54.9 454.9h1.3v1.3h-1.3zM50.3 470.2h1.3v1.3h-1.3zM54.9 450.4h1.3v1.3h-1.3zM44 456.6h1.3v1.3h-1.3zM40 467.4h1.3v1.3h-1.3zM39 466.9h1.3v1.3h-1.3zM54.9 462.8h1.3v1.3h-1.3zM41.7 468.7h1.3v1.3h-1.3zM39.7 467.4h1.3v1.3h-1.3zM40.2 466.7h1.3v1.3h-1.3zM43 467.7h1.3v1.3h-1.3zM43.3 467.6h1.3v1.3h-1.3zM42.1 466.7h1.3v1.3h-1.3zM48.5 455.6h1.3v1.3h-1.3zM43.2 461.4h1.3v1.3h-1.3zM40.3 470.1h1.3v1.3h-1.3zM40.4 470.3h1.3v1.3h-1.3zM46.3 454h1.3v1.3h-1.3zM44 469.6h1.3v1.3h-1.3zM39.1 461h1.3v1.3h-1.3zM43 470.2h1.3v1.3h-1.3zM54.9 461.6h1.3v1.3h-1.3zM54.9 450.4h1.3v1.3h-1.3zM46.8 452.8h1.3v1.3h-1.3zM54.1 470.1h1.3v1.3h-1.3z" fill="#fff"/>
<path d="M40.6 425V455" stroke="#ccc" stroke-width="1.2"/>
<path d="M92.1 399.9h1.2v1.2h-1.2zM88.8 398.3h1.2v1.2h-1.2zM94.3 409.5h1.2v1.2h-1.2zM87.1 407.9h1.2v1.2h-1.2zM90.8 399.7h1.2v1.2h-1.2zM85.6 408.2h1.2v1.2h-1.2zM88.4 395.6h1.2v1.2h-1.2zM85.4 403.4h1.2v1.2h-1.2zM87.3 400.7h1.2v1.2h-1.2zM87.7 410.1h1.2v1.2h-1.2zM93.6 402.3h1.2v1.2h-1.2zM87.1 395.8h1.2v1.2h-1.2zM86.4 400.8h1.2v1.2h-1.2zM91.9 399.1h1.2v1.2h-1.2zM86.3 403.8h1.2v1.2h-1.2zM90.1 395.4h1.2v1.2h-1.2zM91.2 400.4h1.2v1.2h-1.2zM86.7 396.5h1.2v1.2h-1.2zM94.1 401.8h1.2v1.2h-1.2zM88.5 406.2h1.2v1.2h-1.2zM87.3 402.9h1.2v1.2h-1.2zM92.7 407.5h1.2v1.2h-1.2zM86.4 410.4h1.2v1.2h-1.2zM90.8 404.2h1.2v1.2h-1.2zM91.7 408.6h1.2v1.2h-1.2zM83.7 402.7h1.2v1.2h-1.2zM87.8 396.5h1.2v1.2h-1.2zM88.5 404.4h1.2v1.2h-1.2zM88.4 403.3h1.2v1.2h-1.2zM87.2 410.2h1.2v1.2h-1.2zM85.7 402.1h1.2v1.2h-1.2zM90.6 398h1.2v1.2h-1.2zM86.9 395.6h1.2v1.2h-1.2zM86.6 408h1.2v1.2h-1.2zM86.2 396.3h1.2v1.2h-1.2zM85.6 404.4h1.2v1.2h-1.2zM88.8 400.4h1.2v1.2h-1.2zM89.9 410.4h1.2v1.2h-1.2zM88.8 402.2h1.2v1.2h-1.2zM80.9 395h1.2v1.2h-1.2zM87.1 404.5h1.2v1.2h-1.2zM85.6 400h1.2v1.2h-1.2zM90.7 400.2h1.2v1.2h-1.2zM86 403.5h1.2v1.2h-1.2zM87.6 395.1h1.2v1.2h-1.2zM91.7 407.9h1.2v1.2h-1.2zM88.8 395.6h1.2v1.2h-1.2zM90.5 403h1.2v1.2h-1.2zM92 401.4h1.2v1.2h-1.2zM90.1 408.3h1.2v1.2h-1.2zM86.1 401.7h1.2v1.2h-1.2zM87.3 395h1.2v1.2h-1.2zM88.2 396.9h1.2v1.2h-1.2zM94.7 399.4h1.2v1.2h-1.2zM92.5 405.7h1.2v1.2h-1.2zM84.3 399.3h1.2v1.2h-1.2zM87.6 406.5h1.2v1.2h-1.2zM87.8 405.7h1.2v1.2h-1.2zM84.8 408.1h1.2v1.2h-1.2zM88.9 402.7h1.2v1.2h-1.2zM84 400.7h1.2v1.2h-1.2zM87 409.6h1.2v1.2h-1.2zM84.2 408.4h1.2v1.2h-1.2zM88.8 409.2h1.2v1.2h-1.2zM88.5 396.6h1.2v1.2h-1.2zM87.3 402.1h1.2v1.2h-1.2zM90.8 403.9h1.2v1.2h-1.2zM89.3 409.5h1.2v1.2h-1.2zM88.4 402.4h1.2v1.2h-1.2zM90.3 406.1h1.2v1.2h-1.2zM89 400.4h1.2v1.2h-1.2zM86.4 396.4h1.2v1.2h-1.2zM87.6 396.8h1.2v1.2h-1.2zM84.8 397.2h1.2v1.2h-1.2zM90.1 396.7h1.2v1.2h-1.2zM91.8 403.8h1.2v1.2h-1.2zM86 408.2h1.2v1.2h-1.2zM84.9 405.2h1.2v1.2h-1.2zM81.7 402.1h1.2v1.2h-1.2zM87.2 398.8h1.2v1.2h-1.2zM91.1 403.4h1.2v1.2h-1.2zM91.5 398.4h1.2v1.2h-1.2zM88.7 406h1.2v1.2h-1.2zM93.1 398.1h1.2v1.2h-1.2zM88.3 398.7h1.2v1.2h-1.2zM87 399.3h1.2v1.2h-1.2zM89 407.6h1.2v1.2h-1.2zM89.6 401.9h1.2v1.2h-1.2zM91.4 400.6h1.2v1.2h-1.2zM92.6 409.5h1.2v1.2h-1.2zM88.2 399h1.2v1.2h-1.2zM88.3 402.6h1.2v1.2h-1.2zM88.1 395.4h1.2v1.2h-1.2zM90.2 410.5h1.2v1.2h-1.2zM84.5 397.5h1.2v1.2h-1.2zM83.7 397.9h1.2v1.2h-1.2zM90.1 406h1.2v1.2h-1.2zM85.7 403.8h1.2v1.2h-1.2zM85.6 406h1.2v1.2h-1.2zM92.3 399h1.2v1.2h-1.2zM86 404.1h1.2v1.2h-1.2zM90.2 399.4h1.2v1.2h-1.2zM87.5 398.6h1.2v1.2h-1.2zM87.1 409.8h1.2v1.2h-1.2zM83.9 404.3h1.2v1.2h-1.2zM86.9 406.1h1.2v1.2h-1.2zM89.4 404.7h1.2v1.2h-1.2zM89.1 398.8h1.2v1.2h-1.2zM84.9 395.8h1.2v1.2h-1.2zM87.9 395.5h1.2v1.2h-1.2zM86.7 403h1.2v1.2h-1.2zM92.4 403.9h1.2v1.2h-1.2zM88.4 403.6h1.2v1.2h-1.2zM88.2 409.4h1.2v1.2h-1.2zM86 394.3h1.2v1.2h-1.2zM84.6 400.5h1.2v1.2h-1.2zM85.2 403h1.2v1.2h-1.2zM90.6 400.8h1.2v1.2h-1.2zM89.2 407.9h1.2v1.2h-1.2zM86.3 398.2h1.2v1.2h-1.2zM82.4 399.2h1.2v1.2h-1.2zM86.6 401.7h1.2v1.2h-1.2zM84.8 396.1h1.2v1.2h-1.2zM91.4 398.8h1.2v1.2h-1.2zM87.2 410.6h1.2v1.2h-1.2zM91.4 404.9h1.2v1.2h-1.2zM91.3 402.2h1.2v1.2h-1.2zM89 401.5h1.2v1.2h-1.2zM86.7 407.3h1.2v1.2h-1.2zM87.8 398.5h1.2v1.2h-1.2zM83.8 400.2h1.2v1.2h-1.2zM88.4 397.8h1.2v1.2h-1.2zM87.3 396.5h1.2v1.2h-1.2zM94.6 399.9h1.2v1.2h-1.2zM92 407.9h1.2v1.2h-1.2zM87.3 403.8h1.2v1.2h-1.2zM87.9 405.2h1.2v1.2h-1.2zM90.1 399.2h1.2v1.2h-1.2zM86 404.2h1.2v1.2h-1.2zM87 403.1h1.2v1.2h-1.2zM88.7 401.3h1.2v1.2h-1.2zM90.7 407.9h1.2v1.2h-1.2zM90.2 396.8h1.2v1.2h-1.2zM88.3 407.3h1.2v1.2h-1.2zM88.1 409.9h1.2v1.2h-1.2zM94.5 403.8h1.2v1.2h-1.2zM84.1 395.3h1.2v1.2h-1.2zM85.6 400.6h1.2v1.2h-1.2zM88.4 395.7h1.2v1.2h-1.2zM82.7 400.4h1.2v1.2h-1.2zM90.6 402.5h1.2v1.2h-1.2zM85.1 405.5h1.2v1.2h-1.2zM91.9 410.3h1.2v1.2h-1.2zM85 399.4h1.2v1.2h-1.2zM82.1 394.7h1.2v1.2h-1.2zM88.6 407.8h1.2v1.2h-1.2zM93.3 396h1.2v1.2h-1.2zM86.6 398.5h1.2v1.2h-1.2zM89.4 400.7h1.2v1.2h-1.2zM90.2 395.4h1.2v1.2h-1.2zM91 405.2h1.2v1.2h-1.2zM90.8 406.3h1.2v1.2h-1.2zM90.9 407.9h1.2v1.2h-1.2zM85.3 403.9h1.2v1.2h-1.2zM83.5 395.9h1.2v1.2h-1.2zM87 397.7h1.2v1.2h-1.2zM90.6 403.4h1.2v1.2h-1.2zM88.9 398.5h1.2v1.2h-1.2zM88 396.1h1.2v1.2h-1.2zM87.3 399.1h1.2v1.2h-1.2zM84.1 404h1.2v1.2h-1.2zM92.5 406.8h1.2v1.2h-1.2zM85.8 404.6h1.2v1.2h-1.2zM89.1 396.4h1.2v1.2h-1.2zM84.1 403h1.2v1.2h-1.2zM86.4 399.7h1.2v1.2h-1.2zM86.5 400.7h1.2v1.2h-1.2zM81.5 401.8h1.2v1.2h-1.2zM82.2 395.7h1.2v1.2h-1.2zM88.2 403.1h1.2v1.2h-1.2zM86.9 397.2h1.2v1.2h-1.2zM88.2 397h1.2v1.2h-1.2zM89.9 406.4h1.2v1.2h-1.2zM90.4 403.4h1.2v1.2h-1.2zM83.9 403.2h1.2v1.2h-1.2zM87.1 410h1.2v1.2h-1.2zM90.1 402.9h1.2v1.2h-1.2zM88.1 399.4h1.2v1.2h-1.2zM91.8 406.5h1.2v1.2h-1.2zM87.1 409.1h1.2v1.2h-1.2zM83.6 400.7h1.2v1.2h-1.2zM87.3 398.3h1.2v1.2h-1.2zM89 406.1h1.2v1.2h-1.2zM90.3 402.8h1.2v1.2h-1.2zM89.8 397h1.2v1.2h-1.2zM89.3 399h1.2v1.2h-1.2zM91.3 401.2h1.2v1.2h-1.2zM87.8 403.2h1.2v1.2h-1.2zM93 398.5h1.2v1.2h-1.2zM85.2 402.6h1.2v1.2h-1.2zM86.8 409.2h1.2v1.2h-1.2zM92.8 398.9h1.2v1.2h-1.2zM86.7 400.6h1.2v1.2h-1.2zM86.4 409.9h1.2v1.2h-1.2zM93.1 398.3h1.2v1.2h-1.2zM89.9 403.1h1.2v1.2h-1.2zM88.3 402.4h1.2v1.2h-1.2zM84.5 395.3h1.2v1.2h-1.2zM90.2 409.1h1.2v1.2h-1.2zM83.6 397.4h1.2v1.2h-1.2zM86 403.8h1.2v1.2h-1.2zM85.6 401.8h1.2v1.2h-1.2zM87.3 402.8h1.2v1.2h-1.2zM85.2 408.6h1.2v1.2h-1.2zM87.8 400.2h1.2v1.2h-1.2zM88.2 409.2h1.2v1.2h-1.2z" fill="#000"/>
<path d="M119.4 411h1.2v1.2h-1.2zM123.4 407.9h1.2v1.2h-1.2zM97.3 413.7h1.2v1.2h-1.2zM87.5 413.4h1.2v1.2h-1.2zM92.5 416h1.2v1.2h-1.2zM102.3 414.3h1.2v1.2h-1.2zM120.8 410.6h1.2v1.2h-1.2zM91.7 416.5h1.2v1.2h-1.2zM112.9 409.2h1.2v1.2h-1.2zM113.2 409.3h1.2v1.2h-1.2zM114.3 412.7h1.2v1.2h-1.2zM122.2 410.1h1.2v1.2h-1.2zM89.8 417h1.2v1.2h-1.2zM114.6 411.1h1.2v1.2h-1.2zM84.5 420.8h1.2v1.2h-1.2zM87.3 411.7h1.2v1.2h-1.2zM108.9 405h1.2v1.2h-1.2zM84.5 415.6h1.2v1.2h-1.2zM122.3 407.3h1.2v1.2h-1.2zM119.5 410.6h1.2v1.2h-1.2zM123.3 408.7h1.2v1.2h-1.2zM124.7 408.2h1.2v1.2h-1.2zM118 410.2h1.2v1.2h-1.2zM102.4 414.4h1.2v1.2h-1.2zM120.2 407.8h1.2v1.2h-1.2zM96.1 411h1.2v1.2h-1.2zM117.7 410.9h1.2v1.2h-1.2zM100.8 413.2h1.2v1.2h-1.2zM117.9 408.9h1.2v1.2h-1.2zM115.3 408.5h1.2v1.2h-1.2zM115.4 412.5h1.2v1.2h-1.2zM102.2 412.9h1.2v1.2h-1.2zM100.9 412h1.2v1.2h-1.2zM91.3 414.8h1.2v1.2h-1.2zM93.5 416.8h1.2v1.2h-1.2zM99.5 414h1.2v1.2h-1.2zM102.6 413.7h1.2v1.2h-1.2zM123 411.6h1.2v1.2h-1.2zM120.5 407.5h1.2v1.2h-1.2zM111.4 409.8h1.2v1.2h-1.2zM112.4 414.7h1.2v1.2h-1.2zM122.9 405.9h1.2v1.2h-1.2zM122.7 407.7h1.2v1.2h-1.2zM118.5 405.9h1.2v1.2h-1.2zM99.9 414.1h1.2v1.2h-1.2zM93.7 416.2h1.2v1.2h-1.2zM111 409.4h1.2v1.2h-1.2zM117.6 408.1h1.2v1.2h-1.2zM118.7 412.2h1.2v1.2h-1.2zM119.2 409.4h1.2v1.2h-1.2zM120.1 408.7h1.2v1.2h-1.2zM122.4 409h1.2v1.2h-1.2zM86.2 419.1h1.2v1.2h-1.2zM103.4 412.7h1.2v1.2h-1.2zM116.7 410.6h1.2v1.2h-1.2zM85.4 415.3h1.2v1.2h-1.2zM117.8 406.7h1.2v1.2h-1.2zM103.9 410.9h1.2v1.2h-1.2zM93.5 416.4h1.2v1.2h-1.2zM99.3 412.8h1.2v1.2h-1.2zM107.6 412.7h1.2v1.2h-1.2zM100.2 411.7h1.2v1.2h-1.2zM85.5 417.7h1.2v1.2h-1.2zM115.4 411.5h1.2v1.2h-1.2zM98.4 411.4h1.2v1.2h-1.2zM107.1 411.1h1.2v1.2h-1.2zM98.2 410.7h1.2v1.2h-1.2zM100.3 412.8h1.2v1.2h-1.2zM95.5 413.2h1.2v1.2h-1.2zM97.7 410.3h1.2v1.2h-1.2zM92.6 415.7h1.2v1.2h-1.2zM118.6 411.1h1.2v1.2h-1.2zM90.2 415.7h1.2v1.2h-1.2zM95.8 418.4h1.2v1.2h-1.2zM102.9 413.2h1.2v1.2h-1.2zM99.5 414.3h1.2v1.2h-1.2zM119.3 407.6h1.2v1.2h-1.2zM98.4 413h1.2v1.2h-1.2zM101 411.3h1.2v1.2h-1.2zM116.4 405.4h1.2v1.2h-1.2zM90.8 414.9h1.2v1.2h-1.2zM94.4 413.3h1.2v1.2h-1.2zM105 408.7h1.2v1.2h-1.2zM117 407.1h1.2v1.2h-1.2zM110.7 414.2h1.2v1.2h-1.2zM119.3 407.7h1.2v1.2h-1.2zM121.3 410.8h1.2v1.2h-1.2zM85.8 414.7h1.2v1.2h-1.2zM104.4 411.1h1.2v1.2h-1.2zM86.1 412.8h1.2v1.2h-1.2zM105.7 414.6h1.2v1.2h-1.2zM123.5 407.2h1.2v1.2h-1.2zM110.6 411.7h1.2v1.2h-1.2zM116.2 411.4h1.2v1.2h-1.2zM106 411h1.2v1.2h-1.2zM94.6 411.7h1.2v1.2h-1.2zM86.9 414.6h1.2v1.2h-1.2zM102.9 412.4h1.2v1.2h-1.2zM99 414.9h1.2v1.2h-1.2zM86.5 418.3h1.2v1.2h-1.2zM106.5 410.5h1.2v1.2h-1.2zM99.3 415.3h1.2v1.2h-1.2zM94.7 412.3h1.2v1.2h-1.2zM123.6 408.1h1.2v1.2h-1.2zM94.9 416.9h1.2v1.2h-1.2zM114.3 407.3h1.2v1.2h-1.2zM102.6 409.8h1.2v1.2h-1.2zM117.1 411.8h1.2v1.2h-1.2zM118.5 409.8h1.2v1.2h-1.2zM121.6 410.2h1.2v1.2h-1.2zM95.1 412.5h1.2v1.2h-1.2zM122 411h1.2v1.2h-1.2zM122.6 405.8h1.2v1.2h-1.2zM111.3 411.1h1.2v1.2h-1.2zM90.2 414.9h1.2v1.2h-1.2zM92.6 416.6h1.2v1.2h-1.2zM119.2 407.6h1.2v1.2h-1.2zM106.2 408.5h1.2v1.2h-1.2zM85.4 416.8h1.2v1.2h-1.2zM106.5 411h1.2v1.2h-1.2zM110.1 412.7h1.2v1.2h-1.2zM99.3 411.8h1.2v1.2h-1.2zM85.8 415.5h1.2v1.2h-1.2zM116.3 406.6h1.2v1.2h-1.2zM89.8 414.8h1.2v1.2h-1.2zM117.6 410.5h1.2v1.2h-1.2zM105.6 411.7h1.2v1.2h-1.2zM97.8 415.8h1.2v1.2h-1.2zM91.2 412.6h1.2v1.2h-1.2zM89.1 417.9h1.2v1.2h-1.2zM114.5 408.4h1.2v1.2h-1.2zM95.1 413.7h1.2v1.2h-1.2zM107.5 413.2h1.2v1.2h-1.2zM101.7 414.7h1.2v1.2h-1.2zM115.3 410.1h1.2v1.2h-1.2zM103.7 411.8h1.2v1.2h-1.2zM106.8 412.2h1.2v1.2h-1.2zM86.9 413h1.2v1.2h-1.2zM101.2 408.9h1.2v1.2h-1.2zM123.9 409h1.2v1.2h-1.2zM100.1 412.7h1.2v1.2h-1.2zM110.3 410.2h1.2v1.2h-1.2zM117.2 410.7h1.2v1.2h-1.2zM98.5 417.3h1.2v1.2h-1.2zM96.7 415.9h1.2v1.2h-1.2zM112.6 409.2h1.2v1.2h-1.2zM123 406.7h1.2v1.2h-1.2zM111.7 406.9h1.2v1.2h-1.2zM103.2 412.4h1.2v1.2h-1.2zM84.3 411.6h1.2v1.2h-1.2zM114.9 409.1h1.2v1.2h-1.2zM116.9 410.2h1.2v1.2h-1.2zM96.9 413.5h1.2v1.2h-1.2zM104.2 410.9h1.2v1.2h-1.2zM117 409.1h1.2v1.2h-1.2zM113.4 410.5h1.2v1.2h-1.2zM108.3 410.3h1.2v1.2h-1.2zM118.1 410.8h1.2v1.2h-1.2zM119 409h1.2v1.2h-1.2zM99.5 413.3h1.2v1.2h-1.2zM109.4 412.1h1.2v1.2h-1.2zM91.5 418.5h1.2v1.2h-1.2zM121.2 407.5h1.2v1.2h-1.2zM108.6 411h1.2v1.2h-1.2zM123.3 408.9h1.2v1.2h-1.2zM114.9 408.7h1.2v1.2h-1.2zM108 409.2h1.2v1.2h-1.2zM117.7 406.9h1.2v1.2h-1.2zM109.4 411.8h1.2v1.2h-1.2zM98 414.1h1.2v1.2h-1.2zM107.6 410.4h1.2v1.2h-1.2zM92.9 416h1.2v1.2h-1.2zM108.4 409.2h1.2v1.2h-1.2zM103.4 411.7h1.2v1.2h-1.2zM122.5 406h1.2v1.2h-1.2zM120.8 409.2h1.2v1.2h-1.2zM95.1 414.8h1.2v1.2h-1.2zM101.5 414.1h1.2v1.2h-1.2zM113.5 406.2h1.2v1.2h-1.2zM120.9 410.4h1.2v1.2h-1.2zM121.9 409.3h1.2v1.2h-1.2zM102.6 413.9h1.2v1.2h-1.2zM89.3 418.8h1.2v1.2h-1.2zM106.6 409.7h1.2v1.2h-1.2zM98.9 414.6h1.2v1.2h-1.2zM95.1 415.1h1.2v1.2h-1.2zM121.6 409.7h1.2v1.2h-1.2zM84 415.8h1.2v1.2h-1.2zM94.3 413.1h1.2v1.2h-1.2zM106.5 411.7h1.2v1.2h-1.2zM120.6 409.6h1.2v1.2h-1.2zM94.5 416.3h1.2v1.2h-1.2zM87.5 415.5h1.2v1.2h-1.2zM106.7 411.5h1.2v1.2h-1.2zM117.3 408.1h1.2v1.2h-1.2zM89 419.2h1.2v1.2h-1.2zM88.1 414.6h1.2v1.2h-1.2zM94.5 414.6h1.2v1.2h-1.2zM122.6 408.4h1.2v1.2h-1.2zM95.7 418h1.2v1.2h-1.2zM106.8 414.6h1.2v1.2h-1.2zM120.3 408.1h1.2v1.2h-1.2zM86.7 419h1.2v1.2h-1.2zM102.8 415.8h1.2v1.2h-1.2zM97.7 413.8h1.2v1.2h-1.2zM112.6 410.5h1.2v1.2h-1.2zM100 412.8h1.2v1.2h-1.2zM100.3 411.7h1.2v1.2h-1.2zM91.3 414.4h1.2v1.2h-1.2zM97.1 417h1.2v1.2h-1.2zM105.2 411.2h1.2v1.2h-1.2zM119.9 409.3h1.2v1.2h-1.2zM95.6 418.8h1.2v1.2h-1.2zM97.2 411h1.2v1.2h-1.2zM97.5 413.6h1.2v1.2h-1.2zM103.4 416h1.2v1.2h-1.2zM96.8 415.2h1.2v1.2h-1.2zM90 414.1h1.2v1.2h-1.2zM113 409.5h1.2v1.2h-1.2zM92.4 413.4h1.2v1.2h-1.2zM111.6 412.5h1.2v1.2h-1.2zM107.6 409h1.2v1.2h-1.2zM86.7 418.6h1.2v1.2h-1.2zM103.3 413.4h1.2v1.2h-1.2zM100.9 412.9h1.2v1.2h-1.2zM117.8 410.7h1.2v1.2h-1.2zM111.8 410.4h1.2v1.2h-1.2zM91.2 414.6h1.2v1.2h-1.2zM121.4 409.6h1.2v1.2h-1.2zM120.8 407.9h1.2v1.2h-1.2zM100.3 410.3h1.2v1.2h-1.2zM92.2 413.1h1.2v1.2h-1.2zM107.2 411.5h1.2v1.2h-1.2zM95.9 416.1h1.2v1.2h-1.2zM110.9 411.5h1.2v1.2h-1.2zM91.9 415.3h1.2v1.2h-1.2zM92.3 412.7h1.2v1.2h-1.2zM101 412h1.2v1.2h-1.2zM99 412.5h1.2v1.2h-1.2zM88.7 415.3h1.2v1.2h-1.2zM109.3 414.2h1.2v1.2h-1.2zM119 410.3h1.2v1.2h-1.2zM83.8 416.9h1.2v1.2h-1.2zM113 411.6h1.2v1.2h-1.2zM106.8 411h1.2v1.2h-1.2zM83.1 418.3h1.2v1.2h-1.2zM92 416.4h1.2v1.2h-1.2zM116.6 411h1.2v1.2h-1.2zM102.8 413.1h1.2v1.2h-1.2zM94.8 412.6h1.2v1.2h-1.2zM115.5 412h1.2v1.2h-1.2zM86.3 413.8h1.2v1.2h-1.2zM85.6 416.2h1.2v1.2h-1.2zM114.2 410.4h1.2v1.2h-1.2zM120.2 408.5h1.2v1.2h-1.2zM112 410.1h1.2v1.2h-1.2zM94 415.3h1.2v1.2h-1.2zM98 413h1.2v1.2h-1.2zM112.6 411.1h1.2v1.2h-1.2zM97.1 412h1.2v1.2h-1.2zM118.7 405h1.2v1.2h-1.2zM107 409.4h1.2v1.2h-1.2zM93 412.7h1.2v1.2h-1.2zM116.2 408.2h1.2v1.2h-1.2zM123.4 409h1.2v1.2h-1.2zM100.4 415.3h1.2v1.2h-1.2zM102 413.4h1.2v1.2h-1.2zM117.9 411.4h1.2v1.2h-1.2zM121.5 407.5h1.2v1.2h-1.2zM93.9 415h1.2v1.2h-1.2zM121.6 407.8h1.2v1.2h-1.2zM113.7 410h1.2v1.2h-1.2zM83.2 415h1.2v1.2h-1.2zM121.8 410h1.2v1.2h-1.2zM99.4 411.7h1.2v1.2h-1.2zM98.4 411h1.2v1.2h-1.2zM85.5 415.5h1.2v1.2h-1.2zM97.2 412.7h1.2v1.2h-1.2zM100.3 412.5h1.2v1.2h-1.2zM122.9 409.5h1.2v1.2h-1.2zM113.9 409.3h1.2v1.2h-1.2zM96.7 413.4h1.2v1.2h-1.2zM117.3 410.3h1.2v1.2h-1.2zM113.4 410.5h1.2v1.2h-1.2zM119.1 406.8h1.2v1.2h-1.2zM100.3 412.5h1.2v1.2h-1.2zM100.2 411.6h1.2v1.2h-1.2zM93.6 413.7h1.2v1.2h-1.2zM96 416.7h1.2v1.2h-1.2zM92.6 414.1h1.2v1.2h-1.2zM106.7 410.1h1.2v1.2h-1.2zM106.3 412.1h1.2v1.2h-1.2zM91.7 416.3h1.2v1.2h-1.2zM105.4 413.2h1.2v1.2h-1.2zM114.1 409h1.2v1.2h-1.2zM114.5 409.5h1.2v1.2h-1.2zM104.1 411.5h1.2v1.2h-1.2zM123.6 406.8h1.2v1.2h-1.2zM90.5 416h1.2v1.2h-1.2zM86.2 413.1h1.2v1.2h-1.2zM119.9 408.7h1.2v1.2h-1.2zM115.6 410.9h1.2v1.2h-1.2zM93.4 416.9h1.2v1.2h-1.2zM87 416h1.2v1.2h-1.2zM110.7 406.9h1.2v1.2h-1.2zM118.8 408.8h1.2v1.2h-1.2zM106.2 409h1.2v1.2h-1.2zM93 416.5h1.2v1.2h-1.2zM102.2 414.5h1.2v1.2h-1.2zM116.6 413.2h1.2v1.2h-1.2zM123.2 405.5h1.2v1.2h-1.2zM118.8 408.5h1.2v1.2h-1.2zM120.9 409h1.2v1.2h-1.2zM116.9 410.8h1.2v1.2h-1.2zM109 411.1h1.2v1.2h-1.2zM108 409.4h1.2v1.2h-1.2zM92.2 415.4h1.2v1.2h-1.2zM108.1 412.6h1.2v1.2h-1.2zM106.3 409.7h1.2v1.2h-1.2zM89.9 413.1h1.2v1.2h-1.2zM93.5 418.6h1.2v1.2h-1.2zM122.9 408.2h1.2v1.2h-1.2zM113.4 411.6h1.2v1.2h-1.2zM97.4 414.6h1.2v1.2h-1.2zM108.8 410.7h1.2v1.2h-1.2zM117 406.9h1.2v1.2h-1.2zM82.3 412.1h1.2v1.2h-1.2zM104.8 411.3h1.2v1.2h-1.2zM122.2 409.6h1.2v1.2h-1.2zM91.7 418.9h1.2v1.2h-1.2zM93.6 414.2h1.2v1.2h-1.2zM109.6 410.7h1.2v1.2h-1.2zM117.9 407.4h1.2v1.2h-1.2zM100.7 412.5h1.2v1.2h-1.2zM85.4 418h1.2v1.2h-1.2zM100.4 414.7h1.2v1.2h-1.2zM88.1 417.2h1.2v1.2h-1.2zM111.9 410.3h1.2v1.2h-1.2zM93.8 414.7h1.2v1.2h-1.2zM111.4 410.4h1.2v1.2h-1.2zM113.3 410.7h1.2v1.2h-1.2zM103.5 413.1h1.2v1.2h-1.2zM115.8 411.1h1.2v1.2h-1.2zM90.4 417.9h1.2v1.2h-1.2zM95.1 416.9h1.2v1.2h-1.2zM112.9 411.6h1.2v1.2h-1.2zM110.3 408.2h1.2v1.2h-1.2zM96.5 412.9h1.2v1.2h-1.2zM108.2 410.5h1.2v1.2h-1.2zM101.9 415.4h1.2v1.2h-1.2zM84.6 416.6h1.2v1.2h-1.2zM118.1 407.7h1.2v1.2h-1.2zM97.5 416.2h1.2v1.2h-1.2zM108.2 408.7h1.2v1.2h-1.2zM110.3 408.6h1.2v1.2h-1.2zM116.8 410.7h1.2v1.2h-1.2zM123.2 407.8h1.2v1.2h-1.2zM114.4 410.7h1.2v1.2h-1.2zM97.8 411.4h1.2v1.2h-1.2zM102.3 412.6h1.2v1.2h-1.2zM122.3 406.2h1.2v1.2h-1.2zM111.3 411.6h1.2v1.2h-1.2zM101.5 413.1h1.2v1.2h-1.2zM115.7 408.8h1.2v1.2h-1.2zM105.4 410.5h1.2v1.2h-1.2zM103.8 412.5h1.2v1.2h-1.2zM108 405.6h1.2v1.2h-1.2zM96.5 416.3h1.2v1.2h-1.2zM113.9 410.3h1.2v1.2h-1.2zM92.7 416.2h1.2v1.2h-1.2zM97.1 412.8h1.2v1.2h-1.2zM83.6 418.5h1.2v1.2h-1.2zM99.3 410.7h1.2v1.2h-1.2zM94.9 412.9h1.2v1.2h-1.2zM97.8 414h1.2v1.2h-1.2zM123.7 408.7h1.2v1.2h-1.2zM113.8 409.1h1.2v1.2h-1.2zM119.6 409.6h1.2v1.2h-1.2zM111.2 410.9h1.2v1.2h-1.2zM93.4 412.6h1.2v1.2h-1.2zM84.6 417.7h1.2v1.2h-1.2zM97.6 414h1.2v1.2h-1.2zM120.8 411.2h1.2v1.2h-1.2zM102.8 411.8h1.2v1.2h-1.2zM120.1 411.3h1.2v1.2h-1.2zM121.4 408.2h1.2v1.2h-1.2zM105.8 414.5h1.2v1.2h-1.2zM117.7 408.3h1.2v1.2h-1.2zM106.2 411.9h1.2v1.2h-1.2zM122.7 410.3h1.2v1.2h-1.2zM114.3 408.9h1.2v1.2h-1.2zM122.2 412.4h1.2v1.2h-1.2zM92.4 415.2h1.2v1.2h-1.2zM101.9 412.6h1.2v1.2h-1.2zM121.8 408.6h1.2v1.2h-1.2zM117.5 410h1.2v1.2h-1.2zM85.4 416.9h1.2v1.2h-1.2zM113.8 412.1h1.2v1.2h-1.2zM102.4 413.9h1.2v1.2h-1.2zM124.2 412.1h1.2v1.2h-1.2zM99 414.6h1.2v1.2h-1.2zM107.5 407.9h1.2v1.2h-1.2zM103.5 413.2h1.2v1.2h-1.2zM99.3 414.4h1.2v1.2h-1.2zM122 408.4h1.2v1.2h-1.2zM121 411.3h1.2v1.2h-1.2zM121.5 408.8h1.2v1.2h-1.2zM112.1 410.1h1.2v1.2h-1.2zM121.7 407.8h1.2v1.2h-1.2zM102.8 415.9h1.2v1.2h-1.2zM103.5 413.3h1.2v1.2h-1.2zM103.8 410.9h1.2v1.2h-1.2zM114.1 410.1h1.2v1.2h-1.2zM119.8 407.4h1.2v1.2h-1.2zM117.2 410.6h1.2v1.2h-1.2zM105.6 413.5h1.2v1.2h-1.2zM103 409.4h1.2v1.2h-1.2zM102 413.7h1.2v1.2h-1.2zM91.3 415.1h1.2v1.2h-1.2zM104.2 412.3h1.2v1.2h-1.2zM122.6 409.6h1.2v1.2h-1.2zM107.6 406.7h1.2v1.2h-1.2zM123.9 410.3h1.2v1.2h-1.2zM112.1 411.7h1.2v1.2h-1.2zM105.4 410.5h1.2v1.2h-1.2zM108.1 407.8h1.2v1.2h-1.2zM104.6 410.1h1.2v1.2h-1.2zM82.5 417.4h1.2v1.2h-1.2zM119.5 410.9h1.2v1.2h-1.2zM95.9 413.1h1.2v1.2h-1.2zM106.9 408.9h1.2v1.2h-1.2zM90 417.8h1.2v1.2h-1.2z" fill="#000"/>
<path d="M89.4 455.8h1.2v1.2h-1.2zM89.7 449.2h1.2v1.2h-1.2zM86 432.6h1.2v1.2h-1.2zM90.3 425.1h1.2v1.2h-1.2zM88.5 449.3h1.2v1.2h-1.2zM88.6 435.7h1.2v1.2h-1.2zM85.8 448.5h1.2v1.2h-1.2zM85 423.1h1.2v1.2h-1.2zM85.6 435.6h1.2v1.2h-1.2zM89.6 440.5h1.2v1.2h-1.2zM83 424.9h1.2v1.2h-1.2zM89.5 446.4h1.2v1.2h-1.2zM84.7 438.2h1.2v1.2h-1.2zM88.5 443.8h1.2v1.2h-1.2zM92.1 439.9h1.2v1.2h-1.2zM89.6 429.7h1.2v1.2h-1.2zM91.2 454.2h1.2v1.2h-1.2zM91.6 454.6h1.2v1.2h-1.2zM93.1 434.2h1.2v1.2h-1.2zM91.2 450.6h1.2v1.2h-1.2zM90.7 449.3h1.2v1.2h-1.2zM89.4 449.9h1.2v1.2h-1.2zM94.2 452.9h1.2v1.2h-1.2zM91.8 447.4h1.2v1.2h-1.2zM85.6 445.7h1.2v1.2h-1.2zM91.2 437.6h1.2v1.2h-1.2zM93.5 439.6h1.2v1.2h-1.2zM89.3 425.7h1.2v1.2h-1.2zM91.3 447.4h1.2v1.2h-1.2zM94.1 453.3h1.2v1.2h-1.2zM90.9 454.1h1.2v1.2h-1.2zM92.2 430h1.2v1.2h-1.2zM92.7 425.2h1.2v1.2h-1.2zM91.2 427.1h1.2v1.2h-1.2zM87.9 428.9h1.2v1.2h-1.2zM87 448.8h1.2v1.2h-1.2zM90.3 430h1.2v1.2h-1.2zM90.4 443.8h1.2v1.2h-1.2zM93.1 435.6h1.2v1.2h-1.2zM91.9 435.9h1.2v1.2h-1.2zM91.2 424.6h1.2v1.2h-1.2zM91.1 444.7h1.2v1.2h-1.2zM91.2 445.2h1.2v1.2h-1.2zM84.8 423.6h1.2v1.2h-1.2zM85.3 427.3h1.2v1.2h-1.2zM86.7 436.9h1.2v1.2h-1.2zM91.1 438.5h1.2v1.2h-1.2zM88.2 422.2h1.2v1.2h-1.2zM93.9 439.1h1.2v1.2h-1.2zM89.3 439.8h1.2v1.2h-1.2zM91 449.9h1.2v1.2h-1.2zM90.3 434h1.2v1.2h-1.2zM91.9 442.7h1.2v1.2h-1.2zM85.1 433h1.2v1.2h-1.2zM90.8 446.6h1.2v1.2h-1.2zM93.9 444.1h1.2v1.2h-1.2zM85.7 430.4h1.2v1.2h-1.2zM93.5 446.5h1.2v1.2h-1.2zM92.1 427.2h1.2v1.2h-1.2zM94.5 454.8h1.2v1.2h-1.2zM90.1 426.5h1.2v1.2h-1.2zM91.8 447.5h1.2v1.2h-1.2zM95.8 453.7h1.2v1.2h-1.2zM93.5 451.7h1.2v1.2h-1.2zM92.2 444.3h1.2v1.2h-1.2zM87.3 420.8h1.2v1.2h-1.2zM95.1 444.8h1.2v1.2h-1.2zM90.3 433.9h1.2v1.2h-1.2zM93.9 450.6h1.2v1.2h-1.2zM92.4 442.5h1.2v1.2h-1.2zM92.7 423.2h1.2v1.2h-1.2zM90.6 432.6h1.2v1.2h-1.2zM89.7 445.4h1.2v1.2h-1.2zM90 441.8h1.2v1.2h-1.2zM86.7 426.6h1.2v1.2h-1.2zM91 426.8h1.2v1.2h-1.2zM92.4 444.9h1.2v1.2h-1.2zM86.2 439.2h1.2v1.2h-1.2zM91.2 438.2h1.2v1.2h-1.2zM93.6 444.4h1.2v1.2h-1.2zM90.4 425.3h1.2v1.2h-1.2zM88.3 438.9h1.2v1.2h-1.2zM87.2 437.9h1.2v1.2h-1.2zM94.4 453.1h1.2v1.2h-1.2zM88 435.4h1.2v1.2h-1.2zM91.7 444.1h1.2v1.2h-1.2zM91.3 427.5h1.2v1.2h-1.2zM95.1 435.9h1.2v1.2h-1.2zM92.2 445.6h1.2v1.2h-1.2zM91.6 449.1h1.2v1.2h-1.2zM91.6 448.4h1.2v1.2h-1.2zM94 452.9h1.2v1.2h-1.2zM85.3 425.8h1.2v1.2h-1.2zM93.3 444.7h1.2v1.2h-1.2zM87.5 432.4h1.2v1.2h-1.2zM88.9 425.9h1.2v1.2h-1.2zM90.5 444.5h1.2v1.2h-1.2zM90.2 435.5h1.2v1.2h-1.2zM88.9 441.5h1.2v1.2h-1.2zM86.8 448.6h1.2v1.2h-1.2zM91.7 446.8h1.2v1.2h-1.2zM97.8 444.7h1.2v1.2h-1.2zM91.6 437h1.2v1.2h-1.2zM90.3 426.9h1.2v1.2h-1.2zM90.1 439.6h1.2v1.2h-1.2zM92.1 449.8h1.2v1.2h-1.2zM88.1 423.2h1.2v1.2h-1.2zM90 455h1.2v1.2h-1.2zM92.3 450.8h1.2v1.2h-1.2zM82.1 431.6h1.2v1.2h-1.2zM89.5 435.2h1.2v1.2h-1.2zM95.5 451.3h1.2v1.2h-1.2zM89 432.8h1.2v1.2h-1.2zM90.5 435.8h1.2v1.2h-1.2zM86.5 423.2h1.2v1.2h-1.2zM86.7 428.3h1.2v1.2h-1.2zM88.4 441h1.2v1.2h-1.2zM88.3 453h1.2v1.2h-1.2zM90.6 433.4h1.2v1.2h-1.2zM93.6 442.7h1.2v1.2h-1.2zM88 424.3h1.2v1.2h-1.2zM91 439.5h1.2v1.2h-1.2zM92.1 437.9h1.2v1.2h-1.2zM92.7 432.7h1.2v1.2h-1.2zM91.7 446.1h1.2v1.2h-1.2zM92 432.7h1.2v1.2h-1.2zM91.9 451.1h1.2v1.2h-1.2zM90.9 442.9h1.2v1.2h-1.2zM90.4 434.3h1.2v1.2h-1.2zM90.1 453.7h1.2v1.2h-1.2zM85.9 440h1.2v1.2h-1.2zM87.8 430.6h1.2v1.2h-1.2zM91.2 438h1.2v1.2h-1.2zM91.8 451.2h1.2v1.2h-1.2zM91.9 435h1.2v1.2h-1.2zM89.5 449.6h1.2v1.2h-1.2zM87.7 446.1h1.2v1.2h-1.2zM87.9 433.5h1.2v1.2h-1.2zM89.8 447.2h1.2v1.2h-1.2zM89.2 439.3h1.2v1.2h-1.2zM86.2 440.6h1.2v1.2h-1.2zM91.3 454.7h1.2v1.2h-1.2zM91.3 442h1.2v1.2h-1.2zM87.6 440.9h1.2v1.2h-1.2zM91 428.9h1.2v1.2h-1.2zM87.9 436.3h1.2v1.2h-1.2zM88.9 441.7h1.2v1.2h-1.2zM90.9 437.4h1.2v1.2h-1.2zM90.5 428.1h1.2v1.2h-1.2zM94 440.7h1.2v1.2h-1.2zM90.9 427.7h1.2v1.2h-1.2zM86.2 427.4h1.2v1.2h-1.2zM92.7 438.2h1.2v1.2h-1.2zM81.6 425.1h1.2v1.2h-1.2zM86.8 431.8h1.2v1.2h-1.2zM89.9 424.2h1.2v1.2h-1.2zM90.4 454.5h1.2v1.2h-1.2zM85.5 427.2h1.2v1.2h-1.2zM87.5 450h1.2v1.2h-1.2zM89.3 427.3h1.2v1.2h-1.2zM89.4 430.3h1.2v1.2h-1.2zM88.9 447.5h1.2v1.2h-1.2zM89.3 443.9h1.2v1.2h-1.2zM84.9 426.4h1.2v1.2h-1.2zM90.3 444.7h1.2v1.2h-1.2zM91.2 454.6h1.2v1.2h-1.2zM92.1 436.9h1.2v1.2h-1.2zM90.7 430.9h1.2v1.2h-1.2zM87.7 424.4h1.2v1.2h-1.2zM88.5 435.9h1.2v1.2h-1.2zM89.8 439.4h1.2v1.2h-1.2zM88.4 442.1h1.2v1.2h-1.2zM93.2 452.9h1.2v1.2h-1.2zM90.1 451.7h1.2v1.2h-1.2zM90.3 431.4h1.2v1.2h-1.2zM92.2 452.1h1.2v1.2h-1.2zM93.8 450.1h1.2v1.2h-1.2zM89.6 440.8h1.2v1.2h-1.2zM90.9 453.2h1.2v1.2h-1.2zM86.6 421.9h1.2v1.2h-1.2zM91 451.2h1.2v1.2h-1.2zM92.6 447.5h1.2v1.2h-1.2zM92.5 449.5h1.2v1.2h-1.2zM90.9 440.9h1.2v1.2h-1.2zM91.4 438.9h1.2v1.2h-1.2zM93.6 451.9h1.2v1.2h-1.2zM96.1 432.3h1.2v1.2h-1.2zM91.5 434.5h1.2v1.2h-1.2zM91.2 436.7h1.2v1.2h-1.2zM89.7 453.9h1.2v1.2h-1.2zM93.8 450h1.2v1.2h-1.2zM85 430.9h1.2v1.2h-1.2zM94.3 444.3h1.2v1.2h-1.2zM91.6 453.3h1.2v1.2h-1.2zM86 444.1h1.2v1.2h-1.2zM90.3 450.3h1.2v1.2h-1.2zM86.1 437h1.2v1.2h-1.2zM87 426.2h1.2v1.2h-1.2zM84.2 426.9h1.2v1.2h-1.2zM91.5 444.4h1.2v1.2h-1.2zM88.4 429h1.2v1.2h-1.2zM89.2 425.6h1.2v1.2h-1.2zM91.4 423.7h1.2v1.2h-1.2zM86.9 432.6h1.2v1.2h-1.2zM91.5 449.1h1.2v1.2h-1.2zM87.1 433.1h1.2v1.2h-1.2zM91 424.6h1.2v1.2h-1.2zM86.5 428.8h1.2v1.2h-1.2zM94.7 440.3h1.2v1.2h-1.2zM88.9 443.2h1.2v1.2h-1.2zM90.1 432.2h1.2v1.2h-1.2zM91.8 430.9h1.2v1.2h-1.2zM88.3 430.8h1.2v1.2h-1.2zM94.3 451.9h1.2v1.2h-1.2zM88.5 441.7h1.2v1.2h-1.2zM95 449.7h1.2v1.2h-1.2zM92 448.6h1.2v1.2h-1.2zM88.6 437.6h1.2v1.2h-1.2zM92.4 453.7h1.2v1.2h-1.2zM93.9 444.4h1.2v1.2h-1.2zM91.6 425.7h1.2v1.2h-1.2zM93.3 440.6h1.2v1.2h-1.2zM91.5 454.8h1.2v1.2h-1.2zM88.9 433.7h1.2v1.2h-1.2zM90.9 446.7h1.2v1.2h-1.2zM88.2 428.8h1.2v1.2h-1.2zM90.3 455.2h1.2v1.2h-1.2zM89.5 440h1.2v1.2h-1.2zM92.4 444.1h1.2v1.2h-1.2zM91.5 445.3h1.2v1.2h-1.2zM90.6 421.3h1.2v1.2h-1.2zM92.6 444.6h1.2v1.2h-1.2zM89.6 423.5h1.2v1.2h-1.2zM88.7 431h1.2v1.2h-1.2zM89.3 451h1.2v1.2h-1.2zM89.9 453.9h1.2v1.2h-1.2zM91.7 442.6h1.2v1.2h-1.2zM86.7 438.3h1.2v1.2h-1.2zM91.6 452.5h1.2v1.2h-1.2zM87.2 434.7h1.2v1.2h-1.2zM92.4 438.1h1.2v1.2h-1.2zM91.3 434.5h1.2v1.2h-1.2zM89.6 441.9h1.2v1.2h-1.2zM92.9 442.2h1.2v1.2h-1.2zM95.5 440.2h1.2v1.2h-1.2zM91.4 431.5h1.2v1.2h-1.2zM91.3 442.3h1.2v1.2h-1.2zM90 423.9h1.2v1.2h-1.2zM90.3 442.2h1.2v1.2h-1.2zM89.2 433.3h1.2v1.2h-1.2zM88.6 451.9h1.2v1.2h-1.2zM94.6 452.5h1.2v1.2h-1.2zM88.9 425.9h1.2v1.2h-1.2zM90 441h1.2v1.2h-1.2zM87.2 434.8h1.2v1.2h-1.2zM91.3 448h1.2v1.2h-1.2zM91.1 439.9h1.2v1.2h-1.2zM86.6 423.3h1.2v1.2h-1.2zM93.8 443.6h1.2v1.2h-1.2zM87.2 426.5h1.2v1.2h-1.2zM87 427.4h1.2v1.2h-1.2zM86.3 436.8h1.2v1.2h-1.2zM92.8 441.2h1.2v1.2h-1.2zM90.2 455.2h1.2v1.2h-1.2zM91.5 446.9h1.2v1.2h-1.2zM88 448.8h1.2v1.2h-1.2zM87.4 427.6h1.2v1.2h-1.2zM89.3 421.5h1.2v1.2h-1.2zM91.9 447.6h1.2v1.2h-1.2zM91.1 422.1h1.2v1.2h-1.2zM89.1 432.9h1.2v1.2h-1.2zM91.2 436.1h1.2v1.2h-1.2zM88.4 444.3h1.2v1.2h-1.2zM91 446.9h1.2v1.2h-1.2zM90.3 443.6h1.2v1.2h-1.2zM92.2 454.9h1.2v1.2h-1.2zM92.8 446.7h1.2v1.2h-1.2zM86.9 434.8h1.2v1.2h-1.2zM88.4 439.3h1.2v1.2h-1.2zM93.4 453.6h1.2v1.2h-1.2zM85.4 426.2h1.2v1.2h-1.2zM89.8 425.5h1.2v1.2h-1.2zM92.1 452.2h1.2v1.2h-1.2zM92 450h1.2v1.2h-1.2zM91.9 432.9h1.2v1.2h-1.2zM87.2 434.1h1.2v1.2h-1.2zM94.5 452.4h1.2v1.2h-1.2zM89.5 423.2h1.2v1.2h-1.2zM87.9 433.2h1.2v1.2h-1.2zM92.7 450h1.2v1.2h-1.2zM89.8 442.8h1.2v1.2h-1.2zM92.9 433.5h1.2v1.2h-1.2zM90.8 453.7h1.2v1.2h-1.2zM90.2 445.6h1.2v1.2h-1.2zM84.8 425.2h1.2v1.2h-1.2zM93.1 438.4h1.2v1.2h-1.2zM94.7 424.9h1.2v1.2h-1.2zM88.4 422.8h1.2v1.2h-1.2zM89.7 439.9h1.2v1.2h-1.2zM95.4 424h1.2v1.2h-1.2zM90.9 426.7h1.2v1.2h-1.2zM89 434.7h1.2v1.2h-1.2zM89.6 455.5h1.2v1.2h-1.2zM94.5 448.1h1.2v1.2h-1.2zM89.4 440.3h1.2v1.2h-1.2zM89.5 446.4h1.2v1.2h-1.2zM89.3 454.6h1.2v1.2h-1.2zM88.5 447.2h1.2v1.2h-1.2zM92.2 448.3h1.2v1.2h-1.2zM89.9 448.9h1.2v1.2h-1.2zM86.9 429.6h1.2v1.2h-1.2zM82.7 436.9h1.2v1.2h-1.2zM91.2 441.7h1.2v1.2h-1.2zM90.6 422.5h1.2v1.2h-1.2zM87.5 426.1h1.2v1.2h-1.2zM91.7 446.8h1.2v1.2h-1.2zM88.8 452.5h1.2v1.2h-1.2zM91.4 444h1.2v1.2h-1.2zM88.1 440.7h1.2v1.2h-1.2zM85.4 429.1h1.2v1.2h-1.2zM91.7 437.3h1.2v1.2h-1.2zM92.7 441.7h1.2v1.2h-1.2zM89.8 428.1h1.2v1.2h-1.2zM90.9 446.1h1.2v1.2h-1.2zM85 434.3h1.2v1.2h-1.2zM90.5 442.9h1.2v1.2h-1.2zM90.2 452.5h1.2v1.2h-1.2zM89.7 422.9h1.2v1.2h-1.2zM93.1 446.1h1.2v1.2h-1.2zM84.1 431h1.2v1.2h-1.2zM86 440.6h1.2v1.2h-1.2zM89.2 451.3h1.2v1.2h-1.2zM89.4 425.4h1.2v1.2h-1.2zM93.6 425.2h1.2v1.2h-1.2zM88.2 438.7h1.2v1.2h-1.2zM89.7 427.2h1.2v1.2h-1.2zM92.5 433.4h1.2v1.2h-1.2zM94.3 442.3h1.2v1.2h-1.2zM87.5 427.6h1.2v1.2h-1.2zM91.7 437.1h1.2v1.2h-1.2zM89.2 445.6h1.2v1.2h-1.2zM87.1 430.3h1.2v1.2h-1.2z" fill="#000"/>
<path d="M89.5 462.6h1v1h-1zM87.1 464.5h1v1h-1zM89.4 469.8h1v1h-1zM90.3 467.5h1v1h-1zM93.3 464.1h1v1h-1zM92 456.3h1v1h-1zM94.2 469.5h1v1h-1zM94.3 456.2h1v1h-1zM87.9 459.7h1v1h-1zM87.6 458.8h1v1h-1z" fill="#000"/>
<rect x="37.9" y="341.5" width="130.3" height="130.5" fill="none" stroke="#000" stroke-width="1.3"/>
<path d="M81.7 341.5V472M37.9 422.3H168.2" stroke="#000" stroke-width="1.3" fill="none"/>
<path d="M37.9 472v4.5M37.9 472h-4.5M44.2 472v4.2M37.9 465.7h-4.2M47.9 472v4.2M37.9 462h-4.2M50.6 472v4.2M37.9 459.3h-4.2M52.6 472v4.2M37.9 457.3h-4.2M54.3 472v4.2M37.9 455.6h-4.2M55.7 472v4.2M37.9 454.2h-4.2M56.9 472v4.2M37.9 453h-4.2M58 472v4.2M37.9 451.9h-4.2M58.9 472v4.5M37.9 451h-4.5M65.2 472v4.2M37.9 444.6h-4.2M68.9 472v4.2M37.9 440.9h-4.2M71.6 472v4.2M37.9 438.3h-4.2M73.6 472v4.2M37.9 436.2h-4.2M75.3 472v4.2M37.9 434.6h-4.2M76.7 472v4.2M37.9 433.2h-4.2M77.9 472v4.2M37.9 431.9h-4.2M79 472v4.2M37.9 430.9h-4.2M79.9 472v4.5M37.9 429.9h-4.5M86.3 472v4.2M37.9 423.6h-4.2M90 472v4.2M37.9 419.9h-4.2M92.6 472v4.2M37.9 417.2h-4.2M94.6 472v4.2M37.9 415.2h-4.2M96.3 472v4.2M37.9 413.5h-4.2M97.7 472v4.2M37.9 412.1h-4.2M98.9 472v4.2M37.9 410.9h-4.2M100 472v4.2M37.9 409.8h-4.2M100.9 472v4.5M37.9 408.9h-4.5M107.3 472v4.2M37.9 402.5h-4.2M111 472v4.2M37.9 398.8h-4.2M113.6 472v4.2M37.9 396.2h-4.2M115.6 472v4.2M37.9 394.1h-4.2M117.3 472v4.2M37.9 392.5h-4.2M118.7 472v4.2M37.9 391.1h-4.2M119.9 472v4.2M37.9 389.8h-4.2M121 472v4.2M37.9 388.8h-4.2M122 472v4.5M37.9 387.8h-4.5M128.3 472v4.2M37.9 381.5h-4.2M132 472v4.2M37.9 377.8h-4.2M134.6 472v4.2M37.9 375.1h-4.2M136.7 472v4.2M37.9 373.1h-4.2M138.3 472v4.2M37.9 371.4h-4.2M139.7 472v4.2M37.9 370h-4.2M140.9 472v4.2M37.9 368.8h-4.2M142 472v4.2M37.9 367.7h-4.2M143 472v4.5M37.9 366.8h-4.5M149.3 472v4.2M37.9 360.4h-4.2M153 472v4.2M37.9 356.7h-4.2M155.6 472v4.2M37.9 354.1h-4.2M157.7 472v4.2M37.9 352h-4.2M159.3 472v4.2M37.9 350.4h-4.2M160.7 472v4.2M37.9 349h-4.2M162 472v4.2M37.9 347.7h-4.2M163 472v4.2M37.9 346.7h-4.2M164 472v4.5M37.9 345.7h-4.5M168.2 472v4.5M37.9 341.5h-4.5" stroke="#000" stroke-width="1" fill="none"/>
<text x="37.7" y="485" class="tl" text-anchor="middle">ω<tspan class="sup" dy="-1.5">1</tspan></text><text transform="translate(29.6 472.3) rotate(-90)" class="tl" text-anchor="middle">ω<tspan class="sup" dy="-1.5">1</tspan></text><text x="58.7" y="485" class="tl" text-anchor="middle">ω<tspan class="sup" dy="-1.5">2</tspan></text><text transform="translate(29.6 451.3) rotate(-90)" class="tl" text-anchor="middle">ω<tspan class="sup" dy="-1.5">2</tspan></text><text x="79.7" y="485" class="tl" text-anchor="middle">ω<tspan class="sup" dy="-1.5">3</tspan></text><text transform="translate(29.6 430.2) rotate(-90)" class="tl" text-anchor="middle">ω<tspan class="sup" dy="-1.5">3</tspan></text><text x="100.7" y="485" class="tl" text-anchor="middle">ω<tspan class="sup" dy="-1.5">4</tspan></text><text transform="translate(29.6 409.2) rotate(-90)" class="tl" text-anchor="middle">ω<tspan class="sup" dy="-1.5">4</tspan></text><text x="121.8" y="485" class="tl" text-anchor="middle">ω<tspan class="sup" dy="-1.5">5</tspan></text><text transform="translate(29.6 388.1) rotate(-90)" class="tl" text-anchor="middle">ω<tspan class="sup" dy="-1.5">5</tspan></text><text x="142.8" y="485" class="tl" text-anchor="middle">ω<tspan class="sup" dy="-1.5">6</tspan></text><text transform="translate(29.6 367.1) rotate(-90)" class="tl" text-anchor="middle">ω<tspan class="sup" dy="-1.5">6</tspan></text><text x="168" y="485" class="tl" text-anchor="middle">ω<tspan class="sup" dy="-1.5">7.2</tspan></text><text transform="translate(29.6 341.8) rotate(-90)" class="tl" text-anchor="middle">ω<tspan class="sup" dy="-1.5">7.2</tspan></text>
<text x="50.5" y="355.3" class="qn">0.11</text>
<text x="135" y="353.8" class="qn">4.34</text>
<text x="139.1" y="436.9" class="qn">0.46</text>
<polygon points="199,424 210,422.5 220,420.5 230,418 241.5,414.5 241.5,414.5 241.5,440 240.5,471.7 199,471.7" fill="#000"/>
<path d="M202.4 421.1h1.2v1.2h-1.2zM235.3 414.7h1.2v1.2h-1.2zM232.9 412.1h1.2v1.2h-1.2zM222.1 415.1h1.2v1.2h-1.2zM209.1 420h1.2v1.2h-1.2zM226 418.2h1.2v1.2h-1.2zM240.2 413.5h1.2v1.2h-1.2zM219.9 416.6h1.2v1.2h-1.2zM218.9 419.7h1.2v1.2h-1.2zM239.3 410.1h1.2v1.2h-1.2zM219.4 419.1h1.2v1.2h-1.2zM198.5 422.6h1.2v1.2h-1.2zM239.2 411.5h1.2v1.2h-1.2zM204.5 420.5h1.2v1.2h-1.2zM201.9 421.6h1.2v1.2h-1.2zM238.9 414.4h1.2v1.2h-1.2zM218.3 413.1h1.2v1.2h-1.2zM202.5 421.6h1.2v1.2h-1.2zM231.5 412.9h1.2v1.2h-1.2zM221 417.7h1.2v1.2h-1.2zM221.1 417.2h1.2v1.2h-1.2zM239.4 412.1h1.2v1.2h-1.2zM208 421.6h1.2v1.2h-1.2zM219 417.7h1.2v1.2h-1.2zM232.1 415.9h1.2v1.2h-1.2zM206.6 422.1h1.2v1.2h-1.2zM230.9 416.9h1.2v1.2h-1.2zM198.7 422.2h1.2v1.2h-1.2zM230.8 409.7h1.2v1.2h-1.2zM209.8 420.9h1.2v1.2h-1.2zM203.1 422.5h1.2v1.2h-1.2zM206.4 419.1h1.2v1.2h-1.2zM228.2 415.2h1.2v1.2h-1.2zM231.4 416.3h1.2v1.2h-1.2zM239.2 412.8h1.2v1.2h-1.2zM209.2 418.6h1.2v1.2h-1.2zM209.1 421.9h1.2v1.2h-1.2zM230.8 416.7h1.2v1.2h-1.2zM239.5 410.5h1.2v1.2h-1.2zM211.5 414.6h1.2v1.2h-1.2zM223.4 417.3h1.2v1.2h-1.2zM209.8 417.1h1.2v1.2h-1.2zM224.5 417.9h1.2v1.2h-1.2zM211.7 420.7h1.2v1.2h-1.2zM211.5 415.8h1.2v1.2h-1.2zM222.7 417h1.2v1.2h-1.2zM230.2 417h1.2v1.2h-1.2zM223.5 415.7h1.2v1.2h-1.2zM201.2 417.6h1.2v1.2h-1.2zM219.5 419.8h1.2v1.2h-1.2zM239.5 413.2h1.2v1.2h-1.2zM231.6 409.4h1.2v1.2h-1.2zM199.8 422.6h1.2v1.2h-1.2zM219.3 419.2h1.2v1.2h-1.2zM228.6 416.7h1.2v1.2h-1.2zM218.8 418.9h1.2v1.2h-1.2zM231.2 415.2h1.2v1.2h-1.2zM214.2 416.8h1.2v1.2h-1.2zM216 413.5h1.2v1.2h-1.2zM204 422.4h1.2v1.2h-1.2zM227.2 413.4h1.2v1.2h-1.2zM200.5 422.3h1.2v1.2h-1.2zM228.8 414.9h1.2v1.2h-1.2zM221.7 416.9h1.2v1.2h-1.2zM235 413.9h1.2v1.2h-1.2zM214.6 420.4h1.2v1.2h-1.2zM212.1 417.9h1.2v1.2h-1.2zM234.7 414.8h1.2v1.2h-1.2zM207.6 415.1h1.2v1.2h-1.2z" fill="#000"/>
<path d="M200.8 423.7h1.2v1.2h-1.2zM216.2 422h1.2v1.2h-1.2zM200.3 424.5h1.2v1.2h-1.2zM200.1 423.4h1.2v1.2h-1.2zM217.8 422h1.2v1.2h-1.2zM206.9 423.5h1.2v1.2h-1.2zM199.5 423.5h1.2v1.2h-1.2zM211.7 421.5h1.2v1.2h-1.2zM233.2 417.3h1.2v1.2h-1.2zM234 416.8h1.2v1.2h-1.2zM222.3 419.2h1.2v1.2h-1.2zM238.3 415.2h1.2v1.2h-1.2zM226.5 420.5h1.2v1.2h-1.2zM216 421.1h1.2v1.2h-1.2zM231.6 418.8h1.2v1.2h-1.2zM237.3 415.6h1.2v1.2h-1.2zM213.2 422h1.2v1.2h-1.2zM224.2 420.1h1.2v1.2h-1.2zM234.1 417.2h1.2v1.2h-1.2zM209.5 423.7h1.2v1.2h-1.2zM232.2 418.8h1.2v1.2h-1.2z" fill="#fff"/>
<path d="M241.8 419.6h1.2v1.2h-1.2zM241.1 462.7h1.2v1.2h-1.2zM241 423.1h1.2v1.2h-1.2zM240.5 454.2h1.2v1.2h-1.2zM242 433.7h1.2v1.2h-1.2zM242 423.6h1.2v1.2h-1.2zM240.5 456h1.2v1.2h-1.2zM242.9 432.5h1.2v1.2h-1.2zM242.1 449.4h1.2v1.2h-1.2zM241.7 430.1h1.2v1.2h-1.2zM241.2 467.3h1.2v1.2h-1.2zM242 430.4h1.2v1.2h-1.2zM242.4 420.5h1.2v1.2h-1.2zM241.9 467.8h1.2v1.2h-1.2zM244.2 414.1h1.2v1.2h-1.2zM241 425.2h1.2v1.2h-1.2zM242.3 429.8h1.2v1.2h-1.2zM247.9 414.1h1.2v1.2h-1.2zM240.9 437.2h1.2v1.2h-1.2zM247.3 453.2h1.2v1.2h-1.2zM241.2 415.2h1.2v1.2h-1.2zM241.7 420.6h1.2v1.2h-1.2zM241 435.7h1.2v1.2h-1.2zM242.6 469h1.2v1.2h-1.2zM242.7 430.1h1.2v1.2h-1.2zM243.7 441.4h1.2v1.2h-1.2zM246.5 427.6h1.2v1.2h-1.2zM242.2 455.8h1.2v1.2h-1.2zM242.6 446.4h1.2v1.2h-1.2zM244.9 415.2h1.2v1.2h-1.2zM241.2 441.8h1.2v1.2h-1.2zM243.2 434.4h1.2v1.2h-1.2zM240.7 458.8h1.2v1.2h-1.2zM247.9 435.9h1.2v1.2h-1.2zM241.8 417.5h1.2v1.2h-1.2zM242.3 468.5h1.2v1.2h-1.2zM241.8 443.7h1.2v1.2h-1.2zM243.4 417.9h1.2v1.2h-1.2zM241 433.3h1.2v1.2h-1.2zM240.1 469.3h1.2v1.2h-1.2zM243 440.8h1.2v1.2h-1.2zM241.6 444.9h1.2v1.2h-1.2zM240.9 456.2h1.2v1.2h-1.2zM241.4 454.1h1.2v1.2h-1.2zM243.4 469.2h1.2v1.2h-1.2zM244.9 426.6h1.2v1.2h-1.2zM241.7 439.3h1.2v1.2h-1.2zM241.2 422.4h1.2v1.2h-1.2zM241.3 416h1.2v1.2h-1.2zM243 436.1h1.2v1.2h-1.2zM242.2 465.7h1.2v1.2h-1.2zM245.2 469.2h1.2v1.2h-1.2zM240.8 463.6h1.2v1.2h-1.2zM242.5 416.4h1.2v1.2h-1.2zM247.9 434.9h1.2v1.2h-1.2zM246.1 415.3h1.2v1.2h-1.2zM242.9 430.1h1.2v1.2h-1.2zM241.6 455.6h1.2v1.2h-1.2zM243.6 458.2h1.2v1.2h-1.2zM243.9 421h1.2v1.2h-1.2zM243.1 470.4h1.2v1.2h-1.2zM242.3 447.8h1.2v1.2h-1.2zM242.4 419.5h1.2v1.2h-1.2zM241.4 430.9h1.2v1.2h-1.2zM240.6 467.1h1.2v1.2h-1.2zM244.4 425.2h1.2v1.2h-1.2zM244.5 444.6h1.2v1.2h-1.2zM245.1 423.8h1.2v1.2h-1.2z" fill="#000"/>
<path d="M237.4 437.9h1.2v1.2h-1.2zM239.9 448.8h1.2v1.2h-1.2zM240.7 434.3h1.2v1.2h-1.2zM240.6 445.5h1.2v1.2h-1.2zM239.6 465.6h1.2v1.2h-1.2zM240.1 432.2h1.2v1.2h-1.2zM236.7 441.1h1.2v1.2h-1.2zM240.2 418.4h1.2v1.2h-1.2zM239.6 444.9h1.2v1.2h-1.2zM238.9 463.9h1.2v1.2h-1.2zM238.7 452h1.2v1.2h-1.2zM240 435.2h1.2v1.2h-1.2zM240.7 425.9h1.2v1.2h-1.2zM238.2 468.8h1.2v1.2h-1.2zM237.9 420.6h1.2v1.2h-1.2zM240 437.4h1.2v1.2h-1.2zM239.7 459.1h1.2v1.2h-1.2zM238 452.9h1.2v1.2h-1.2zM240.2 452.1h1.2v1.2h-1.2zM238.7 420.8h1.2v1.2h-1.2zM239.9 448.7h1.2v1.2h-1.2zM238.7 467.5h1.2v1.2h-1.2zM239.6 470.4h1.2v1.2h-1.2zM235.2 461.2h1.2v1.2h-1.2zM240.5 423.6h1.2v1.2h-1.2zM240.2 440.9h1.2v1.2h-1.2zM240.5 447.5h1.2v1.2h-1.2zM240.7 416h1.2v1.2h-1.2zM240.2 420.2h1.2v1.2h-1.2zM238.9 459h1.2v1.2h-1.2zM239.4 423.3h1.2v1.2h-1.2zM234.9 470.1h1.2v1.2h-1.2zM239 421.7h1.2v1.2h-1.2zM237.7 418.8h1.2v1.2h-1.2zM239.3 432.5h1.2v1.2h-1.2zM239.1 466.1h1.2v1.2h-1.2zM240.8 432.1h1.2v1.2h-1.2zM238.7 452.1h1.2v1.2h-1.2zM240.3 452.8h1.2v1.2h-1.2zM240.4 433.3h1.2v1.2h-1.2zM240.7 422.8h1.2v1.2h-1.2zM237.7 427h1.2v1.2h-1.2zM238.6 463.4h1.2v1.2h-1.2zM240.3 432.3h1.2v1.2h-1.2zM239.8 465.5h1.2v1.2h-1.2zM236.2 420.5h1.2v1.2h-1.2zM236 429.5h1.2v1.2h-1.2zM240.7 430.7h1.2v1.2h-1.2zM237.8 432.2h1.2v1.2h-1.2zM238.7 462.9h1.2v1.2h-1.2zM239.8 444.2h1.2v1.2h-1.2z" fill="#fff"/>
<path d="M200.7 449h1.3v1.3h-1.3zM201.1 470.4h1.3v1.3h-1.3zM203.2 467.6h1.3v1.3h-1.3zM200.4 448.2h1.3v1.3h-1.3zM204.4 466.4h1.3v1.3h-1.3zM212.5 469.7h1.3v1.3h-1.3zM199.4 447.4h1.3v1.3h-1.3zM199 460.5h1.3v1.3h-1.3zM200.2 470.5h1.3v1.3h-1.3zM214.5 461.2h1.3v1.3h-1.3zM200.5 469.5h1.3v1.3h-1.3zM205.3 460.2h1.3v1.3h-1.3zM200.3 471h1.3v1.3h-1.3zM200.7 465h1.3v1.3h-1.3zM200.3 459.6h1.3v1.3h-1.3zM201.9 469.4h1.3v1.3h-1.3zM202.7 470.2h1.3v1.3h-1.3zM205.1 447.4h1.3v1.3h-1.3zM199.8 469.8h1.3v1.3h-1.3zM203.1 469.1h1.3v1.3h-1.3zM199 465.8h1.3v1.3h-1.3zM199.5 462.2h1.3v1.3h-1.3zM202.2 469.3h1.3v1.3h-1.3zM211.5 465h1.3v1.3h-1.3zM207 459h1.3v1.3h-1.3zM200 469.3h1.3v1.3h-1.3zM200.2 465.6h1.3v1.3h-1.3zM205.7 470.3h1.3v1.3h-1.3zM200 471.2h1.3v1.3h-1.3zM207.2 450.1h1.3v1.3h-1.3zM203.3 464.3h1.3v1.3h-1.3zM201.4 468.2h1.3v1.3h-1.3zM200.9 471.3h1.3v1.3h-1.3zM199.8 466.2h1.3v1.3h-1.3zM200.6 463.7h1.3v1.3h-1.3zM199.3 467.5h1.3v1.3h-1.3zM213 469.4h1.3v1.3h-1.3zM214.8 471.3h1.3v1.3h-1.3zM214.8 447.4h1.3v1.3h-1.3zM211.9 447.4h1.3v1.3h-1.3zM214.8 465.8h1.3v1.3h-1.3zM207.6 469.8h1.3v1.3h-1.3zM207.7 469.9h1.3v1.3h-1.3zM209.1 459.6h1.3v1.3h-1.3zM204.7 459.4h1.3v1.3h-1.3zM200.5 458.1h1.3v1.3h-1.3zM212.4 463.2h1.3v1.3h-1.3zM204.7 469.2h1.3v1.3h-1.3zM201.2 461.4h1.3v1.3h-1.3zM203.2 465h1.3v1.3h-1.3zM199.1 471.2h1.3v1.3h-1.3zM202 457.6h1.3v1.3h-1.3zM214.8 470.1h1.3v1.3h-1.3zM214.8 468.7h1.3v1.3h-1.3zM214.8 467.1h1.3v1.3h-1.3zM207.2 464.6h1.3v1.3h-1.3zM204 470.8h1.3v1.3h-1.3zM199.1 452.5h1.3v1.3h-1.3zM198.7 463.7h1.3v1.3h-1.3zM214.8 463.2h1.3v1.3h-1.3zM203.1 461.5h1.3v1.3h-1.3zM206.9 468.6h1.3v1.3h-1.3zM199 468.4h1.3v1.3h-1.3zM203.8 469.4h1.3v1.3h-1.3zM200.7 466.3h1.3v1.3h-1.3zM200.7 463h1.3v1.3h-1.3zM213.7 465.2h1.3v1.3h-1.3zM207.2 469.2h1.3v1.3h-1.3zM210.6 455.7h1.3v1.3h-1.3zM199 471.2h1.3v1.3h-1.3zM201.3 469.1h1.3v1.3h-1.3zM198.4 469.9h1.3v1.3h-1.3zM207.8 466h1.3v1.3h-1.3zM203.9 465.9h1.3v1.3h-1.3zM199 447.4h1.3v1.3h-1.3zM213.7 466.6h1.3v1.3h-1.3zM214.8 462.4h1.3v1.3h-1.3zM201.3 470.4h1.3v1.3h-1.3zM214.8 471h1.3v1.3h-1.3zM201.3 468.2h1.3v1.3h-1.3zM205.6 467.5h1.3v1.3h-1.3zM198.7 467.4h1.3v1.3h-1.3zM198.5 464.3h1.3v1.3h-1.3zM213.3 462.6h1.3v1.3h-1.3zM214.8 464.7h1.3v1.3h-1.3zM202.8 464.6h1.3v1.3h-1.3zM198.5 468.3h1.3v1.3h-1.3zM201.8 465.1h1.3v1.3h-1.3zM211 461.5h1.3v1.3h-1.3zM200.6 447.4h1.3v1.3h-1.3zM203.5 470.7h1.3v1.3h-1.3zM202.4 468.6h1.3v1.3h-1.3zM201.2 463.8h1.3v1.3h-1.3zM208.4 461.1h1.3v1.3h-1.3zM214.6 464.6h1.3v1.3h-1.3zM199 464.3h1.3v1.3h-1.3zM209.8 468.1h1.3v1.3h-1.3zM214.8 470.8h1.3v1.3h-1.3zM203.6 469.3h1.3v1.3h-1.3zM203.2 469.2h1.3v1.3h-1.3zM202.5 469.7h1.3v1.3h-1.3zM212.6 451.1h1.3v1.3h-1.3zM202.3 469.9h1.3v1.3h-1.3zM202.7 469.5h1.3v1.3h-1.3zM212.6 456.5h1.3v1.3h-1.3z" fill="#fff"/>
<path d="M200.4 424V455" stroke="#ccc" stroke-width="1.2"/>
<path d="M250.3 414.6h1.2v1.2h-1.2zM255.1 411.4h1.2v1.2h-1.2zM244.9 415.7h1.2v1.2h-1.2zM246.6 413.9h1.2v1.2h-1.2zM271.8 403.3h1.2v1.2h-1.2zM278.7 401.7h1.2v1.2h-1.2zM250.4 412.4h1.2v1.2h-1.2zM277 401.3h1.2v1.2h-1.2zM248.6 414.7h1.2v1.2h-1.2zM277.1 399.6h1.2v1.2h-1.2zM274.9 399.8h1.2v1.2h-1.2zM272.4 403.4h1.2v1.2h-1.2zM273.6 403.5h1.2v1.2h-1.2zM257.1 408.2h1.2v1.2h-1.2zM240.6 414.1h1.2v1.2h-1.2zM261.3 409h1.2v1.2h-1.2zM248.5 412.5h1.2v1.2h-1.2zM256.3 412.4h1.2v1.2h-1.2zM276.2 400.9h1.2v1.2h-1.2zM249.1 412.4h1.2v1.2h-1.2zM266.7 406.1h1.2v1.2h-1.2zM275.4 400.5h1.2v1.2h-1.2zM244.5 414.5h1.2v1.2h-1.2zM271.1 404.8h1.2v1.2h-1.2zM257.7 411.6h1.2v1.2h-1.2zM263.1 403.8h1.2v1.2h-1.2zM261.1 406.5h1.2v1.2h-1.2zM260.6 408.2h1.2v1.2h-1.2zM267.9 403.5h1.2v1.2h-1.2zM273 404.6h1.2v1.2h-1.2zM275.9 401.6h1.2v1.2h-1.2zM266.2 407.7h1.2v1.2h-1.2zM262.7 407.4h1.2v1.2h-1.2zM272.3 404.6h1.2v1.2h-1.2zM260.4 406.4h1.2v1.2h-1.2zM256.3 408.9h1.2v1.2h-1.2zM241.8 414h1.2v1.2h-1.2zM268.1 406.2h1.2v1.2h-1.2zM276.3 402.8h1.2v1.2h-1.2zM242 414.6h1.2v1.2h-1.2zM276.2 400.5h1.2v1.2h-1.2zM263.8 407.5h1.2v1.2h-1.2zM251.5 415.4h1.2v1.2h-1.2zM272.2 400.3h1.2v1.2h-1.2zM276.2 400h1.2v1.2h-1.2zM257.5 410.8h1.2v1.2h-1.2zM256.2 406.2h1.2v1.2h-1.2zM267.5 407.5h1.2v1.2h-1.2zM247 411.9h1.2v1.2h-1.2zM271.5 401.7h1.2v1.2h-1.2zM271.8 404.5h1.2v1.2h-1.2zM271.7 405.5h1.2v1.2h-1.2zM245.8 412.8h1.2v1.2h-1.2zM248.9 414.8h1.2v1.2h-1.2zM246.9 406h1.2v1.2h-1.2zM271.8 404.4h1.2v1.2h-1.2zM252.8 414.4h1.2v1.2h-1.2zM259.4 407.7h1.2v1.2h-1.2zM253.4 407.8h1.2v1.2h-1.2zM261.4 407.6h1.2v1.2h-1.2zM263.6 407h1.2v1.2h-1.2zM272.1 402.4h1.2v1.2h-1.2zM268.4 406.3h1.2v1.2h-1.2zM249 412.1h1.2v1.2h-1.2zM277.4 399.6h1.2v1.2h-1.2zM246.6 414h1.2v1.2h-1.2zM248.7 411h1.2v1.2h-1.2zM262.2 407h1.2v1.2h-1.2zM276.3 399.9h1.2v1.2h-1.2zM245.5 417.1h1.2v1.2h-1.2zM253 410.4h1.2v1.2h-1.2zM254.5 414.5h1.2v1.2h-1.2zM273.9 404.5h1.2v1.2h-1.2zM261.1 408.4h1.2v1.2h-1.2zM261.8 409.1h1.2v1.2h-1.2zM272.5 403h1.2v1.2h-1.2zM278.8 402.4h1.2v1.2h-1.2zM243.3 416h1.2v1.2h-1.2zM250.6 409.9h1.2v1.2h-1.2zM265.8 407.1h1.2v1.2h-1.2zM247.5 419.7h1.2v1.2h-1.2zM278.1 401.8h1.2v1.2h-1.2zM249.5 418.5h1.2v1.2h-1.2zM258.6 409.1h1.2v1.2h-1.2zM260.5 408.2h1.2v1.2h-1.2zM257.5 410h1.2v1.2h-1.2zM249.6 410.3h1.2v1.2h-1.2zM246 412.1h1.2v1.2h-1.2zM255.8 417.6h1.2v1.2h-1.2zM263.1 408.5h1.2v1.2h-1.2zM274.4 400.7h1.2v1.2h-1.2zM257.4 413h1.2v1.2h-1.2zM277.1 401.8h1.2v1.2h-1.2zM243 414.1h1.2v1.2h-1.2zM258.3 409h1.2v1.2h-1.2zM272.9 403.5h1.2v1.2h-1.2zM257.7 408.5h1.2v1.2h-1.2zM243.4 412.9h1.2v1.2h-1.2zM244.7 408.4h1.2v1.2h-1.2zM277.1 400.2h1.2v1.2h-1.2zM267.2 404.7h1.2v1.2h-1.2zM263.1 407.8h1.2v1.2h-1.2zM264 408h1.2v1.2h-1.2zM264.9 407.9h1.2v1.2h-1.2zM276.4 401.6h1.2v1.2h-1.2zM252.9 408.7h1.2v1.2h-1.2zM275.6 401.1h1.2v1.2h-1.2zM250.1 411.2h1.2v1.2h-1.2zM269.9 405.6h1.2v1.2h-1.2zM256.6 407.5h1.2v1.2h-1.2zM272.2 401.9h1.2v1.2h-1.2zM262.4 406.6h1.2v1.2h-1.2zM264.9 403.7h1.2v1.2h-1.2zM268.7 404.5h1.2v1.2h-1.2zM257.4 408.9h1.2v1.2h-1.2zM275.8 399.7h1.2v1.2h-1.2zM244 415.1h1.2v1.2h-1.2zM274.6 401.5h1.2v1.2h-1.2zM279.1 399.6h1.2v1.2h-1.2zM249.9 411.1h1.2v1.2h-1.2zM248.5 411.5h1.2v1.2h-1.2zM270.3 404.6h1.2v1.2h-1.2zM276.7 398.9h1.2v1.2h-1.2zM279.2 400.2h1.2v1.2h-1.2zM273.5 402.9h1.2v1.2h-1.2zM272.6 402.3h1.2v1.2h-1.2zM269 404.8h1.2v1.2h-1.2zM264.8 406.3h1.2v1.2h-1.2zM245.3 416.8h1.2v1.2h-1.2zM273.2 403.6h1.2v1.2h-1.2zM248.9 415.8h1.2v1.2h-1.2zM265.7 405.5h1.2v1.2h-1.2zM276.1 399.5h1.2v1.2h-1.2zM255.4 405.3h1.2v1.2h-1.2zM252 412.4h1.2v1.2h-1.2zM269.2 401.5h1.2v1.2h-1.2zM264.9 406.5h1.2v1.2h-1.2zM256.5 408.9h1.2v1.2h-1.2zM276.3 400.7h1.2v1.2h-1.2zM248.4 412.3h1.2v1.2h-1.2zM262.3 408.7h1.2v1.2h-1.2zM250.8 412.5h1.2v1.2h-1.2zM243.3 410.4h1.2v1.2h-1.2zM272.5 403.7h1.2v1.2h-1.2zM264 406h1.2v1.2h-1.2zM264.8 406.5h1.2v1.2h-1.2zM265.7 406.7h1.2v1.2h-1.2zM269.6 404.1h1.2v1.2h-1.2zM251.3 410.2h1.2v1.2h-1.2zM247.6 412.7h1.2v1.2h-1.2zM267.3 405.5h1.2v1.2h-1.2zM255.2 412.4h1.2v1.2h-1.2zM272 403.1h1.2v1.2h-1.2zM255.9 407.3h1.2v1.2h-1.2zM247.7 417.6h1.2v1.2h-1.2zM272 404.8h1.2v1.2h-1.2zM250 414h1.2v1.2h-1.2zM246.8 410.9h1.2v1.2h-1.2zM260.5 407.7h1.2v1.2h-1.2zM260.6 409h1.2v1.2h-1.2zM265.6 408.9h1.2v1.2h-1.2zM250.7 408.8h1.2v1.2h-1.2zM248.3 415.9h1.2v1.2h-1.2zM267.5 405.5h1.2v1.2h-1.2zM276.8 400.4h1.2v1.2h-1.2zM267.1 405.1h1.2v1.2h-1.2zM242.4 418.1h1.2v1.2h-1.2zM252.5 411h1.2v1.2h-1.2zM252.1 416.7h1.2v1.2h-1.2zM246.2 414.5h1.2v1.2h-1.2zM259.6 408.7h1.2v1.2h-1.2zM276.1 402.7h1.2v1.2h-1.2zM268.7 402h1.2v1.2h-1.2zM255 407.3h1.2v1.2h-1.2zM277.4 402.8h1.2v1.2h-1.2zM264.6 403.4h1.2v1.2h-1.2zM271.5 404.5h1.2v1.2h-1.2zM261.5 405.6h1.2v1.2h-1.2zM274.7 399.5h1.2v1.2h-1.2zM264.1 409.5h1.2v1.2h-1.2zM257.8 413.6h1.2v1.2h-1.2zM272.1 402.3h1.2v1.2h-1.2zM250.6 414.2h1.2v1.2h-1.2zM267.5 406.2h1.2v1.2h-1.2zM268.1 401.7h1.2v1.2h-1.2zM277.5 403h1.2v1.2h-1.2zM256 410.7h1.2v1.2h-1.2zM260.1 411.1h1.2v1.2h-1.2zM246.7 417h1.2v1.2h-1.2zM252.2 416.7h1.2v1.2h-1.2zM273 399.6h1.2v1.2h-1.2zM266.2 406.1h1.2v1.2h-1.2zM244 414.2h1.2v1.2h-1.2zM265 406h1.2v1.2h-1.2zM256.5 411.8h1.2v1.2h-1.2zM261.3 407.1h1.2v1.2h-1.2zM264.1 405.6h1.2v1.2h-1.2zM268.9 400.5h1.2v1.2h-1.2zM261.2 411.8h1.2v1.2h-1.2zM256.4 413h1.2v1.2h-1.2zM256.5 405.8h1.2v1.2h-1.2zM275.9 402.1h1.2v1.2h-1.2zM246.8 411.9h1.2v1.2h-1.2zM252.9 407.9h1.2v1.2h-1.2zM251.4 409.4h1.2v1.2h-1.2zM265.7 405.2h1.2v1.2h-1.2zM256.3 412.1h1.2v1.2h-1.2zM277.9 401.3h1.2v1.2h-1.2zM277.7 402h1.2v1.2h-1.2zM252.4 413.4h1.2v1.2h-1.2zM275 401.5h1.2v1.2h-1.2zM254.2 414.9h1.2v1.2h-1.2zM264.1 405.7h1.2v1.2h-1.2zM245.9 415h1.2v1.2h-1.2zM258.6 412.1h1.2v1.2h-1.2zM269.6 403.6h1.2v1.2h-1.2zM249.4 413.1h1.2v1.2h-1.2zM245 416.7h1.2v1.2h-1.2zM257.1 407.8h1.2v1.2h-1.2zM256.5 407.9h1.2v1.2h-1.2zM256.2 408.2h1.2v1.2h-1.2zM274.1 403.1h1.2v1.2h-1.2zM262.4 407.9h1.2v1.2h-1.2zM274.2 401.9h1.2v1.2h-1.2zM274.6 400.9h1.2v1.2h-1.2zM244.2 412.7h1.2v1.2h-1.2zM258.2 407h1.2v1.2h-1.2zM276.9 402.1h1.2v1.2h-1.2zM264.3 405.7h1.2v1.2h-1.2zM265.3 407.9h1.2v1.2h-1.2zM259.7 412.4h1.2v1.2h-1.2zM252.3 414.3h1.2v1.2h-1.2zM249.5 412.5h1.2v1.2h-1.2zM274.2 402.6h1.2v1.2h-1.2zM279.8 399.6h1.2v1.2h-1.2zM253.1 406.3h1.2v1.2h-1.2zM267.7 400.9h1.2v1.2h-1.2zM276.3 402.8h1.2v1.2h-1.2zM249 412.3h1.2v1.2h-1.2zM256.8 411.5h1.2v1.2h-1.2zM273.4 405.3h1.2v1.2h-1.2zM271.4 398.9h1.2v1.2h-1.2zM248.4 414.5h1.2v1.2h-1.2zM249.2 413.2h1.2v1.2h-1.2zM248.8 414.9h1.2v1.2h-1.2zM266.2 405.3h1.2v1.2h-1.2zM278.2 400h1.2v1.2h-1.2zM259.6 405.5h1.2v1.2h-1.2zM265.5 406.5h1.2v1.2h-1.2zM261 405h1.2v1.2h-1.2zM276.7 400h1.2v1.2h-1.2zM252.6 411h1.2v1.2h-1.2zM273.8 402.8h1.2v1.2h-1.2zM266.3 406.7h1.2v1.2h-1.2zM250.3 412h1.2v1.2h-1.2zM260.7 408.3h1.2v1.2h-1.2zM247.3 412.7h1.2v1.2h-1.2zM259.4 412.3h1.2v1.2h-1.2zM271.3 402.6h1.2v1.2h-1.2zM265.4 408.7h1.2v1.2h-1.2zM273.7 403.5h1.2v1.2h-1.2zM264 404.3h1.2v1.2h-1.2zM243.9 415.3h1.2v1.2h-1.2zM253.8 412h1.2v1.2h-1.2zM249.9 411.2h1.2v1.2h-1.2zM243 415h1.2v1.2h-1.2zM243.8 416.7h1.2v1.2h-1.2zM255 409.8h1.2v1.2h-1.2zM260.1 407.2h1.2v1.2h-1.2zM265.1 403.7h1.2v1.2h-1.2zM272.7 402.9h1.2v1.2h-1.2zM246.1 417.3h1.2v1.2h-1.2zM266.7 404.8h1.2v1.2h-1.2zM248.9 415.4h1.2v1.2h-1.2zM260 410.2h1.2v1.2h-1.2zM256.8 407.5h1.2v1.2h-1.2zM266.9 405.1h1.2v1.2h-1.2zM269.9 403h1.2v1.2h-1.2zM260.6 412.2h1.2v1.2h-1.2zM255.7 412.9h1.2v1.2h-1.2zM271.2 402.9h1.2v1.2h-1.2zM266.2 405.2h1.2v1.2h-1.2zM277.6 399.1h1.2v1.2h-1.2zM262.5 407h1.2v1.2h-1.2zM246.3 410.6h1.2v1.2h-1.2zM280.4 400.9h1.2v1.2h-1.2zM268.7 405.9h1.2v1.2h-1.2zM250.1 415.2h1.2v1.2h-1.2zM276.4 402.6h1.2v1.2h-1.2zM275.4 402.4h1.2v1.2h-1.2zM267.1 406h1.2v1.2h-1.2zM254.4 413.6h1.2v1.2h-1.2zM268.4 405.5h1.2v1.2h-1.2zM261.8 407h1.2v1.2h-1.2zM274.6 400h1.2v1.2h-1.2zM267.8 403.1h1.2v1.2h-1.2zM258.7 408.6h1.2v1.2h-1.2zM245.4 413.8h1.2v1.2h-1.2zM276.5 402.5h1.2v1.2h-1.2zM270.8 403.2h1.2v1.2h-1.2zM252 410.1h1.2v1.2h-1.2zM275.4 402.3h1.2v1.2h-1.2zM269.9 404.1h1.2v1.2h-1.2zM267.8 406.9h1.2v1.2h-1.2zM248.7 411.9h1.2v1.2h-1.2zM274.6 402.6h1.2v1.2h-1.2zM265.7 405.7h1.2v1.2h-1.2zM256.2 410.1h1.2v1.2h-1.2zM249.3 411.9h1.2v1.2h-1.2zM242.6 415.4h1.2v1.2h-1.2zM263.2 406.9h1.2v1.2h-1.2zM274.6 403.3h1.2v1.2h-1.2zM273.3 401.1h1.2v1.2h-1.2zM254.7 410h1.2v1.2h-1.2zM278.5 403.4h1.2v1.2h-1.2zM268.4 402.3h1.2v1.2h-1.2zM273.2 403.9h1.2v1.2h-1.2zM258 409.7h1.2v1.2h-1.2zM271.1 405.4h1.2v1.2h-1.2zM245.1 415h1.2v1.2h-1.2zM261.5 409.7h1.2v1.2h-1.2zM247.7 412.3h1.2v1.2h-1.2zM279.5 400h1.2v1.2h-1.2zM261.2 404.9h1.2v1.2h-1.2zM259.9 408.8h1.2v1.2h-1.2zM255.5 411h1.2v1.2h-1.2zM265.8 406.8h1.2v1.2h-1.2zM276.5 400.1h1.2v1.2h-1.2zM268.1 406.3h1.2v1.2h-1.2zM276.9 401.6h1.2v1.2h-1.2zM258.2 409.1h1.2v1.2h-1.2zM263.5 406.4h1.2v1.2h-1.2zM269.4 401.9h1.2v1.2h-1.2zM250.1 406.5h1.2v1.2h-1.2zM275.9 401.1h1.2v1.2h-1.2zM257.9 409.3h1.2v1.2h-1.2zM266.3 404.7h1.2v1.2h-1.2zM252.3 411.5h1.2v1.2h-1.2zM264.1 405.1h1.2v1.2h-1.2zM266.6 406.7h1.2v1.2h-1.2zM264.9 407.9h1.2v1.2h-1.2zM273.9 405.2h1.2v1.2h-1.2zM262.3 406.8h1.2v1.2h-1.2zM250.8 411.6h1.2v1.2h-1.2zM268.3 405.1h1.2v1.2h-1.2zM264.1 406.7h1.2v1.2h-1.2zM261.7 406h1.2v1.2h-1.2zM277.1 402.5h1.2v1.2h-1.2zM243.6 413.4h1.2v1.2h-1.2zM263.2 406.3h1.2v1.2h-1.2zM272.6 405.2h1.2v1.2h-1.2zM262.1 407.2h1.2v1.2h-1.2zM254.6 411.6h1.2v1.2h-1.2zM263.5 410.4h1.2v1.2h-1.2zM271.7 404.5h1.2v1.2h-1.2zM270.3 404h1.2v1.2h-1.2zM256.3 407.8h1.2v1.2h-1.2zM254.6 409.2h1.2v1.2h-1.2zM245.8 414.9h1.2v1.2h-1.2zM262.1 405.9h1.2v1.2h-1.2zM277.2 400.1h1.2v1.2h-1.2zM248.3 412.4h1.2v1.2h-1.2zM271.2 403h1.2v1.2h-1.2zM278.2 401.6h1.2v1.2h-1.2zM249.3 410.8h1.2v1.2h-1.2zM274.3 403.2h1.2v1.2h-1.2zM259.9 409.2h1.2v1.2h-1.2zM249.8 415.3h1.2v1.2h-1.2zM258.5 406h1.2v1.2h-1.2zM257.4 408.3h1.2v1.2h-1.2zM241.9 412.3h1.2v1.2h-1.2zM257.3 410.2h1.2v1.2h-1.2zM248.8 413.1h1.2v1.2h-1.2zM251.2 415.4h1.2v1.2h-1.2zM257.3 412.9h1.2v1.2h-1.2zM260.7 408.5h1.2v1.2h-1.2zM266.6 403.2h1.2v1.2h-1.2zM245.3 412.2h1.2v1.2h-1.2zM274.9 402h1.2v1.2h-1.2zM267.4 404.8h1.2v1.2h-1.2zM249.6 411h1.2v1.2h-1.2zM251.7 411.1h1.2v1.2h-1.2zM249.9 414.9h1.2v1.2h-1.2zM259 406.7h1.2v1.2h-1.2zM274.1 403.2h1.2v1.2h-1.2zM268.4 406.8h1.2v1.2h-1.2zM246.3 415.9h1.2v1.2h-1.2zM269.3 407.2h1.2v1.2h-1.2zM252.8 413.2h1.2v1.2h-1.2zM268.4 403.4h1.2v1.2h-1.2zM260.7 409.2h1.2v1.2h-1.2zM248.5 414.8h1.2v1.2h-1.2zM268 404.3h1.2v1.2h-1.2zM271.5 404.1h1.2v1.2h-1.2zM249.5 416.3h1.2v1.2h-1.2zM277.7 400.5h1.2v1.2h-1.2zM269.3 405.1h1.2v1.2h-1.2zM259.1 408h1.2v1.2h-1.2zM254.1 410.7h1.2v1.2h-1.2zM259.6 409.8h1.2v1.2h-1.2zM272.3 404.8h1.2v1.2h-1.2zM255 409.4h1.2v1.2h-1.2zM260.5 405.3h1.2v1.2h-1.2zM248.3 409.8h1.2v1.2h-1.2zM244.5 416.2h1.2v1.2h-1.2zM260.8 409.3h1.2v1.2h-1.2zM260.5 409.5h1.2v1.2h-1.2zM276.3 401.7h1.2v1.2h-1.2zM265.1 405.1h1.2v1.2h-1.2zM264 408.5h1.2v1.2h-1.2zM261.5 406.1h1.2v1.2h-1.2zM277.2 399.7h1.2v1.2h-1.2zM268.6 402.2h1.2v1.2h-1.2zM261.5 410.5h1.2v1.2h-1.2zM257.4 411.3h1.2v1.2h-1.2zM252.7 411.2h1.2v1.2h-1.2zM273.6 401.7h1.2v1.2h-1.2zM270.6 401.8h1.2v1.2h-1.2zM256.8 410.8h1.2v1.2h-1.2zM267.1 407.8h1.2v1.2h-1.2zM262.4 407.1h1.2v1.2h-1.2zM260.9 412h1.2v1.2h-1.2zM250.7 413.3h1.2v1.2h-1.2zM269.4 402.6h1.2v1.2h-1.2zM249.8 413.3h1.2v1.2h-1.2zM267.5 405.3h1.2v1.2h-1.2zM273 402.9h1.2v1.2h-1.2zM260.3 411.8h1.2v1.2h-1.2zM278.5 402.4h1.2v1.2h-1.2zM256.9 413.7h1.2v1.2h-1.2zM275.2 402.1h1.2v1.2h-1.2zM266.9 407.5h1.2v1.2h-1.2zM255.5 410.6h1.2v1.2h-1.2zM252.5 411.2h1.2v1.2h-1.2zM256.3 407.9h1.2v1.2h-1.2zM249.9 412.1h1.2v1.2h-1.2zM259.8 406.3h1.2v1.2h-1.2zM241.1 410.4h1.2v1.2h-1.2zM259.7 407.9h1.2v1.2h-1.2zM273.8 402.8h1.2v1.2h-1.2zM254.3 413.2h1.2v1.2h-1.2zM249.6 412h1.2v1.2h-1.2zM260.1 406.4h1.2v1.2h-1.2zM254.5 406.6h1.2v1.2h-1.2zM271.7 402.7h1.2v1.2h-1.2zM247.3 413.9h1.2v1.2h-1.2zM268.8 404h1.2v1.2h-1.2zM277.3 397.9h1.2v1.2h-1.2zM249.8 409.8h1.2v1.2h-1.2zM270.6 402.9h1.2v1.2h-1.2zM256.6 407.7h1.2v1.2h-1.2zM255.7 411.9h1.2v1.2h-1.2zM247.9 411.5h1.2v1.2h-1.2zM277.2 403h1.2v1.2h-1.2zM275.5 403.3h1.2v1.2h-1.2zM274.4 399.7h1.2v1.2h-1.2zM271.1 403.5h1.2v1.2h-1.2zM263.8 408.1h1.2v1.2h-1.2zM243.6 415.7h1.2v1.2h-1.2zM275.7 401.7h1.2v1.2h-1.2zM267.8 402.9h1.2v1.2h-1.2zM256 408.2h1.2v1.2h-1.2zM275 399h1.2v1.2h-1.2zM265.3 405.4h1.2v1.2h-1.2zM263.5 406.5h1.2v1.2h-1.2zM257.7 408.4h1.2v1.2h-1.2zM277 398.8h1.2v1.2h-1.2zM251.8 412.9h1.2v1.2h-1.2zM248.9 411.5h1.2v1.2h-1.2zM262 409.1h1.2v1.2h-1.2zM251.8 411.5h1.2v1.2h-1.2zM265.9 406.1h1.2v1.2h-1.2zM254.6 413.2h1.2v1.2h-1.2zM246.7 414.8h1.2v1.2h-1.2zM273.8 402.7h1.2v1.2h-1.2zM278.5 398.7h1.2v1.2h-1.2zM266.9 407.5h1.2v1.2h-1.2zM269 403.8h1.2v1.2h-1.2zM248.3 414.8h1.2v1.2h-1.2zM246.4 416.3h1.2v1.2h-1.2zM263.2 406.6h1.2v1.2h-1.2zM276.5 401.9h1.2v1.2h-1.2zM247.8 413h1.2v1.2h-1.2zM248.1 411.5h1.2v1.2h-1.2zM275.5 399.9h1.2v1.2h-1.2zM273.9 400.7h1.2v1.2h-1.2zM268.6 405.4h1.2v1.2h-1.2zM247.3 414.3h1.2v1.2h-1.2zM251.6 412.8h1.2v1.2h-1.2zM252.4 409.5h1.2v1.2h-1.2zM267.9 407.8h1.2v1.2h-1.2zM271.4 402.8h1.2v1.2h-1.2zM265 409.1h1.2v1.2h-1.2zM262.6 405.4h1.2v1.2h-1.2zM256.2 407.8h1.2v1.2h-1.2zM269.1 405.9h1.2v1.2h-1.2zM261 409.5h1.2v1.2h-1.2zM255.9 410.5h1.2v1.2h-1.2zM257.5 406.9h1.2v1.2h-1.2zM246.3 419h1.2v1.2h-1.2zM250 408.8h1.2v1.2h-1.2zM248.5 413.4h1.2v1.2h-1.2zM263.6 406.4h1.2v1.2h-1.2zM258.6 409.8h1.2v1.2h-1.2zM259.3 410h1.2v1.2h-1.2zM272.3 401.6h1.2v1.2h-1.2zM260.1 411.6h1.2v1.2h-1.2zM271.2 406h1.2v1.2h-1.2zM275.2 400.8h1.2v1.2h-1.2zM268.4 406.5h1.2v1.2h-1.2zM274 402.2h1.2v1.2h-1.2zM277.3 402.1h1.2v1.2h-1.2zM247.2 416.3h1.2v1.2h-1.2zM277 400.7h1.2v1.2h-1.2zM265.4 402.4h1.2v1.2h-1.2zM262.4 408.8h1.2v1.2h-1.2zM263.3 409.7h1.2v1.2h-1.2zM262.2 409.4h1.2v1.2h-1.2zM253.2 410.6h1.2v1.2h-1.2zM259.9 405.6h1.2v1.2h-1.2zM256.1 409.7h1.2v1.2h-1.2zM265.9 406.6h1.2v1.2h-1.2zM249.6 412.6h1.2v1.2h-1.2zM266.7 406.8h1.2v1.2h-1.2zM276 400.1h1.2v1.2h-1.2zM254.7 411.2h1.2v1.2h-1.2zM262.7 407.8h1.2v1.2h-1.2zM244.4 418.8h1.2v1.2h-1.2zM270.7 404.2h1.2v1.2h-1.2zM248.9 414.4h1.2v1.2h-1.2zM248.5 411.1h1.2v1.2h-1.2zM276.3 401.3h1.2v1.2h-1.2zM247.4 410.2h1.2v1.2h-1.2zM244 413.6h1.2v1.2h-1.2zM255.7 410h1.2v1.2h-1.2zM247.8 411.7h1.2v1.2h-1.2zM277.4 402.6h1.2v1.2h-1.2zM249.6 412.8h1.2v1.2h-1.2zM244.1 412.3h1.2v1.2h-1.2zM252.6 412.8h1.2v1.2h-1.2zM242.4 414.1h1.2v1.2h-1.2zM253.1 406.4h1.2v1.2h-1.2zM261.8 405.2h1.2v1.2h-1.2zM277 402.8h1.2v1.2h-1.2zM276.4 401.9h1.2v1.2h-1.2zM276.1 400.6h1.2v1.2h-1.2zM255.1 411.1h1.2v1.2h-1.2zM250.3 411.3h1.2v1.2h-1.2zM272.7 401h1.2v1.2h-1.2zM256.5 411.6h1.2v1.2h-1.2zM267.2 404.6h1.2v1.2h-1.2zM256 405.7h1.2v1.2h-1.2zM262.1 408.1h1.2v1.2h-1.2zM252.8 410.9h1.2v1.2h-1.2zM269.6 402.4h1.2v1.2h-1.2zM266.8 407.7h1.2v1.2h-1.2zM252.7 410.8h1.2v1.2h-1.2zM267.8 405.4h1.2v1.2h-1.2zM256.2 412h1.2v1.2h-1.2zM275.5 403.1h1.2v1.2h-1.2zM258.6 406.1h1.2v1.2h-1.2zM277.9 404.1h1.2v1.2h-1.2zM266.9 408.4h1.2v1.2h-1.2zM265 404.7h1.2v1.2h-1.2zM249.8 410.8h1.2v1.2h-1.2zM242.7 417.5h1.2v1.2h-1.2zM277.6 399.6h1.2v1.2h-1.2zM260.9 410h1.2v1.2h-1.2zM257.1 411h1.2v1.2h-1.2zM260.7 409.2h1.2v1.2h-1.2zM273.5 401.1h1.2v1.2h-1.2zM258.7 406.9h1.2v1.2h-1.2zM265.8 405.8h1.2v1.2h-1.2zM259.9 407.2h1.2v1.2h-1.2zM264 407.4h1.2v1.2h-1.2zM247.4 415.7h1.2v1.2h-1.2zM258 407h1.2v1.2h-1.2zM277.2 398.3h1.2v1.2h-1.2zM254.3 410.8h1.2v1.2h-1.2zM241.8 415.4h1.2v1.2h-1.2zM269 401.1h1.2v1.2h-1.2zM254 417.1h1.2v1.2h-1.2zM260 408h1.2v1.2h-1.2zM264.7 403.3h1.2v1.2h-1.2zM269.1 402.9h1.2v1.2h-1.2zM243.5 413.3h1.2v1.2h-1.2zM276.8 399.9h1.2v1.2h-1.2zM272.6 400.4h1.2v1.2h-1.2zM269.8 402.4h1.2v1.2h-1.2zM245.8 414.8h1.2v1.2h-1.2zM266.3 404.1h1.2v1.2h-1.2zM274.7 401.4h1.2v1.2h-1.2zM270.6 401.6h1.2v1.2h-1.2zM267.2 405.8h1.2v1.2h-1.2z" fill="#000"/>
<path d="M255 434.7h1.2v1.2h-1.2zM256 454.3h1.2v1.2h-1.2zM256.3 452.2h1.2v1.2h-1.2zM255.4 450.4h1.2v1.2h-1.2zM254.8 458.6h1.2v1.2h-1.2zM256 446.9h1.2v1.2h-1.2zM255.4 463h1.2v1.2h-1.2zM256.4 465.3h1.2v1.2h-1.2zM254.4 423.6h1.2v1.2h-1.2zM256.4 465.7h1.2v1.2h-1.2zM252.6 433.6h1.2v1.2h-1.2zM254.3 444.2h1.2v1.2h-1.2zM255.4 429.5h1.2v1.2h-1.2zM255.4 431h1.2v1.2h-1.2zM256.7 457.6h1.2v1.2h-1.2zM257.1 461.8h1.2v1.2h-1.2zM250.6 451h1.2v1.2h-1.2zM257.7 443.4h1.2v1.2h-1.2zM254.3 442.3h1.2v1.2h-1.2zM254.4 429.9h1.2v1.2h-1.2zM256.2 433.1h1.2v1.2h-1.2zM256.3 444.9h1.2v1.2h-1.2zM254.2 449h1.2v1.2h-1.2zM256.2 418.4h1.2v1.2h-1.2zM255.7 452.2h1.2v1.2h-1.2zM254.5 431.1h1.2v1.2h-1.2zM257.4 448.3h1.2v1.2h-1.2zM256.3 417.9h1.2v1.2h-1.2zM257 450.9h1.2v1.2h-1.2zM257.5 467.3h1.2v1.2h-1.2zM256.2 446.5h1.2v1.2h-1.2zM253.9 464.5h1.2v1.2h-1.2zM255.6 444.7h1.2v1.2h-1.2zM258.5 426.6h1.2v1.2h-1.2zM254.3 434.1h1.2v1.2h-1.2zM254.2 457h1.2v1.2h-1.2zM252 432.9h1.2v1.2h-1.2zM254.7 439h1.2v1.2h-1.2zM254.5 435.5h1.2v1.2h-1.2zM253.1 439.6h1.2v1.2h-1.2zM256.8 424.7h1.2v1.2h-1.2zM251.7 435.6h1.2v1.2h-1.2zM253.6 440.6h1.2v1.2h-1.2zM255.7 419.7h1.2v1.2h-1.2zM254.7 427.4h1.2v1.2h-1.2zM255 418.1h1.2v1.2h-1.2zM254.3 418.1h1.2v1.2h-1.2zM255.1 444.2h1.2v1.2h-1.2zM257.1 457.8h1.2v1.2h-1.2zM257.5 454.7h1.2v1.2h-1.2zM253.1 434.9h1.2v1.2h-1.2zM253.5 444.9h1.2v1.2h-1.2zM257.1 426.6h1.2v1.2h-1.2zM255.4 427.3h1.2v1.2h-1.2zM253.9 448.6h1.2v1.2h-1.2zM256.5 436.7h1.2v1.2h-1.2zM255.9 444.7h1.2v1.2h-1.2zM253.8 435.6h1.2v1.2h-1.2zM254.4 444.4h1.2v1.2h-1.2zM256.3 465.4h1.2v1.2h-1.2zM255.6 429.5h1.2v1.2h-1.2zM255.9 446.7h1.2v1.2h-1.2zM256 450.9h1.2v1.2h-1.2zM252.5 431.7h1.2v1.2h-1.2zM255.7 462.9h1.2v1.2h-1.2zM253.9 420.3h1.2v1.2h-1.2zM255.2 418.6h1.2v1.2h-1.2zM251.7 417.8h1.2v1.2h-1.2zM255.5 460.6h1.2v1.2h-1.2zM255.3 456h1.2v1.2h-1.2zM255.7 449.4h1.2v1.2h-1.2zM254.4 466.9h1.2v1.2h-1.2zM258.4 428.9h1.2v1.2h-1.2zM255.4 422.1h1.2v1.2h-1.2zM257.1 428.5h1.2v1.2h-1.2zM256.7 456.2h1.2v1.2h-1.2zM255.9 448.2h1.2v1.2h-1.2zM252.1 422.8h1.2v1.2h-1.2zM257.4 452h1.2v1.2h-1.2zM255.6 435.7h1.2v1.2h-1.2zM258.3 439.3h1.2v1.2h-1.2zM251.8 418.9h1.2v1.2h-1.2zM255.7 465.8h1.2v1.2h-1.2zM254.2 421.5h1.2v1.2h-1.2zM255.5 424.8h1.2v1.2h-1.2zM252.4 454.9h1.2v1.2h-1.2zM253.5 433.7h1.2v1.2h-1.2zM254.6 420.3h1.2v1.2h-1.2zM254.3 418.7h1.2v1.2h-1.2zM257.5 433.3h1.2v1.2h-1.2zM257.3 462.8h1.2v1.2h-1.2zM251.8 448.8h1.2v1.2h-1.2zM255.8 440.2h1.2v1.2h-1.2zM254.4 423.4h1.2v1.2h-1.2zM253.6 444.4h1.2v1.2h-1.2zM253.2 459.3h1.2v1.2h-1.2zM257.2 457.4h1.2v1.2h-1.2zM253 419.6h1.2v1.2h-1.2zM252.8 417.5h1.2v1.2h-1.2zM255.2 447.4h1.2v1.2h-1.2zM254.7 443.5h1.2v1.2h-1.2zM257.3 450.5h1.2v1.2h-1.2zM255 460.1h1.2v1.2h-1.2zM255.2 436.8h1.2v1.2h-1.2zM254.1 451.8h1.2v1.2h-1.2zM255.9 468h1.2v1.2h-1.2zM254.3 441.8h1.2v1.2h-1.2zM253.2 460.7h1.2v1.2h-1.2zM257.4 449.5h1.2v1.2h-1.2zM256.5 440.4h1.2v1.2h-1.2zM252.3 436.8h1.2v1.2h-1.2zM256.7 445h1.2v1.2h-1.2zM257.3 451.8h1.2v1.2h-1.2zM251.5 420.7h1.2v1.2h-1.2zM255.3 427h1.2v1.2h-1.2zM255 453.4h1.2v1.2h-1.2zM255.9 422.3h1.2v1.2h-1.2zM255.7 418.2h1.2v1.2h-1.2zM255.3 463.2h1.2v1.2h-1.2zM255.4 444.4h1.2v1.2h-1.2zM254.3 419.4h1.2v1.2h-1.2zM253.2 421.9h1.2v1.2h-1.2zM256 436.2h1.2v1.2h-1.2zM256.8 421.6h1.2v1.2h-1.2zM253.8 433h1.2v1.2h-1.2zM256.1 450.3h1.2v1.2h-1.2zM254.6 444.5h1.2v1.2h-1.2zM257.4 431.9h1.2v1.2h-1.2zM255 450.8h1.2v1.2h-1.2zM256.7 427.7h1.2v1.2h-1.2zM255.1 426.8h1.2v1.2h-1.2zM256 424h1.2v1.2h-1.2zM258 456.2h1.2v1.2h-1.2zM257.3 427.7h1.2v1.2h-1.2zM257.2 458.2h1.2v1.2h-1.2zM256 465.5h1.2v1.2h-1.2zM255.6 450.5h1.2v1.2h-1.2zM254.9 467.4h1.2v1.2h-1.2zM253.4 419.8h1.2v1.2h-1.2zM256.6 427.4h1.2v1.2h-1.2zM254.8 443.9h1.2v1.2h-1.2zM253.7 460.1h1.2v1.2h-1.2zM256.2 426.6h1.2v1.2h-1.2zM256.2 419.6h1.2v1.2h-1.2zM254.8 459.4h1.2v1.2h-1.2zM255.5 423.4h1.2v1.2h-1.2zM257.3 428.4h1.2v1.2h-1.2zM254.1 461.1h1.2v1.2h-1.2zM252.9 427.7h1.2v1.2h-1.2zM255.1 455.5h1.2v1.2h-1.2zM254.4 424h1.2v1.2h-1.2zM253.7 463.8h1.2v1.2h-1.2zM253 427.2h1.2v1.2h-1.2zM253.3 421.9h1.2v1.2h-1.2zM251.9 459.7h1.2v1.2h-1.2zM253.4 425.8h1.2v1.2h-1.2zM256.8 418.7h1.2v1.2h-1.2zM255.6 462.6h1.2v1.2h-1.2zM252.2 433.2h1.2v1.2h-1.2zM255.5 437h1.2v1.2h-1.2zM256.8 422.3h1.2v1.2h-1.2zM253.7 442.9h1.2v1.2h-1.2zM254.3 442h1.2v1.2h-1.2zM251.8 429.6h1.2v1.2h-1.2zM254.8 451.7h1.2v1.2h-1.2zM255.5 434.7h1.2v1.2h-1.2zM255.4 451.6h1.2v1.2h-1.2zM256.9 433.7h1.2v1.2h-1.2zM250.4 424.8h1.2v1.2h-1.2zM255.7 438.7h1.2v1.2h-1.2zM256.7 437.6h1.2v1.2h-1.2zM250.9 444.7h1.2v1.2h-1.2zM257.8 435.3h1.2v1.2h-1.2zM252.8 446.7h1.2v1.2h-1.2zM258.3 430.3h1.2v1.2h-1.2zM254.1 420.6h1.2v1.2h-1.2zM257.1 467h1.2v1.2h-1.2zM251.1 452.6h1.2v1.2h-1.2zM248.9 425.7h1.2v1.2h-1.2zM252.4 434.9h1.2v1.2h-1.2zM252.9 424.5h1.2v1.2h-1.2zM253.9 462.4h1.2v1.2h-1.2zM258.8 457.7h1.2v1.2h-1.2zM254.6 462.7h1.2v1.2h-1.2zM254.4 451.6h1.2v1.2h-1.2zM253.9 445.5h1.2v1.2h-1.2zM253.7 459.9h1.2v1.2h-1.2zM254.6 420.1h1.2v1.2h-1.2zM255.4 447.2h1.2v1.2h-1.2zM253.9 444.9h1.2v1.2h-1.2zM256.4 440h1.2v1.2h-1.2zM254.5 423.1h1.2v1.2h-1.2zM256.2 464.4h1.2v1.2h-1.2zM254.8 449.6h1.2v1.2h-1.2zM256 466.3h1.2v1.2h-1.2zM253 430.3h1.2v1.2h-1.2zM253.3 448.8h1.2v1.2h-1.2zM254.3 437.9h1.2v1.2h-1.2zM256.6 442.9h1.2v1.2h-1.2zM256.4 449.2h1.2v1.2h-1.2zM255.2 424.7h1.2v1.2h-1.2zM254.8 445.3h1.2v1.2h-1.2zM253.9 448.1h1.2v1.2h-1.2zM254.1 448.1h1.2v1.2h-1.2zM256.7 417.5h1.2v1.2h-1.2zM254.6 458.4h1.2v1.2h-1.2zM252.7 432.8h1.2v1.2h-1.2zM256.1 465.7h1.2v1.2h-1.2zM255.3 448h1.2v1.2h-1.2zM251.7 453.7h1.2v1.2h-1.2zM256.2 449.9h1.2v1.2h-1.2zM256.6 420.2h1.2v1.2h-1.2zM254.9 430.7h1.2v1.2h-1.2zM256.2 434.3h1.2v1.2h-1.2zM258.3 448h1.2v1.2h-1.2zM254.9 452.2h1.2v1.2h-1.2zM256.4 463.7h1.2v1.2h-1.2zM256.9 424.7h1.2v1.2h-1.2zM252.5 424.2h1.2v1.2h-1.2zM255.4 419h1.2v1.2h-1.2zM257 427h1.2v1.2h-1.2zM255.2 465.5h1.2v1.2h-1.2zM254.3 427.1h1.2v1.2h-1.2zM252.3 432.5h1.2v1.2h-1.2zM254 455.9h1.2v1.2h-1.2zM255.8 435.1h1.2v1.2h-1.2zM253.1 434.4h1.2v1.2h-1.2zM252.8 433.7h1.2v1.2h-1.2zM258.2 431.2h1.2v1.2h-1.2zM256.8 462.4h1.2v1.2h-1.2zM254.3 465.7h1.2v1.2h-1.2zM252.6 428.6h1.2v1.2h-1.2zM254.8 440.7h1.2v1.2h-1.2zM255.9 461.4h1.2v1.2h-1.2zM253 430.6h1.2v1.2h-1.2zM255.5 462.2h1.2v1.2h-1.2zM258.2 424h1.2v1.2h-1.2zM254 438.5h1.2v1.2h-1.2zM258.5 439.2h1.2v1.2h-1.2zM256.8 442.4h1.2v1.2h-1.2zM255.8 465.4h1.2v1.2h-1.2zM253 461.4h1.2v1.2h-1.2zM255.6 430.8h1.2v1.2h-1.2zM255.8 422.8h1.2v1.2h-1.2zM255.8 437.7h1.2v1.2h-1.2zM254.2 434.1h1.2v1.2h-1.2zM253.6 422.3h1.2v1.2h-1.2zM255.3 419.7h1.2v1.2h-1.2zM257.2 456.3h1.2v1.2h-1.2zM257.7 452h1.2v1.2h-1.2zM254.4 431.7h1.2v1.2h-1.2zM256.1 464.7h1.2v1.2h-1.2zM255 442h1.2v1.2h-1.2zM255.2 463.1h1.2v1.2h-1.2zM256.1 446.4h1.2v1.2h-1.2zM253.1 433.4h1.2v1.2h-1.2zM254.9 461.1h1.2v1.2h-1.2zM255.3 429.2h1.2v1.2h-1.2zM255.6 420.8h1.2v1.2h-1.2zM255.5 424.3h1.2v1.2h-1.2zM259.6 431.6h1.2v1.2h-1.2zM252.3 439.5h1.2v1.2h-1.2zM256.2 441.6h1.2v1.2h-1.2zM255.3 440.6h1.2v1.2h-1.2zM253.2 432.6h1.2v1.2h-1.2zM252.6 438.1h1.2v1.2h-1.2zM256.4 436.5h1.2v1.2h-1.2zM257.3 420.9h1.2v1.2h-1.2zM254.3 422.4h1.2v1.2h-1.2zM257.4 458.1h1.2v1.2h-1.2zM256.9 443.5h1.2v1.2h-1.2zM256.2 429.6h1.2v1.2h-1.2zM256.5 464.9h1.2v1.2h-1.2zM254.6 458.6h1.2v1.2h-1.2zM253.9 460.1h1.2v1.2h-1.2zM252.4 430h1.2v1.2h-1.2zM253.2 440h1.2v1.2h-1.2zM256.3 459.2h1.2v1.2h-1.2zM259.1 465.7h1.2v1.2h-1.2zM255.3 444.1h1.2v1.2h-1.2zM255.4 453.7h1.2v1.2h-1.2zM254.7 422h1.2v1.2h-1.2zM255.3 449.2h1.2v1.2h-1.2zM256.5 440.9h1.2v1.2h-1.2zM256.4 461.9h1.2v1.2h-1.2zM254.5 450.6h1.2v1.2h-1.2zM257.5 421h1.2v1.2h-1.2zM249.9 432.2h1.2v1.2h-1.2zM254.9 445.9h1.2v1.2h-1.2zM256.4 456.2h1.2v1.2h-1.2zM255.7 439.5h1.2v1.2h-1.2zM256.3 429.6h1.2v1.2h-1.2zM253.8 417.6h1.2v1.2h-1.2zM255.3 421.4h1.2v1.2h-1.2zM254.7 452.9h1.2v1.2h-1.2zM253.7 429.5h1.2v1.2h-1.2zM257.5 435.8h1.2v1.2h-1.2zM253.3 422.4h1.2v1.2h-1.2zM255.3 443.2h1.2v1.2h-1.2zM254.2 454.6h1.2v1.2h-1.2zM253.7 419.1h1.2v1.2h-1.2zM253 451.4h1.2v1.2h-1.2zM255.1 461.9h1.2v1.2h-1.2zM255.8 422.9h1.2v1.2h-1.2zM254.6 461.6h1.2v1.2h-1.2zM256.1 465.1h1.2v1.2h-1.2zM253.8 441.8h1.2v1.2h-1.2zM251.7 441.8h1.2v1.2h-1.2zM254.7 446.4h1.2v1.2h-1.2zM253.7 432.4h1.2v1.2h-1.2zM251 418.5h1.2v1.2h-1.2zM255.5 422.6h1.2v1.2h-1.2zM256.3 458.6h1.2v1.2h-1.2zM254 443.7h1.2v1.2h-1.2zM256.1 419.7h1.2v1.2h-1.2zM253.2 460.8h1.2v1.2h-1.2zM254.7 444.2h1.2v1.2h-1.2zM254.4 445.9h1.2v1.2h-1.2zM255.8 453.8h1.2v1.2h-1.2zM255.5 454.1h1.2v1.2h-1.2zM256.1 466.4h1.2v1.2h-1.2zM254.4 438.7h1.2v1.2h-1.2zM254.4 454.9h1.2v1.2h-1.2zM254.4 457.5h1.2v1.2h-1.2zM255.6 453.8h1.2v1.2h-1.2zM256.8 465h1.2v1.2h-1.2zM254.5 466.3h1.2v1.2h-1.2zM257.9 429.8h1.2v1.2h-1.2zM253.6 467h1.2v1.2h-1.2zM258.1 429.3h1.2v1.2h-1.2zM255.5 422.5h1.2v1.2h-1.2zM259.3 429.1h1.2v1.2h-1.2zM256.4 457.9h1.2v1.2h-1.2zM255.7 439.1h1.2v1.2h-1.2zM256.5 418.3h1.2v1.2h-1.2zM256.8 440.5h1.2v1.2h-1.2zM253.3 418.1h1.2v1.2h-1.2zM256.6 435.2h1.2v1.2h-1.2zM251.9 428.2h1.2v1.2h-1.2zM258 452.9h1.2v1.2h-1.2zM256.5 418h1.2v1.2h-1.2zM255.7 460.5h1.2v1.2h-1.2zM256.9 448.1h1.2v1.2h-1.2zM256.2 451.3h1.2v1.2h-1.2zM253.2 423.3h1.2v1.2h-1.2zM257.7 428h1.2v1.2h-1.2zM258 427.8h1.2v1.2h-1.2zM257.7 446.4h1.2v1.2h-1.2zM249.7 429.7h1.2v1.2h-1.2zM255.6 457.3h1.2v1.2h-1.2zM255.9 432.2h1.2v1.2h-1.2zM256.4 445.1h1.2v1.2h-1.2zM256.5 467.9h1.2v1.2h-1.2zM255.7 467.6h1.2v1.2h-1.2zM252.4 441h1.2v1.2h-1.2zM255 466.5h1.2v1.2h-1.2zM254.1 422.3h1.2v1.2h-1.2zM254 431.7h1.2v1.2h-1.2zM257.8 461h1.2v1.2h-1.2zM257.1 432.4h1.2v1.2h-1.2zM255.6 421.4h1.2v1.2h-1.2zM252.1 430h1.2v1.2h-1.2zM257.3 450.6h1.2v1.2h-1.2zM252.9 445.4h1.2v1.2h-1.2zM253.6 426h1.2v1.2h-1.2zM256.7 435.2h1.2v1.2h-1.2zM258.6 432.5h1.2v1.2h-1.2zM253.4 460.8h1.2v1.2h-1.2zM254.8 418.1h1.2v1.2h-1.2zM256.8 460.6h1.2v1.2h-1.2zM254.7 431h1.2v1.2h-1.2zM257 464.9h1.2v1.2h-1.2zM257.5 431.7h1.2v1.2h-1.2zM256.6 422.4h1.2v1.2h-1.2zM252.5 424.3h1.2v1.2h-1.2zM255.6 418.7h1.2v1.2h-1.2zM256.7 451.8h1.2v1.2h-1.2zM255.9 460.7h1.2v1.2h-1.2zM256.7 460.9h1.2v1.2h-1.2zM256.4 429.6h1.2v1.2h-1.2zM255.1 458.9h1.2v1.2h-1.2zM253.8 421.6h1.2v1.2h-1.2zM256.1 434h1.2v1.2h-1.2zM254.3 418.3h1.2v1.2h-1.2zM255.8 418.6h1.2v1.2h-1.2zM255.8 452.5h1.2v1.2h-1.2zM253.2 438h1.2v1.2h-1.2zM254.8 422.5h1.2v1.2h-1.2zM255.2 425.7h1.2v1.2h-1.2zM255.8 438.9h1.2v1.2h-1.2zM256.1 438.7h1.2v1.2h-1.2zM255.3 451.4h1.2v1.2h-1.2zM257.2 428.9h1.2v1.2h-1.2zM256.8 452.4h1.2v1.2h-1.2zM251.3 434.2h1.2v1.2h-1.2zM254.8 427.4h1.2v1.2h-1.2zM256.2 456.7h1.2v1.2h-1.2zM255.5 427.4h1.2v1.2h-1.2zM254.1 467.8h1.2v1.2h-1.2zM255.2 443.8h1.2v1.2h-1.2zM254.7 445.9h1.2v1.2h-1.2zM253.9 461.6h1.2v1.2h-1.2zM255.3 451h1.2v1.2h-1.2zM256 454.1h1.2v1.2h-1.2zM255.7 441h1.2v1.2h-1.2zM254.5 461h1.2v1.2h-1.2zM252.5 426.7h1.2v1.2h-1.2zM254 422.8h1.2v1.2h-1.2zM252.2 423.9h1.2v1.2h-1.2zM253 418.6h1.2v1.2h-1.2zM251.5 439.7h1.2v1.2h-1.2zM254.5 420.1h1.2v1.2h-1.2zM251.7 425.5h1.2v1.2h-1.2zM254.1 455h1.2v1.2h-1.2zM259.2 421.4h1.2v1.2h-1.2zM254.4 442.2h1.2v1.2h-1.2zM257.1 440h1.2v1.2h-1.2zM256 448.5h1.2v1.2h-1.2zM255.5 453.4h1.2v1.2h-1.2zM254.5 449.5h1.2v1.2h-1.2zM255.2 448h1.2v1.2h-1.2zM251.5 421.7h1.2v1.2h-1.2zM254.7 466.3h1.2v1.2h-1.2zM254.4 454.2h1.2v1.2h-1.2zM257 421.8h1.2v1.2h-1.2zM255.3 434h1.2v1.2h-1.2zM252.6 430.5h1.2v1.2h-1.2zM256.8 430.9h1.2v1.2h-1.2zM254.6 445h1.2v1.2h-1.2zM255.4 428.8h1.2v1.2h-1.2zM254.7 430.1h1.2v1.2h-1.2zM255 434h1.2v1.2h-1.2zM255.9 447h1.2v1.2h-1.2zM254.2 462.4h1.2v1.2h-1.2zM256 423.5h1.2v1.2h-1.2zM252.7 420.3h1.2v1.2h-1.2zM257.4 418.9h1.2v1.2h-1.2zM256.2 446.9h1.2v1.2h-1.2zM255.8 466h1.2v1.2h-1.2zM253.9 449.1h1.2v1.2h-1.2zM254.2 435.3h1.2v1.2h-1.2zM256.1 456.2h1.2v1.2h-1.2zM254.6 431.6h1.2v1.2h-1.2zM252.2 429.8h1.2v1.2h-1.2zM256.2 448h1.2v1.2h-1.2zM255 436h1.2v1.2h-1.2zM256.6 420.2h1.2v1.2h-1.2zM253.7 449.3h1.2v1.2h-1.2zM257.1 420.7h1.2v1.2h-1.2zM252.5 438.7h1.2v1.2h-1.2zM257.1 429.7h1.2v1.2h-1.2zM258.3 429.2h1.2v1.2h-1.2zM256 423.3h1.2v1.2h-1.2zM255.5 446.3h1.2v1.2h-1.2zM252.6 426.5h1.2v1.2h-1.2zM254.7 430.5h1.2v1.2h-1.2zM256.9 417.9h1.2v1.2h-1.2zM257 444.2h1.2v1.2h-1.2zM254.6 449.8h1.2v1.2h-1.2zM254.7 433.1h1.2v1.2h-1.2zM254.6 421.2h1.2v1.2h-1.2zM255.2 458.6h1.2v1.2h-1.2zM256.6 433.6h1.2v1.2h-1.2zM256.4 425h1.2v1.2h-1.2zM253.2 435.8h1.2v1.2h-1.2zM254.7 447.1h1.2v1.2h-1.2zM257.6 438.3h1.2v1.2h-1.2zM252.7 418.2h1.2v1.2h-1.2zM257.7 441.3h1.2v1.2h-1.2zM254.5 420.2h1.2v1.2h-1.2zM251.5 429.1h1.2v1.2h-1.2zM257.3 452.4h1.2v1.2h-1.2zM255.7 455.7h1.2v1.2h-1.2zM252.9 454.1h1.2v1.2h-1.2zM255.9 464.6h1.2v1.2h-1.2zM252.6 419.7h1.2v1.2h-1.2zM255.1 434.4h1.2v1.2h-1.2zM256 418.8h1.2v1.2h-1.2zM257.6 467.1h1.2v1.2h-1.2zM255.6 457.2h1.2v1.2h-1.2zM255.2 449h1.2v1.2h-1.2zM258.1 430h1.2v1.2h-1.2zM256.6 421.3h1.2v1.2h-1.2zM254.1 430.9h1.2v1.2h-1.2zM251.7 424.6h1.2v1.2h-1.2zM254.2 431.6h1.2v1.2h-1.2zM256.6 417.8h1.2v1.2h-1.2zM253.2 423h1.2v1.2h-1.2zM253.9 427.7h1.2v1.2h-1.2zM254.9 431.3h1.2v1.2h-1.2zM256.8 428h1.2v1.2h-1.2zM255.5 453.1h1.2v1.2h-1.2zM256.4 419h1.2v1.2h-1.2zM257.4 457.1h1.2v1.2h-1.2zM257 439.1h1.2v1.2h-1.2zM255.6 459.2h1.2v1.2h-1.2zM256.2 423h1.2v1.2h-1.2zM256.4 467.7h1.2v1.2h-1.2zM254.9 425.5h1.2v1.2h-1.2zM255.2 419.5h1.2v1.2h-1.2zM253.7 420h1.2v1.2h-1.2zM255.7 452.1h1.2v1.2h-1.2zM255.4 464.8h1.2v1.2h-1.2zM253.4 432.1h1.2v1.2h-1.2zM256 455.1h1.2v1.2h-1.2zM254.1 420.9h1.2v1.2h-1.2zM254.7 434.5h1.2v1.2h-1.2zM256.4 447h1.2v1.2h-1.2zM256.7 455h1.2v1.2h-1.2zM255.5 434.6h1.2v1.2h-1.2zM256.5 458.8h1.2v1.2h-1.2zM253.7 421h1.2v1.2h-1.2zM257.6 442.3h1.2v1.2h-1.2zM254.4 424.8h1.2v1.2h-1.2zM258.5 447.9h1.2v1.2h-1.2zM254.2 418.9h1.2v1.2h-1.2zM255.1 439.4h1.2v1.2h-1.2zM256.7 443.4h1.2v1.2h-1.2zM255.2 426.3h1.2v1.2h-1.2zM254.1 424.9h1.2v1.2h-1.2zM254.7 421.7h1.2v1.2h-1.2zM257.6 441.6h1.2v1.2h-1.2zM254.3 460.5h1.2v1.2h-1.2zM254 442.6h1.2v1.2h-1.2zM258 465.3h1.2v1.2h-1.2zM254.1 431.5h1.2v1.2h-1.2zM254.7 462.2h1.2v1.2h-1.2zM255.5 460.2h1.2v1.2h-1.2zM255.9 453.5h1.2v1.2h-1.2zM255.2 450.5h1.2v1.2h-1.2zM254.1 463.4h1.2v1.2h-1.2zM256.8 420.2h1.2v1.2h-1.2zM255.9 423.6h1.2v1.2h-1.2zM254.1 444.2h1.2v1.2h-1.2zM256.1 460.6h1.2v1.2h-1.2zM255.7 466.8h1.2v1.2h-1.2zM259.9 418.4h1.2v1.2h-1.2zM252 419.4h1.2v1.2h-1.2zM255 444.8h1.2v1.2h-1.2zM256.3 440.5h1.2v1.2h-1.2zM253.8 462.1h1.2v1.2h-1.2zM254.8 456.2h1.2v1.2h-1.2zM252.7 465.8h1.2v1.2h-1.2zM255.7 434.6h1.2v1.2h-1.2zM256.9 460.5h1.2v1.2h-1.2zM256.9 449.1h1.2v1.2h-1.2zM254.6 443.6h1.2v1.2h-1.2zM256.1 420.9h1.2v1.2h-1.2zM253 442.8h1.2v1.2h-1.2zM255 459h1.2v1.2h-1.2zM256.3 449.5h1.2v1.2h-1.2zM254.5 421.4h1.2v1.2h-1.2zM255.3 424.5h1.2v1.2h-1.2zM251.4 436.9h1.2v1.2h-1.2zM253.4 440.1h1.2v1.2h-1.2zM253.5 456.4h1.2v1.2h-1.2zM256 443.9h1.2v1.2h-1.2zM257.2 461.6h1.2v1.2h-1.2zM255.5 425.8h1.2v1.2h-1.2zM256.7 425.2h1.2v1.2h-1.2zM255.7 465.7h1.2v1.2h-1.2zM258 453.7h1.2v1.2h-1.2zM255.8 433.6h1.2v1.2h-1.2zM254.5 447.4h1.2v1.2h-1.2zM254.6 428.4h1.2v1.2h-1.2zM256.1 462.9h1.2v1.2h-1.2zM254.6 437.2h1.2v1.2h-1.2zM257.1 427h1.2v1.2h-1.2zM256.8 468.2h1.2v1.2h-1.2zM254.4 422h1.2v1.2h-1.2zM251.9 425.8h1.2v1.2h-1.2zM256 466h1.2v1.2h-1.2zM256.9 438.3h1.2v1.2h-1.2zM255.2 448h1.2v1.2h-1.2zM258.5 433.4h1.2v1.2h-1.2zM253.3 419.5h1.2v1.2h-1.2zM255.6 420.4h1.2v1.2h-1.2zM253.5 430h1.2v1.2h-1.2zM257.3 432.1h1.2v1.2h-1.2zM254.7 441.3h1.2v1.2h-1.2zM253.5 422h1.2v1.2h-1.2zM255.1 434.9h1.2v1.2h-1.2zM255.6 459h1.2v1.2h-1.2zM252.5 419.2h1.2v1.2h-1.2zM256.1 419.3h1.2v1.2h-1.2zM259.4 435.3h1.2v1.2h-1.2zM253.7 436.6h1.2v1.2h-1.2zM251.3 441.8h1.2v1.2h-1.2zM256.4 453.5h1.2v1.2h-1.2zM258.1 433.9h1.2v1.2h-1.2zM253.8 423.5h1.2v1.2h-1.2zM251.4 425.6h1.2v1.2h-1.2zM253.8 446.4h1.2v1.2h-1.2zM256.3 422.1h1.2v1.2h-1.2zM257.5 464.1h1.2v1.2h-1.2zM257.8 421.9h1.2v1.2h-1.2zM253.4 420.1h1.2v1.2h-1.2zM259.5 427.8h1.2v1.2h-1.2zM256 453.2h1.2v1.2h-1.2zM258.6 436.7h1.2v1.2h-1.2zM255.7 455.5h1.2v1.2h-1.2zM260.4 430.8h1.2v1.2h-1.2zM252.7 423.8h1.2v1.2h-1.2zM256.4 419.7h1.2v1.2h-1.2zM256.4 451.3h1.2v1.2h-1.2zM256.1 449.6h1.2v1.2h-1.2zM253.2 456h1.2v1.2h-1.2zM254.2 435.2h1.2v1.2h-1.2zM254.5 424.6h1.2v1.2h-1.2zM258.4 423.2h1.2v1.2h-1.2zM259.4 422.3h1.2v1.2h-1.2zM252.7 440.1h1.2v1.2h-1.2z" fill="#000"/>
<path d="M243 432.4h1v1h-1zM249 435.3h1v1h-1zM248.9 442.4h1v1h-1zM243.3 428.8h1v1h-1zM243.9 438.1h1v1h-1zM248.7 440.3h1v1h-1zM243.1 452.9h1v1h-1zM243 455.8h1v1h-1zM247.5 436h1v1h-1zM245.5 431.1h1v1h-1zM245.7 440.5h1v1h-1zM248.8 455.4h1v1h-1zM247.4 455.9h1v1h-1zM247.4 454.9h1v1h-1zM243.8 436.4h1v1h-1zM248.2 457h1v1h-1zM244.4 444.8h1v1h-1zM246.4 430.7h1v1h-1zM246.5 440.6h1v1h-1zM243.6 448.1h1v1h-1zM247 446.7h1v1h-1zM244.6 421h1v1h-1zM246.8 459.7h1v1h-1zM247.1 429.2h1v1h-1zM247.7 421.3h1v1h-1z" fill="#000"/>
<rect x="198.4" y="341.5" width="129.8" height="130.5" fill="none" stroke="#000" stroke-width="1.3"/>
<path d="M241.9 341.5V472M198.4 422.6H328.2" stroke="#000" stroke-width="1.3" fill="none"/>
<path d="M198.4 472v4.5M198.4 472h-4.5M204.7 472v4.2M198.4 465.7h-4.2M208.4 472v4.2M198.4 462h-4.2M211 472v4.2M198.4 459.3h-4.2M213 472v4.2M198.4 457.3h-4.2M214.7 472v4.2M198.4 455.6h-4.2M216.1 472v4.2M198.4 454.2h-4.2M217.3 472v4.2M198.4 453h-4.2M218.4 472v4.2M198.4 451.9h-4.2M219.3 472v4.5M198.4 451h-4.5M225.6 472v4.2M198.4 444.6h-4.2M229.3 472v4.2M198.4 440.9h-4.2M231.9 472v4.2M198.4 438.3h-4.2M234 472v4.2M198.4 436.2h-4.2M235.6 472v4.2M198.4 434.6h-4.2M237 472v4.2M198.4 433.2h-4.2M238.2 472v4.2M198.4 431.9h-4.2M239.3 472v4.2M198.4 430.9h-4.2M240.3 472v4.5M198.4 429.9h-4.5M246.6 472v4.2M198.4 423.6h-4.2M250.3 472v4.2M198.4 419.9h-4.2M252.9 472v4.2M198.4 417.2h-4.2M254.9 472v4.2M198.4 415.2h-4.2M256.6 472v4.2M198.4 413.5h-4.2M258 472v4.2M198.4 412.1h-4.2M259.2 472v4.2M198.4 410.9h-4.2M260.2 472v4.2M198.4 409.8h-4.2M261.2 472v4.5M198.4 408.9h-4.5M267.5 472v4.2M198.4 402.5h-4.2M271.2 472v4.2M198.4 398.8h-4.2M273.8 472v4.2M198.4 396.2h-4.2M275.8 472v4.2M198.4 394.1h-4.2M277.5 472v4.2M198.4 392.5h-4.2M278.9 472v4.2M198.4 391.1h-4.2M280.1 472v4.2M198.4 389.8h-4.2M281.2 472v4.2M198.4 388.8h-4.2M282.1 472v4.5M198.4 387.8h-4.5M288.4 472v4.2M198.4 381.5h-4.2M292.1 472v4.2M198.4 377.8h-4.2M294.7 472v4.2M198.4 375.1h-4.2M296.8 472v4.2M198.4 373.1h-4.2M298.4 472v4.2M198.4 371.4h-4.2M299.8 472v4.2M198.4 370h-4.2M301 472v4.2M198.4 368.8h-4.2M302.1 472v4.2M198.4 367.7h-4.2M303.1 472v4.5M198.4 366.8h-4.5M309.4 472v4.2M198.4 360.4h-4.2M313.1 472v4.2M198.4 356.7h-4.2M315.7 472v4.2M198.4 354.1h-4.2M317.7 472v4.2M198.4 352h-4.2M319.4 472v4.2M198.4 350.4h-4.2M320.8 472v4.2M198.4 349h-4.2M322 472v4.2M198.4 347.7h-4.2M323.1 472v4.2M198.4 346.7h-4.2M324 472v4.5M198.4 345.7h-4.5M328.2 472v4.5M198.4 341.5h-4.5" stroke="#000" stroke-width="1" fill="none"/>
<text x="198.2" y="485" class="tl" text-anchor="middle">ω<tspan class="sup" dy="-1.5">1</tspan></text><text transform="translate(190.1 472.3) rotate(-90)" class="tl" text-anchor="middle">ω<tspan class="sup" dy="-1.5">1</tspan></text><text x="219.1" y="485" class="tl" text-anchor="middle">ω<tspan class="sup" dy="-1.5">2</tspan></text><text transform="translate(190.1 451.3) rotate(-90)" class="tl" text-anchor="middle">ω<tspan class="sup" dy="-1.5">2</tspan></text><text x="240.1" y="485" class="tl" text-anchor="middle">ω<tspan class="sup" dy="-1.5">3</tspan></text><text transform="translate(190.1 430.2) rotate(-90)" class="tl" text-anchor="middle">ω<tspan class="sup" dy="-1.5">3</tspan></text><text x="261" y="485" class="tl" text-anchor="middle">ω<tspan class="sup" dy="-1.5">4</tspan></text><text transform="translate(190.1 409.2) rotate(-90)" class="tl" text-anchor="middle">ω<tspan class="sup" dy="-1.5">4</tspan></text><text x="281.9" y="485" class="tl" text-anchor="middle">ω<tspan class="sup" dy="-1.5">5</tspan></text><text transform="translate(190.1 388.1) rotate(-90)" class="tl" text-anchor="middle">ω<tspan class="sup" dy="-1.5">5</tspan></text><text x="302.9" y="485" class="tl" text-anchor="middle">ω<tspan class="sup" dy="-1.5">6</tspan></text><text transform="translate(190.1 367.1) rotate(-90)" class="tl" text-anchor="middle">ω<tspan class="sup" dy="-1.5">6</tspan></text><text x="328" y="485" class="tl" text-anchor="middle">ω<tspan class="sup" dy="-1.5">7.2</tspan></text><text transform="translate(190.1 341.8) rotate(-90)" class="tl" text-anchor="middle">ω<tspan class="sup" dy="-1.5">7.2</tspan></text>
<text x="211.8" y="353" class="qn">0.17</text>
<text x="290" y="354.9" class="qn">3.69</text>
<text x="291.3" y="435.8" class="qn">1.17</text>
<polygon points="371,427 382,425 395,422.5 407,420 417,418 417,418 416,440 413,460 411,472.8 370.5,472.8" fill="#000"/>
<path d="M375.8 425.2h1.2v1.2h-1.2zM378 419.8h1.2v1.2h-1.2zM396.9 419.1h1.2v1.2h-1.2zM388.7 422.8h1.2v1.2h-1.2zM399.7 420h1.2v1.2h-1.2zM379.7 424.6h1.2v1.2h-1.2zM411.2 415.7h1.2v1.2h-1.2zM387.3 422.8h1.2v1.2h-1.2zM414.2 411.1h1.2v1.2h-1.2zM395.4 420.6h1.2v1.2h-1.2zM408 417.4h1.2v1.2h-1.2zM385 416.6h1.2v1.2h-1.2zM412.7 417.5h1.2v1.2h-1.2zM414.6 413.9h1.2v1.2h-1.2zM414.6 411.4h1.2v1.2h-1.2zM384 420.6h1.2v1.2h-1.2zM379 424.4h1.2v1.2h-1.2zM382 423.6h1.2v1.2h-1.2zM384.8 420h1.2v1.2h-1.2zM399.6 420.8h1.2v1.2h-1.2zM408.2 418.7h1.2v1.2h-1.2zM406.3 418.8h1.2v1.2h-1.2zM414 415.8h1.2v1.2h-1.2zM398.7 420.3h1.2v1.2h-1.2zM409.5 418.6h1.2v1.2h-1.2zM408.1 417.4h1.2v1.2h-1.2zM389 421.9h1.2v1.2h-1.2zM371.3 424.9h1.2v1.2h-1.2zM392.2 421.4h1.2v1.2h-1.2zM379.3 423h1.2v1.2h-1.2zM391.1 422h1.2v1.2h-1.2zM380.9 424.1h1.2v1.2h-1.2zM371 423.7h1.2v1.2h-1.2zM378.4 422.6h1.2v1.2h-1.2zM387.7 423h1.2v1.2h-1.2zM379.9 422.1h1.2v1.2h-1.2zM385.1 422h1.2v1.2h-1.2zM373.3 419.8h1.2v1.2h-1.2zM390.8 419.3h1.2v1.2h-1.2zM379.6 419h1.2v1.2h-1.2zM380.7 422.2h1.2v1.2h-1.2zM411.3 416.4h1.2v1.2h-1.2zM374.7 421.5h1.2v1.2h-1.2zM406 417.2h1.2v1.2h-1.2zM399 420.8h1.2v1.2h-1.2zM384.1 423.1h1.2v1.2h-1.2zM380.6 421.3h1.2v1.2h-1.2zM376.2 424.7h1.2v1.2h-1.2zM378.4 424.6h1.2v1.2h-1.2zM410.6 418.5h1.2v1.2h-1.2zM372 423.1h1.2v1.2h-1.2zM384.1 423.2h1.2v1.2h-1.2zM377.6 423.2h1.2v1.2h-1.2zM375.3 424.4h1.2v1.2h-1.2zM399.7 420.8h1.2v1.2h-1.2zM390.6 422.3h1.2v1.2h-1.2zM371.6 423h1.2v1.2h-1.2zM371.5 425.8h1.2v1.2h-1.2zM414.4 417.7h1.2v1.2h-1.2zM390.2 420.2h1.2v1.2h-1.2zM395.1 414.6h1.2v1.2h-1.2zM389.3 418.5h1.2v1.2h-1.2zM382.2 423.2h1.2v1.2h-1.2zM416 416.4h1.2v1.2h-1.2zM397.3 417.4h1.2v1.2h-1.2zM409.8 413.6h1.2v1.2h-1.2zM371.3 425.3h1.2v1.2h-1.2zM413.4 417.1h1.2v1.2h-1.2zM380.9 423.9h1.2v1.2h-1.2zM408.8 417.2h1.2v1.2h-1.2zM388 422.7h1.2v1.2h-1.2zM382.7 423.6h1.2v1.2h-1.2zM393 422h1.2v1.2h-1.2zM394.7 420h1.2v1.2h-1.2z" fill="#000"/>
<path d="M405.1 420.6h1.2v1.2h-1.2zM405.5 419.8h1.2v1.2h-1.2zM408.7 419.2h1.2v1.2h-1.2zM386.5 424.5h1.2v1.2h-1.2zM375.6 427.5h1.2v1.2h-1.2zM408 420.6h1.2v1.2h-1.2zM385.7 423.8h1.2v1.2h-1.2zM379.3 425.1h1.2v1.2h-1.2zM399.5 421.2h1.2v1.2h-1.2zM396.8 423.2h1.2v1.2h-1.2zM411.4 420.1h1.2v1.2h-1.2zM385.8 425.1h1.2v1.2h-1.2zM414.3 419.1h1.2v1.2h-1.2zM374.4 426.6h1.2v1.2h-1.2zM392.2 422.3h1.2v1.2h-1.2zM384.2 426.2h1.2v1.2h-1.2zM392.7 425.3h1.2v1.2h-1.2zM409.8 419.5h1.2v1.2h-1.2zM395.1 422h1.2v1.2h-1.2zM400.5 420.8h1.2v1.2h-1.2zM395.3 422.5h1.2v1.2h-1.2zM402.8 421.7h1.2v1.2h-1.2zM413.4 420.7h1.2v1.2h-1.2z" fill="#fff"/>
<path d="M412 463.5h1.2v1.2h-1.2zM417.2 442.2h1.2v1.2h-1.2zM415.2 440.5h1.2v1.2h-1.2zM414.1 449.8h1.2v1.2h-1.2zM416.7 418.7h1.2v1.2h-1.2zM416.3 430.1h1.2v1.2h-1.2zM417.8 440.1h1.2v1.2h-1.2zM414.6 450.8h1.2v1.2h-1.2zM416.6 438.3h1.2v1.2h-1.2zM419.5 436.6h1.2v1.2h-1.2zM417.9 439.4h1.2v1.2h-1.2zM415.2 448h1.2v1.2h-1.2zM416.5 450.3h1.2v1.2h-1.2zM416.7 443.8h1.2v1.2h-1.2zM417.7 433.2h1.2v1.2h-1.2zM416.4 430.1h1.2v1.2h-1.2zM413.1 468.9h1.2v1.2h-1.2zM414.1 452.6h1.2v1.2h-1.2zM414.6 449h1.2v1.2h-1.2zM417.7 429.5h1.2v1.2h-1.2zM416.1 424.7h1.2v1.2h-1.2zM414 453.9h1.2v1.2h-1.2zM417.3 436.3h1.2v1.2h-1.2zM413.3 465.8h1.2v1.2h-1.2zM418.7 424.4h1.2v1.2h-1.2zM418.9 448.1h1.2v1.2h-1.2zM416.9 423.3h1.2v1.2h-1.2zM416.8 422h1.2v1.2h-1.2zM415.9 442.9h1.2v1.2h-1.2zM417.9 436.6h1.2v1.2h-1.2zM412.5 468.7h1.2v1.2h-1.2zM417.8 443.2h1.2v1.2h-1.2zM415.3 451.4h1.2v1.2h-1.2zM417.2 431.4h1.2v1.2h-1.2zM413.2 455.5h1.2v1.2h-1.2zM415.5 450h1.2v1.2h-1.2zM416.1 449.1h1.2v1.2h-1.2zM416.2 469.1h1.2v1.2h-1.2zM414.1 469.2h1.2v1.2h-1.2zM418.3 426.3h1.2v1.2h-1.2zM414.1 457h1.2v1.2h-1.2zM415.8 442.3h1.2v1.2h-1.2zM416.4 438.2h1.2v1.2h-1.2zM418.9 428.7h1.2v1.2h-1.2zM420.2 450.5h1.2v1.2h-1.2zM420.3 446.5h1.2v1.2h-1.2zM411 469.8h1.2v1.2h-1.2zM416.1 446.8h1.2v1.2h-1.2zM412.1 467.6h1.2v1.2h-1.2zM412.9 459.3h1.2v1.2h-1.2zM416.4 437.1h1.2v1.2h-1.2zM414.3 450.3h1.2v1.2h-1.2zM416 426.4h1.2v1.2h-1.2zM419.6 426.8h1.2v1.2h-1.2zM412.3 464.3h1.2v1.2h-1.2zM415.9 442.5h1.2v1.2h-1.2zM414.6 448.4h1.2v1.2h-1.2zM417.8 419.7h1.2v1.2h-1.2zM413.9 470.7h1.2v1.2h-1.2zM413.9 451.2h1.2v1.2h-1.2zM416.5 440.6h1.2v1.2h-1.2zM412.2 471.8h1.2v1.2h-1.2zM414 456.8h1.2v1.2h-1.2zM412.9 458.3h1.2v1.2h-1.2zM415.8 472h1.2v1.2h-1.2zM414.1 454.5h1.2v1.2h-1.2z" fill="#000"/>
<path d="M411.6 464.2h1.2v1.2h-1.2zM414.3 430.7h1.2v1.2h-1.2zM411.4 462.5h1.2v1.2h-1.2zM409.2 455h1.2v1.2h-1.2zM411 460.9h1.2v1.2h-1.2zM408.8 460.7h1.2v1.2h-1.2zM414.5 442.6h1.2v1.2h-1.2zM414.8 436.1h1.2v1.2h-1.2zM410.7 469.9h1.2v1.2h-1.2zM413.3 451.6h1.2v1.2h-1.2zM415.2 426.9h1.2v1.2h-1.2zM412.9 440.6h1.2v1.2h-1.2zM413.9 431.8h1.2v1.2h-1.2zM415.6 420.1h1.2v1.2h-1.2zM415.4 434.9h1.2v1.2h-1.2zM413.7 446.2h1.2v1.2h-1.2zM415.2 433.2h1.2v1.2h-1.2zM411.6 459.8h1.2v1.2h-1.2zM411.2 454.6h1.2v1.2h-1.2zM409.2 461.8h1.2v1.2h-1.2zM411.9 454.8h1.2v1.2h-1.2zM410.7 435.7h1.2v1.2h-1.2zM416 421.9h1.2v1.2h-1.2zM415.3 423h1.2v1.2h-1.2zM407 465.4h1.2v1.2h-1.2zM408.8 454.3h1.2v1.2h-1.2zM414.5 430.3h1.2v1.2h-1.2zM414.3 435.9h1.2v1.2h-1.2zM411.1 465.8h1.2v1.2h-1.2zM414.3 445.7h1.2v1.2h-1.2zM415.4 424h1.2v1.2h-1.2zM414.5 445.1h1.2v1.2h-1.2zM411.8 463.2h1.2v1.2h-1.2zM411.8 459.6h1.2v1.2h-1.2zM412.8 437.1h1.2v1.2h-1.2zM415.3 419.1h1.2v1.2h-1.2zM413.8 425.8h1.2v1.2h-1.2zM412.3 457.6h1.2v1.2h-1.2zM411.9 461.1h1.2v1.2h-1.2zM415.7 425.8h1.2v1.2h-1.2zM411 439.6h1.2v1.2h-1.2zM414.8 432.8h1.2v1.2h-1.2zM411.3 446.4h1.2v1.2h-1.2zM415.2 428.7h1.2v1.2h-1.2zM411.5 425.2h1.2v1.2h-1.2zM411.5 458.1h1.2v1.2h-1.2zM414.1 437h1.2v1.2h-1.2zM414.8 437.2h1.2v1.2h-1.2zM412.9 455.1h1.2v1.2h-1.2z" fill="#fff"/>
<path d="M370.9 471h1.3v1.3h-1.3zM386.9 471.1h1.3v1.3h-1.3zM373.4 468.6h1.3v1.3h-1.3zM373.8 464.2h1.3v1.3h-1.3zM377.5 459.4h1.3v1.3h-1.3zM371.6 451.4h1.3v1.3h-1.3zM376.1 463.9h1.3v1.3h-1.3zM372.6 466.5h1.3v1.3h-1.3zM370.4 458.6h1.3v1.3h-1.3zM373 464.9h1.3v1.3h-1.3zM374.9 466.2h1.3v1.3h-1.3zM372.1 463.7h1.3v1.3h-1.3zM371.6 456.9h1.3v1.3h-1.3zM373.9 455.1h1.3v1.3h-1.3zM370.5 472.1h1.3v1.3h-1.3zM370.7 467.5h1.3v1.3h-1.3zM370.9 466.9h1.3v1.3h-1.3zM371.2 471.6h1.3v1.3h-1.3zM375.8 455.4h1.3v1.3h-1.3zM377 471.9h1.3v1.3h-1.3zM374.6 453h1.3v1.3h-1.3zM371.6 454.2h1.3v1.3h-1.3zM380.5 461.8h1.3v1.3h-1.3zM375.4 469.3h1.3v1.3h-1.3zM371 471.3h1.3v1.3h-1.3zM370.7 456.8h1.3v1.3h-1.3zM377.7 468.6h1.3v1.3h-1.3zM381.4 467h1.3v1.3h-1.3zM376.7 472h1.3v1.3h-1.3zM386 470.1h1.3v1.3h-1.3zM372.9 469h1.3v1.3h-1.3zM373.8 464.7h1.3v1.3h-1.3zM372.1 466.2h1.3v1.3h-1.3zM373.9 470.5h1.3v1.3h-1.3zM379.6 471.4h1.3v1.3h-1.3zM375.1 470.2h1.3v1.3h-1.3zM378.5 470.2h1.3v1.3h-1.3zM376.2 468.5h1.3v1.3h-1.3zM375.4 466.8h1.3v1.3h-1.3zM373.6 463.1h1.3v1.3h-1.3zM379.3 472.1h1.3v1.3h-1.3zM370.7 467.4h1.3v1.3h-1.3zM378.2 463h1.3v1.3h-1.3zM377.1 469.4h1.3v1.3h-1.3zM374.5 466.6h1.3v1.3h-1.3zM370.9 464.8h1.3v1.3h-1.3zM370.5 467.2h1.3v1.3h-1.3zM373.6 467.7h1.3v1.3h-1.3zM380.7 463.6h1.3v1.3h-1.3zM375.4 467.8h1.3v1.3h-1.3zM376.6 465h1.3v1.3h-1.3zM372 468.3h1.3v1.3h-1.3zM371.3 453h1.3v1.3h-1.3zM373.5 466.5h1.3v1.3h-1.3zM382.2 468.4h1.3v1.3h-1.3zM373.3 472h1.3v1.3h-1.3zM373.9 469.2h1.3v1.3h-1.3zM374.8 464.1h1.3v1.3h-1.3zM374.6 470.2h1.3v1.3h-1.3zM381.8 462.9h1.3v1.3h-1.3zM371.6 458.1h1.3v1.3h-1.3zM373.4 471.7h1.3v1.3h-1.3zM375.1 466.8h1.3v1.3h-1.3zM375.4 464.4h1.3v1.3h-1.3zM372.4 455.8h1.3v1.3h-1.3zM370.8 472.2h1.3v1.3h-1.3zM378 471.4h1.3v1.3h-1.3zM375.2 471h1.3v1.3h-1.3zM372.7 469.4h1.3v1.3h-1.3zM374.4 471.3h1.3v1.3h-1.3zM375.9 465.5h1.3v1.3h-1.3zM372 451.4h1.3v1.3h-1.3zM373.8 472.1h1.3v1.3h-1.3zM386.9 468.6h1.3v1.3h-1.3zM375 462.1h1.3v1.3h-1.3zM380 463.7h1.3v1.3h-1.3zM384.1 453.4h1.3v1.3h-1.3zM386.9 466.6h1.3v1.3h-1.3zM372.5 469.4h1.3v1.3h-1.3zM376.1 463.4h1.3v1.3h-1.3zM375.8 471.8h1.3v1.3h-1.3zM372.1 468.7h1.3v1.3h-1.3zM378 466h1.3v1.3h-1.3zM377.2 451.7h1.3v1.3h-1.3zM376.5 462.4h1.3v1.3h-1.3zM372.2 463.3h1.3v1.3h-1.3zM381.6 464.2h1.3v1.3h-1.3zM372.2 453.9h1.3v1.3h-1.3zM373 466.2h1.3v1.3h-1.3zM372.9 468h1.3v1.3h-1.3zM380.4 466h1.3v1.3h-1.3zM382.7 458.9h1.3v1.3h-1.3z" fill="#fff"/>
<path d="M372.8 428V458" stroke="#ccc" stroke-width="1.2"/>
<polygon points="414,419 419,412 428,407 432,407 426,413 419,419" fill="#000"/>
<path d="M421.5 419h1.2v1.2h-1.2zM426.4 411.8h1.2v1.2h-1.2zM444.2 403.9h1.2v1.2h-1.2zM432.3 406.9h1.2v1.2h-1.2zM426.2 412.8h1.2v1.2h-1.2zM453.2 398.2h1.2v1.2h-1.2zM435.2 406h1.2v1.2h-1.2zM440.5 401.7h1.2v1.2h-1.2zM443.2 403.2h1.2v1.2h-1.2zM419.6 412.9h1.2v1.2h-1.2zM451.2 399.6h1.2v1.2h-1.2zM452.3 400.5h1.2v1.2h-1.2zM445.8 401.8h1.2v1.2h-1.2zM425.3 413h1.2v1.2h-1.2zM431.4 406.4h1.2v1.2h-1.2zM446.5 403.7h1.2v1.2h-1.2zM436.5 403.2h1.2v1.2h-1.2zM433 405.4h1.2v1.2h-1.2zM422.2 412h1.2v1.2h-1.2zM436.9 408.1h1.2v1.2h-1.2zM436 405.4h1.2v1.2h-1.2zM435.9 407.1h1.2v1.2h-1.2zM419.4 415h1.2v1.2h-1.2zM439.1 400.6h1.2v1.2h-1.2zM443.9 406.5h1.2v1.2h-1.2zM450.7 398.8h1.2v1.2h-1.2zM446.2 404.5h1.2v1.2h-1.2zM447.1 400.5h1.2v1.2h-1.2zM439.5 402.7h1.2v1.2h-1.2zM444.2 402.5h1.2v1.2h-1.2zM436.9 406.6h1.2v1.2h-1.2zM441.8 400.7h1.2v1.2h-1.2zM452.1 399.6h1.2v1.2h-1.2zM440.6 405.1h1.2v1.2h-1.2zM440.9 402.4h1.2v1.2h-1.2zM446.8 402.1h1.2v1.2h-1.2zM425.9 413.3h1.2v1.2h-1.2zM440.7 405.1h1.2v1.2h-1.2zM452.8 398.7h1.2v1.2h-1.2zM429.7 409.8h1.2v1.2h-1.2zM445.5 399.5h1.2v1.2h-1.2zM446.8 397.8h1.2v1.2h-1.2zM424.4 414h1.2v1.2h-1.2zM418.6 416.4h1.2v1.2h-1.2zM421.7 413h1.2v1.2h-1.2zM445.6 398.5h1.2v1.2h-1.2zM421.6 413.1h1.2v1.2h-1.2zM452.1 398h1.2v1.2h-1.2zM429 412.3h1.2v1.2h-1.2zM434 406h1.2v1.2h-1.2zM435.2 397.4h1.2v1.2h-1.2zM414.2 414.1h1.2v1.2h-1.2zM431.8 403.6h1.2v1.2h-1.2zM423.7 409.7h1.2v1.2h-1.2zM419.1 409.9h1.2v1.2h-1.2zM438 405.5h1.2v1.2h-1.2zM429.6 408.6h1.2v1.2h-1.2zM422.8 412.2h1.2v1.2h-1.2zM419.5 416.3h1.2v1.2h-1.2zM428.6 411.6h1.2v1.2h-1.2zM440 402.4h1.2v1.2h-1.2zM434.2 411.7h1.2v1.2h-1.2zM439.1 405.1h1.2v1.2h-1.2zM446.9 404.5h1.2v1.2h-1.2zM450.6 397.8h1.2v1.2h-1.2zM441.3 404.2h1.2v1.2h-1.2zM432.5 405.2h1.2v1.2h-1.2zM414 413.8h1.2v1.2h-1.2zM430.6 405.6h1.2v1.2h-1.2zM442.1 401h1.2v1.2h-1.2zM447.4 400.6h1.2v1.2h-1.2zM446.2 400.4h1.2v1.2h-1.2zM423.3 409.5h1.2v1.2h-1.2zM416.1 412.7h1.2v1.2h-1.2zM424.3 411.8h1.2v1.2h-1.2zM427.4 409.3h1.2v1.2h-1.2zM441.4 403.6h1.2v1.2h-1.2zM443.6 402.1h1.2v1.2h-1.2zM432.2 408.6h1.2v1.2h-1.2zM426.5 408.6h1.2v1.2h-1.2zM417.3 415.5h1.2v1.2h-1.2zM449.1 398h1.2v1.2h-1.2zM448.5 400.2h1.2v1.2h-1.2zM431.9 406.9h1.2v1.2h-1.2zM452.9 399.7h1.2v1.2h-1.2zM449.6 400.6h1.2v1.2h-1.2zM433.2 405.4h1.2v1.2h-1.2zM448.8 399.8h1.2v1.2h-1.2zM415.1 415.4h1.2v1.2h-1.2zM450.7 397.6h1.2v1.2h-1.2zM433.6 407.9h1.2v1.2h-1.2zM437.7 402.1h1.2v1.2h-1.2zM449.8 399h1.2v1.2h-1.2zM423.7 410.6h1.2v1.2h-1.2zM419.8 409h1.2v1.2h-1.2zM440.7 406.7h1.2v1.2h-1.2zM448.7 399.9h1.2v1.2h-1.2zM447.4 403.4h1.2v1.2h-1.2zM437.1 407.3h1.2v1.2h-1.2zM427.4 409.8h1.2v1.2h-1.2zM434.6 406.3h1.2v1.2h-1.2zM415.4 414.4h1.2v1.2h-1.2zM437 405.9h1.2v1.2h-1.2zM443.9 401.5h1.2v1.2h-1.2zM433.2 410h1.2v1.2h-1.2zM452 398.4h1.2v1.2h-1.2zM426.7 410.9h1.2v1.2h-1.2zM423.1 408.5h1.2v1.2h-1.2zM434.2 409h1.2v1.2h-1.2zM435.9 405h1.2v1.2h-1.2zM444.4 400.7h1.2v1.2h-1.2zM446.9 397.9h1.2v1.2h-1.2zM420.3 412.4h1.2v1.2h-1.2zM440.4 404.9h1.2v1.2h-1.2zM441.1 403.1h1.2v1.2h-1.2zM428.6 409.1h1.2v1.2h-1.2zM447.7 398.3h1.2v1.2h-1.2zM434.6 407.5h1.2v1.2h-1.2zM434.1 405.3h1.2v1.2h-1.2zM437.4 408.5h1.2v1.2h-1.2zM450.8 396.7h1.2v1.2h-1.2zM424.5 411.9h1.2v1.2h-1.2zM443.5 399.2h1.2v1.2h-1.2zM417.3 417.9h1.2v1.2h-1.2zM429.6 409.2h1.2v1.2h-1.2zM431.8 408.6h1.2v1.2h-1.2zM428.2 407.7h1.2v1.2h-1.2zM417.2 411.6h1.2v1.2h-1.2zM442.5 402.2h1.2v1.2h-1.2zM438.3 403.6h1.2v1.2h-1.2zM442.9 399.7h1.2v1.2h-1.2zM440.1 407.2h1.2v1.2h-1.2zM441.7 402h1.2v1.2h-1.2zM418.9 412.2h1.2v1.2h-1.2zM430.7 408.1h1.2v1.2h-1.2zM435.1 407.8h1.2v1.2h-1.2zM434.9 410.6h1.2v1.2h-1.2zM451.2 394.7h1.2v1.2h-1.2zM443.8 401.9h1.2v1.2h-1.2zM448.5 400h1.2v1.2h-1.2zM424.5 408.2h1.2v1.2h-1.2zM438.5 403h1.2v1.2h-1.2zM442.2 407.2h1.2v1.2h-1.2zM438.9 405.6h1.2v1.2h-1.2zM415 411.9h1.2v1.2h-1.2zM420.6 420.4h1.2v1.2h-1.2zM452.7 396.6h1.2v1.2h-1.2zM432.4 406.8h1.2v1.2h-1.2zM423.7 415.3h1.2v1.2h-1.2zM437.6 406.8h1.2v1.2h-1.2zM445.8 403.8h1.2v1.2h-1.2zM449.4 400.4h1.2v1.2h-1.2zM431.8 406.2h1.2v1.2h-1.2zM447.7 398.5h1.2v1.2h-1.2zM427.5 411.3h1.2v1.2h-1.2zM438.2 400h1.2v1.2h-1.2zM431.9 408.5h1.2v1.2h-1.2zM417.1 413.7h1.2v1.2h-1.2zM425.6 407.8h1.2v1.2h-1.2zM443.7 400.3h1.2v1.2h-1.2zM439 402.3h1.2v1.2h-1.2zM432.4 407.6h1.2v1.2h-1.2zM437.8 406.3h1.2v1.2h-1.2zM445.1 403.4h1.2v1.2h-1.2zM429.3 405.3h1.2v1.2h-1.2zM454 397.6h1.2v1.2h-1.2zM436.3 408.7h1.2v1.2h-1.2zM433.2 408.5h1.2v1.2h-1.2zM438.4 406h1.2v1.2h-1.2zM430.8 404.3h1.2v1.2h-1.2zM440.9 403.4h1.2v1.2h-1.2zM428 412.2h1.2v1.2h-1.2zM422.5 412.2h1.2v1.2h-1.2zM445.6 399.5h1.2v1.2h-1.2zM435 406.3h1.2v1.2h-1.2zM415.8 412.8h1.2v1.2h-1.2zM424.3 414.2h1.2v1.2h-1.2zM422 415.1h1.2v1.2h-1.2zM444.6 401.2h1.2v1.2h-1.2zM442 403.4h1.2v1.2h-1.2zM424.1 413.7h1.2v1.2h-1.2zM439.7 402.7h1.2v1.2h-1.2zM422.8 417.6h1.2v1.2h-1.2zM428.9 410.2h1.2v1.2h-1.2zM449 401.2h1.2v1.2h-1.2zM439.6 407.7h1.2v1.2h-1.2zM449.1 399.9h1.2v1.2h-1.2zM417.3 414.8h1.2v1.2h-1.2zM420 407.3h1.2v1.2h-1.2zM448.9 399.4h1.2v1.2h-1.2zM453.1 398.3h1.2v1.2h-1.2zM437.8 403.4h1.2v1.2h-1.2zM447.9 400.9h1.2v1.2h-1.2zM452 397.5h1.2v1.2h-1.2zM449.4 398.6h1.2v1.2h-1.2zM442.1 404.9h1.2v1.2h-1.2zM422.7 409.9h1.2v1.2h-1.2zM444 405.3h1.2v1.2h-1.2zM430.5 404.7h1.2v1.2h-1.2zM426.5 407.1h1.2v1.2h-1.2zM422.6 411.7h1.2v1.2h-1.2zM443.3 404.7h1.2v1.2h-1.2zM449.4 397.6h1.2v1.2h-1.2zM436.4 407.2h1.2v1.2h-1.2zM437.5 403.4h1.2v1.2h-1.2zM423.9 410.1h1.2v1.2h-1.2zM431.6 411.1h1.2v1.2h-1.2zM425.7 411.2h1.2v1.2h-1.2zM432.8 409.9h1.2v1.2h-1.2zM437.2 403.7h1.2v1.2h-1.2zM448.9 399.1h1.2v1.2h-1.2zM440.1 405.7h1.2v1.2h-1.2zM423.1 413h1.2v1.2h-1.2zM430.6 411.7h1.2v1.2h-1.2zM423.1 408.5h1.2v1.2h-1.2zM445.9 400.9h1.2v1.2h-1.2zM429.3 409.2h1.2v1.2h-1.2zM428.8 408h1.2v1.2h-1.2zM422.8 409.5h1.2v1.2h-1.2zM438.6 403.1h1.2v1.2h-1.2zM448 400.6h1.2v1.2h-1.2zM430.8 409.3h1.2v1.2h-1.2zM428.1 414.9h1.2v1.2h-1.2zM453.1 400h1.2v1.2h-1.2zM438.4 405.4h1.2v1.2h-1.2zM417.4 411.7h1.2v1.2h-1.2zM446.1 399.3h1.2v1.2h-1.2zM449 398.8h1.2v1.2h-1.2zM424.5 408.8h1.2v1.2h-1.2zM429.7 403.8h1.2v1.2h-1.2zM441.6 405.4h1.2v1.2h-1.2zM433.7 408h1.2v1.2h-1.2zM432.5 413.2h1.2v1.2h-1.2zM435.9 409.6h1.2v1.2h-1.2zM447.7 401.7h1.2v1.2h-1.2zM440.8 400.9h1.2v1.2h-1.2zM444.5 402.2h1.2v1.2h-1.2zM452.6 396.3h1.2v1.2h-1.2zM438.5 408.2h1.2v1.2h-1.2zM427.6 410.8h1.2v1.2h-1.2zM435.7 405h1.2v1.2h-1.2zM438.4 408.7h1.2v1.2h-1.2zM429.8 409.8h1.2v1.2h-1.2zM447 399h1.2v1.2h-1.2zM427.5 409.6h1.2v1.2h-1.2zM446.2 400.9h1.2v1.2h-1.2zM440.6 404.2h1.2v1.2h-1.2zM451.3 401.1h1.2v1.2h-1.2zM437.5 406.5h1.2v1.2h-1.2zM440.9 404h1.2v1.2h-1.2zM442.7 403.3h1.2v1.2h-1.2zM438.4 410.5h1.2v1.2h-1.2zM447.5 400.5h1.2v1.2h-1.2zM438 404.4h1.2v1.2h-1.2zM424.2 411.8h1.2v1.2h-1.2zM432.5 408.4h1.2v1.2h-1.2zM437.5 406h1.2v1.2h-1.2zM436.4 404.6h1.2v1.2h-1.2zM450.3 402.4h1.2v1.2h-1.2zM447.3 398.9h1.2v1.2h-1.2zM421.4 416.8h1.2v1.2h-1.2zM445.2 400.4h1.2v1.2h-1.2zM452.7 397.7h1.2v1.2h-1.2zM423.2 414h1.2v1.2h-1.2zM433.2 407.9h1.2v1.2h-1.2zM433.1 411.2h1.2v1.2h-1.2zM433.6 403.6h1.2v1.2h-1.2zM425.5 408h1.2v1.2h-1.2zM439.8 403.4h1.2v1.2h-1.2zM436 403.4h1.2v1.2h-1.2zM428 410h1.2v1.2h-1.2zM439 403.7h1.2v1.2h-1.2zM442.6 405.1h1.2v1.2h-1.2zM436.1 404.9h1.2v1.2h-1.2zM424.1 412.7h1.2v1.2h-1.2zM425.4 408.6h1.2v1.2h-1.2zM415.1 416.1h1.2v1.2h-1.2zM421.3 412.5h1.2v1.2h-1.2zM431.6 406.1h1.2v1.2h-1.2zM440.8 407.8h1.2v1.2h-1.2zM433.8 405h1.2v1.2h-1.2zM431.4 407.9h1.2v1.2h-1.2zM431.3 410.9h1.2v1.2h-1.2zM432.6 407.5h1.2v1.2h-1.2zM442.2 403.2h1.2v1.2h-1.2zM440.9 403.8h1.2v1.2h-1.2zM442.4 408.6h1.2v1.2h-1.2zM422 410.8h1.2v1.2h-1.2zM444.6 400.1h1.2v1.2h-1.2zM437 406.1h1.2v1.2h-1.2zM443.4 402.4h1.2v1.2h-1.2zM437.9 405.8h1.2v1.2h-1.2zM449.9 396.3h1.2v1.2h-1.2zM444.7 406.2h1.2v1.2h-1.2zM421.7 410h1.2v1.2h-1.2zM428.2 412.9h1.2v1.2h-1.2zM453.3 397h1.2v1.2h-1.2zM438.3 403.9h1.2v1.2h-1.2zM424.2 413.1h1.2v1.2h-1.2zM449.3 398h1.2v1.2h-1.2zM424.9 410h1.2v1.2h-1.2zM450.6 398.2h1.2v1.2h-1.2zM449.8 398h1.2v1.2h-1.2zM437.4 406h1.2v1.2h-1.2zM425.8 412.5h1.2v1.2h-1.2zM440.8 406.8h1.2v1.2h-1.2zM427.5 410.5h1.2v1.2h-1.2zM414.3 412.4h1.2v1.2h-1.2zM440.3 403.1h1.2v1.2h-1.2zM451.9 401.2h1.2v1.2h-1.2zM446.4 400.5h1.2v1.2h-1.2zM428.1 408.7h1.2v1.2h-1.2zM448.6 399.4h1.2v1.2h-1.2zM436.6 403.7h1.2v1.2h-1.2zM450.1 398.4h1.2v1.2h-1.2zM448.4 396.9h1.2v1.2h-1.2zM438.4 407h1.2v1.2h-1.2zM450.2 398.4h1.2v1.2h-1.2zM442.2 408h1.2v1.2h-1.2zM427 408.3h1.2v1.2h-1.2zM418 418.5h1.2v1.2h-1.2zM434.6 407.8h1.2v1.2h-1.2zM447.3 403.2h1.2v1.2h-1.2zM431.6 404.2h1.2v1.2h-1.2zM429.4 408.7h1.2v1.2h-1.2zM436.1 403.4h1.2v1.2h-1.2zM437.9 405.6h1.2v1.2h-1.2zM423 414.1h1.2v1.2h-1.2zM440.5 402.7h1.2v1.2h-1.2zM448 401.5h1.2v1.2h-1.2zM430.7 409.4h1.2v1.2h-1.2zM419.6 419.4h1.2v1.2h-1.2zM435.9 407.7h1.2v1.2h-1.2zM433.7 407.1h1.2v1.2h-1.2zM436.9 407.7h1.2v1.2h-1.2zM446.3 398.6h1.2v1.2h-1.2zM432.8 410h1.2v1.2h-1.2zM420.7 411.6h1.2v1.2h-1.2zM423.6 415.4h1.2v1.2h-1.2zM420.9 412.2h1.2v1.2h-1.2zM452.6 398.6h1.2v1.2h-1.2zM448.1 396.9h1.2v1.2h-1.2zM437.4 404.8h1.2v1.2h-1.2zM439.8 403.3h1.2v1.2h-1.2zM431.8 414.7h1.2v1.2h-1.2zM414.5 414.2h1.2v1.2h-1.2zM438.1 409.5h1.2v1.2h-1.2zM453.4 397.5h1.2v1.2h-1.2zM435.9 405.7h1.2v1.2h-1.2zM442.6 402.5h1.2v1.2h-1.2zM436.1 407.1h1.2v1.2h-1.2zM434.8 405.3h1.2v1.2h-1.2zM454.5 396.7h1.2v1.2h-1.2zM452.7 400.7h1.2v1.2h-1.2zM441.1 406.9h1.2v1.2h-1.2zM426.6 416h1.2v1.2h-1.2zM432.1 406h1.2v1.2h-1.2zM439.3 399h1.2v1.2h-1.2zM429.4 410.7h1.2v1.2h-1.2zM450.1 399.2h1.2v1.2h-1.2zM446.7 401.6h1.2v1.2h-1.2zM451.3 398.3h1.2v1.2h-1.2zM427.1 410.9h1.2v1.2h-1.2zM433.1 408.3h1.2v1.2h-1.2zM426.5 414.7h1.2v1.2h-1.2zM420.4 413.9h1.2v1.2h-1.2zM447.2 398.6h1.2v1.2h-1.2zM433.1 405.8h1.2v1.2h-1.2zM419.7 413.2h1.2v1.2h-1.2zM444.2 401.3h1.2v1.2h-1.2zM444 402.1h1.2v1.2h-1.2zM439.5 403.7h1.2v1.2h-1.2zM451.9 399.4h1.2v1.2h-1.2zM440.8 401.9h1.2v1.2h-1.2zM432.4 408h1.2v1.2h-1.2zM444.5 400.6h1.2v1.2h-1.2zM438.9 402.4h1.2v1.2h-1.2zM440.7 400h1.2v1.2h-1.2zM431.7 407.3h1.2v1.2h-1.2zM448.4 401.9h1.2v1.2h-1.2zM437.2 406.6h1.2v1.2h-1.2zM435.7 408.7h1.2v1.2h-1.2zM428.3 405.6h1.2v1.2h-1.2zM450.7 397.3h1.2v1.2h-1.2zM451.5 399.5h1.2v1.2h-1.2zM431 407.3h1.2v1.2h-1.2zM435.5 408h1.2v1.2h-1.2zM420.1 414.4h1.2v1.2h-1.2zM426.7 409.8h1.2v1.2h-1.2zM442.9 402.6h1.2v1.2h-1.2zM437.9 406.1h1.2v1.2h-1.2zM450.8 397.4h1.2v1.2h-1.2zM445.6 401.6h1.2v1.2h-1.2zM453.2 397.5h1.2v1.2h-1.2zM451.9 398.1h1.2v1.2h-1.2zM417 411.9h1.2v1.2h-1.2zM452.8 400.2h1.2v1.2h-1.2zM423.3 413.6h1.2v1.2h-1.2zM431.2 408.7h1.2v1.2h-1.2zM439.9 405.5h1.2v1.2h-1.2zM452.3 397.5h1.2v1.2h-1.2zM447.9 400.2h1.2v1.2h-1.2zM453.9 398.6h1.2v1.2h-1.2zM440.8 405.1h1.2v1.2h-1.2zM431.1 402.9h1.2v1.2h-1.2zM417.9 411.3h1.2v1.2h-1.2zM434.4 407.6h1.2v1.2h-1.2zM442.1 405.4h1.2v1.2h-1.2zM436.6 404.1h1.2v1.2h-1.2zM443.5 402.9h1.2v1.2h-1.2zM436.5 407.3h1.2v1.2h-1.2zM419.9 415.5h1.2v1.2h-1.2zM423.6 409.8h1.2v1.2h-1.2zM432.5 407.4h1.2v1.2h-1.2zM428.5 410.6h1.2v1.2h-1.2zM421.1 410h1.2v1.2h-1.2zM417.4 418.1h1.2v1.2h-1.2zM424.2 408.1h1.2v1.2h-1.2zM426.9 407.2h1.2v1.2h-1.2zM416.7 416.2h1.2v1.2h-1.2zM418.2 406.6h1.2v1.2h-1.2zM421.9 411.6h1.2v1.2h-1.2zM429.9 407.5h1.2v1.2h-1.2zM441 398.3h1.2v1.2h-1.2zM449.6 399.6h1.2v1.2h-1.2zM421.9 413.2h1.2v1.2h-1.2zM427.2 412.6h1.2v1.2h-1.2zM442.2 404.7h1.2v1.2h-1.2zM448.5 401.6h1.2v1.2h-1.2zM425.7 412.9h1.2v1.2h-1.2zM425.4 408.8h1.2v1.2h-1.2zM443.8 399.5h1.2v1.2h-1.2zM442.5 400h1.2v1.2h-1.2zM418.2 411.1h1.2v1.2h-1.2zM435.1 406.5h1.2v1.2h-1.2zM416.6 409.5h1.2v1.2h-1.2zM451.6 396.5h1.2v1.2h-1.2zM431 410.3h1.2v1.2h-1.2zM425.9 408.5h1.2v1.2h-1.2zM445.3 402.4h1.2v1.2h-1.2zM453.6 397.5h1.2v1.2h-1.2zM439.8 404.8h1.2v1.2h-1.2zM436.9 403.5h1.2v1.2h-1.2zM422.8 415.3h1.2v1.2h-1.2zM449.6 402.6h1.2v1.2h-1.2zM439.7 408.8h1.2v1.2h-1.2zM430.9 407.3h1.2v1.2h-1.2zM432.3 406.3h1.2v1.2h-1.2zM421.3 410.8h1.2v1.2h-1.2zM452.4 400.1h1.2v1.2h-1.2zM417 419.9h1.2v1.2h-1.2zM415.1 408.8h1.2v1.2h-1.2zM433.2 405.2h1.2v1.2h-1.2zM453.3 396.8h1.2v1.2h-1.2zM444.6 398.5h1.2v1.2h-1.2zM442.1 400.6h1.2v1.2h-1.2zM437.8 402.9h1.2v1.2h-1.2zM434.1 411h1.2v1.2h-1.2zM444.6 400.4h1.2v1.2h-1.2zM425 414.3h1.2v1.2h-1.2zM438.6 400.5h1.2v1.2h-1.2zM433.4 404.9h1.2v1.2h-1.2zM438.8 409.4h1.2v1.2h-1.2zM446.2 398h1.2v1.2h-1.2zM453.2 396.2h1.2v1.2h-1.2zM423 408.9h1.2v1.2h-1.2zM419.8 414h1.2v1.2h-1.2zM424.1 411.5h1.2v1.2h-1.2zM452.2 397.4h1.2v1.2h-1.2zM434.7 406.3h1.2v1.2h-1.2zM440.7 400.4h1.2v1.2h-1.2zM432.3 406.5h1.2v1.2h-1.2zM422 415.1h1.2v1.2h-1.2zM451.9 399.3h1.2v1.2h-1.2zM428.4 411.5h1.2v1.2h-1.2zM451.2 396.8h1.2v1.2h-1.2zM449.8 398.7h1.2v1.2h-1.2zM422.6 412.2h1.2v1.2h-1.2zM436.5 408.6h1.2v1.2h-1.2zM431.2 408.1h1.2v1.2h-1.2zM424.1 407.4h1.2v1.2h-1.2zM427.6 415.8h1.2v1.2h-1.2zM448.8 397.9h1.2v1.2h-1.2zM416.8 413.2h1.2v1.2h-1.2zM435 411.8h1.2v1.2h-1.2zM444.2 401.5h1.2v1.2h-1.2zM446.7 398.8h1.2v1.2h-1.2zM445.8 401.8h1.2v1.2h-1.2zM434.5 404.4h1.2v1.2h-1.2zM415.1 412.7h1.2v1.2h-1.2zM434.3 404.8h1.2v1.2h-1.2zM438.5 404.6h1.2v1.2h-1.2zM420.5 409.5h1.2v1.2h-1.2zM428 409.7h1.2v1.2h-1.2zM436.1 410.6h1.2v1.2h-1.2zM443.4 401.1h1.2v1.2h-1.2zM429.2 407.8h1.2v1.2h-1.2zM423.9 412.9h1.2v1.2h-1.2zM452.6 397h1.2v1.2h-1.2zM440.5 404.5h1.2v1.2h-1.2zM451.8 396.1h1.2v1.2h-1.2zM427.5 412.7h1.2v1.2h-1.2zM450.8 396.4h1.2v1.2h-1.2zM439.1 406.8h1.2v1.2h-1.2zM438.7 404.7h1.2v1.2h-1.2zM447.9 398.5h1.2v1.2h-1.2zM440.6 403.6h1.2v1.2h-1.2zM436.6 405.8h1.2v1.2h-1.2zM441.9 404h1.2v1.2h-1.2zM446 398.9h1.2v1.2h-1.2zM434.4 409.3h1.2v1.2h-1.2zM440.4 404.1h1.2v1.2h-1.2zM434.6 404.8h1.2v1.2h-1.2zM445.6 402.9h1.2v1.2h-1.2zM426.5 411.7h1.2v1.2h-1.2zM437.9 405.8h1.2v1.2h-1.2zM444.5 399.8h1.2v1.2h-1.2zM429.9 406.8h1.2v1.2h-1.2zM434.3 406.1h1.2v1.2h-1.2zM453.2 399.1h1.2v1.2h-1.2zM428.2 416.2h1.2v1.2h-1.2zM452.8 397.3h1.2v1.2h-1.2zM441.4 405h1.2v1.2h-1.2zM433.1 405.2h1.2v1.2h-1.2zM448.2 401.9h1.2v1.2h-1.2zM425.2 405.9h1.2v1.2h-1.2zM450.2 396.2h1.2v1.2h-1.2zM423.8 415h1.2v1.2h-1.2zM418.9 411.3h1.2v1.2h-1.2zM428 410.2h1.2v1.2h-1.2zM449.4 397.7h1.2v1.2h-1.2zM415.7 409.5h1.2v1.2h-1.2zM426.4 404h1.2v1.2h-1.2zM452.6 399h1.2v1.2h-1.2zM450.5 401.4h1.2v1.2h-1.2zM450.5 398.8h1.2v1.2h-1.2zM416.6 416.3h1.2v1.2h-1.2zM420.5 416.7h1.2v1.2h-1.2zM445.6 404.5h1.2v1.2h-1.2zM426.9 412.1h1.2v1.2h-1.2zM442.1 405.3h1.2v1.2h-1.2zM432.6 410.8h1.2v1.2h-1.2zM452 396.9h1.2v1.2h-1.2zM428 409h1.2v1.2h-1.2zM447.9 400.6h1.2v1.2h-1.2zM423.2 411.3h1.2v1.2h-1.2zM429 413.6h1.2v1.2h-1.2zM431.6 407.1h1.2v1.2h-1.2zM425.8 412.5h1.2v1.2h-1.2zM444.2 401.6h1.2v1.2h-1.2zM440.3 398.1h1.2v1.2h-1.2zM422.5 410.7h1.2v1.2h-1.2zM445.4 401.7h1.2v1.2h-1.2zM446.9 400.7h1.2v1.2h-1.2zM422.4 409.1h1.2v1.2h-1.2zM453.7 399.1h1.2v1.2h-1.2zM421.4 413.1h1.2v1.2h-1.2zM437.6 400.1h1.2v1.2h-1.2zM425.9 408.1h1.2v1.2h-1.2zM440.4 403.9h1.2v1.2h-1.2zM425.3 411.4h1.2v1.2h-1.2zM454.3 397.8h1.2v1.2h-1.2zM441.3 403.5h1.2v1.2h-1.2zM428.6 412.8h1.2v1.2h-1.2zM440.3 403.1h1.2v1.2h-1.2zM444.4 402.1h1.2v1.2h-1.2zM451.8 397.7h1.2v1.2h-1.2zM427.5 407.9h1.2v1.2h-1.2zM431 405.7h1.2v1.2h-1.2zM432.6 410.8h1.2v1.2h-1.2zM439.8 400.4h1.2v1.2h-1.2zM453 395.5h1.2v1.2h-1.2zM442.7 404.8h1.2v1.2h-1.2zM436.8 407.8h1.2v1.2h-1.2zM423.9 412.9h1.2v1.2h-1.2zM421.3 409.6h1.2v1.2h-1.2zM448.7 399.1h1.2v1.2h-1.2zM446.2 399h1.2v1.2h-1.2zM451.2 398.6h1.2v1.2h-1.2zM451 402.1h1.2v1.2h-1.2zM418.8 413.7h1.2v1.2h-1.2zM444.2 399.8h1.2v1.2h-1.2zM447.4 402.4h1.2v1.2h-1.2zM437.3 402.6h1.2v1.2h-1.2zM442.9 402.6h1.2v1.2h-1.2zM451.1 395.1h1.2v1.2h-1.2zM449.9 400.7h1.2v1.2h-1.2zM431.9 404.8h1.2v1.2h-1.2zM434.4 407.8h1.2v1.2h-1.2zM437.2 403.3h1.2v1.2h-1.2zM419.2 414.1h1.2v1.2h-1.2zM418 410.8h1.2v1.2h-1.2zM445.6 403.2h1.2v1.2h-1.2zM447.4 404.5h1.2v1.2h-1.2zM437.5 404.9h1.2v1.2h-1.2zM435.1 405.6h1.2v1.2h-1.2zM448.2 399.5h1.2v1.2h-1.2zM441.3 403.1h1.2v1.2h-1.2zM448.7 398.9h1.2v1.2h-1.2zM437.8 404.7h1.2v1.2h-1.2zM449.1 398.8h1.2v1.2h-1.2zM451.7 398.2h1.2v1.2h-1.2zM423.1 412.5h1.2v1.2h-1.2zM424.5 415.4h1.2v1.2h-1.2zM418.4 413.1h1.2v1.2h-1.2zM427.2 407.7h1.2v1.2h-1.2zM447.6 402.2h1.2v1.2h-1.2zM421.2 420.2h1.2v1.2h-1.2zM448.8 395.4h1.2v1.2h-1.2zM447.2 401.3h1.2v1.2h-1.2zM438.9 406.3h1.2v1.2h-1.2zM446.6 403h1.2v1.2h-1.2zM446.5 403.3h1.2v1.2h-1.2zM446.1 403.3h1.2v1.2h-1.2zM442.2 401.8h1.2v1.2h-1.2zM434.2 409.8h1.2v1.2h-1.2zM438.9 406.2h1.2v1.2h-1.2zM433.2 410.2h1.2v1.2h-1.2zM435.6 406.1h1.2v1.2h-1.2zM449.9 400h1.2v1.2h-1.2zM424.2 404.7h1.2v1.2h-1.2zM422.1 404.8h1.2v1.2h-1.2zM446.3 401.8h1.2v1.2h-1.2zM435.9 405.4h1.2v1.2h-1.2zM438.3 404h1.2v1.2h-1.2zM448.6 400.2h1.2v1.2h-1.2zM417 409.4h1.2v1.2h-1.2zM425.3 409.5h1.2v1.2h-1.2zM424.9 412.5h1.2v1.2h-1.2zM448.1 405.1h1.2v1.2h-1.2zM432.6 404.9h1.2v1.2h-1.2zM440 403.3h1.2v1.2h-1.2zM440.8 405.2h1.2v1.2h-1.2zM448.7 397.5h1.2v1.2h-1.2zM414.7 415.2h1.2v1.2h-1.2zM433.1 409.9h1.2v1.2h-1.2zM428.1 410.1h1.2v1.2h-1.2zM434.9 406.5h1.2v1.2h-1.2zM421.2 409.9h1.2v1.2h-1.2zM436.9 403h1.2v1.2h-1.2zM431.1 409.7h1.2v1.2h-1.2zM431.8 411.2h1.2v1.2h-1.2zM435.2 405h1.2v1.2h-1.2zM450.2 399.8h1.2v1.2h-1.2zM447.5 401.2h1.2v1.2h-1.2zM447.7 399.6h1.2v1.2h-1.2zM441.3 401.8h1.2v1.2h-1.2zM443.6 403.3h1.2v1.2h-1.2zM422.5 407.9h1.2v1.2h-1.2zM427.1 410.9h1.2v1.2h-1.2zM428 407.7h1.2v1.2h-1.2zM452.4 398.1h1.2v1.2h-1.2zM442.5 401.3h1.2v1.2h-1.2zM415.4 412h1.2v1.2h-1.2zM437.1 404.2h1.2v1.2h-1.2zM439.5 403.4h1.2v1.2h-1.2zM436.8 405.9h1.2v1.2h-1.2zM444.3 402.5h1.2v1.2h-1.2zM426.2 410.7h1.2v1.2h-1.2zM438.5 405.4h1.2v1.2h-1.2zM440.6 408.8h1.2v1.2h-1.2zM432.3 406.4h1.2v1.2h-1.2zM438.2 404.3h1.2v1.2h-1.2zM442.9 400.4h1.2v1.2h-1.2zM436.2 408.5h1.2v1.2h-1.2zM445.7 400h1.2v1.2h-1.2zM423.8 415.2h1.2v1.2h-1.2zM455.1 399.8h1.2v1.2h-1.2zM435.1 410.3h1.2v1.2h-1.2zM442.9 404.3h1.2v1.2h-1.2zM438 406.7h1.2v1.2h-1.2zM417.9 416.5h1.2v1.2h-1.2zM449 401.6h1.2v1.2h-1.2zM438.5 399.1h1.2v1.2h-1.2zM428.7 408.5h1.2v1.2h-1.2zM423.6 410.9h1.2v1.2h-1.2zM433.8 406.5h1.2v1.2h-1.2zM437.3 404.4h1.2v1.2h-1.2zM424.3 412.8h1.2v1.2h-1.2zM423.6 408.8h1.2v1.2h-1.2zM433.1 407.1h1.2v1.2h-1.2zM454.4 399h1.2v1.2h-1.2zM442.5 401.1h1.2v1.2h-1.2zM449.8 399.3h1.2v1.2h-1.2zM452.3 397.9h1.2v1.2h-1.2zM447.6 399h1.2v1.2h-1.2zM423.7 414h1.2v1.2h-1.2zM439 403.6h1.2v1.2h-1.2zM436.4 404.5h1.2v1.2h-1.2zM440.3 399.7h1.2v1.2h-1.2zM425.8 408.2h1.2v1.2h-1.2zM428.7 411.3h1.2v1.2h-1.2zM424.4 412.6h1.2v1.2h-1.2zM446.9 403.4h1.2v1.2h-1.2zM435.2 407h1.2v1.2h-1.2zM444.9 405.3h1.2v1.2h-1.2zM432.4 410.2h1.2v1.2h-1.2zM442.1 403.7h1.2v1.2h-1.2zM442.3 403.1h1.2v1.2h-1.2zM447.3 399.7h1.2v1.2h-1.2zM442.2 402.6h1.2v1.2h-1.2zM429.7 411.7h1.2v1.2h-1.2zM444.5 401.7h1.2v1.2h-1.2zM447.6 398.4h1.2v1.2h-1.2zM438.7 405.9h1.2v1.2h-1.2zM426.8 415.6h1.2v1.2h-1.2zM446.5 404.3h1.2v1.2h-1.2zM440.2 402.4h1.2v1.2h-1.2zM450.9 398.2h1.2v1.2h-1.2zM444.2 401.4h1.2v1.2h-1.2zM420.7 416.8h1.2v1.2h-1.2zM448.4 398.1h1.2v1.2h-1.2zM434.3 405.1h1.2v1.2h-1.2zM430.5 407.1h1.2v1.2h-1.2zM424.4 416.3h1.2v1.2h-1.2zM418.6 414.1h1.2v1.2h-1.2zM434.6 407.3h1.2v1.2h-1.2zM428.5 405.9h1.2v1.2h-1.2zM444.8 406.7h1.2v1.2h-1.2zM434.3 407.6h1.2v1.2h-1.2zM424.1 413.7h1.2v1.2h-1.2zM426.1 414.9h1.2v1.2h-1.2zM427.5 410.8h1.2v1.2h-1.2zM435.4 408.2h1.2v1.2h-1.2zM448 397.3h1.2v1.2h-1.2zM451.8 398.6h1.2v1.2h-1.2zM443.2 400.1h1.2v1.2h-1.2zM447.9 399.8h1.2v1.2h-1.2zM426.9 415.7h1.2v1.2h-1.2zM449.3 399.8h1.2v1.2h-1.2zM419 410.8h1.2v1.2h-1.2zM438.4 404.4h1.2v1.2h-1.2zM427 409.4h1.2v1.2h-1.2zM449.5 399.4h1.2v1.2h-1.2zM451.9 399.8h1.2v1.2h-1.2zM416.8 412.6h1.2v1.2h-1.2zM445.8 397.9h1.2v1.2h-1.2zM427.4 410h1.2v1.2h-1.2zM430.9 405.4h1.2v1.2h-1.2zM451.8 396.6h1.2v1.2h-1.2zM429.2 409.1h1.2v1.2h-1.2zM441.4 404.2h1.2v1.2h-1.2zM450.2 398.7h1.2v1.2h-1.2zM432.6 403.4h1.2v1.2h-1.2zM435.6 405.3h1.2v1.2h-1.2zM449.7 393.6h1.2v1.2h-1.2zM426.7 408.6h1.2v1.2h-1.2zM450.3 400.5h1.2v1.2h-1.2zM418.1 410.7h1.2v1.2h-1.2zM446.3 401.8h1.2v1.2h-1.2zM445.1 403.6h1.2v1.2h-1.2zM437.3 411.6h1.2v1.2h-1.2zM443.9 398.6h1.2v1.2h-1.2zM445.8 403.2h1.2v1.2h-1.2zM420.3 415.6h1.2v1.2h-1.2zM453.1 399.5h1.2v1.2h-1.2z" fill="#000"/>
<path d="M424.3 442.3h1.2v1.2h-1.2zM430.1 441h1.2v1.2h-1.2zM427.8 421.8h1.2v1.2h-1.2zM425.8 451.1h1.2v1.2h-1.2zM427.6 423.7h1.2v1.2h-1.2zM427.8 450h1.2v1.2h-1.2zM428.8 428.6h1.2v1.2h-1.2zM428.4 441.9h1.2v1.2h-1.2zM425.7 425.3h1.2v1.2h-1.2zM429.2 438.4h1.2v1.2h-1.2zM424.8 422.8h1.2v1.2h-1.2zM424.5 429.9h1.2v1.2h-1.2zM423 426.1h1.2v1.2h-1.2zM426.9 432.8h1.2v1.2h-1.2zM429.7 427h1.2v1.2h-1.2zM423.9 448.6h1.2v1.2h-1.2zM427.8 445.7h1.2v1.2h-1.2zM428.3 421.3h1.2v1.2h-1.2zM425.4 430.7h1.2v1.2h-1.2zM426 447.6h1.2v1.2h-1.2zM426.5 423.3h1.2v1.2h-1.2zM425.3 426.8h1.2v1.2h-1.2zM425.8 438.2h1.2v1.2h-1.2zM424.4 437.6h1.2v1.2h-1.2zM428.7 421.1h1.2v1.2h-1.2zM427.4 443.4h1.2v1.2h-1.2zM428.3 447.3h1.2v1.2h-1.2zM424.3 433.7h1.2v1.2h-1.2zM429.4 425.8h1.2v1.2h-1.2zM427.9 433.1h1.2v1.2h-1.2zM427.5 427.3h1.2v1.2h-1.2zM426.8 440.6h1.2v1.2h-1.2zM423.1 429.4h1.2v1.2h-1.2zM424.4 425.8h1.2v1.2h-1.2zM426 438.8h1.2v1.2h-1.2zM426.6 442h1.2v1.2h-1.2zM425.9 439.8h1.2v1.2h-1.2zM423.3 429.1h1.2v1.2h-1.2zM428.6 425.6h1.2v1.2h-1.2zM426 437.2h1.2v1.2h-1.2zM426.6 447.7h1.2v1.2h-1.2zM424 451.5h1.2v1.2h-1.2zM424.5 427h1.2v1.2h-1.2zM428 451.7h1.2v1.2h-1.2zM426.8 436.3h1.2v1.2h-1.2zM427.8 449.8h1.2v1.2h-1.2zM428.1 439.1h1.2v1.2h-1.2zM425.6 447.5h1.2v1.2h-1.2zM426.3 437.7h1.2v1.2h-1.2zM426.1 443.4h1.2v1.2h-1.2zM428.4 430.6h1.2v1.2h-1.2zM426 421.4h1.2v1.2h-1.2zM427.5 438.3h1.2v1.2h-1.2zM423.2 426h1.2v1.2h-1.2zM423.5 427.5h1.2v1.2h-1.2zM424.7 423.5h1.2v1.2h-1.2zM426.8 436.1h1.2v1.2h-1.2zM423.2 428.7h1.2v1.2h-1.2zM426.7 429.6h1.2v1.2h-1.2zM427.4 425.4h1.2v1.2h-1.2zM426.7 441h1.2v1.2h-1.2zM422.8 421h1.2v1.2h-1.2zM429.5 445.2h1.2v1.2h-1.2zM425.8 436.1h1.2v1.2h-1.2zM429.7 429.2h1.2v1.2h-1.2zM429.2 446.4h1.2v1.2h-1.2zM428.9 427.2h1.2v1.2h-1.2zM427 440h1.2v1.2h-1.2zM424.1 425.4h1.2v1.2h-1.2zM427.1 446.4h1.2v1.2h-1.2zM424.9 428.2h1.2v1.2h-1.2zM425.4 438.2h1.2v1.2h-1.2zM428.1 434.6h1.2v1.2h-1.2zM427.1 434.1h1.2v1.2h-1.2zM427.3 436.8h1.2v1.2h-1.2zM425.1 439.1h1.2v1.2h-1.2zM426.1 446.3h1.2v1.2h-1.2zM423.4 425.9h1.2v1.2h-1.2zM424.8 422.5h1.2v1.2h-1.2zM425.3 431.6h1.2v1.2h-1.2zM427.4 446.4h1.2v1.2h-1.2zM428.4 444.9h1.2v1.2h-1.2zM425.4 441.6h1.2v1.2h-1.2zM421.5 421.7h1.2v1.2h-1.2zM427.9 428.1h1.2v1.2h-1.2zM428.6 450.2h1.2v1.2h-1.2zM423.6 435.2h1.2v1.2h-1.2zM427 437.9h1.2v1.2h-1.2zM427 423.5h1.2v1.2h-1.2zM428.5 423.7h1.2v1.2h-1.2zM423.9 428h1.2v1.2h-1.2zM426.1 421h1.2v1.2h-1.2zM427.7 422.3h1.2v1.2h-1.2zM427 437.7h1.2v1.2h-1.2zM426.8 449.5h1.2v1.2h-1.2zM427.7 425.3h1.2v1.2h-1.2zM423.4 422.1h1.2v1.2h-1.2zM427.2 428.1h1.2v1.2h-1.2zM426.2 427h1.2v1.2h-1.2zM422.9 436h1.2v1.2h-1.2zM423 428.4h1.2v1.2h-1.2zM426.5 442.3h1.2v1.2h-1.2zM425.8 448.9h1.2v1.2h-1.2zM427.4 451h1.2v1.2h-1.2zM429.1 438.8h1.2v1.2h-1.2zM423.8 436.1h1.2v1.2h-1.2zM426.2 429.4h1.2v1.2h-1.2zM427.2 425.5h1.2v1.2h-1.2zM428.6 423.5h1.2v1.2h-1.2zM425.2 433.7h1.2v1.2h-1.2zM425.3 449.2h1.2v1.2h-1.2zM425.1 446.8h1.2v1.2h-1.2zM427.6 448.7h1.2v1.2h-1.2zM423.4 419.6h1.2v1.2h-1.2zM428.8 437.6h1.2v1.2h-1.2zM427.6 431.2h1.2v1.2h-1.2zM426.8 430.6h1.2v1.2h-1.2zM425.8 451.7h1.2v1.2h-1.2zM429.5 442.2h1.2v1.2h-1.2zM425 424h1.2v1.2h-1.2zM426.9 437.7h1.2v1.2h-1.2zM426.6 434h1.2v1.2h-1.2zM427.6 431.6h1.2v1.2h-1.2zM426.8 444.4h1.2v1.2h-1.2zM424.8 436.9h1.2v1.2h-1.2zM423.9 420.9h1.2v1.2h-1.2zM427.4 438h1.2v1.2h-1.2zM426.3 440.5h1.2v1.2h-1.2zM427.3 449.3h1.2v1.2h-1.2zM426.7 445.4h1.2v1.2h-1.2zM424.4 441.7h1.2v1.2h-1.2zM429.7 442h1.2v1.2h-1.2zM426 433h1.2v1.2h-1.2zM427 420.8h1.2v1.2h-1.2zM427.6 435h1.2v1.2h-1.2zM429.5 451.7h1.2v1.2h-1.2zM428.7 430.9h1.2v1.2h-1.2zM427.1 445.9h1.2v1.2h-1.2zM423.8 442.6h1.2v1.2h-1.2zM425.9 429.5h1.2v1.2h-1.2zM427.9 425.8h1.2v1.2h-1.2zM427.1 431h1.2v1.2h-1.2zM424.4 430.5h1.2v1.2h-1.2zM428.6 420.2h1.2v1.2h-1.2zM428.6 449.3h1.2v1.2h-1.2zM425.7 433.7h1.2v1.2h-1.2zM427.7 449.9h1.2v1.2h-1.2zM426.5 449.7h1.2v1.2h-1.2zM427.8 428.9h1.2v1.2h-1.2zM428.5 421h1.2v1.2h-1.2zM428 440.4h1.2v1.2h-1.2zM425.2 421.5h1.2v1.2h-1.2zM427.9 432.6h1.2v1.2h-1.2zM427.3 440.2h1.2v1.2h-1.2zM425.7 436.4h1.2v1.2h-1.2zM425.2 423.4h1.2v1.2h-1.2zM428.1 439.6h1.2v1.2h-1.2zM426.2 449h1.2v1.2h-1.2zM424.5 447.4h1.2v1.2h-1.2zM425.5 444.3h1.2v1.2h-1.2zM426.6 422.5h1.2v1.2h-1.2zM422.4 430.2h1.2v1.2h-1.2zM430.1 440.9h1.2v1.2h-1.2zM421.7 421.9h1.2v1.2h-1.2zM424.7 434.4h1.2v1.2h-1.2zM428.8 436.1h1.2v1.2h-1.2zM428.1 449.8h1.2v1.2h-1.2zM427.4 431.9h1.2v1.2h-1.2zM428.2 428.4h1.2v1.2h-1.2zM423.3 421.1h1.2v1.2h-1.2zM428.6 443.1h1.2v1.2h-1.2zM426.9 433h1.2v1.2h-1.2zM428.1 439.6h1.2v1.2h-1.2zM428.3 422.9h1.2v1.2h-1.2zM423.4 420.6h1.2v1.2h-1.2zM426.7 421.8h1.2v1.2h-1.2zM427.5 445h1.2v1.2h-1.2zM426.6 428.4h1.2v1.2h-1.2zM428.3 448.5h1.2v1.2h-1.2zM424 424.4h1.2v1.2h-1.2zM426.6 441.3h1.2v1.2h-1.2zM431.4 428.7h1.2v1.2h-1.2zM427.1 425.2h1.2v1.2h-1.2zM424.5 421.7h1.2v1.2h-1.2zM425.7 422.5h1.2v1.2h-1.2zM423.6 437.9h1.2v1.2h-1.2zM427.4 426h1.2v1.2h-1.2zM424.8 421.5h1.2v1.2h-1.2zM427 445.8h1.2v1.2h-1.2zM425.4 446.2h1.2v1.2h-1.2zM425.5 437.2h1.2v1.2h-1.2zM427.6 434.5h1.2v1.2h-1.2zM425.9 441.3h1.2v1.2h-1.2zM427.5 443.4h1.2v1.2h-1.2zM425.6 437.7h1.2v1.2h-1.2zM429.2 453h1.2v1.2h-1.2zM428.6 451.6h1.2v1.2h-1.2zM426.4 448.8h1.2v1.2h-1.2zM427.7 431.7h1.2v1.2h-1.2zM429.3 448.9h1.2v1.2h-1.2zM424.9 420.7h1.2v1.2h-1.2zM424.9 441.6h1.2v1.2h-1.2zM428.7 433.2h1.2v1.2h-1.2zM426.1 451.1h1.2v1.2h-1.2zM424.9 422.2h1.2v1.2h-1.2zM429.5 441.1h1.2v1.2h-1.2zM428.5 424.8h1.2v1.2h-1.2zM427.3 428.6h1.2v1.2h-1.2zM427.9 435.7h1.2v1.2h-1.2zM425.3 443.3h1.2v1.2h-1.2zM427.6 432.7h1.2v1.2h-1.2zM426.1 449.4h1.2v1.2h-1.2zM425.2 430.9h1.2v1.2h-1.2zM427.7 449.9h1.2v1.2h-1.2zM428.1 434.9h1.2v1.2h-1.2zM427.3 441.6h1.2v1.2h-1.2zM423.5 424.7h1.2v1.2h-1.2zM425.7 441h1.2v1.2h-1.2zM425.7 433.2h1.2v1.2h-1.2zM425.5 443.1h1.2v1.2h-1.2zM428.6 437.3h1.2v1.2h-1.2zM427.4 428.2h1.2v1.2h-1.2zM425 426.9h1.2v1.2h-1.2zM428 437.6h1.2v1.2h-1.2zM430.3 439.1h1.2v1.2h-1.2zM424.9 429.7h1.2v1.2h-1.2zM424.7 427h1.2v1.2h-1.2zM429.5 450.2h1.2v1.2h-1.2zM426 439.2h1.2v1.2h-1.2zM425.4 447.9h1.2v1.2h-1.2zM425 422.3h1.2v1.2h-1.2zM426.6 428.7h1.2v1.2h-1.2zM425.1 427.4h1.2v1.2h-1.2zM426.1 427.1h1.2v1.2h-1.2zM428 440.4h1.2v1.2h-1.2zM424.1 448.6h1.2v1.2h-1.2zM426.4 431.4h1.2v1.2h-1.2zM423.6 420.4h1.2v1.2h-1.2zM422.7 434.3h1.2v1.2h-1.2zM425.4 429.1h1.2v1.2h-1.2zM423.6 428.6h1.2v1.2h-1.2zM424.3 448h1.2v1.2h-1.2zM425 445.4h1.2v1.2h-1.2zM427.3 424h1.2v1.2h-1.2zM428.7 419.9h1.2v1.2h-1.2zM424.1 447.9h1.2v1.2h-1.2zM426.5 433.3h1.2v1.2h-1.2zM426.7 432.9h1.2v1.2h-1.2zM427.1 421.4h1.2v1.2h-1.2zM423.4 421.5h1.2v1.2h-1.2zM423.8 436h1.2v1.2h-1.2zM429.1 436.7h1.2v1.2h-1.2zM425.7 424.1h1.2v1.2h-1.2zM422.4 423.8h1.2v1.2h-1.2zM426.2 450.9h1.2v1.2h-1.2zM425 424h1.2v1.2h-1.2zM427 449.7h1.2v1.2h-1.2zM427.1 445.3h1.2v1.2h-1.2zM425.9 421.1h1.2v1.2h-1.2zM426.5 420.4h1.2v1.2h-1.2zM422.7 441.5h1.2v1.2h-1.2zM428.9 443.8h1.2v1.2h-1.2zM423.3 423.4h1.2v1.2h-1.2zM424.9 426.9h1.2v1.2h-1.2zM427.4 425.6h1.2v1.2h-1.2zM428.9 427.7h1.2v1.2h-1.2zM426.8 449h1.2v1.2h-1.2zM426.6 448.9h1.2v1.2h-1.2zM427.5 441h1.2v1.2h-1.2zM426.8 449.3h1.2v1.2h-1.2zM425.5 443.8h1.2v1.2h-1.2zM427.1 433h1.2v1.2h-1.2zM429.8 442.2h1.2v1.2h-1.2zM427.5 421.6h1.2v1.2h-1.2zM423.6 435.2h1.2v1.2h-1.2zM428.6 422.8h1.2v1.2h-1.2zM426.5 435.3h1.2v1.2h-1.2zM430.2 432.8h1.2v1.2h-1.2zM423.8 440.5h1.2v1.2h-1.2zM430.1 440.4h1.2v1.2h-1.2zM428 442.5h1.2v1.2h-1.2zM426.1 422h1.2v1.2h-1.2zM424.5 447.1h1.2v1.2h-1.2zM424.6 432.7h1.2v1.2h-1.2zM426.2 450.4h1.2v1.2h-1.2zM426.6 436.4h1.2v1.2h-1.2zM427.9 447.2h1.2v1.2h-1.2zM427.9 438.7h1.2v1.2h-1.2zM427.2 425.7h1.2v1.2h-1.2zM425.1 444.3h1.2v1.2h-1.2zM429.3 432.2h1.2v1.2h-1.2zM428.7 430.4h1.2v1.2h-1.2zM422.8 447h1.2v1.2h-1.2zM428.1 447.1h1.2v1.2h-1.2zM427.1 422.5h1.2v1.2h-1.2zM428.1 425.8h1.2v1.2h-1.2zM428 422.2h1.2v1.2h-1.2zM425.3 437.8h1.2v1.2h-1.2zM429.6 429.2h1.2v1.2h-1.2zM430.2 433.9h1.2v1.2h-1.2zM428.3 443.4h1.2v1.2h-1.2zM427.4 422.4h1.2v1.2h-1.2zM424.7 428.9h1.2v1.2h-1.2zM426.2 424.9h1.2v1.2h-1.2zM427.7 450.2h1.2v1.2h-1.2zM428.1 428.7h1.2v1.2h-1.2zM425.2 433.4h1.2v1.2h-1.2zM427.6 443.1h1.2v1.2h-1.2zM427.4 427.4h1.2v1.2h-1.2zM425.2 423.3h1.2v1.2h-1.2zM429.1 432.4h1.2v1.2h-1.2zM428.5 427.1h1.2v1.2h-1.2zM427.7 433.4h1.2v1.2h-1.2zM426.2 431.7h1.2v1.2h-1.2zM425.5 430.2h1.2v1.2h-1.2zM426.5 440.2h1.2v1.2h-1.2zM427.8 422.6h1.2v1.2h-1.2zM425.3 426.3h1.2v1.2h-1.2zM429.8 441.5h1.2v1.2h-1.2zM422.3 421.9h1.2v1.2h-1.2zM428 429.2h1.2v1.2h-1.2zM427.6 449.5h1.2v1.2h-1.2zM427.7 427.8h1.2v1.2h-1.2zM425.6 434.1h1.2v1.2h-1.2zM427.5 443.3h1.2v1.2h-1.2zM424.6 439.9h1.2v1.2h-1.2zM425.8 437.9h1.2v1.2h-1.2zM424.7 421.6h1.2v1.2h-1.2zM428.5 430.7h1.2v1.2h-1.2zM427.2 434.5h1.2v1.2h-1.2zM426.1 443.3h1.2v1.2h-1.2zM429.8 441.4h1.2v1.2h-1.2zM425.3 432.9h1.2v1.2h-1.2zM425.2 430.1h1.2v1.2h-1.2zM428.2 440.4h1.2v1.2h-1.2zM424.3 438.7h1.2v1.2h-1.2zM422 435.1h1.2v1.2h-1.2zM424.2 422h1.2v1.2h-1.2zM427.8 446.6h1.2v1.2h-1.2zM427.4 435.6h1.2v1.2h-1.2zM428.4 448.2h1.2v1.2h-1.2zM426.3 427h1.2v1.2h-1.2zM429 423.6h1.2v1.2h-1.2zM427.8 437.9h1.2v1.2h-1.2zM424.3 448.9h1.2v1.2h-1.2zM426.3 447.3h1.2v1.2h-1.2zM426.7 425.7h1.2v1.2h-1.2zM427.6 436.6h1.2v1.2h-1.2zM428.8 446.4h1.2v1.2h-1.2zM426.1 441.4h1.2v1.2h-1.2zM427.2 420.4h1.2v1.2h-1.2zM425.6 444.2h1.2v1.2h-1.2zM425.2 421.1h1.2v1.2h-1.2zM425.2 450.6h1.2v1.2h-1.2zM429.1 440.8h1.2v1.2h-1.2zM423.8 432h1.2v1.2h-1.2zM426.3 431.2h1.2v1.2h-1.2zM426.6 433.6h1.2v1.2h-1.2zM425.5 447.9h1.2v1.2h-1.2zM423.3 420.6h1.2v1.2h-1.2zM426.2 437h1.2v1.2h-1.2zM428.2 436.9h1.2v1.2h-1.2zM427.4 434.8h1.2v1.2h-1.2zM426.3 425.9h1.2v1.2h-1.2zM426.6 450h1.2v1.2h-1.2zM426.8 445.3h1.2v1.2h-1.2zM428.3 441.9h1.2v1.2h-1.2zM425.9 423.5h1.2v1.2h-1.2zM425 444.5h1.2v1.2h-1.2zM426.4 433h1.2v1.2h-1.2zM430 440.2h1.2v1.2h-1.2zM427.4 422h1.2v1.2h-1.2zM427.5 424.7h1.2v1.2h-1.2zM426 426.2h1.2v1.2h-1.2zM426 420.4h1.2v1.2h-1.2zM425.6 444.6h1.2v1.2h-1.2zM428 430.9h1.2v1.2h-1.2zM425.5 424.6h1.2v1.2h-1.2zM423.5 423.8h1.2v1.2h-1.2zM428.1 447.8h1.2v1.2h-1.2zM427 429.8h1.2v1.2h-1.2zM428.5 444.5h1.2v1.2h-1.2zM428 448.1h1.2v1.2h-1.2zM426.7 450.2h1.2v1.2h-1.2zM423.6 437.9h1.2v1.2h-1.2zM424.8 452.1h1.2v1.2h-1.2zM426.3 428h1.2v1.2h-1.2zM427.5 429.8h1.2v1.2h-1.2zM426.5 440h1.2v1.2h-1.2zM428.5 431.4h1.2v1.2h-1.2zM428.5 421.7h1.2v1.2h-1.2zM429.7 425.8h1.2v1.2h-1.2zM429.9 438.3h1.2v1.2h-1.2zM429.2 440.9h1.2v1.2h-1.2zM427.9 422.5h1.2v1.2h-1.2zM426 434.3h1.2v1.2h-1.2zM425.9 438.9h1.2v1.2h-1.2zM422.6 423.8h1.2v1.2h-1.2zM426.6 441.8h1.2v1.2h-1.2zM426.5 419.9h1.2v1.2h-1.2zM426.4 434.1h1.2v1.2h-1.2zM427.3 421.6h1.2v1.2h-1.2zM429.1 437.9h1.2v1.2h-1.2zM424 432.7h1.2v1.2h-1.2zM425.4 434.2h1.2v1.2h-1.2zM427 445h1.2v1.2h-1.2zM425.8 432.4h1.2v1.2h-1.2zM427.1 437.9h1.2v1.2h-1.2zM428.5 447.7h1.2v1.2h-1.2zM427.5 436.2h1.2v1.2h-1.2zM429.4 446.1h1.2v1.2h-1.2zM427.1 445.6h1.2v1.2h-1.2zM423.1 441.4h1.2v1.2h-1.2zM424.9 424.9h1.2v1.2h-1.2zM428.2 428.6h1.2v1.2h-1.2zM425.1 432.9h1.2v1.2h-1.2zM428.8 435.8h1.2v1.2h-1.2zM427.8 425.2h1.2v1.2h-1.2zM427.5 444.9h1.2v1.2h-1.2zM430.6 430.9h1.2v1.2h-1.2zM425.4 421.2h1.2v1.2h-1.2zM424.2 423.1h1.2v1.2h-1.2zM425.3 436.7h1.2v1.2h-1.2zM426.1 423h1.2v1.2h-1.2zM428.1 429.3h1.2v1.2h-1.2zM427 428.5h1.2v1.2h-1.2zM427.5 435.7h1.2v1.2h-1.2zM425.9 429.2h1.2v1.2h-1.2zM428.3 421.9h1.2v1.2h-1.2zM427.2 423.8h1.2v1.2h-1.2zM430.8 448.8h1.2v1.2h-1.2zM426.9 424.4h1.2v1.2h-1.2z" fill="#000"/>
<path d="M428.1 454.8h1.2v1.2h-1.2zM428 466.7h1.2v1.2h-1.2zM427.7 466.8h1.2v1.2h-1.2zM426.2 461.5h1.2v1.2h-1.2zM429.2 467.3h1.2v1.2h-1.2zM425.6 454.7h1.2v1.2h-1.2zM426.5 454.2h1.2v1.2h-1.2zM424.6 463.3h1.2v1.2h-1.2zM428.4 450.2h1.2v1.2h-1.2zM426.7 454.5h1.2v1.2h-1.2zM427.6 469.5h1.2v1.2h-1.2zM426.1 454.1h1.2v1.2h-1.2zM421.2 454h1.2v1.2h-1.2zM426.9 461h1.2v1.2h-1.2zM429 451.9h1.2v1.2h-1.2zM426.6 468.4h1.2v1.2h-1.2zM424.4 459.6h1.2v1.2h-1.2zM428 469.7h1.2v1.2h-1.2zM429.1 458.9h1.2v1.2h-1.2zM426.2 451.8h1.2v1.2h-1.2zM427 453.6h1.2v1.2h-1.2zM427.7 456.5h1.2v1.2h-1.2zM427.4 468.7h1.2v1.2h-1.2zM428.3 450.2h1.2v1.2h-1.2zM427 466h1.2v1.2h-1.2zM425.5 449.6h1.2v1.2h-1.2zM425.7 454.4h1.2v1.2h-1.2zM427.6 462.9h1.2v1.2h-1.2zM427.4 453.5h1.2v1.2h-1.2zM426.9 457.4h1.2v1.2h-1.2zM425.2 464h1.2v1.2h-1.2zM427.6 457.9h1.2v1.2h-1.2zM421.8 461.6h1.2v1.2h-1.2zM428.2 459h1.2v1.2h-1.2zM427.2 458.8h1.2v1.2h-1.2zM428.1 456h1.2v1.2h-1.2zM425 449.6h1.2v1.2h-1.2zM427.1 465.3h1.2v1.2h-1.2zM425.3 452.9h1.2v1.2h-1.2zM424.5 454.6h1.2v1.2h-1.2zM425.9 467.2h1.2v1.2h-1.2zM423.9 452.2h1.2v1.2h-1.2zM429.4 456h1.2v1.2h-1.2zM426.6 456.6h1.2v1.2h-1.2zM429.1 466.3h1.2v1.2h-1.2z" fill="#000"/>
<path d="M420.1 436.6h1v1h-1zM428.2 444.1h1v1h-1zM431.1 450.7h1v1h-1zM421.9 460.6h1v1h-1zM429.5 461.9h1v1h-1zM426.8 444.9h1v1h-1zM426 453.5h1v1h-1zM423.9 428.5h1v1h-1zM426 425.6h1v1h-1zM421.9 460.1h1v1h-1zM429.2 464.6h1v1h-1zM429.3 448.6h1v1h-1zM421.7 427.3h1v1h-1zM431.8 461.3h1v1h-1zM422.1 468.1h1v1h-1zM428.9 459.2h1v1h-1zM430.5 436.6h1v1h-1zM425 433.2h1v1h-1zM421.4 448.6h1v1h-1zM424.6 461.1h1v1h-1zM423.7 425.3h1v1h-1zM428.8 458.4h1v1h-1zM427.9 431h1v1h-1zM420 445.2h1v1h-1zM430.5 422.6h1v1h-1z" fill="#000"/>
<rect x="369.9" y="342.9" width="130.1" height="130.2" fill="none" stroke="#000" stroke-width="1.3"/>
<path d="M417.4 342.9V473.1M369.9 419.4H500" stroke="#000" stroke-width="1.3" fill="none"/>
<path d="M369.9 473.1v4.5M369.9 473.1h-4.5M376.2 473.1v4.2M369.9 466.8h-4.2M379.9 473.1v4.2M369.9 463.1h-4.2M382.5 473.1v4.2M369.9 460.5h-4.2M384.6 473.1v4.2M369.9 458.4h-4.2M386.2 473.1v4.2M369.9 456.8h-4.2M387.6 473.1v4.2M369.9 455.4h-4.2M388.9 473.1v4.2M369.9 454.1h-4.2M389.9 473.1v4.2M369.9 453.1h-4.2M390.9 473.1v4.5M369.9 452.1h-4.5M397.2 473.1v4.2M369.9 445.8h-4.2M400.9 473.1v4.2M369.9 442.1h-4.2M403.5 473.1v4.2M369.9 439.5h-4.2M405.6 473.1v4.2M369.9 437.4h-4.2M407.2 473.1v4.2M369.9 435.8h-4.2M408.6 473.1v4.2M369.9 434.4h-4.2M409.8 473.1v4.2M369.9 433.1h-4.2M410.9 473.1v4.2M369.9 432.1h-4.2M411.9 473.1v4.5M369.9 431.1h-4.5M418.2 473.1v4.2M369.9 424.8h-4.2M421.9 473.1v4.2M369.9 421.1h-4.2M424.5 473.1v4.2M369.9 418.5h-4.2M426.5 473.1v4.2M369.9 416.4h-4.2M428.2 473.1v4.2M369.9 414.8h-4.2M429.6 473.1v4.2M369.9 413.4h-4.2M430.8 473.1v4.2M369.9 412.1h-4.2M431.9 473.1v4.2M369.9 411.1h-4.2M432.9 473.1v4.5M369.9 410.1h-4.5M439.2 473.1v4.2M369.9 403.8h-4.2M442.9 473.1v4.2M369.9 400.1h-4.2M445.5 473.1v4.2M369.9 397.5h-4.2M447.5 473.1v4.2M369.9 395.4h-4.2M449.2 473.1v4.2M369.9 393.8h-4.2M450.6 473.1v4.2M369.9 392.4h-4.2M451.8 473.1v4.2M369.9 391.1h-4.2M452.9 473.1v4.2M369.9 390.1h-4.2M453.8 473.1v4.5M369.9 389.1h-4.5M460.2 473.1v4.2M369.9 382.8h-4.2M463.8 473.1v4.2M369.9 379.1h-4.2M466.5 473.1v4.2M369.9 376.5h-4.2M468.5 473.1v4.2M369.9 374.4h-4.2M470.2 473.1v4.2M369.9 372.8h-4.2M471.6 473.1v4.2M369.9 371.4h-4.2M472.8 473.1v4.2M369.9 370.1h-4.2M473.9 473.1v4.2M369.9 369.1h-4.2M474.8 473.1v4.5M369.9 368.1h-4.5M481.1 473.1v4.2M369.9 361.8h-4.2M484.8 473.1v4.2M369.9 358.1h-4.2M487.5 473.1v4.2M369.9 355.5h-4.2M489.5 473.1v4.2M369.9 353.4h-4.2M491.1 473.1v4.2M369.9 351.8h-4.2M492.6 473.1v4.2M369.9 350.4h-4.2M493.8 473.1v4.2M369.9 349.1h-4.2M494.8 473.1v4.2M369.9 348.1h-4.2M495.8 473.1v4.5M369.9 347.1h-4.5M500 473.1v4.5M369.9 342.9h-4.5" stroke="#000" stroke-width="1" fill="none"/>
<text x="369.7" y="486.1" class="tl" text-anchor="middle">ω<tspan class="sup" dy="-1.5">1</tspan></text><text transform="translate(361.6 473.4) rotate(-90)" class="tl" text-anchor="middle">ω<tspan class="sup" dy="-1.5">1</tspan></text><text x="390.7" y="486.1" class="tl" text-anchor="middle">ω<tspan class="sup" dy="-1.5">2</tspan></text><text transform="translate(361.6 452.4) rotate(-90)" class="tl" text-anchor="middle">ω<tspan class="sup" dy="-1.5">2</tspan></text><text x="411.7" y="486.1" class="tl" text-anchor="middle">ω<tspan class="sup" dy="-1.5">3</tspan></text><text transform="translate(361.6 431.4) rotate(-90)" class="tl" text-anchor="middle">ω<tspan class="sup" dy="-1.5">3</tspan></text><text x="432.7" y="486.1" class="tl" text-anchor="middle">ω<tspan class="sup" dy="-1.5">4</tspan></text><text transform="translate(361.6 410.4) rotate(-90)" class="tl" text-anchor="middle">ω<tspan class="sup" dy="-1.5">4</tspan></text><text x="453.6" y="486.1" class="tl" text-anchor="middle">ω<tspan class="sup" dy="-1.5">5</tspan></text><text transform="translate(361.6 389.4) rotate(-90)" class="tl" text-anchor="middle">ω<tspan class="sup" dy="-1.5">5</tspan></text><text x="474.6" y="486.1" class="tl" text-anchor="middle">ω<tspan class="sup" dy="-1.5">6</tspan></text><text transform="translate(361.6 368.4) rotate(-90)" class="tl" text-anchor="middle">ω<tspan class="sup" dy="-1.5">6</tspan></text><text x="499.8" y="486.1" class="tl" text-anchor="middle">ω<tspan class="sup" dy="-1.5">7.2</tspan></text><text transform="translate(361.6 343.2) rotate(-90)" class="tl" text-anchor="middle">ω<tspan class="sup" dy="-1.5">7.2</tspan></text>
<text x="384.4" y="355.9" class="qn">0.11</text>
<text x="465.8" y="354.8" class="qn">5.14</text>
<text x="466.8" y="433.4" class="qn">0.46</text>
<polygon points="530,427 541,425 552,423 563,421 574,419.5 574,419.5 572.5,440 569,455 566,473.5 529.4,473.5" fill="#000"/>
<path d="M528.7 420.2h1.2v1.2h-1.2zM565.3 416.9h1.2v1.2h-1.2zM549.8 419.3h1.2v1.2h-1.2zM561.2 417.1h1.2v1.2h-1.2zM541.7 424h1.2v1.2h-1.2zM549.8 420.9h1.2v1.2h-1.2zM569.2 417.9h1.2v1.2h-1.2zM539.2 424.6h1.2v1.2h-1.2zM535.9 419.2h1.2v1.2h-1.2zM529.2 424.3h1.2v1.2h-1.2zM570.3 418h1.2v1.2h-1.2zM567.2 417.8h1.2v1.2h-1.2zM547.1 422.2h1.2v1.2h-1.2zM531.8 425.5h1.2v1.2h-1.2zM531.9 423.6h1.2v1.2h-1.2zM557.8 421.2h1.2v1.2h-1.2zM548.1 422.9h1.2v1.2h-1.2zM555.8 420.8h1.2v1.2h-1.2zM555.6 421.3h1.2v1.2h-1.2zM569.4 417.3h1.2v1.2h-1.2zM561.5 416.9h1.2v1.2h-1.2zM548.5 422.8h1.2v1.2h-1.2zM554.3 420h1.2v1.2h-1.2zM562.2 418.8h1.2v1.2h-1.2zM552.4 421.8h1.2v1.2h-1.2zM537.4 424.7h1.2v1.2h-1.2zM544.1 421.1h1.2v1.2h-1.2zM532 424.7h1.2v1.2h-1.2zM555.8 421.4h1.2v1.2h-1.2zM532.9 418.7h1.2v1.2h-1.2zM563.2 420h1.2v1.2h-1.2zM572.6 417.8h1.2v1.2h-1.2zM537.4 420.7h1.2v1.2h-1.2zM546.4 422.7h1.2v1.2h-1.2zM551.1 415.3h1.2v1.2h-1.2zM539.9 422.6h1.2v1.2h-1.2zM552.8 422.1h1.2v1.2h-1.2zM533.8 424.9h1.2v1.2h-1.2zM562.3 418h1.2v1.2h-1.2zM533.3 423.7h1.2v1.2h-1.2zM564.7 419.7h1.2v1.2h-1.2zM551.4 420.7h1.2v1.2h-1.2zM555.5 421.2h1.2v1.2h-1.2zM559.4 419.3h1.2v1.2h-1.2zM571.9 418.6h1.2v1.2h-1.2zM538.8 424.4h1.2v1.2h-1.2zM558.4 420h1.2v1.2h-1.2zM552.8 419.8h1.2v1.2h-1.2zM536.1 423.1h1.2v1.2h-1.2zM533.8 423.2h1.2v1.2h-1.2zM567.2 419.4h1.2v1.2h-1.2zM555.2 421.4h1.2v1.2h-1.2zM561 419.5h1.2v1.2h-1.2zM537.5 424.1h1.2v1.2h-1.2zM559.8 417.5h1.2v1.2h-1.2zM541.7 421.9h1.2v1.2h-1.2zM545.8 421.3h1.2v1.2h-1.2zM551.9 421.8h1.2v1.2h-1.2zM536.2 425.1h1.2v1.2h-1.2zM570.5 418.7h1.2v1.2h-1.2zM558.2 417h1.2v1.2h-1.2zM546 420.4h1.2v1.2h-1.2zM539.2 422.4h1.2v1.2h-1.2zM555.5 420.1h1.2v1.2h-1.2zM565.2 419.8h1.2v1.2h-1.2zM546.1 420.8h1.2v1.2h-1.2zM559.4 420.7h1.2v1.2h-1.2zM545.9 423.3h1.2v1.2h-1.2zM551.1 422.4h1.2v1.2h-1.2zM569.3 417.5h1.2v1.2h-1.2zM566.7 419.6h1.2v1.2h-1.2z" fill="#000"/>
<path d="M547.6 423.3h1.2v1.2h-1.2zM547 424.3h1.2v1.2h-1.2zM566.4 423.9h1.2v1.2h-1.2zM544.9 425.5h1.2v1.2h-1.2zM566.4 422.8h1.2v1.2h-1.2zM540.6 426.2h1.2v1.2h-1.2zM532.4 426.9h1.2v1.2h-1.2zM569.6 419.8h1.2v1.2h-1.2zM545 424.7h1.2v1.2h-1.2zM544.8 424.9h1.2v1.2h-1.2zM534.3 425.6h1.2v1.2h-1.2zM532.2 426.2h1.2v1.2h-1.2zM553.2 422.4h1.2v1.2h-1.2zM545.3 426.2h1.2v1.2h-1.2zM561.7 423.6h1.2v1.2h-1.2zM569.9 419.8h1.2v1.2h-1.2zM537.1 426h1.2v1.2h-1.2zM564.5 420.3h1.2v1.2h-1.2zM545.9 423.5h1.2v1.2h-1.2zM565.7 420.4h1.2v1.2h-1.2zM549.3 424.3h1.2v1.2h-1.2zM531.8 426.7h1.2v1.2h-1.2z" fill="#fff"/>
<path d="M576 437.4h1.2v1.2h-1.2zM575.1 422.9h1.2v1.2h-1.2zM570.2 448.8h1.2v1.2h-1.2zM571.7 465.3h1.2v1.2h-1.2zM578.5 438.1h1.2v1.2h-1.2zM571.6 450.3h1.2v1.2h-1.2zM571.9 441.4h1.2v1.2h-1.2zM575.2 421.2h1.2v1.2h-1.2zM572 443.9h1.2v1.2h-1.2zM574.1 444.8h1.2v1.2h-1.2zM576 429.3h1.2v1.2h-1.2zM571.1 446.3h1.2v1.2h-1.2zM574.4 440.9h1.2v1.2h-1.2zM570.7 448.5h1.2v1.2h-1.2zM573.5 432.3h1.2v1.2h-1.2zM570.2 450.8h1.2v1.2h-1.2zM572.9 440.9h1.2v1.2h-1.2zM572.7 445.7h1.2v1.2h-1.2zM573.1 434.5h1.2v1.2h-1.2zM572.5 433h1.2v1.2h-1.2zM568.1 461.3h1.2v1.2h-1.2zM577.1 425h1.2v1.2h-1.2zM572.7 432.6h1.2v1.2h-1.2zM573 454.1h1.2v1.2h-1.2zM571.1 443.9h1.2v1.2h-1.2zM568.5 458.9h1.2v1.2h-1.2zM570.3 460.6h1.2v1.2h-1.2zM574.2 419.1h1.2v1.2h-1.2zM570 463.2h1.2v1.2h-1.2zM575.9 433.3h1.2v1.2h-1.2zM573.5 436.8h1.2v1.2h-1.2zM570.7 446.6h1.2v1.2h-1.2zM570.6 446.9h1.2v1.2h-1.2zM579.2 435.6h1.2v1.2h-1.2zM574 440.6h1.2v1.2h-1.2zM573.4 436h1.2v1.2h-1.2zM569.7 449.5h1.2v1.2h-1.2zM569.6 454.7h1.2v1.2h-1.2zM568 457.9h1.2v1.2h-1.2zM572.7 433h1.2v1.2h-1.2zM575.9 435.9h1.2v1.2h-1.2zM567.6 462.2h1.2v1.2h-1.2zM572.7 436h1.2v1.2h-1.2zM566.5 466.2h1.2v1.2h-1.2zM574 456.1h1.2v1.2h-1.2zM574.9 437h1.2v1.2h-1.2zM572.8 437.6h1.2v1.2h-1.2zM572.4 436.8h1.2v1.2h-1.2zM571.1 442.8h1.2v1.2h-1.2zM569.5 465.6h1.2v1.2h-1.2zM567 467.5h1.2v1.2h-1.2zM570 447.8h1.2v1.2h-1.2zM579.8 427.1h1.2v1.2h-1.2zM574.8 433.1h1.2v1.2h-1.2zM567.3 464.9h1.2v1.2h-1.2zM569.2 463.7h1.2v1.2h-1.2zM567.1 465.1h1.2v1.2h-1.2zM575.3 449.6h1.2v1.2h-1.2zM566.9 467.8h1.2v1.2h-1.2zM573.3 420.4h1.2v1.2h-1.2zM573.4 431.7h1.2v1.2h-1.2zM572 459h1.2v1.2h-1.2zM573.9 435.3h1.2v1.2h-1.2zM574.8 445.3h1.2v1.2h-1.2zM574.2 432.1h1.2v1.2h-1.2z" fill="#000"/>
<path d="M566 453.3h1.2v1.2h-1.2zM564.8 460.6h1.2v1.2h-1.2zM571.6 425.4h1.2v1.2h-1.2zM571.5 431.3h1.2v1.2h-1.2zM570.2 423.8h1.2v1.2h-1.2zM570.7 435.3h1.2v1.2h-1.2zM565.8 455.9h1.2v1.2h-1.2zM569.2 449.8h1.2v1.2h-1.2zM568.8 434.6h1.2v1.2h-1.2zM564.1 451h1.2v1.2h-1.2zM569.7 442h1.2v1.2h-1.2zM570.4 422.8h1.2v1.2h-1.2zM564.2 467.7h1.2v1.2h-1.2zM572.9 422.5h1.2v1.2h-1.2zM565.1 446.4h1.2v1.2h-1.2zM572 429.6h1.2v1.2h-1.2zM566.2 460.5h1.2v1.2h-1.2zM565.1 471.6h1.2v1.2h-1.2zM564.8 456.5h1.2v1.2h-1.2zM568.4 442.1h1.2v1.2h-1.2zM572.1 433.9h1.2v1.2h-1.2zM568.8 442.9h1.2v1.2h-1.2zM563.5 462h1.2v1.2h-1.2zM564.5 462.7h1.2v1.2h-1.2zM565.3 467.7h1.2v1.2h-1.2zM565.3 460.9h1.2v1.2h-1.2zM572.2 425.1h1.2v1.2h-1.2zM570 427h1.2v1.2h-1.2zM565.2 471.7h1.2v1.2h-1.2zM569 451.7h1.2v1.2h-1.2zM569.6 446.2h1.2v1.2h-1.2zM567.7 453.4h1.2v1.2h-1.2zM572.2 427.9h1.2v1.2h-1.2zM565.9 465.8h1.2v1.2h-1.2zM565.8 467.5h1.2v1.2h-1.2zM565.9 468.9h1.2v1.2h-1.2zM567.9 438.8h1.2v1.2h-1.2zM569.6 431h1.2v1.2h-1.2zM571.9 419.2h1.2v1.2h-1.2zM567.8 457.3h1.2v1.2h-1.2zM562.8 465.6h1.2v1.2h-1.2zM567.3 454.5h1.2v1.2h-1.2zM567.1 456.8h1.2v1.2h-1.2zM571.9 438.9h1.2v1.2h-1.2zM570.3 439.6h1.2v1.2h-1.2zM569.4 449.7h1.2v1.2h-1.2zM570.5 438.5h1.2v1.2h-1.2zM563.2 472.3h1.2v1.2h-1.2zM565 459.9h1.2v1.2h-1.2z" fill="#fff"/>
<path d="M547.4 460.1h1.3v1.3h-1.3zM547.4 472h1.3v1.3h-1.3zM534.4 455.3h1.3v1.3h-1.3zM534.5 469.7h1.3v1.3h-1.3zM529.6 454.6h1.3v1.3h-1.3zM537.2 469.2h1.3v1.3h-1.3zM542 469.1h1.3v1.3h-1.3zM533.3 464.6h1.3v1.3h-1.3zM529.4 472.3h1.3v1.3h-1.3zM533.4 470.1h1.3v1.3h-1.3zM538.3 457h1.3v1.3h-1.3zM529.6 464.9h1.3v1.3h-1.3zM541.7 470.6h1.3v1.3h-1.3zM533.2 466.4h1.3v1.3h-1.3zM547.4 466.1h1.3v1.3h-1.3zM533 464.6h1.3v1.3h-1.3zM529.6 471.6h1.3v1.3h-1.3zM531.2 470h1.3v1.3h-1.3zM531.2 462.7h1.3v1.3h-1.3zM536.9 458.3h1.3v1.3h-1.3zM530.7 471.9h1.3v1.3h-1.3zM543.4 452h1.3v1.3h-1.3zM531.6 472h1.3v1.3h-1.3zM534.1 467.2h1.3v1.3h-1.3zM531.8 452h1.3v1.3h-1.3zM535.2 464.5h1.3v1.3h-1.3zM537.1 469.2h1.3v1.3h-1.3zM530.1 472.4h1.3v1.3h-1.3zM529.8 468.7h1.3v1.3h-1.3zM547.1 472.9h1.3v1.3h-1.3zM534.2 467.1h1.3v1.3h-1.3zM533.5 467.2h1.3v1.3h-1.3zM530.1 468h1.3v1.3h-1.3zM529.4 464.8h1.3v1.3h-1.3zM531.4 467.7h1.3v1.3h-1.3zM532.8 464.1h1.3v1.3h-1.3zM534.6 471.4h1.3v1.3h-1.3zM530.4 466.7h1.3v1.3h-1.3zM534.3 466.2h1.3v1.3h-1.3zM539 460.3h1.3v1.3h-1.3zM533.2 471.2h1.3v1.3h-1.3zM531.6 453.3h1.3v1.3h-1.3zM529.8 457.9h1.3v1.3h-1.3zM533.5 468.8h1.3v1.3h-1.3zM533.6 469.3h1.3v1.3h-1.3zM535 469.8h1.3v1.3h-1.3zM531.1 471.5h1.3v1.3h-1.3zM531.8 462.3h1.3v1.3h-1.3zM533.2 472.2h1.3v1.3h-1.3zM536.3 461.8h1.3v1.3h-1.3zM530.2 468.3h1.3v1.3h-1.3zM536.2 472.8h1.3v1.3h-1.3zM539.7 471h1.3v1.3h-1.3zM532.1 455h1.3v1.3h-1.3zM530.2 470.1h1.3v1.3h-1.3zM547.4 471.5h1.3v1.3h-1.3zM533.8 464.2h1.3v1.3h-1.3zM539.4 470.9h1.3v1.3h-1.3zM529.9 468h1.3v1.3h-1.3zM530 470.8h1.3v1.3h-1.3zM533.8 471.8h1.3v1.3h-1.3zM538.4 456.4h1.3v1.3h-1.3zM530.6 463h1.3v1.3h-1.3zM539.2 470.2h1.3v1.3h-1.3zM531.2 466.2h1.3v1.3h-1.3zM529.5 471.4h1.3v1.3h-1.3zM529.8 453.5h1.3v1.3h-1.3zM531.4 464.2h1.3v1.3h-1.3zM531.9 471.9h1.3v1.3h-1.3zM535.3 468.1h1.3v1.3h-1.3zM529.5 469.9h1.3v1.3h-1.3zM538 468.6h1.3v1.3h-1.3zM534.7 471.8h1.3v1.3h-1.3zM539.5 464.1h1.3v1.3h-1.3zM531.6 470.1h1.3v1.3h-1.3zM540.3 471h1.3v1.3h-1.3zM547.4 471.9h1.3v1.3h-1.3zM531.3 466h1.3v1.3h-1.3zM534.5 461.4h1.3v1.3h-1.3zM530.1 464.5h1.3v1.3h-1.3zM540.4 470.6h1.3v1.3h-1.3zM530.6 471.6h1.3v1.3h-1.3zM530.6 463.6h1.3v1.3h-1.3zM533.4 463.2h1.3v1.3h-1.3zM529.4 466.8h1.3v1.3h-1.3zM529.9 468.1h1.3v1.3h-1.3zM529.9 460.8h1.3v1.3h-1.3zM540.9 461.1h1.3v1.3h-1.3zM533.1 466h1.3v1.3h-1.3zM531.8 470.3h1.3v1.3h-1.3zM538.2 470.9h1.3v1.3h-1.3zM538.7 471.5h1.3v1.3h-1.3zM532.8 470.7h1.3v1.3h-1.3zM530.6 467h1.3v1.3h-1.3zM529.9 472h1.3v1.3h-1.3zM540 472.3h1.3v1.3h-1.3zM538.7 456.7h1.3v1.3h-1.3zM530.7 454.7h1.3v1.3h-1.3zM542.5 463.9h1.3v1.3h-1.3zM529.7 470.3h1.3v1.3h-1.3z" fill="#fff"/>
<path d="M531.8 428V458" stroke="#ccc" stroke-width="1.2"/>
<path d="M586.2 444.8h1.2v1.2h-1.2zM584.1 440.1h1.2v1.2h-1.2zM589.5 431.9h1.2v1.2h-1.2zM585.7 446.3h1.2v1.2h-1.2zM587.2 431.1h1.2v1.2h-1.2zM584 430.3h1.2v1.2h-1.2zM591.1 422.4h1.2v1.2h-1.2zM585.9 417h1.2v1.2h-1.2zM588.8 418.2h1.2v1.2h-1.2zM586.8 442.8h1.2v1.2h-1.2zM585.8 442.4h1.2v1.2h-1.2zM583.2 423.1h1.2v1.2h-1.2zM586.7 425.7h1.2v1.2h-1.2zM589.3 426.9h1.2v1.2h-1.2zM588.7 434.9h1.2v1.2h-1.2zM584 430h1.2v1.2h-1.2zM588.3 443.7h1.2v1.2h-1.2zM586 441.6h1.2v1.2h-1.2zM584 440.7h1.2v1.2h-1.2zM587.5 422h1.2v1.2h-1.2zM585.1 418.5h1.2v1.2h-1.2zM585.9 440.2h1.2v1.2h-1.2zM584.7 435.7h1.2v1.2h-1.2zM587 436.8h1.2v1.2h-1.2zM588.4 423.3h1.2v1.2h-1.2zM582.3 425.1h1.2v1.2h-1.2zM584 419.5h1.2v1.2h-1.2zM584.2 418.9h1.2v1.2h-1.2zM586.3 444.2h1.2v1.2h-1.2zM585.5 437.6h1.2v1.2h-1.2zM583.1 432.6h1.2v1.2h-1.2zM581.2 421.8h1.2v1.2h-1.2zM584.4 426.2h1.2v1.2h-1.2zM584.2 427.5h1.2v1.2h-1.2zM586.1 438.1h1.2v1.2h-1.2zM586.8 439.2h1.2v1.2h-1.2zM583.9 438.5h1.2v1.2h-1.2zM585.8 430.6h1.2v1.2h-1.2zM578.9 418h1.2v1.2h-1.2zM584.6 426h1.2v1.2h-1.2zM583.4 420.3h1.2v1.2h-1.2zM583.6 427.2h1.2v1.2h-1.2zM585.4 435h1.2v1.2h-1.2zM582.9 421.8h1.2v1.2h-1.2zM582.7 433.9h1.2v1.2h-1.2zM587 422.1h1.2v1.2h-1.2zM585.6 438.5h1.2v1.2h-1.2zM585.2 427.3h1.2v1.2h-1.2zM584.2 426.6h1.2v1.2h-1.2zM584.6 443.8h1.2v1.2h-1.2zM582.9 417.4h1.2v1.2h-1.2zM582.8 424.5h1.2v1.2h-1.2zM585 434.1h1.2v1.2h-1.2zM589.6 435.9h1.2v1.2h-1.2zM584.2 418.8h1.2v1.2h-1.2zM583.9 436.5h1.2v1.2h-1.2zM583.5 424.8h1.2v1.2h-1.2zM585.9 428.7h1.2v1.2h-1.2zM586.4 439h1.2v1.2h-1.2zM583.4 428.7h1.2v1.2h-1.2zM582.3 417.6h1.2v1.2h-1.2zM584.6 430.6h1.2v1.2h-1.2zM582.3 420.8h1.2v1.2h-1.2zM586.2 439h1.2v1.2h-1.2zM581.9 425.3h1.2v1.2h-1.2zM584.7 425.5h1.2v1.2h-1.2zM586.2 422.8h1.2v1.2h-1.2zM584 434.4h1.2v1.2h-1.2zM586.3 434.5h1.2v1.2h-1.2zM584.6 424.2h1.2v1.2h-1.2zM584.4 437.1h1.2v1.2h-1.2zM587.5 443.2h1.2v1.2h-1.2zM585.3 419.8h1.2v1.2h-1.2zM587.4 436.5h1.2v1.2h-1.2zM587.7 424.6h1.2v1.2h-1.2zM583.5 442.2h1.2v1.2h-1.2zM585.5 436.5h1.2v1.2h-1.2zM584.7 432.7h1.2v1.2h-1.2zM586.6 441.7h1.2v1.2h-1.2zM585.9 439.2h1.2v1.2h-1.2zM586.8 433h1.2v1.2h-1.2zM586.5 445h1.2v1.2h-1.2zM584.6 444.9h1.2v1.2h-1.2zM590.3 429h1.2v1.2h-1.2zM583.8 438.2h1.2v1.2h-1.2zM583.3 443.1h1.2v1.2h-1.2zM581.5 431.6h1.2v1.2h-1.2zM584.5 445.4h1.2v1.2h-1.2zM586.7 418h1.2v1.2h-1.2zM587.5 432.6h1.2v1.2h-1.2zM585.3 432.1h1.2v1.2h-1.2zM584.8 444.9h1.2v1.2h-1.2zM582.7 421.6h1.2v1.2h-1.2zM587.5 426.5h1.2v1.2h-1.2zM583.7 433h1.2v1.2h-1.2zM587.2 426.9h1.2v1.2h-1.2zM585.9 419.8h1.2v1.2h-1.2zM583.9 420.6h1.2v1.2h-1.2zM586.5 433.3h1.2v1.2h-1.2zM584.9 435.3h1.2v1.2h-1.2zM583.6 420.1h1.2v1.2h-1.2zM582 430.9h1.2v1.2h-1.2zM586.3 442.7h1.2v1.2h-1.2zM584 429.2h1.2v1.2h-1.2zM585 438.2h1.2v1.2h-1.2zM587 430.4h1.2v1.2h-1.2zM586.1 442.5h1.2v1.2h-1.2zM583.2 422.1h1.2v1.2h-1.2zM585.1 426h1.2v1.2h-1.2zM588.3 421.6h1.2v1.2h-1.2zM588.5 435.9h1.2v1.2h-1.2zM584.2 426.4h1.2v1.2h-1.2zM583.3 432h1.2v1.2h-1.2zM585.7 431.5h1.2v1.2h-1.2zM587.8 431.8h1.2v1.2h-1.2zM580.1 423.1h1.2v1.2h-1.2zM581.9 420.6h1.2v1.2h-1.2zM584.1 433h1.2v1.2h-1.2zM582.3 435.1h1.2v1.2h-1.2zM584.1 434.1h1.2v1.2h-1.2zM585.5 442.6h1.2v1.2h-1.2zM586.3 442.4h1.2v1.2h-1.2zM584.9 423.4h1.2v1.2h-1.2zM584.9 433.2h1.2v1.2h-1.2zM587.3 436.8h1.2v1.2h-1.2zM584.1 422.4h1.2v1.2h-1.2zM585.5 420h1.2v1.2h-1.2zM580.7 428.2h1.2v1.2h-1.2zM584 424h1.2v1.2h-1.2zM582.1 426.5h1.2v1.2h-1.2zM585.1 420h1.2v1.2h-1.2zM586.1 441.4h1.2v1.2h-1.2zM585.2 438.4h1.2v1.2h-1.2zM585.2 428.6h1.2v1.2h-1.2zM584.8 422h1.2v1.2h-1.2zM582.9 430.5h1.2v1.2h-1.2zM586.5 435.7h1.2v1.2h-1.2zM586.9 433.5h1.2v1.2h-1.2zM585.5 429.3h1.2v1.2h-1.2zM583.9 430.3h1.2v1.2h-1.2zM586.1 438h1.2v1.2h-1.2zM585.7 428.3h1.2v1.2h-1.2zM585 439.7h1.2v1.2h-1.2zM585.6 436.8h1.2v1.2h-1.2zM582.6 441.9h1.2v1.2h-1.2zM586.7 438.9h1.2v1.2h-1.2zM585.2 428.3h1.2v1.2h-1.2zM582.8 422.6h1.2v1.2h-1.2zM582.3 431.3h1.2v1.2h-1.2zM581.7 437.9h1.2v1.2h-1.2zM582.9 430.6h1.2v1.2h-1.2zM587.5 446h1.2v1.2h-1.2zM581.6 429.4h1.2v1.2h-1.2zM584.9 432.5h1.2v1.2h-1.2zM583.1 424.9h1.2v1.2h-1.2zM583.7 439.1h1.2v1.2h-1.2zM583.3 430h1.2v1.2h-1.2zM586.1 435h1.2v1.2h-1.2zM586.4 418.7h1.2v1.2h-1.2zM586.4 430.5h1.2v1.2h-1.2zM585.6 440.2h1.2v1.2h-1.2zM586.5 425.4h1.2v1.2h-1.2zM584.7 438.7h1.2v1.2h-1.2zM583.7 421.7h1.2v1.2h-1.2zM582.5 440.6h1.2v1.2h-1.2zM583.7 420.3h1.2v1.2h-1.2zM586.2 445.3h1.2v1.2h-1.2zM584.6 421.7h1.2v1.2h-1.2zM581.4 420.8h1.2v1.2h-1.2zM585.3 428h1.2v1.2h-1.2zM583.8 418.7h1.2v1.2h-1.2zM589.2 442.5h1.2v1.2h-1.2zM586.5 445.9h1.2v1.2h-1.2zM586.2 422.4h1.2v1.2h-1.2zM585.7 446.1h1.2v1.2h-1.2zM588.1 430.3h1.2v1.2h-1.2zM583 430.1h1.2v1.2h-1.2zM584.9 444.6h1.2v1.2h-1.2zM585.4 422.5h1.2v1.2h-1.2zM583 432.2h1.2v1.2h-1.2zM586.2 429.4h1.2v1.2h-1.2zM587.9 437.1h1.2v1.2h-1.2zM584 417.5h1.2v1.2h-1.2zM584.6 440.1h1.2v1.2h-1.2zM584 422h1.2v1.2h-1.2zM583.7 422.2h1.2v1.2h-1.2zM587.6 425h1.2v1.2h-1.2zM583.6 426.9h1.2v1.2h-1.2zM585 443.8h1.2v1.2h-1.2zM586.9 418.1h1.2v1.2h-1.2zM585.8 439.6h1.2v1.2h-1.2zM586.2 444.4h1.2v1.2h-1.2zM584.3 418.4h1.2v1.2h-1.2zM584.9 420.1h1.2v1.2h-1.2zM585.3 430h1.2v1.2h-1.2zM583.9 433.5h1.2v1.2h-1.2zM585.6 419.1h1.2v1.2h-1.2zM588 442.4h1.2v1.2h-1.2zM583.9 443.6h1.2v1.2h-1.2zM588.1 434.2h1.2v1.2h-1.2zM584.9 438h1.2v1.2h-1.2zM585.9 444.4h1.2v1.2h-1.2zM584 435.3h1.2v1.2h-1.2zM582.9 431.5h1.2v1.2h-1.2zM585 438.4h1.2v1.2h-1.2zM586.2 433.9h1.2v1.2h-1.2zM587.6 430.8h1.2v1.2h-1.2zM584.1 429.9h1.2v1.2h-1.2zM587.9 441.1h1.2v1.2h-1.2zM585 430.7h1.2v1.2h-1.2zM585.8 431.9h1.2v1.2h-1.2zM585 431.3h1.2v1.2h-1.2zM585.8 442.7h1.2v1.2h-1.2zM585.4 445.3h1.2v1.2h-1.2zM584.1 442.6h1.2v1.2h-1.2zM585.2 426.7h1.2v1.2h-1.2zM586.7 440.8h1.2v1.2h-1.2zM587.1 441.6h1.2v1.2h-1.2zM588.6 434.6h1.2v1.2h-1.2zM587.6 422.3h1.2v1.2h-1.2zM584.7 416.5h1.2v1.2h-1.2zM584.9 439.8h1.2v1.2h-1.2zM582.4 421.3h1.2v1.2h-1.2zM583.6 418h1.2v1.2h-1.2zM584.7 424.4h1.2v1.2h-1.2zM587.7 438.9h1.2v1.2h-1.2zM584.6 436.7h1.2v1.2h-1.2zM587.6 441.5h1.2v1.2h-1.2zM585.7 430h1.2v1.2h-1.2zM585.1 440.8h1.2v1.2h-1.2zM582.4 432.8h1.2v1.2h-1.2zM582 426h1.2v1.2h-1.2zM581.3 420.1h1.2v1.2h-1.2zM585.1 442.2h1.2v1.2h-1.2zM583.5 441h1.2v1.2h-1.2zM584.7 420.9h1.2v1.2h-1.2zM584.7 433.8h1.2v1.2h-1.2zM582.8 422h1.2v1.2h-1.2zM582.6 429.6h1.2v1.2h-1.2zM587.2 424.5h1.2v1.2h-1.2zM586.6 439.3h1.2v1.2h-1.2zM583.7 430.6h1.2v1.2h-1.2zM584.7 420.3h1.2v1.2h-1.2zM583.1 445.1h1.2v1.2h-1.2zM584.6 435.3h1.2v1.2h-1.2zM584.9 435.3h1.2v1.2h-1.2zM584.1 426.4h1.2v1.2h-1.2zM585.2 418.5h1.2v1.2h-1.2zM585.4 422.2h1.2v1.2h-1.2zM582.9 419h1.2v1.2h-1.2zM587.2 431.4h1.2v1.2h-1.2zM585.8 428.2h1.2v1.2h-1.2zM588 418.4h1.2v1.2h-1.2zM586 445.3h1.2v1.2h-1.2zM586.2 427.4h1.2v1.2h-1.2zM584.3 419.5h1.2v1.2h-1.2zM580.7 432.4h1.2v1.2h-1.2zM586.5 434h1.2v1.2h-1.2zM584.2 421.5h1.2v1.2h-1.2zM583 424h1.2v1.2h-1.2zM584.4 427.9h1.2v1.2h-1.2zM586.6 442.7h1.2v1.2h-1.2zM585.2 443.2h1.2v1.2h-1.2zM583.6 423.5h1.2v1.2h-1.2zM582.3 419.7h1.2v1.2h-1.2zM586.7 431.7h1.2v1.2h-1.2zM584.2 418.5h1.2v1.2h-1.2zM586 429.7h1.2v1.2h-1.2zM587.2 436.4h1.2v1.2h-1.2zM581.7 434.7h1.2v1.2h-1.2zM587.3 420.6h1.2v1.2h-1.2zM580.9 426.9h1.2v1.2h-1.2zM582.2 417.3h1.2v1.2h-1.2zM585 416.6h1.2v1.2h-1.2zM588.3 442.3h1.2v1.2h-1.2zM588.4 433.4h1.2v1.2h-1.2zM586.3 443.1h1.2v1.2h-1.2zM586.1 444.8h1.2v1.2h-1.2zM580.1 433h1.2v1.2h-1.2zM581.5 419.4h1.2v1.2h-1.2zM584 435.5h1.2v1.2h-1.2zM586.6 419.3h1.2v1.2h-1.2zM584.3 433h1.2v1.2h-1.2zM585 437.2h1.2v1.2h-1.2zM582.6 421.4h1.2v1.2h-1.2zM584.9 423h1.2v1.2h-1.2zM585.1 433h1.2v1.2h-1.2zM586 427.1h1.2v1.2h-1.2zM585.1 436.7h1.2v1.2h-1.2zM586 434.7h1.2v1.2h-1.2zM586 416.8h1.2v1.2h-1.2zM585.9 417.5h1.2v1.2h-1.2zM585.1 444.1h1.2v1.2h-1.2zM587.1 422.9h1.2v1.2h-1.2zM584.1 436h1.2v1.2h-1.2zM582.6 430.7h1.2v1.2h-1.2zM585.4 428.8h1.2v1.2h-1.2zM585.8 424.1h1.2v1.2h-1.2zM584 434.5h1.2v1.2h-1.2zM585.9 417.8h1.2v1.2h-1.2zM586.4 417.5h1.2v1.2h-1.2zM585.6 433.6h1.2v1.2h-1.2zM587.4 441.9h1.2v1.2h-1.2zM585.5 424.1h1.2v1.2h-1.2zM583.6 424.2h1.2v1.2h-1.2zM586.5 439.7h1.2v1.2h-1.2zM585.8 436.2h1.2v1.2h-1.2zM584.9 428.2h1.2v1.2h-1.2zM586.5 428.2h1.2v1.2h-1.2zM585.3 435.8h1.2v1.2h-1.2zM585.6 425.4h1.2v1.2h-1.2zM581.8 426h1.2v1.2h-1.2zM584.7 421.7h1.2v1.2h-1.2zM581.8 417h1.2v1.2h-1.2zM581.5 426.2h1.2v1.2h-1.2zM585.1 438.4h1.2v1.2h-1.2zM582.1 421.5h1.2v1.2h-1.2zM585.9 434.9h1.2v1.2h-1.2zM582.8 423.1h1.2v1.2h-1.2zM583.1 440.5h1.2v1.2h-1.2zM583.7 423.1h1.2v1.2h-1.2zM587.2 440.3h1.2v1.2h-1.2zM583.1 423.4h1.2v1.2h-1.2zM583.5 443.8h1.2v1.2h-1.2zM585.6 424.8h1.2v1.2h-1.2zM589.9 431h1.2v1.2h-1.2zM584.5 440.6h1.2v1.2h-1.2zM587.9 419.8h1.2v1.2h-1.2zM587.4 440.7h1.2v1.2h-1.2zM584.4 425.7h1.2v1.2h-1.2zM588.4 422h1.2v1.2h-1.2zM579.8 418.4h1.2v1.2h-1.2zM582.9 431.8h1.2v1.2h-1.2zM585.1 421.1h1.2v1.2h-1.2zM586.1 444.5h1.2v1.2h-1.2zM586.7 428.2h1.2v1.2h-1.2zM585.7 437.8h1.2v1.2h-1.2zM583.1 428.3h1.2v1.2h-1.2zM585.7 440h1.2v1.2h-1.2zM585.8 429.1h1.2v1.2h-1.2zM583.8 435.4h1.2v1.2h-1.2zM584.9 444.2h1.2v1.2h-1.2zM583.3 445.5h1.2v1.2h-1.2zM584.5 422.1h1.2v1.2h-1.2zM584.2 418.1h1.2v1.2h-1.2zM583.7 421.9h1.2v1.2h-1.2zM585.3 424.5h1.2v1.2h-1.2zM580.9 421.1h1.2v1.2h-1.2zM580.3 418.9h1.2v1.2h-1.2zM584.9 442.3h1.2v1.2h-1.2zM585 430.3h1.2v1.2h-1.2zM583.1 418.7h1.2v1.2h-1.2zM585.2 444.2h1.2v1.2h-1.2zM585.8 438.9h1.2v1.2h-1.2zM584.7 421.7h1.2v1.2h-1.2zM585.2 419.3h1.2v1.2h-1.2zM586.5 432.6h1.2v1.2h-1.2zM586 438.5h1.2v1.2h-1.2zM583.4 427.2h1.2v1.2h-1.2zM585 433.2h1.2v1.2h-1.2zM585.3 438.2h1.2v1.2h-1.2zM579.8 426.1h1.2v1.2h-1.2zM586.7 438.5h1.2v1.2h-1.2zM586.9 434.9h1.2v1.2h-1.2zM584.9 433.8h1.2v1.2h-1.2zM584 427.4h1.2v1.2h-1.2zM581.8 441.5h1.2v1.2h-1.2zM586.3 434.7h1.2v1.2h-1.2zM585.5 441.1h1.2v1.2h-1.2zM584.4 439.2h1.2v1.2h-1.2zM585.7 433.4h1.2v1.2h-1.2zM585.3 421.3h1.2v1.2h-1.2zM586.2 429h1.2v1.2h-1.2zM589.7 444.7h1.2v1.2h-1.2zM587.1 444.4h1.2v1.2h-1.2zM586.3 441h1.2v1.2h-1.2zM585.1 431.3h1.2v1.2h-1.2zM585.5 425.4h1.2v1.2h-1.2zM582.9 420h1.2v1.2h-1.2zM587.1 437.3h1.2v1.2h-1.2zM583.9 421.3h1.2v1.2h-1.2zM586.3 439h1.2v1.2h-1.2zM585.2 440.8h1.2v1.2h-1.2zM583.9 443.4h1.2v1.2h-1.2zM583.7 422.2h1.2v1.2h-1.2zM585.8 441.6h1.2v1.2h-1.2zM584.3 438.1h1.2v1.2h-1.2zM583.5 425.5h1.2v1.2h-1.2zM581.1 434.9h1.2v1.2h-1.2zM582 426.1h1.2v1.2h-1.2zM581.9 427.5h1.2v1.2h-1.2zM584.2 427.6h1.2v1.2h-1.2zM583.3 437.3h1.2v1.2h-1.2zM584.5 433.2h1.2v1.2h-1.2zM587.6 443.8h1.2v1.2h-1.2zM584.2 447h1.2v1.2h-1.2zM586.5 440.4h1.2v1.2h-1.2zM586 442h1.2v1.2h-1.2zM584.5 440h1.2v1.2h-1.2zM582.2 435.7h1.2v1.2h-1.2zM581.7 435.9h1.2v1.2h-1.2zM586.3 432.1h1.2v1.2h-1.2zM582.7 424.6h1.2v1.2h-1.2zM587.4 432.8h1.2v1.2h-1.2zM587.5 439.8h1.2v1.2h-1.2zM586 439.1h1.2v1.2h-1.2zM583.8 422.4h1.2v1.2h-1.2zM586 424.4h1.2v1.2h-1.2zM584.1 417.3h1.2v1.2h-1.2zM582.9 429.2h1.2v1.2h-1.2zM584.5 421.9h1.2v1.2h-1.2zM583.2 427.2h1.2v1.2h-1.2zM585.2 422.9h1.2v1.2h-1.2zM586.7 417.4h1.2v1.2h-1.2z" fill="#000"/>
<path d="M586.8 415.7h1.2v1.2h-1.2zM583.5 416.3h1.2v1.2h-1.2zM584.6 414.3h1.2v1.2h-1.2zM578.9 414.2h1.2v1.2h-1.2zM585.1 415.5h1.2v1.2h-1.2zM577.5 416.6h1.2v1.2h-1.2zM582 417.1h1.2v1.2h-1.2zM582.3 415h1.2v1.2h-1.2zM581.8 417h1.2v1.2h-1.2zM587.8 416h1.2v1.2h-1.2zM587.1 417.3h1.2v1.2h-1.2zM579.7 415.5h1.2v1.2h-1.2zM581.8 416.2h1.2v1.2h-1.2zM579.6 415.4h1.2v1.2h-1.2zM583 415.8h1.2v1.2h-1.2zM581.9 415.4h1.2v1.2h-1.2zM586.1 412.7h1.2v1.2h-1.2zM584.5 417.9h1.2v1.2h-1.2zM584.2 415.6h1.2v1.2h-1.2zM581.2 417.5h1.2v1.2h-1.2zM587.5 417h1.2v1.2h-1.2zM584.5 415.5h1.2v1.2h-1.2zM584.9 415.6h1.2v1.2h-1.2zM586.6 415.2h1.2v1.2h-1.2zM584 414.3h1.2v1.2h-1.2zM578.4 416.5h1.2v1.2h-1.2zM586.3 416.5h1.2v1.2h-1.2zM585.6 414.8h1.2v1.2h-1.2zM577.6 416h1.2v1.2h-1.2zM579.2 417.6h1.2v1.2h-1.2zM581.9 416.1h1.2v1.2h-1.2zM581.8 415.7h1.2v1.2h-1.2zM586.4 415.6h1.2v1.2h-1.2zM581.5 414.2h1.2v1.2h-1.2zM583.7 415.9h1.2v1.2h-1.2zM577.8 415.7h1.2v1.2h-1.2zM588.9 413.7h1.2v1.2h-1.2zM581.4 417.4h1.2v1.2h-1.2zM579.9 417.8h1.2v1.2h-1.2zM578.4 416.1h1.2v1.2h-1.2zM588.8 417.9h1.2v1.2h-1.2zM589.4 416.5h1.2v1.2h-1.2zM580.5 417.3h1.2v1.2h-1.2zM586.2 414.7h1.2v1.2h-1.2zM582.7 416.9h1.2v1.2h-1.2zM582.8 417.1h1.2v1.2h-1.2zM580.8 415.7h1.2v1.2h-1.2zM578.2 416.4h1.2v1.2h-1.2zM582.5 416.7h1.2v1.2h-1.2zM583.8 419.3h1.2v1.2h-1.2zM578.6 414.5h1.2v1.2h-1.2zM588.8 416.6h1.2v1.2h-1.2zM584.1 415.8h1.2v1.2h-1.2zM584.9 418.1h1.2v1.2h-1.2z" fill="#000"/>
<path d="M589.9 450h1v1h-1zM591.5 464.2h1v1h-1zM584.4 447.9h1v1h-1zM591.4 460.2h1v1h-1zM589.1 458.6h1v1h-1zM584 465.9h1v1h-1zM590.4 464.2h1v1h-1zM590.1 461.8h1v1h-1zM592 465.8h1v1h-1zM584.1 457.4h1v1h-1zM587.4 446.9h1v1h-1zM582.9 457.1h1v1h-1zM582.8 461.1h1v1h-1zM587.5 468.4h1v1h-1zM587.1 461.4h1v1h-1zM589.5 456.5h1v1h-1zM589.9 467h1v1h-1zM588.7 451.4h1v1h-1zM585.4 449.1h1v1h-1zM583.5 468.3h1v1h-1z" fill="#000"/>
<path d="M581.3 399.6h1v1h-1zM577.3 398h1v1h-1zM580.6 400.2h1v1h-1z" fill="#000"/>
<rect x="528.8" y="343.6" width="130.4" height="130.3" fill="none" stroke="#000" stroke-width="1.3"/>
<path d="M576.6 343.6V473.9M528.8 419.7H659.2" stroke="#000" stroke-width="1.3" fill="none"/>
<path d="M528.8 473.9v4.5M528.8 473.9h-4.5M535.1 473.9v4.2M528.8 467.6h-4.2M538.8 473.9v4.2M528.8 463.9h-4.2M541.5 473.9v4.2M528.8 461.2h-4.2M543.5 473.9v4.2M528.8 459.2h-4.2M545.2 473.9v4.2M528.8 457.5h-4.2M546.6 473.9v4.2M528.8 456.1h-4.2M547.8 473.9v4.2M528.8 454.9h-4.2M548.9 473.9v4.2M528.8 453.8h-4.2M549.8 473.9v4.5M528.8 452.9h-4.5M556.2 473.9v4.2M528.8 446.6h-4.2M559.9 473.9v4.2M528.8 442.9h-4.2M562.5 473.9v4.2M528.8 440.2h-4.2M564.5 473.9v4.2M528.8 438.2h-4.2M566.2 473.9v4.2M528.8 436.5h-4.2M567.6 473.9v4.2M528.8 435.1h-4.2M568.8 473.9v4.2M528.8 433.9h-4.2M569.9 473.9v4.2M528.8 432.8h-4.2M570.9 473.9v4.5M528.8 431.9h-4.5M577.2 473.9v4.2M528.8 425.5h-4.2M580.9 473.9v4.2M528.8 421.8h-4.2M583.5 473.9v4.2M528.8 419.2h-4.2M585.6 473.9v4.2M528.8 417.2h-4.2M587.2 473.9v4.2M528.8 415.5h-4.2M588.6 473.9v4.2M528.8 414.1h-4.2M589.9 473.9v4.2M528.8 412.9h-4.2M590.9 473.9v4.2M528.8 411.8h-4.2M591.9 473.9v4.5M528.8 410.9h-4.5M598.2 473.9v4.2M528.8 404.5h-4.2M601.9 473.9v4.2M528.8 400.8h-4.2M604.6 473.9v4.2M528.8 398.2h-4.2M606.6 473.9v4.2M528.8 396.2h-4.2M608.3 473.9v4.2M528.8 394.5h-4.2M609.7 473.9v4.2M528.8 393.1h-4.2M610.9 473.9v4.2M528.8 391.9h-4.2M612 473.9v4.2M528.8 390.8h-4.2M612.9 473.9v4.5M528.8 389.8h-4.5M619.3 473.9v4.2M528.8 383.5h-4.2M623 473.9v4.2M528.8 379.8h-4.2M625.6 473.9v4.2M528.8 377.2h-4.2M627.6 473.9v4.2M528.8 375.1h-4.2M629.3 473.9v4.2M528.8 373.5h-4.2M630.7 473.9v4.2M528.8 372.1h-4.2M631.9 473.9v4.2M528.8 370.9h-4.2M633 473.9v4.2M528.8 369.8h-4.2M634 473.9v4.5M528.8 368.8h-4.5M640.3 473.9v4.2M528.8 362.5h-4.2M644 473.9v4.2M528.8 358.8h-4.2M646.6 473.9v4.2M528.8 356.2h-4.2M648.7 473.9v4.2M528.8 354.1h-4.2M650.3 473.9v4.2M528.8 352.5h-4.2M651.7 473.9v4.2M528.8 351.1h-4.2M653 473.9v4.2M528.8 349.8h-4.2M654 473.9v4.2M528.8 348.8h-4.2M655 473.9v4.5M528.8 347.8h-4.5M659.2 473.9v4.5M528.8 343.6h-4.5" stroke="#000" stroke-width="1" fill="none"/>
<text x="528.6" y="486.9" class="tl" text-anchor="middle">ω<tspan class="sup" dy="-1.5">1</tspan></text><text transform="translate(520.5 474.2) rotate(-90)" class="tl" text-anchor="middle">ω<tspan class="sup" dy="-1.5">1</tspan></text><text x="549.6" y="486.9" class="tl" text-anchor="middle">ω<tspan class="sup" dy="-1.5">2</tspan></text><text transform="translate(520.5 453.2) rotate(-90)" class="tl" text-anchor="middle">ω<tspan class="sup" dy="-1.5">2</tspan></text><text x="570.7" y="486.9" class="tl" text-anchor="middle">ω<tspan class="sup" dy="-1.5">3</tspan></text><text transform="translate(520.5 432.2) rotate(-90)" class="tl" text-anchor="middle">ω<tspan class="sup" dy="-1.5">3</tspan></text><text x="591.7" y="486.9" class="tl" text-anchor="middle">ω<tspan class="sup" dy="-1.5">4</tspan></text><text transform="translate(520.5 411.2) rotate(-90)" class="tl" text-anchor="middle">ω<tspan class="sup" dy="-1.5">4</tspan></text><text x="612.7" y="486.9" class="tl" text-anchor="middle">ω<tspan class="sup" dy="-1.5">5</tspan></text><text transform="translate(520.5 390.1) rotate(-90)" class="tl" text-anchor="middle">ω<tspan class="sup" dy="-1.5">5</tspan></text><text x="633.8" y="486.9" class="tl" text-anchor="middle">ω<tspan class="sup" dy="-1.5">6</tspan></text><text transform="translate(520.5 369.1) rotate(-90)" class="tl" text-anchor="middle">ω<tspan class="sup" dy="-1.5">6</tspan></text><text x="659" y="486.9" class="tl" text-anchor="middle">ω<tspan class="sup" dy="-1.5">7.2</tspan></text><text transform="translate(520.5 343.9) rotate(-90)" class="tl" text-anchor="middle">ω<tspan class="sup" dy="-1.5">7.2</tspan></text>
<text x="544.3" y="358.8" class="qn">0.17</text>
<text x="624" y="358.8" class="qn">0.36</text>
<text x="623.8" y="435.7" class="qn">1.17</text>
<text x="12" y="14.4" class="ser" font-size="21">A</text>
<text x="352.2" y="14.4" class="ser" font-size="21">B</text>
<text x="104" y="22.6" class="ser" font-size="15.2" text-anchor="middle">Control</text>
<text x="434.2" y="22.9" class="ser" font-size="15.2" text-anchor="middle">Control</text>
<text x="262.8" y="23.6" class="ser" font-size="15.2" font-style="italic" text-anchor="middle" style="stroke-width:0.65px">M.tb</text>
<text x="592.8" y="24.7" class="ser" font-size="15.2" font-style="italic" text-anchor="middle">M.tb</text>
<text x="660.7" y="82.5" class="ser" font-size="15">7d</text>
<text x="658.6" y="241.9" class="ser" font-size="15">14d</text>
<text x="661.5" y="393.6" class="ser" font-size="15">21d</text>
<path d="M14.5 487.3V290M27.1 493.5H223" stroke="#000" stroke-width="2.2" fill="none"/>
<path d="M10.6 296.6L14.5 289.1L18.4 296.6M218 489.6L225.4 493.5L218 497.4" stroke="#000" stroke-width="2.2" fill="none" stroke-linecap="round" stroke-linejoin="miter"/>
<path d="M14.5 287.8L12.2 293.3H16.8ZM226.5 493.5L221 491.2V495.8Z" fill="#000"/>
<text transform="translate(11.1 480.1) rotate(-90)" class="ser" font-size="14.4">TNF-α</text>
<text x="36.7" y="509.5" class="ser" font-size="14.5">IFN-γ</text>
<path d="M73.3 569.5V732.4H318.7" stroke="#000" stroke-width="2" fill="none"/>
<text x="66.8" y="736.4" class="sb" font-size="11" text-anchor="end">0</text>
<text x="66.8" y="703.8" class="sb" font-size="11" text-anchor="end">1</text>
<text x="66.8" y="671.2" class="sb" font-size="11" text-anchor="end">2</text>
<text x="66.8" y="638.6" class="sb" font-size="11" text-anchor="end">3</text>
<text x="66.8" y="606" class="sb" font-size="11" text-anchor="end">4</text>
<text x="66.8" y="573.4" class="sb" font-size="11" text-anchor="end">5</text>
<text x="113.9" y="750.3" class="sb" font-size="12" text-anchor="middle">7d</text>
<text x="195.4" y="750.3" class="sb" font-size="12" text-anchor="middle">14d</text>
<text x="277" y="750.3" class="sb" font-size="12" text-anchor="middle">21d</text>
<path d="M69.3 732.4H73.3M69.3 699.8H73.3M69.3 667.2H73.3M69.3 634.6H73.3M69.3 602H73.3M69.3 569.4H73.3M113.9 732.4v5M195.4 732.4v5M277 732.4v5" stroke="#000" stroke-width="2" fill="none"/>
<rect x="88.2" y="731.4" width="20.1" height="1" rx="1.5" fill="#000"/>
<path d="M128.8 730.1V729.1" stroke="#000" stroke-width="2" fill="none"/><path d="M123.8 730.4H133.8" stroke="#000" stroke-width="2.6" fill="none"/>
<rect x="118" y="730.1" width="21.6" height="2.3" rx="1.5" fill="#9b9b9b"/>
<path d="M180.1 682.5V679.3" stroke="#000" stroke-width="2" fill="none"/><path d="M175.1 680.6H185.1" stroke="#000" stroke-width="2.6" fill="none"/>
<rect x="168.9" y="682.5" width="22.3" height="49.9" rx="1.5" fill="#000"/>
<path d="M210.6 681.2V678.6" stroke="#000" stroke-width="2" fill="none"/><path d="M205.6 679.9H215.6" stroke="#000" stroke-width="2.6" fill="none"/>
<rect x="199.3" y="681.2" width="22.6" height="51.2" rx="1.5" fill="#9b9b9b"/>
<path d="M261.6 598.4V578.2" stroke="#000" stroke-width="2" fill="none"/><path d="M256.6 579.5H266.6" stroke="#000" stroke-width="2.6" fill="none"/>
<rect x="250.4" y="598.4" width="22.3" height="134" rx="1.5" fill="#000"/>
<path d="M292.3 607.2V591.2" stroke="#000" stroke-width="2" fill="none"/><path d="M287.3 592.5H297.3" stroke="#000" stroke-width="2.6" fill="none"/>
<rect x="281" y="607.2" width="22.6" height="125.2" rx="1.5" fill="#9b9b9b"/>
<path d="M403.2 569.6V733.3H648.7" stroke="#000" stroke-width="2" fill="none"/>
<text x="396.7" y="737.3" class="sb" font-size="11" text-anchor="end">0</text>
<text x="396.7" y="682.7" class="sb" font-size="11" text-anchor="end">2</text>
<text x="396.7" y="628.1" class="sb" font-size="11" text-anchor="end">4</text>
<text x="396.7" y="573.5" class="sb" font-size="11" text-anchor="end">6</text>
<text x="443.7" y="750.3" class="sb" font-size="12" text-anchor="middle">7d</text>
<text x="525.3" y="750.3" class="sb" font-size="12" text-anchor="middle">14d</text>
<text x="607" y="750.3" class="sb" font-size="12" text-anchor="middle">21d</text>
<path d="M399.2 733.3H403.2M399.2 678.7H403.2M399.2 624.1H403.2M399.2 569.5H403.2M443.7 733.3v5M525.3 733.3v5M607 733.3v5" stroke="#000" stroke-width="2" fill="none"/>
<path d="M428.6 729.8V727.8" stroke="#000" stroke-width="2" fill="none"/><path d="M423.6 729.1H433.6" stroke="#000" stroke-width="2.6" fill="none"/>
<rect x="417.4" y="729.8" width="22.5" height="3.5" rx="1.5" fill="#000"/>
<path d="M458.8 732.5V732.2" stroke="#000" stroke-width="2" fill="none"/><path d="M453.8 733.5H463.8" stroke="#000" stroke-width="2.6" fill="none"/>
<rect x="448" y="732.5" width="21.5" height="0.8" rx="1.5" fill="#9b9b9b"/>
<path d="M510.6 673.8V665" stroke="#000" stroke-width="2" fill="none"/><path d="M505.6 666.3H515.5" stroke="#000" stroke-width="2.6" fill="none"/>
<rect x="499.5" y="673.8" width="22.1" height="59.5" rx="1.5" fill="#000"/>
<path d="M540.8 698.6V695.9" stroke="#000" stroke-width="2" fill="none"/><path d="M535.8 697.2H545.8" stroke="#000" stroke-width="2.6" fill="none"/>
<rect x="529.6" y="698.6" width="22.3" height="34.7" rx="1.5" fill="#9b9b9b"/>
<path d="M591.9 590.5V577.7" stroke="#000" stroke-width="2" fill="none"/><path d="M586.9 579H596.9" stroke="#000" stroke-width="2.6" fill="none"/>
<rect x="580.7" y="590.5" width="22.3" height="142.8" rx="1.5" fill="#000"/>
<path d="M622.3 721.6V716.6" stroke="#000" stroke-width="2" fill="none"/><path d="M617.3 717.9H627.3" stroke="#000" stroke-width="2.6" fill="none"/>
<rect x="611" y="721.6" width="22.6" height="11.7" rx="1.5" fill="#9b9b9b"/>
<text x="541.3" y="695.5" class="sb" font-size="13" text-anchor="middle">*</text>
<text x="623.1" y="713.3" class="sb" font-size="13" text-anchor="middle">***</text>
<rect x="105.3" y="575.6" width="19.5" height="10" rx="1.5" fill="#000"/>
<rect x="105.3" y="594.6" width="19.5" height="10" rx="1.5" fill="#9b9b9b"/>
<text x="133.8" y="585.6" class="sn" font-size="13">Cotrol</text>
<text x="133.8" y="604.6" class="sn" font-size="13" font-style="italic">M.tb</text>
<rect x="435.6" y="576" width="19.5" height="10" rx="1.5" fill="#000"/>
<rect x="435.6" y="595" width="19.5" height="10" rx="1.5" fill="#9b9b9b"/>
<text x="464.1" y="586" class="sn" font-size="13">Cotrol</text>
<text x="464.1" y="605" class="sn" font-size="13" font-style="italic">M.tb</text>
<text x="24.5" y="541.5" class="ser" font-size="19">C</text>
<text x="354" y="542" class="ser" font-size="19">D</text>
<text transform="translate(50.5 763.7) rotate(-90)" class="sb" font-size="13.5" textLength="226" lengthAdjust="spacingAndGlyphs">% TNE-α<tspan dy="-5" font-size="9">+</tspan><tspan dy="5">IFN-γ</tspan><tspan dy="-5" font-size="9">+</tspan><tspan dy="5">CD4 + lymphocytes</tspan></text>
<text transform="translate(381.5 765) rotate(-90)" class="sb" font-size="13.5" textLength="226" lengthAdjust="spacingAndGlyphs">% TNE-α<tspan dy="-5" font-size="9">+</tspan><tspan dy="5">IFN-γ</tspan><tspan dy="-5" font-size="9">+</tspan><tspan dy="5">CD4 + lymphocytes</tspan></text>
</svg></body></html>
